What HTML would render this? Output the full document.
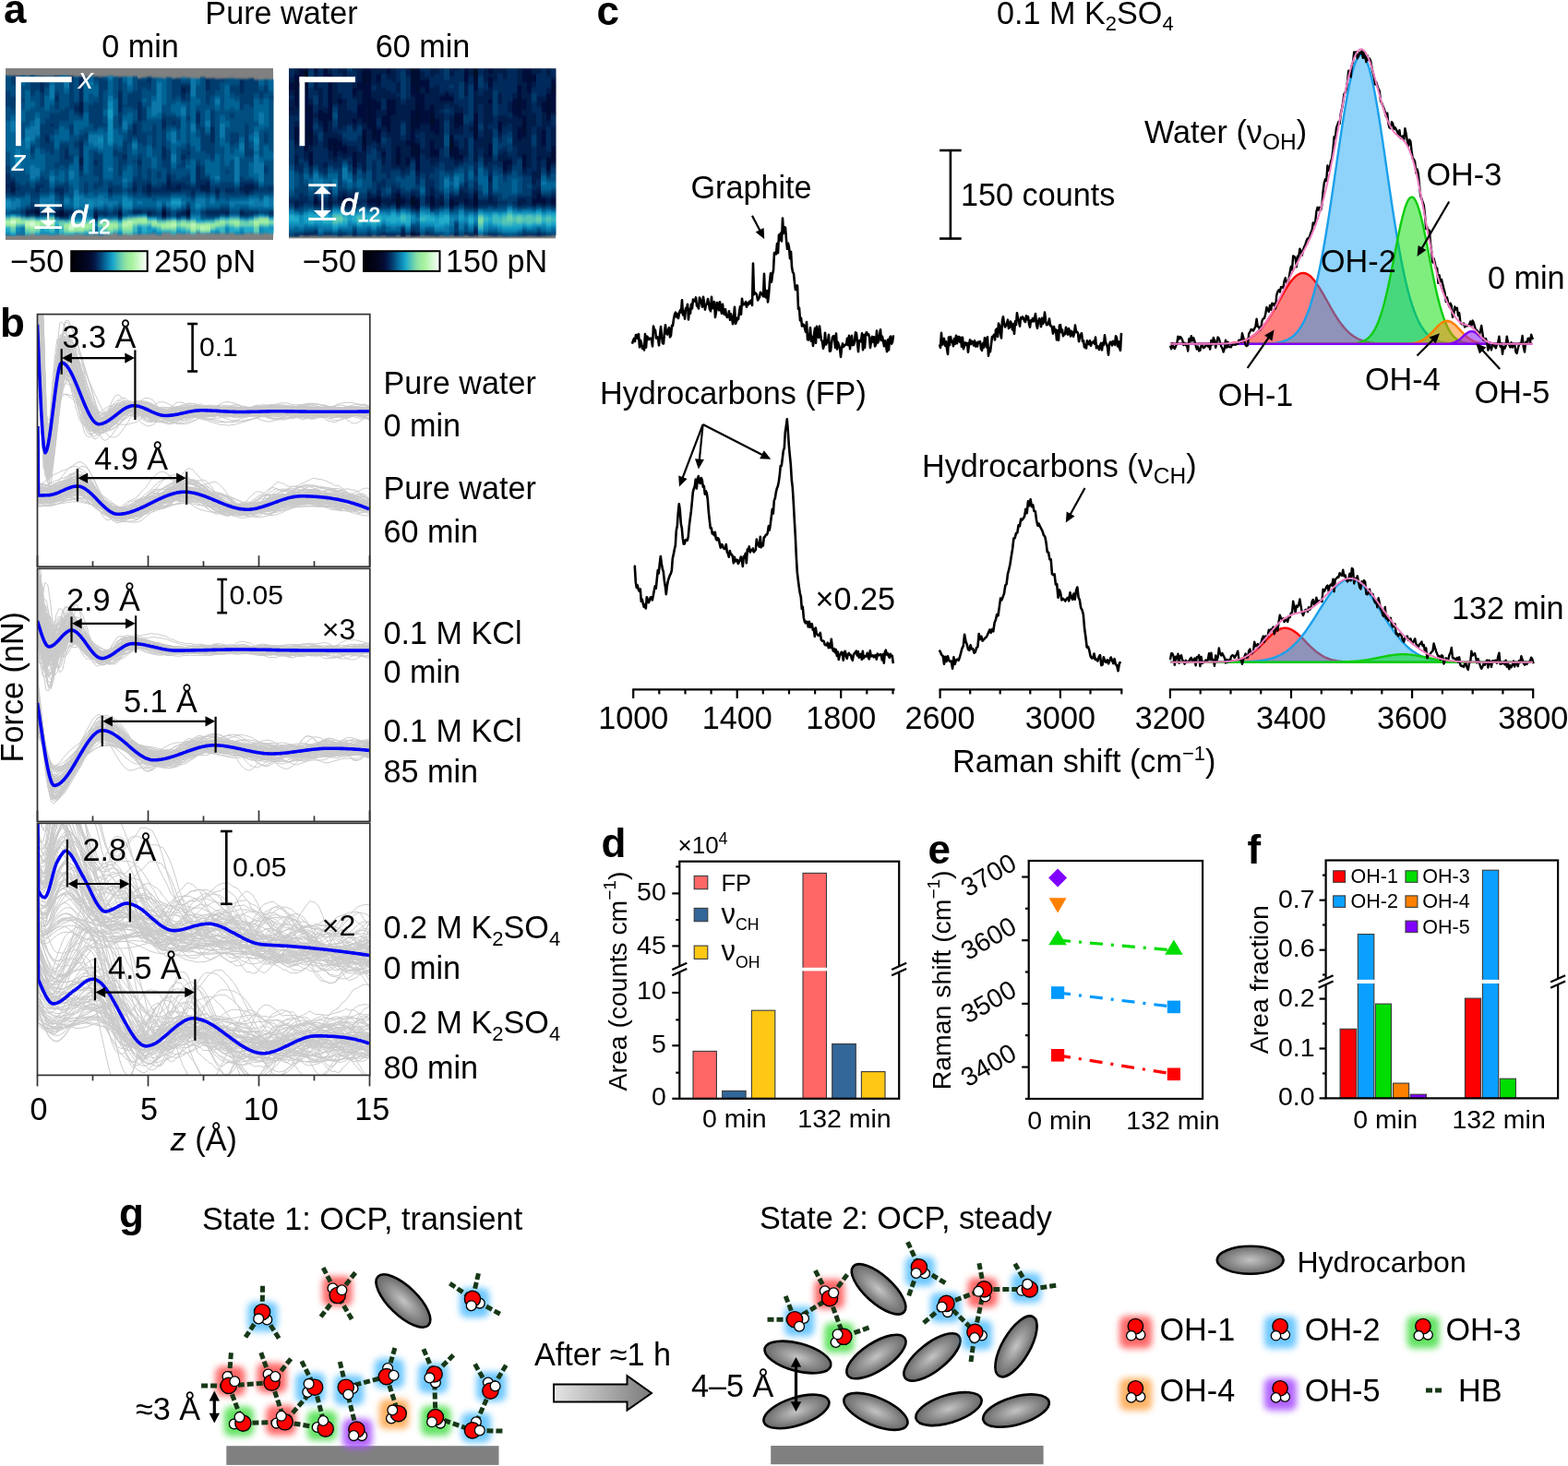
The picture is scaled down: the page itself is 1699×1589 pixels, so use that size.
<!DOCTYPE html>
<html><head><meta charset="utf-8"><title>Figure</title>
<style>html,body{margin:0;padding:0;background:#fff;width:1699px;height:1589px;overflow:hidden}svg{display:block}</style>
</head><body>
<svg width="1699" height="1589" viewBox="0 0 1699 1589" font-family="Liberation Sans, Arial, sans-serif">
<defs><filter id="hablur" x="0" y="0" width="1" height="1"><feGaussianBlur stdDeviation="0.5 1.3"/></filter>
<filter id="hbblur" x="0" y="0" width="1" height="1"><feGaussianBlur stdDeviation="0.5 1.3"/></filter>
<linearGradient id="cbar" x1="0" y1="0" x2="1" y2="0"><stop offset="0.000" stop-color="#000006"/><stop offset="0.050" stop-color="#00010c"/><stop offset="0.100" stop-color="#010313"/><stop offset="0.150" stop-color="#02051a"/><stop offset="0.200" stop-color="#030723"/><stop offset="0.250" stop-color="#040b31"/><stop offset="0.300" stop-color="#041644"/><stop offset="0.350" stop-color="#032d5f"/><stop offset="0.400" stop-color="#054a7c"/><stop offset="0.450" stop-color="#076b9d"/><stop offset="0.500" stop-color="#0e8ab7"/><stop offset="0.550" stop-color="#1aa8cd"/><stop offset="0.600" stop-color="#42bcbd"/><stop offset="0.650" stop-color="#67cfaf"/><stop offset="0.700" stop-color="#88e0a4"/><stop offset="0.750" stop-color="#9ceba0"/><stop offset="0.800" stop-color="#a8f2a0"/><stop offset="0.850" stop-color="#bef6b9"/><stop offset="0.900" stop-color="#d4fad2"/><stop offset="0.950" stop-color="#e9fce8"/><stop offset="1.000" stop-color="#ffffff"/></linearGradient>
<clipPath id="cb0"><rect x="40.5" y="340.6" width="360.3" height="273.6"/></clipPath>
<clipPath id="cb1"><rect x="40.5" y="616.3" width="360.3" height="274.1"/></clipPath>
<clipPath id="cb2"><rect x="40.5" y="892.3" width="360.3" height="273.1"/></clipPath>
<path id="gc0_0" d="M30 316.5l10.5 33 1 27 3 67 3 42.5 3 3 3 -14 3 -22 3 -24 3 -21 3 -12 3 -0.5 3 2 3 3.5 3 4.5 3 6 3 6.5 3 7.5 3 7 3 7 3 6 3 5 3 4 3 2.5 3 0.5 3 0 3 -1 3 -1 3 -1.5 3 -1.5 3 -2 3 -2.5 3 -2 3 -2 3 -1.5 3 -1.5 3 -0.5 3 0.5 3 1 3 1.5 3 1.5 3 1.5 3 1 3 0.5 3 1 3 0 3 0 3 -1 3 0 3 -0.5 3 -0.5 3 0.5 3 0 3 0 3 0 3 -0.5 3 -1 3 -1 3 -1 3 -1 3 -0.5 3 0 3 0.5 3 1 3 1 3 1 3 0 3 0 3 -0.5 3 -0.5 3 -0.5 3 -0.5 3 -0.5 3 0.5 3 0 3 0 3 0 3 0 3 0 3 0 3 0 3 -0.5 3 0 3 0 3 0 3 0 3 0 3 0 3 0.5 3 0 3 1 3 0 3 0.5 3 0 3 -0.5 3 -1 3 -0.5 3 -1 3 -1 3 -0.5 3 -0.5 3 0 3 0 3 0.5 3 0.5 3 0.5 3 0.5 3 0.5 3 0.5 3 0 3 0.5 3 0.5 3 0 3 0.5 3 1 3 0 3 0.5 3 0 3 -0.5 3 0 3 -0.5 3 -0.5 3 0 3 0 3 0.5 3 0.5 3 0 3 0 3 -0.5 3 -0.5 3 -1 3 -1 3 -0.5 3 0 3 0 3 0 3 0.5 3 0.5 3 0.5 3 0.5 3 0.5 3 0 3 0 3 0.5 3 0 3 -0.5 3 -0.5 3 0 3 -1 3 0 3 -0.5 3 -0.5 3 0.5 3 0 3 0 3 0 3 -0.5 3 0 3 0 3 -0.5 3 0 3 -0.5 3 0.5 3 0.5 3 1 3 1 3 1 3 1 3 1 3 0.5 3 0.5 3 0 3 0 3 0.5 3 -0.5" vector-effect="non-scaling-stroke"/>
<path id="gc0_1" d="M30 316l10.5 42.5 1 17.5 3 68 3 43 3 2.5 3 -14 3 -22 3 -24.5 3 -21.5 3 -12.5 3 -1 3 2 3 4 3 4.5 3 6 3 7 3 7 3 7.5 3 7.5 3 7 3 6 3 4 3 2 3 0 3 -1.5 3 -2 3 -2 3 -2 3 -1.5 3 -1.5 3 -1 3 -1.5 3 -1.5 3 -1.5 3 -1 3 -0.5 3 0.5 3 0.5 3 1.5 3 1.5 3 2 3 1 3 1.5 3 0.5 3 0 3 0 3 -1 3 -1 3 -1 3 -1 3 -0.5 3 -1 3 -0.5 3 -0.5 3 0 3 0 3 -0.5 3 0.5 3 0 3 0 3 -0.5 3 0 3 0 3 0 3 -0.5 3 0.5 3 0 3 0.5 3 0.5 3 0.5 3 0 3 0 3 0.5 3 0 3 -0.5 3 -0.5 3 -0.5 3 0 3 -0.5 3 0 3 -0.5 3 0.5 3 0 3 -0.5 3 0 3 -0.5 3 0.5 3 0 3 0.5 3 0.5 3 0.5 3 1 3 0.5 3 0.5 3 0.5 3 0 3 0.5 3 0.5 3 0 3 0 3 0 3 0 3 -0.5 3 -0.5 3 -1 3 -1 3 -1 3 -0.5 3 -0.5 3 0 3 0 3 0 3 1 3 0.5 3 0.5 3 0 3 0 3 0 3 -0.5 3 0 3 0 3 -0.5 3 0 3 0 3 0 3 0.5 3 0.5 3 1.5 3 1.5 3 1.5 3 1 3 1 3 0 3 -0.5 3 -1 3 -1 3 -1 3 -1.5 3 -0.5 3 0 3 -0.5 3 1 3 0.5 3 0.5 3 0.5 3 0.5 3 0 3 0 3 0 3 0 3 0 3 -0.5 3 -0.5 3 0 3 -0.5 3 -0.5 3 -0.5 3 0 3 -0.5 3 0.5 3 0.5 3 1 3 0.5 3 0.5 3 0.5 3 0.5 3 -0.5 3 0 3 -1 3 0 3 -0.5 3 -0.5 3 -0.5 3 -0.5" vector-effect="non-scaling-stroke"/>
<path id="gc0_2" d="M30 315l10.5 54.5 1 5.5 3 67.5 3 43 3 2.5 3 -14.5 3 -22 3 -24.5 3 -21 3 -12 3 -0.5 3 3 3 4 3 5.5 3 6.5 3 6.5 3 7.5 3 7.5 3 7.5 3 7 3 6 3 5 3 3 3 0.5 3 -1 3 -1.5 3 -2.5 3 -2 3 -2.5 3 -2.5 3 -1.5 3 -2 3 -2 3 -1.5 3 -1.5 3 -1 3 -0.5 3 0 3 0.5 3 0.5 3 0.5 3 1 3 1 3 0.5 3 1 3 0.5 3 1 3 0.5 3 0.5 3 0 3 0 3 -0.5 3 -1 3 -1 3 -1 3 -1 3 -0.5 3 0 3 0.5 3 0 3 1 3 0.5 3 0 3 0.5 3 0 3 0 3 -0.5 3 0 3 -0.5 3 0 3 -0.5 3 0.5 3 0 3 0 3 0.5 3 0.5 3 1 3 0.5 3 0 3 0 3 0 3 0 3 -0.5 3 -0.5 3 0 3 -0.5 3 0 3 0 3 0 3 0 3 0.5 3 0 3 0 3 0.5 3 -0.5 3 0 3 0 3 0 3 -0.5 3 -0.5 3 0 3 -0.5 3 -0.5 3 0 3 0 3 0 3 -0.5 3 0 3 0.5 3 0 3 0 3 0 3 0 3 0 3 0.5 3 0.5 3 1 3 0.5 3 1 3 0.5 3 0.5 3 0 3 0 3 -0.5 3 0 3 -0.5 3 -0.5 3 -1 3 -0.5 3 -1 3 -1 3 -1 3 -0.5 3 0 3 0 3 0 3 0.5 3 0.5 3 0.5 3 0.5 3 0.5 3 0 3 0 3 0.5 3 0 3 0 3 -0.5 3 0 3 0 3 0 3 0.5 3 0 3 0.5 3 1 3 0 3 0.5 3 0.5 3 -0.5 3 0 3 0 3 0 3 -0.5 3 0 3 0 3 -0.5 3 0 3 -0.5 3 -0.5 3 -0.5 3 0 3 0.5 3 0 3 0.5 3 0.5" vector-effect="non-scaling-stroke"/>
<path id="gc0_3" d="M30 318.5l10.5 51.5 1 8.5 3 68 3 43.5 3 3.5 3 -14 3 -22 3 -24.5 3 -22 3 -13.5 3 -2 3 1 3 3 3 5 3 6 3 7.5 3 7.5 3 8 3 7.5 3 6.5 3 5.5 3 4.5 3 2.5 3 0.5 3 -0.5 3 -1.5 3 -1.5 3 -2.5 3 -2.5 3 -2 3 -2 3 -1 3 -1 3 -1 3 -0.5 3 -0.5 3 -1 3 -0.5 3 -1 3 0 3 0 3 1 3 1 3 1 3 1.5 3 1 3 1 3 0.5 3 0.5 3 -0.5 3 0 3 -0.5 3 -1 3 -1 3 -1 3 -0.5 3 -0.5 3 0 3 -0.5 3 0 3 0 3 0 3 0.5 3 0 3 0.5 3 1 3 0.5 3 0.5 3 0 3 0 3 -0.5 3 0 3 0 3 0 3 0.5 3 0.5 3 1 3 0.5 3 0.5 3 0 3 -0.5 3 -1 3 -1 3 -1 3 -1.5 3 -1 3 -1 3 -0.5 3 -0.5 3 0 3 0 3 0.5 3 1 3 1 3 0.5 3 0.5 3 1 3 0 3 0.5 3 0 3 0.5 3 0 3 0 3 0.5 3 0.5 3 0 3 0 3 0 3 0 3 0 3 -0.5 3 0 3 -0.5 3 0 3 0 3 0.5 3 1 3 1 3 1 3 0.5 3 0 3 -0.5 3 -1 3 -1.5 3 -2 3 -1.5 3 -1 3 -1 3 -0.5 3 -0.5 3 0.5 3 0.5 3 0 3 0.5 3 1 3 0.5 3 1 3 1 3 0.5 3 0.5 3 1 3 0 3 -0.5 3 -0.5 3 -0.5 3 -1 3 -1 3 -1 3 -1 3 0 3 0.5 3 1 3 1 3 1 3 0.5 3 0.5 3 -0.5 3 0 3 -0.5 3 0 3 0.5 3 0.5 3 0.5 3 0.5 3 0 3 0 3 -0.5 3 -0.5 3 0 3 0 3 1 3 1 3 1 3 0.5" vector-effect="non-scaling-stroke"/>
<path id="gc0_4" d="M30 316l10.5 56.5 1 3.5 3 67 3 42 3 2.5 3 -14.5 3 -22 3 -24.5 3 -20.5 3 -12.5 3 0 3 2.5 3 4 3 5 3 6 3 7 3 7 3 7.5 3 7.5 3 7 3 6 3 5 3 3 3 1 3 -0.5 3 -1 3 -1.5 3 -2.5 3 -2.5 3 -2.5 3 -3 3 -3 3 -2.5 3 -2 3 -1 3 -0.5 3 0 3 0.5 3 0.5 3 1 3 1.5 3 1 3 1 3 1 3 1 3 0 3 0 3 -0.5 3 0 3 0 3 0 3 0.5 3 0.5 3 0 3 0.5 3 0 3 0 3 0 3 0 3 0.5 3 0 3 0.5 3 0 3 0 3 0 3 -0.5 3 0 3 -0.5 3 -1 3 -0.5 3 -0.5 3 -0.5 3 0 3 -0.5 3 0 3 -0.5 3 0 3 0 3 -0.5 3 0 3 0 3 -0.5 3 0 3 0.5 3 0.5 3 1 3 1 3 1 3 1.5 3 1 3 0.5 3 0.5 3 0 3 0 3 0 3 0 3 -0.5 3 -0.5 3 0 3 -0.5 3 0 3 0 3 0 3 0.5 3 0 3 0.5 3 0 3 -0.5 3 -0.5 3 -0.5 3 -1 3 -0.5 3 -1 3 0 3 0.5 3 0.5 3 0.5 3 0.5 3 0 3 0 3 0 3 -0.5 3 0 3 0 3 0.5 3 0.5 3 0.5 3 0.5 3 0.5 3 0.5 3 -0.5 3 0 3 0 3 -0.5 3 0 3 -0.5 3 0 3 -0.5 3 0 3 -0.5 3 -0.5 3 -1 3 -0.5 3 -0.5 3 0 3 -0.5 3 0.5 3 0 3 0 3 0 3 -0.5 3 0 3 -0.5 3 -0.5 3 0 3 -0.5 3 0 3 0 3 0 3 0 3 0 3 0.5 3 0 3 0 3 0.5 3 0 3 0 3 0.5 3 0 3 -0.5 3 0.5 3 0 3 0 3 0.5" vector-effect="non-scaling-stroke"/>
<path id="gc0_5" d="M30 310.5l10.5 36.5 1 23.5 3 68 3 43.5 3 4 3 -13 3 -20.5 3 -23.5 3 -20.5 3 -12 3 -1 3 2 3 3.5 3 5 3 6 3 7 3 8 3 8 3 8 3 7 3 6 3 4.5 3 2.5 3 0 3 -1.5 3 -2.5 3 -2.5 3 -3 3 -3.5 3 -2.5 3 -2 3 -2 3 -1 3 -0.5 3 -0.5 3 0.5 3 0 3 0.5 3 0.5 3 0.5 3 1 3 1 3 1 3 1 3 1 3 0.5 3 0.5 3 0 3 -0.5 3 -1 3 -0.5 3 -1 3 -0.5 3 -0.5 3 -1 3 -0.5 3 -0.5 3 -0.5 3 0.5 3 0 3 1 3 0.5 3 1 3 1 3 1 3 1 3 0.5 3 0.5 3 1 3 0.5 3 0.5 3 0.5 3 0.5 3 0.5 3 0 3 0 3 0.5 3 -0.5 3 0 3 -0.5 3 -0.5 3 -0.5 3 -0.5 3 -0.5 3 -0.5 3 -0.5 3 -1 3 -0.5 3 -1 3 -1 3 -0.5 3 -0.5 3 -0.5 3 0 3 0 3 0.5 3 0 3 0.5 3 0 3 0.5 3 0 3 -0.5 3 -0.5 3 -0.5 3 0 3 0 3 -0.5 3 0.5 3 0.5 3 1 3 0.5 3 0.5 3 1 3 0 3 0 3 0 3 0.5 3 -0.5 3 0 3 0 3 -0.5 3 0 3 -0.5 3 -0.5 3 -0.5 3 -1 3 -0.5 3 -1 3 -0.5 3 -0.5 3 0 3 0.5 3 0.5 3 1 3 1 3 0.5 3 1 3 0 3 0 3 -0.5 3 -0.5 3 -0.5 3 0 3 0 3 0 3 0.5 3 0.5 3 0.5 3 0.5 3 0 3 -0.5 3 -0.5 3 -1 3 -0.5 3 0 3 -0.5 3 0.5 3 0 3 0.5 3 1 3 0 3 0.5 3 0 3 0 3 -0.5 3 -0.5 3 -0.5 3 0.5 3 0 3 0.5 3 0.5 3 0.5 3 0.5 3 0.5" vector-effect="non-scaling-stroke"/>
<path id="gc0_6" d="M30 317l10.5 45.5 1 14.5 3 68.5 3 44 3 3.5 3 -13 3 -22 3 -24.5 3 -21.5 3 -13 3 -2 3 1.5 3 2.5 3 4.5 3 5.5 3 6.5 3 7.5 3 8 3 7.5 3 7 3 6 3 5.5 3 2.5 3 1 3 -1 3 -2 3 -2 3 -2.5 3 -3 3 -2.5 3 -2 3 -2 3 -1 3 -1.5 3 -0.5 3 -0.5 3 0 3 0 3 0.5 3 0.5 3 0.5 3 1 3 1 3 1 3 1.5 3 1 3 1.5 3 1.5 3 1 3 1 3 0.5 3 -0.5 3 -0.5 3 -1 3 -2 3 -1.5 3 -2 3 -2 3 -1.5 3 -1 3 -0.5 3 -0.5 3 0.5 3 0.5 3 1 3 0.5 3 1 3 0.5 3 0 3 0 3 0.5 3 0 3 0.5 3 1 3 0.5 3 0 3 -0.5 3 -0.5 3 -0.5 3 -1 3 -1 3 -0.5 3 -1 3 0 3 -0.5 3 -0.5 3 -1 3 0 3 0 3 0 3 0 3 0.5 3 0.5 3 0.5 3 0 3 0.5 3 0 3 0.5 3 0 3 1 3 0 3 0.5 3 0.5 3 0 3 0.5 3 0 3 0.5 3 0 3 0 3 0.5 3 0 3 -0.5 3 -0.5 3 -0.5 3 -1 3 -0.5 3 -0.5 3 0.5 3 0 3 1 3 0.5 3 0.5 3 0 3 0 3 -0.5 3 0 3 0 3 0.5 3 0.5 3 1 3 1 3 1.5 3 0.5 3 0.5 3 0.5 3 0 3 -0.5 3 -1 3 -1 3 -1 3 -1 3 -1 3 -1 3 -0.5 3 -0.5 3 -0.5 3 0 3 0 3 0.5 3 0.5 3 0.5 3 1 3 1 3 1 3 0.5 3 0.5 3 0 3 0 3 -0.5 3 -0.5 3 -0.5 3 -0.5 3 0 3 0 3 0.5 3 0.5 3 1 3 1 3 0.5 3 0 3 0 3 -0.5 3 -1 3 -1" vector-effect="non-scaling-stroke"/>
<path id="gc0_7" d="M30 314l10.5 47.5 1 12.5 3 66.5 3 42.5 3 2.5 3 -14 3 -21.5 3 -24 3 -20.5 3 -12 3 -0.5 3 2 3 4.5 3 5.5 3 6.5 3 7 3 7 3 6.5 3 7 3 5.5 3 4.5 3 4 3 2 3 1 3 0.5 3 0 3 0 3 -1 3 -0.5 3 -1.5 3 -2.5 3 -3.5 3 -3 3 -3.5 3 -2.5 3 -2 3 -0.5 3 0.5 3 1.5 3 1.5 3 2.5 3 1.5 3 1.5 3 1.5 3 1 3 1 3 1 3 0.5 3 1 3 0.5 3 0.5 3 -0.5 3 -0.5 3 -0.5 3 -1 3 -1 3 -1 3 -0.5 3 -0.5 3 -1 3 -1 3 -1 3 -1 3 -1.5 3 -0.5 3 0 3 0 3 0.5 3 1 3 1 3 1 3 1 3 1 3 1 3 0.5 3 0.5 3 0.5 3 0.5 3 0 3 0 3 -0.5 3 -1 3 -0.5 3 -1 3 -0.5 3 -0.5 3 -0.5 3 0.5 3 0.5 3 0.5 3 0.5 3 1 3 0.5 3 0.5 3 -0.5 3 -0.5 3 -1 3 -1.5 3 -1 3 -1 3 -0.5 3 -0.5 3 0.5 3 0.5 3 0.5 3 0.5 3 0.5 3 0 3 -0.5 3 -0.5 3 -0.5 3 -1 3 0 3 0 3 0 3 0.5 3 0.5 3 0.5 3 0.5 3 1 3 0 3 1 3 0.5 3 1 3 0.5 3 0 3 0 3 0 3 -0.5 3 -0.5 3 -0.5 3 -1 3 -0.5 3 -0.5 3 -0.5 3 -0.5 3 -0.5 3 0 3 0.5 3 0 3 0.5 3 0.5 3 0.5 3 0 3 0 3 0 3 -0.5 3 0 3 0 3 0 3 0 3 0.5 3 0 3 0 3 0 3 -0.5 3 -0.5 3 -1 3 -1 3 -1 3 -0.5 3 -0.5 3 0.5 3 0.5 3 1.5 3 1.5 3 1.5 3 1.5 3 1.5 3 1 3 1 3 1 3 1 3 0.5" vector-effect="non-scaling-stroke"/>
<path id="gc0_8" d="M30 312l10.5 39 1 21 3 67.5 3 42.5 3 2.5 3 -14.5 3 -22 3 -24 3 -21 3 -11.5 3 -0.5 3 3 3 4 3 5 3 6 3 6.5 3 6.5 3 6.5 3 7 3 7 3 6 3 5.5 3 4 3 2.5 3 0.5 3 0 3 -1 3 -2.5 3 -2.5 3 -3 3 -3.5 3 -3.5 3 -3 3 -3 3 -1.5 3 -0.5 3 0.5 3 1 3 2.5 3 2.5 3 2.5 3 2 3 1.5 3 2 3 1 3 0.5 3 0 3 0 3 -0.5 3 -0.5 3 -1 3 -1 3 -1 3 -1 3 -1.5 3 -1.5 3 -1.5 3 -1.5 3 -1 3 -1 3 -0.5 3 0 3 0.5 3 0.5 3 1 3 1.5 3 1 3 1.5 3 1.5 3 1 3 1.5 3 1 3 0.5 3 0.5 3 0 3 -0.5 3 -0.5 3 -1 3 -1 3 -1 3 -1 3 -1 3 -0.5 3 0 3 -0.5 3 0 3 0 3 0.5 3 0 3 -0.5 3 0 3 0 3 -0.5 3 -0.5 3 -0.5 3 0 3 0 3 0 3 -0.5 3 -0.5 3 -0.5 3 -0.5 3 0 3 0 3 0 3 1 3 1 3 1 3 0.5 3 0.5 3 0.5 3 0 3 0 3 -0.5 3 -0.5 3 -0.5 3 -0.5 3 -0.5 3 -0.5 3 -1 3 0 3 0 3 0.5 3 0.5 3 1 3 1 3 1.5 3 1 3 1 3 0.5 3 0.5 3 0 3 0 3 0 3 0 3 0 3 -0.5 3 0 3 -1 3 -1 3 -1 3 -0.5 3 0 3 0 3 1 3 1 3 1 3 0.5 3 0 3 -0.5 3 -1 3 -1 3 -1.5 3 -0.5 3 -1 3 -0.5 3 -0.5 3 0 3 1 3 0.5 3 1 3 1.5 3 1 3 1.5 3 1 3 0.5 3 0 3 -0.5 3 0 3 0 3 0 3 -0.5 3 0.5 3 -0.5" vector-effect="non-scaling-stroke"/>
<path id="gc0_9" d="M30 316l10.5 38.5 1 21.5 3 68 3 44 3 3.5 3 -13.5 3 -21.5 3 -24.5 3 -21.5 3 -13.5 3 -2.5 3 0.5 3 2.5 3 4.5 3 5.5 3 6 3 7.5 3 7.5 3 7 3 6.5 3 5.5 3 4.5 3 2.5 3 0.5 3 -1 3 -2 3 -1 3 -1.5 3 -1.5 3 -1 3 -1 3 -1 3 -1 3 -1 3 -1 3 -1 3 0 3 0.5 3 1.5 3 1 3 1.5 3 1.5 3 1 3 0.5 3 0 3 0 3 0 3 0 3 0 3 0.5 3 0 3 0.5 3 0 3 0 3 -0.5 3 -0.5 3 -0.5 3 -1 3 -0.5 3 -1 3 -0.5 3 -0.5 3 0 3 -0.5 3 0 3 0 3 0.5 3 1 3 0.5 3 1 3 0.5 3 0.5 3 0 3 0 3 -1 3 -0.5 3 -1 3 -1 3 -1 3 -1 3 -0.5 3 -0.5 3 0 3 -0.5 3 0.5 3 0 3 0.5 3 0.5 3 1 3 0.5 3 0.5 3 0 3 0 3 -0.5 3 -1 3 -1 3 -1 3 -0.5 3 0.5 3 1 3 1.5 3 1.5 3 1.5 3 1 3 0.5 3 0.5 3 -0.5 3 -0.5 3 -0.5 3 -0.5 3 -0.5 3 -0.5 3 -0.5 3 0 3 0 3 0.5 3 0.5 3 0.5 3 1 3 1 3 1 3 0 3 1 3 0 3 0 3 0 3 -0.5 3 -0.5 3 -0.5 3 -0.5 3 -1 3 -1.5 3 -1 3 -1 3 -1 3 0 3 0 3 1 3 0.5 3 0.5 3 0.5 3 0 3 -0.5 3 -0.5 3 0 3 -1 3 0 3 -0.5 3 0 3 0 3 0 3 1 3 0.5 3 1 3 0.5 3 0.5 3 0.5 3 0 3 0 3 -1 3 -0.5 3 -1 3 -1 3 -0.5 3 -1 3 -0.5 3 -0.5 3 0 3 0 3 0 3 0.5 3 1 3 1 3 1.5" vector-effect="non-scaling-stroke"/>
<path id="gc0_10" d="M30 317l10.5 43 1 17 3 67.5 3 42 3 2.5 3 -14.5 3 -22.5 3 -24.5 3 -21.5 3 -12.5 3 -1 3 2 3 3.5 3 5.5 3 7 3 7.5 3 8.5 3 8.5 3 7.5 3 7 3 6 3 4 3 2 3 0 3 -1 3 -2 3 -2.5 3 -2.5 3 -2.5 3 -2.5 3 -2.5 3 -1.5 3 -2 3 -1 3 -1 3 0 3 0 3 0.5 3 0.5 3 1 3 1 3 1 3 1.5 3 0.5 3 0.5 3 0.5 3 0 3 0 3 0 3 0.5 3 1 3 0.5 3 0 3 -0.5 3 -1 3 -1 3 -1 3 -1 3 -0.5 3 0 3 0 3 0 3 0 3 -0.5 3 -1 3 -1 3 -0.5 3 -0.5 3 0 3 1 3 0.5 3 1 3 0.5 3 0.5 3 0 3 0 3 -0.5 3 0 3 0 3 0 3 0 3 1 3 0.5 3 1 3 0.5 3 0 3 0.5 3 0 3 -0.5 3 0 3 -0.5 3 -0.5 3 0 3 -0.5 3 -0.5 3 -1 3 0 3 -0.5 3 0.5 3 0 3 0 3 1 3 0.5 3 0.5 3 0.5 3 0 3 0 3 0 3 -0.5 3 -0.5 3 0 3 -1 3 -0.5 3 0 3 -0.5 3 0 3 0.5 3 0 3 0.5 3 1 3 0.5 3 0.5 3 1 3 0 3 0 3 0.5 3 -0.5 3 0 3 -0.5 3 0 3 -0.5 3 0 3 0 3 0 3 0 3 -0.5 3 0 3 -0.5 3 -0.5 3 0 3 -1 3 -0.5 3 0 3 -0.5 3 0.5 3 0.5 3 0.5 3 0.5 3 0 3 0.5 3 0 3 -0.5 3 0.5 3 0 3 0.5 3 0 3 0.5 3 -0.5 3 0 3 -0.5 3 -0.5 3 -1 3 -1 3 -0.5 3 0 3 -0.5 3 0 3 0 3 -0.5 3 0 3 0 3 0 3 0.5 3 0.5" vector-effect="non-scaling-stroke"/>
<path id="gc0_11" d="M30 318l10.5 55.5 1 4.5 3 67 3 42 3 2 3 -14.5 3 -22.5 3 -25 3 -22 3 -13 3 -1 3 1.5 3 4 3 5 3 7 3 7.5 3 8 3 8 3 8 3 7 3 6 3 4.5 3 3 3 0.5 3 -1 3 -1.5 3 -2 3 -2.5 3 -2.5 3 -2.5 3 -2.5 3 -2.5 3 -2 3 -1 3 -1.5 3 -0.5 3 0.5 3 0.5 3 1.5 3 1 3 1.5 3 1.5 3 1.5 3 1 3 1.5 3 1 3 1 3 1 3 0.5 3 0.5 3 0.5 3 0 3 -0.5 3 -0.5 3 -0.5 3 -0.5 3 -0.5 3 -1 3 -1 3 -1 3 -0.5 3 -1 3 -0.5 3 -0.5 3 -0.5 3 0.5 3 0 3 0.5 3 0.5 3 0 3 0.5 3 0 3 0 3 0 3 0 3 0 3 0.5 3 -0.5 3 -0.5 3 -0.5 3 -0.5 3 -0.5 3 -0.5 3 0 3 0.5 3 1 3 0.5 3 0.5 3 0.5 3 0.5 3 1 3 0 3 0 3 -0.5 3 -0.5 3 -1 3 -1 3 -1 3 -0.5 3 0 3 0 3 0.5 3 0.5 3 0 3 0.5 3 0 3 -0.5 3 -0.5 3 -1 3 -0.5 3 -1 3 0.5 3 0 3 1 3 1 3 1.5 3 1 3 0.5 3 0.5 3 -0.5 3 -0.5 3 -0.5 3 -0.5 3 0 3 0 3 0.5 3 0 3 0 3 0 3 0 3 0 3 0.5 3 1 3 1 3 1.5 3 1.5 3 1 3 1 3 0 3 -0.5 3 -1 3 -1 3 -1.5 3 -1.5 3 -1.5 3 -1 3 -0.5 3 -0.5 3 0 3 -0.5 3 0 3 0 3 -0.5 3 -0.5 3 -0.5 3 0 3 -0.5 3 -0.5 3 0 3 -0.5 3 0 3 0 3 0.5 3 0.5 3 1 3 0.5 3 0.5 3 1 3 0.5 3 0.5 3 0.5 3 0 3 0.5 3 0.5" vector-effect="non-scaling-stroke"/>
<path id="gc0_12" d="M30 314.5l10.5 45 1 15 3 68 3 43 3 3 3 -13.5 3 -22 3 -24.5 3 -21.5 3 -12.5 3 -1.5 3 2 3 3 3 5 3 6 3 6.5 3 7.5 3 7 3 6.5 3 6.5 3 5 3 4 3 3 3 1 3 0.5 3 0 3 -0.5 3 -0.5 3 -1.5 3 -1.5 3 -2.5 3 -2 3 -3 3 -2.5 3 -2 3 -1.5 3 -1 3 0.5 3 0.5 3 1.5 3 2 3 2 3 2.5 3 2.5 3 1.5 3 2 3 0.5 3 0.5 3 -1 3 -0.5 3 -1.5 3 -1 3 -1.5 3 -1 3 -0.5 3 0 3 -0.5 3 -0.5 3 0 3 0 3 0.5 3 0.5 3 0 3 1 3 1 3 0.5 3 1 3 0.5 3 0.5 3 0.5 3 0 3 -0.5 3 -0.5 3 -1.5 3 -1 3 -1.5 3 -1.5 3 -0.5 3 -0.5 3 0 3 0.5 3 0.5 3 0.5 3 1 3 0 3 0.5 3 0 3 0 3 0.5 3 0 3 0 3 0 3 -0.5 3 0 3 -1 3 -0.5 3 -0.5 3 -0.5 3 0 3 0 3 0.5 3 0 3 0.5 3 -0.5 3 -0.5 3 -0.5 3 -1 3 -0.5 3 0 3 0 3 0.5 3 0 3 0.5 3 0.5 3 0 3 0.5 3 1 3 0 3 0.5 3 0.5 3 0 3 0 3 0 3 -0.5 3 0 3 0 3 0 3 0 3 0 3 0 3 -0.5 3 -1 3 -1.5 3 -1 3 -0.5 3 0 3 0 3 1 3 1.5 3 1.5 3 1 3 1 3 1 3 0 3 0 3 0 3 -0.5 3 0 3 -0.5 3 -0.5 3 -0.5 3 -1 3 -1 3 -0.5 3 -1 3 -0.5 3 -1 3 0 3 0 3 0.5 3 1 3 1 3 1 3 1.5 3 1.5 3 1 3 0.5 3 0.5 3 -0.5 3 -0.5 3 -0.5 3 -1 3 -1 3 -0.5" vector-effect="non-scaling-stroke"/>
<path id="gc0_13" d="M30 319l10.5 58.5 1 1.5 3 66.5 3 42 3 1.5 3 -14.5 3 -22.5 3 -24 3 -20.5 3 -11.5 3 -0.5 3 2.5 3 4 3 5.5 3 6 3 7 3 7 3 7.5 3 7.5 3 6.5 3 5.5 3 4 3 2 3 0 3 -1.5 3 -1.5 3 -2.5 3 -2.5 3 -2.5 3 -3 3 -2 3 -2 3 -1.5 3 -1.5 3 -0.5 3 0 3 0.5 3 1 3 1.5 3 1 3 1.5 3 1.5 3 2 3 1.5 3 2 3 1 3 1 3 0.5 3 0 3 -0.5 3 -1 3 -1 3 -1 3 -0.5 3 -1 3 -0.5 3 0 3 0 3 0.5 3 -0.5 3 0 3 0 3 -0.5 3 0 3 -0.5 3 0 3 0 3 0 3 0 3 0 3 0.5 3 0 3 0 3 0 3 -0.5 3 0 3 0 3 0 3 0 3 0 3 -0.5 3 -0.5 3 -0.5 3 -1 3 -1 3 -1 3 0 3 -0.5 3 0 3 0 3 0 3 0 3 0.5 3 1 3 0.5 3 1 3 1 3 1 3 1 3 0.5 3 0 3 0 3 -1 3 -0.5 3 -1 3 -1 3 0 3 0 3 0.5 3 0.5 3 0.5 3 0.5 3 -0.5 3 -0.5 3 -1.5 3 -1 3 -1 3 0 3 0 3 0.5 3 1.5 3 1.5 3 1.5 3 1 3 1 3 0.5 3 0.5 3 0 3 0 3 0 3 -0.5 3 -0.5 3 -0.5 3 0 3 -1 3 -0.5 3 -1 3 -1 3 -0.5 3 -0.5 3 0 3 0 3 1 3 0.5 3 1.5 3 1 3 1 3 0.5 3 0 3 -0.5 3 -0.5 3 -1 3 -0.5 3 -0.5 3 -0.5 3 -0.5 3 0 3 0.5 3 0 3 0 3 0 3 -0.5 3 -1 3 -1 3 -0.5 3 -1 3 -0.5 3 0 3 0 3 0.5 3 0.5 3 1 3 0.5 3 1.5" vector-effect="non-scaling-stroke"/>
<path id="gc1_0" d="M30 479l10.5 32.5 1 27.5 3 -1 3 -1 3 -1 3 -1 3 -1.5 3 -1 3 -0.5 3 -1 3 -0.5 3 -0.5 3 -1 3 -1 3 -1 3 -1 3 0 3 1 3 1.5 3 2.5 3 3 3 3 3 3.5 3 3 3 3.5 3 2.5 3 2.5 3 2 3 1.5 3 1 3 0.5 3 0 3 -0.5 3 -0.5 3 -1.5 3 -1.5 3 -2 3 -2 3 -2.5 3 -2 3 -1.5 3 -1.5 3 -0.5 3 0 3 0 3 0 3 0 3 0 3 -1.5 3 -1.5 3 -2 3 -2.5 3 -2 3 -1.5 3 -0.5 3 0.5 3 2 3 1.5 3 2 3 2 3 1.5 3 1.5 3 1.5 3 1 3 1.5 3 1.5 3 1 3 1.5 3 1.5 3 1.5 3 1.5 3 1 3 1 3 0.5 3 0 3 -1 3 -0.5 3 -1.5 3 -1.5 3 -2 3 -2.5 3 -3 3 -2 3 -2 3 -1.5 3 -1 3 0.5 3 0.5 3 1 3 0.5 3 0 3 0 3 -0.5 3 -1 3 -0.5 3 -1 3 -0.5 3 -1 3 0 3 0.5 3 0 3 0.5 3 0.5 3 1 3 0.5 3 1 3 0 3 1 3 1 3 1 3 2 3 1 3 1.5 3 1 3 1 3 1 3 1 3 0.5 3 0.5 3 0.5 3 0 3 -0.5 3 -1.5 3 -0.5 3 -0.5 3 0 3 1.5 3 1 3 1.5 3 1 3 1 3 0 3 0 3 0 3 -1 3 -0.5 3 -1 3 -1 3 -1 3 -1 3 0 3 0.5 3 1 3 1 3 1 3 1 3 0.5 3 0 3 0 3 -1 3 -1.5 3 -1 3 -2 3 -1.5 3 -1 3 -0.5 3 1 3 1 3 2.5 3 2 3 1.5 3 1 3 0 3 0 3 -1.5 3 -1.5 3 -1 3 -1 3 -0.5 3 -1 3 0 3 0 3 0.5 3 0" vector-effect="non-scaling-stroke"/>
<path id="gc1_1" d="M30 481l10.5 58.5 1 1.5 3 0.5 3 1 3 0.5 3 0 3 -0.5 3 -1.5 3 -2 3 -2.5 3 -2 3 -2.5 3 -1.5 3 -1.5 3 -1.5 3 -0.5 3 0 3 1 3 1.5 3 2.5 3 3.5 3 3 3 3.5 3 3 3 2.5 3 2.5 3 2 3 1.5 3 1 3 0.5 3 0 3 0 3 -1 3 -1 3 -1.5 3 -1 3 -1 3 -1 3 -0.5 3 -1 3 -1 3 -0.5 3 -1.5 3 -1.5 3 -1.5 3 -1.5 3 -1 3 -1 3 -1.5 3 -1 3 -0.5 3 -1 3 0 3 0 3 0.5 3 0.5 3 0.5 3 0.5 3 0 3 0.5 3 0 3 0 3 0.5 3 1 3 1.5 3 1.5 3 2.5 3 2 3 2.5 3 2 3 1 3 1.5 3 0 3 0.5 3 0 3 0.5 3 0 3 0.5 3 0 3 0 3 0 3 -1 3 -1.5 3 -1.5 3 -2 3 -1.5 3 -1 3 -1.5 3 -1.5 3 -1.5 3 -1 3 -1.5 3 -1.5 3 -1.5 3 -1.5 3 0 3 0.5 3 1 3 1 3 1.5 3 1 3 0.5 3 0 3 0 3 -0.5 3 0 3 1.5 3 2 3 2 3 2 3 2 3 1 3 0.5 3 0 3 -1 3 -1 3 -1 3 -1 3 0 3 0 3 1 3 1 3 0.5 3 1 3 2 3 1 3 1 3 1 3 0.5 3 0.5 3 0.5 3 0 3 0.5 3 0.5 3 0 3 0 3 0.5 3 -0.5 3 0.5 3 0.5 3 0.5 3 0.5 3 0 3 0.5 3 -0.5 3 -0.5 3 -1.5 3 -1.5 3 -2 3 -1.5 3 -1 3 -1 3 -1 3 -0.5 3 0 3 0.5 3 0.5 3 0.5 3 0.5 3 1 3 0.5 3 0 3 -0.5 3 -1 3 -1 3 -0.5 3 0 3 0 3 0 3 1 3 0.5 3 0.5 3 0.5 3 0.5" vector-effect="non-scaling-stroke"/>
<path id="gc1_2" d="M30 477l10.5 48.5 1 11.5 3 0 3 0.5 3 0.5 3 0 3 -0.5 3 -1.5 3 -2 3 -2.5 3 -2 3 -2 3 -2 3 -0.5 3 -0.5 3 0.5 3 1 3 1 3 2 3 2 3 2.5 3 3 3 3 3 3 3 3 3 2.5 3 1.5 3 1 3 0.5 3 0 3 0.5 3 0.5 3 1 3 1.5 3 1.5 3 0.5 3 0.5 3 -1 3 -1.5 3 -1.5 3 -1 3 -1.5 3 -0.5 3 -0.5 3 0.5 3 0 3 0 3 -1 3 -1 3 -2.5 3 -2.5 3 -2.5 3 -2.5 3 -2.5 3 -1.5 3 -0.5 3 -0.5 3 1 3 0.5 3 2 3 1.5 3 2 3 3 3 2.5 3 2.5 3 3 3 1.5 3 2 3 0 3 0 3 -0.5 3 -1 3 -1 3 -0.5 3 -0.5 3 -0.5 3 -0.5 3 0 3 -1 3 -1 3 -0.5 3 -1.5 3 -1 3 -1 3 -1 3 -1 3 -0.5 3 0 3 0 3 1 3 1 3 1.5 3 1 3 0 3 -0.5 3 -0.5 3 -1.5 3 -1 3 -0.5 3 -0.5 3 0.5 3 0.5 3 1 3 0.5 3 0 3 0.5 3 0 3 -0.5 3 -1 3 0 3 -0.5 3 -0.5 3 -0.5 3 -0.5 3 -1 3 -0.5 3 -1 3 -0.5 3 0 3 1.5 3 2 3 2.5 3 1.5 3 2.5 3 2.5 3 2.5 3 2.5 3 1 3 0 3 0 3 -1.5 3 -1.5 3 -2 3 -0.5 3 0 3 1 3 1.5 3 1.5 3 1 3 0.5 3 -0.5 3 -0.5 3 -1.5 3 -1.5 3 -0.5 3 -1 3 0 3 0.5 3 0.5 3 1 3 0.5 3 1 3 0 3 0 3 -0.5 3 0 3 -0.5 3 -1 3 -0.5 3 -0.5 3 -0.5 3 0 3 -0.5 3 0.5 3 0 3 0 3 1 3 0.5 3 1 3 0.5 3 1.5 3 1 3 0 3 0.5" vector-effect="non-scaling-stroke"/>
<path id="gc1_3" d="M30 476.5l10.5 34.5 1 25.5 3 0 3 0 3 0 3 -0.5 3 0 3 -0.5 3 -0.5 3 -1 3 -1 3 -1.5 3 -1.5 3 -2 3 -1 3 -0.5 3 0.5 3 2 3 3 3 3 3 4 3 3 3 3.5 3 3 3 2 3 2.5 3 2 3 2.5 3 2 3 1.5 3 -0.5 3 0 3 -1.5 3 -2.5 3 -3 3 -3 3 -3 3 -1.5 3 -1 3 -0.5 3 -0.5 3 0 3 -0.5 3 0 3 -1 3 -1 3 -1 3 -1.5 3 -2 3 -1.5 3 -2 3 -1.5 3 -1 3 -1.5 3 -0.5 3 0 3 0 3 1 3 1.5 3 1 3 1.5 3 2 3 1.5 3 2 3 2 3 2 3 2 3 2.5 3 2.5 3 2 3 1 3 1 3 0 3 -1 3 -1 3 -0.5 3 -0.5 3 0 3 0.5 3 0.5 3 0.5 3 0 3 -0.5 3 -1 3 -1 3 -1 3 -1.5 3 -1.5 3 -1.5 3 -1 3 -1.5 3 -0.5 3 -1 3 -1 3 -1 3 -0.5 3 -1 3 0 3 -0.5 3 0.5 3 0 3 0.5 3 0.5 3 0 3 -0.5 3 -0.5 3 -1 3 -0.5 3 0 3 0.5 3 1 3 1.5 3 1.5 3 2 3 1.5 3 1.5 3 1 3 0.5 3 1.5 3 1.5 3 2 3 2 3 1 3 0.5 3 1 3 0.5 3 0.5 3 0 3 0 3 -0.5 3 -0.5 3 -1 3 -1 3 -1.5 3 -1.5 3 -0.5 3 -0.5 3 0.5 3 1 3 0.5 3 1 3 1 3 0.5 3 0.5 3 0 3 -0.5 3 -0.5 3 -0.5 3 -0.5 3 -0.5 3 0 3 0.5 3 0.5 3 1 3 1 3 0.5 3 0.5 3 -0.5 3 -1 3 -2 3 -2.5 3 -2 3 -2 3 -1.5 3 -0.5 3 0.5 3 1 3 1.5 3 1.5 3 1 3 1 3 0 3 0 3 0" vector-effect="non-scaling-stroke"/>
<path id="gc1_4" d="M30 481l10.5 35 1 25 3 1 3 0 3 0 3 -0.5 3 -1.5 3 -1.5 3 -2 3 -2 3 -2 3 -1 3 -1 3 -1.5 3 -0.5 3 -1 3 0 3 0 3 1 3 1 3 2 3 2 3 2.5 3 3 3 2 3 2.5 3 2.5 3 2.5 3 2 3 1.5 3 0.5 3 0.5 3 -0.5 3 -0.5 3 -0.5 3 -1 3 -1.5 3 -0.5 3 -1.5 3 -1.5 3 -1 3 -1.5 3 -1 3 -1 3 -0.5 3 -1 3 0 3 -1 3 -1 3 -0.5 3 -1.5 3 -1 3 -1 3 -1 3 -0.5 3 0 3 0.5 3 0.5 3 1 3 1.5 3 1.5 3 2 3 2 3 2 3 2 3 1.5 3 1 3 1 3 0.5 3 0 3 0 3 0.5 3 0.5 3 1.5 3 1.5 3 2 3 1.5 3 1.5 3 1 3 -0.5 3 -1.5 3 -1.5 3 -2.5 3 -3 3 -2 3 -2 3 -1.5 3 -1 3 -0.5 3 -0.5 3 -0.5 3 -0.5 3 -0.5 3 -0.5 3 -0.5 3 -0.5 3 -0.5 3 -0.5 3 0 3 -0.5 3 0 3 0 3 0.5 3 1 3 1 3 0.5 3 1.5 3 1 3 0.5 3 0.5 3 0.5 3 1 3 0.5 3 0.5 3 0.5 3 0.5 3 0 3 0.5 3 0.5 3 0.5 3 1 3 1 3 0 3 0.5 3 0 3 0.5 3 0 3 0 3 -0.5 3 -1 3 -1.5 3 -1 3 -1.5 3 -1.5 3 -0.5 3 0 3 1.5 3 1.5 3 2 3 2 3 1 3 0.5 3 0 3 0 3 -1 3 -1.5 3 -1 3 -1 3 0 3 0 3 0.5 3 1.5 3 1 3 1.5 3 1 3 0.5 3 -0.5 3 -1 3 -0.5 3 -1 3 -0.5 3 0 3 0.5 3 0.5 3 0.5 3 0.5 3 0.5 3 0 3 0.5 3 0.5 3 0.5 3 1 3 1 3 1" vector-effect="non-scaling-stroke"/>
<path id="gc1_5" d="M30 480l10.5 40 1 20 3 0 3 -0.5 3 -1 3 -1 3 -1 3 -2 3 -1.5 3 -1.5 3 -2 3 -1 3 -0.5 3 -1 3 -0.5 3 0 3 0 3 0.5 3 1.5 3 1.5 3 2 3 2.5 3 3 3 3.5 3 2.5 3 2.5 3 2.5 3 1.5 3 1 3 0.5 3 0.5 3 0.5 3 1.5 3 1.5 3 1 3 1 3 -0.5 3 -1.5 3 -2 3 -3 3 -3.5 3 -3 3 -3 3 -2 3 -1.5 3 -0.5 3 -1 3 -0.5 3 -1 3 -1 3 -1.5 3 -1.5 3 -1 3 -0.5 3 -0.5 3 0.5 3 0.5 3 0.5 3 1 3 1 3 0.5 3 1.5 3 2 3 2.5 3 3 3 2.5 3 2 3 2 3 1 3 0.5 3 0.5 3 0.5 3 0.5 3 0 3 0 3 -1 3 -1 3 -0.5 3 -1 3 -0.5 3 0.5 3 0.5 3 0.5 3 0 3 -0.5 3 -0.5 3 -0.5 3 -1.5 3 -1 3 -0.5 3 -0.5 3 -0.5 3 0 3 -0.5 3 0 3 -0.5 3 -0.5 3 -0.5 3 -0.5 3 -0.5 3 -0.5 3 -0.5 3 -0.5 3 -0.5 3 -1 3 -0.5 3 -1 3 -0.5 3 -1 3 0 3 1 3 0 3 1.5 3 1.5 3 1.5 3 1.5 3 2 3 2 3 1.5 3 1.5 3 1.5 3 1.5 3 0 3 0 3 0 3 0 3 0 3 -0.5 3 -0.5 3 -0.5 3 0 3 0 3 0 3 0 3 0 3 -0.5 3 0.5 3 0 3 0 3 0.5 3 0.5 3 0.5 3 1 3 0 3 0 3 0 3 0 3 0.5 3 0.5 3 0.5 3 1 3 1 3 0.5 3 0 3 -1 3 -1.5 3 -1.5 3 -2.5 3 -2 3 -2 3 -1.5 3 -1 3 -0.5 3 0.5 3 0.5 3 1 3 1.5 3 1.5 3 1.5 3 1.5 3 1 3 1 3 0.5 3 0" vector-effect="non-scaling-stroke"/>
<path id="gc1_6" d="M30 481.5l10.5 35.5 1 24.5 3 0 3 -1 3 -1.5 3 -1 3 -1 3 -0.5 3 -0.5 3 -1 3 -1 3 -1 3 -1.5 3 -2 3 -2 3 -2 3 -1.5 3 0 3 1 3 2.5 3 3 3 4.5 3 4 3 4 3 3.5 3 2.5 3 2.5 3 1.5 3 1.5 3 0.5 3 1 3 0 3 -0.5 3 -0.5 3 -0.5 3 -1 3 -1.5 3 -1 3 -1 3 -1.5 3 -1 3 -1.5 3 -1.5 3 -1.5 3 -1.5 3 -1 3 -1.5 3 -1 3 0 3 0 3 0.5 3 0 3 0.5 3 0 3 0.5 3 -0.5 3 -0.5 3 0 3 -0.5 3 1 3 1.5 3 1.5 3 2.5 3 2.5 3 2.5 3 2 3 1.5 3 1 3 1 3 1 3 0.5 3 0.5 3 0.5 3 0 3 0 3 -0.5 3 -0.5 3 -1.5 3 -1 3 -2 3 -1.5 3 -2.5 3 -2 3 -1.5 3 -1 3 -0.5 3 -0.5 3 0 3 -0.5 3 -0.5 3 -1 3 -1 3 -1 3 -1.5 3 -0.5 3 0 3 0 3 0 3 0 3 0.5 3 0.5 3 0 3 0.5 3 0.5 3 1 3 0.5 3 0.5 3 1 3 0 3 1 3 0.5 3 0.5 3 0.5 3 1.5 3 1.5 3 1.5 3 1.5 3 1 3 1.5 3 0.5 3 0.5 3 -1 3 -1.5 3 -1.5 3 -1 3 -0.5 3 0.5 3 0.5 3 1 3 1 3 0.5 3 0 3 0.5 3 -0.5 3 -0.5 3 -1 3 -1 3 -1.5 3 -1 3 -0.5 3 0.5 3 1.5 3 2.5 3 3 3 3 3 2.5 3 1.5 3 0.5 3 -0.5 3 -1 3 -1.5 3 -1.5 3 -1.5 3 -1 3 -0.5 3 -0.5 3 -0.5 3 -1 3 -1 3 -0.5 3 -0.5 3 -0.5 3 0 3 0.5 3 1 3 1 3 1 3 0 3 -0.5 3 -0.5 3 -0.5 3 -1 3 -0.5 3 0" vector-effect="non-scaling-stroke"/>
<path id="gc1_7" d="M30 472.5l10.5 49.5 1 10.5 3 -0.5 3 0 3 0 3 0.5 3 0.5 3 -0.5 3 0 3 -1 3 -2 3 -2 3 -2 3 -1.5 3 -0.5 3 0 3 0.5 3 2 3 2.5 3 3 3 3.5 3 3.5 3 3.5 3 4 3 4 3 3.5 3 3 3 2 3 2 3 1 3 0 3 -1 3 -0.5 3 -1.5 3 -0.5 3 -1.5 3 -1 3 -1 3 -1.5 3 -1 3 -1.5 3 -1 3 -1.5 3 -1 3 -1 3 -1.5 3 -1.5 3 -1.5 3 -1.5 3 -2 3 -2 3 -2 3 -1.5 3 -1.5 3 -1 3 -1 3 0 3 0 3 1 3 1.5 3 2 3 2.5 3 2 3 2 3 1.5 3 1.5 3 1.5 3 1.5 3 1 3 1 3 1.5 3 0.5 3 0 3 0.5 3 0 3 -0.5 3 -0.5 3 -0.5 3 -0.5 3 -0.5 3 -1 3 -0.5 3 -0.5 3 0 3 0 3 -0.5 3 -0.5 3 -1 3 -1 3 -0.5 3 -0.5 3 -0.5 3 -0.5 3 -1 3 0 3 -1 3 -0.5 3 -0.5 3 0.5 3 0 3 1 3 0.5 3 0.5 3 0 3 -0.5 3 0 3 -0.5 3 -1 3 -0.5 3 0 3 0.5 3 0.5 3 1 3 1.5 3 1.5 3 1.5 3 1.5 3 1.5 3 1 3 0.5 3 1 3 0.5 3 -0.5 3 0 3 0.5 3 0.5 3 1 3 1 3 1 3 1 3 0.5 3 0 3 -0.5 3 -1 3 -1 3 -0.5 3 -1 3 -0.5 3 0 3 -0.5 3 -0.5 3 -1 3 -1 3 -2 3 -1.5 3 -1 3 -0.5 3 0.5 3 1 3 1 3 2 3 2 3 1.5 3 1 3 1 3 0 3 -0.5 3 -1 3 -0.5 3 -0.5 3 0 3 1 3 1.5 3 2.5 3 2 3 2.5 3 2.5 3 1.5 3 1.5 3 0.5 3 0 3 -1 3 -1.5 3 -2" vector-effect="non-scaling-stroke"/>
<path id="gc1_8" d="M30 473.5l10.5 33.5 1 26.5 3 0.5 3 1 3 1 3 0.5 3 0.5 3 0.5 3 -0.5 3 -1 3 -0.5 3 -2 3 -2.5 3 -2 3 -1.5 3 -2 3 -1 3 1 3 2 3 3 3 3.5 3 4 3 3 3 3 3 2.5 3 1.5 3 1 3 1.5 3 1 3 1 3 0 3 0.5 3 1 3 0 3 0 3 -0.5 3 -0.5 3 -1 3 -1 3 -2 3 -1.5 3 -1.5 3 -1.5 3 -1.5 3 -1.5 3 -1.5 3 -2 3 -2 3 -2 3 -2 3 -1.5 3 -2 3 -0.5 3 0 3 0 3 0.5 3 1 3 0.5 3 1 3 0.5 3 0 3 0.5 3 0.5 3 1 3 1.5 3 2 3 2.5 3 2.5 3 3 3 2 3 1.5 3 1.5 3 0.5 3 0.5 3 -0.5 3 0 3 0 3 0 3 0.5 3 0.5 3 0 3 -0.5 3 0 3 -1 3 -2 3 -2.5 3 -2.5 3 -3 3 -2 3 -1 3 0 3 1 3 0.5 3 1.5 3 0.5 3 0.5 3 -0.5 3 -0.5 3 -0.5 3 -1 3 0 3 0 3 0.5 3 1 3 0 3 0.5 3 -0.5 3 0.5 3 -0.5 3 0.5 3 0.5 3 2 3 2.5 3 2 3 2.5 3 1.5 3 0.5 3 -0.5 3 -1 3 -1.5 3 -2 3 -1 3 -1 3 0 3 1 3 0.5 3 0.5 3 0.5 3 0.5 3 -0.5 3 0 3 0 3 -0.5 3 0.5 3 0.5 3 0 3 0.5 3 0.5 3 1 3 0.5 3 0.5 3 1 3 1 3 0 3 -0.5 3 -0.5 3 -1 3 -1 3 -1 3 0 3 -0.5 3 -0.5 3 0 3 -0.5 3 -0.5 3 -0.5 3 -0.5 3 -0.5 3 -0.5 3 0.5 3 0.5 3 0.5 3 0 3 0.5 3 0.5 3 1 3 1 3 1.5 3 1.5 3 1 3 1.5 3 0 3 0.5 3 -0.5" vector-effect="non-scaling-stroke"/>
<path id="gc1_9" d="M30 482l10.5 50.5 1 9.5 3 0 3 -0.5 3 -0.5 3 0 3 -0.5 3 -1 3 -1.5 3 -2 3 -2 3 -2 3 -1.5 3 -2 3 -0.5 3 0 3 0 3 1.5 3 1.5 3 2 3 2.5 3 3.5 3 4 3 3.5 3 4 3 3.5 3 2.5 3 1.5 3 0.5 3 -1 3 -2 3 -2.5 3 -1.5 3 -2 3 -1.5 3 -1.5 3 -0.5 3 -1 3 -0.5 3 -1.5 3 -2 3 -2 3 -1.5 3 -2.5 3 -2.5 3 -2 3 -1.5 3 -1.5 3 -0.5 3 0 3 1 3 1 3 1.5 3 1.5 3 1 3 0.5 3 1.5 3 1 3 1 3 1 3 1.5 3 0.5 3 1 3 0.5 3 0.5 3 -0.5 3 0 3 0.5 3 0.5 3 1 3 1 3 1 3 1.5 3 1 3 1 3 0 3 0.5 3 0 3 0 3 0.5 3 -0.5 3 -0.5 3 -0.5 3 -1 3 -1 3 -1.5 3 -1 3 -1 3 -0.5 3 -0.5 3 0 3 0.5 3 0.5 3 -0.5 3 0 3 -0.5 3 -0.5 3 -1 3 0 3 -0.5 3 0.5 3 0.5 3 0.5 3 0.5 3 0.5 3 0.5 3 0.5 3 -0.5 3 0 3 0 3 -1 3 -0.5 3 0 3 -0.5 3 0.5 3 1 3 1.5 3 2 3 2.5 3 2.5 3 2 3 0.5 3 -1 3 -1 3 -2 3 -1.5 3 -1 3 -0.5 3 1 3 1 3 1.5 3 2 3 2 3 1 3 0 3 -0.5 3 -1.5 3 -1 3 -2 3 -1.5 3 -0.5 3 0 3 0.5 3 1.5 3 1.5 3 1 3 1 3 0.5 3 0 3 -0.5 3 -1 3 -1 3 -1.5 3 -2 3 -1 3 -1.5 3 -1 3 0 3 1 3 2 3 2.5 3 2 3 1.5 3 1.5 3 -0.5 3 -0.5 3 -1 3 -1 3 -0.5 3 -0.5 3 0.5 3 0.5 3 0 3 0.5" vector-effect="non-scaling-stroke"/>
<path id="gc1_10" d="M30 469.5l10.5 43.5 1 16.5 3 0.5 3 0 3 1 3 0.5 3 0.5 3 0.5 3 0 3 0 3 -0.5 3 -1 3 -0.5 3 -1 3 -1 3 -1 3 -0.5 3 0 3 1 3 2 3 2.5 3 3 3 3.5 3 4.5 3 4.5 3 3.5 3 3 3 3 3 1.5 3 1.5 3 0.5 3 0 3 0 3 0.5 3 0 3 0 3 -0.5 3 -1 3 -2 3 -1.5 3 -2.5 3 -1.5 3 -2 3 -2 3 -2 3 -2 3 -3 3 -3 3 -3 3 -2.5 3 -2.5 3 -1 3 0 3 2 3 2 3 2.5 3 2.5 3 1.5 3 0.5 3 0.5 3 -1 3 -1.5 3 -1 3 -0.5 3 0.5 3 0.5 3 1.5 3 2.5 3 2 3 3 3 2.5 3 2.5 3 2 3 2 3 0.5 3 0 3 -0.5 3 -0.5 3 -1 3 -0.5 3 0 3 0 3 0.5 3 -1 3 -1 3 -2 3 -2.5 3 -3 3 -3.5 3 -3 3 -2.5 3 -1.5 3 -1.5 3 -1 3 0 3 0 3 0.5 3 1 3 1 3 1.5 3 2 3 2 3 2 3 1.5 3 0.5 3 1 3 0 3 0 3 0.5 3 0 3 0.5 3 1 3 1 3 1 3 1 3 0 3 0.5 3 0 3 0.5 3 0 3 0.5 3 1.5 3 0 3 0 3 0.5 3 0 3 0 3 -0.5 3 -0.5 3 -0.5 3 -0.5 3 -0.5 3 0 3 0 3 0.5 3 1 3 1 3 1 3 0.5 3 0.5 3 0.5 3 0 3 0.5 3 0 3 -1 3 0 3 -0.5 3 -1.5 3 -1.5 3 -1 3 -0.5 3 -0.5 3 -0.5 3 0.5 3 0 3 -0.5 3 0.5 3 0.5 3 -0.5 3 0.5 3 1 3 1 3 1 3 1 3 1 3 0.5 3 0.5 3 0 3 -0.5 3 -1 3 -1.5 3 -1 3 -1.5 3 -1.5" vector-effect="non-scaling-stroke"/>
<path id="gc1_11" d="M30 479l10.5 36 1 24 3 -1 3 -0.5 3 -1 3 -1 3 -0.5 3 -1 3 -1 3 -1 3 -1.5 3 -1.5 3 -1 3 -1 3 0 3 1 3 1 3 2 3 2 3 2.5 3 2.5 3 2 3 2.5 3 2 3 2.5 3 1.5 3 1.5 3 1 3 1 3 1 3 0.5 3 1 3 1.5 3 1.5 3 1 3 1 3 -0.5 3 -1 3 -2 3 -2 3 -2.5 3 -3 3 -2.5 3 -2.5 3 -2.5 3 -2 3 -1.5 3 -1.5 3 -2 3 -1.5 3 -1.5 3 -1 3 -1.5 3 -0.5 3 0.5 3 0.5 3 0.5 3 1 3 0 3 -0.5 3 -1 3 -1 3 -0.5 3 -0.5 3 1 3 2 3 2.5 3 3 3 4 3 3.5 3 4 3 2.5 3 2 3 1 3 0.5 3 -0.5 3 -1 3 -1 3 0 3 0 3 0.5 3 0.5 3 0.5 3 0 3 -0.5 3 -1.5 3 -2.5 3 -1.5 3 -2 3 -1.5 3 -0.5 3 -0.5 3 -0.5 3 0 3 -0.5 3 0 3 -1 3 -0.5 3 -0.5 3 0.5 3 0 3 1 3 1 3 1 3 1.5 3 1.5 3 1 3 1 3 1 3 0 3 -0.5 3 -0.5 3 -0.5 3 -1 3 0 3 0.5 3 0.5 3 1.5 3 2 3 2 3 2 3 1.5 3 0 3 -0.5 3 -0.5 3 -1 3 -0.5 3 -1 3 -1 3 -0.5 3 0 3 0 3 0.5 3 1 3 0.5 3 0 3 -0.5 3 -1 3 -1.5 3 -1.5 3 -1.5 3 -1.5 3 -0.5 3 0 3 1 3 1 3 1.5 3 1 3 1.5 3 1 3 0 3 -0.5 3 -0.5 3 -1 3 -0.5 3 0 3 0 3 0.5 3 1.5 3 1 3 1.5 3 1.5 3 1 3 1 3 0.5 3 0.5 3 -0.5 3 -0.5 3 -1 3 -0.5 3 -0.5 3 -0.5 3 -0.5 3 -0.5" vector-effect="non-scaling-stroke"/>
<path id="gc2_0" d="M30 648.5l10.5 33 1 27 3 16.5 3 0 3 -12 3 -17.5 3 -15.5 3 -8 3 0 3 6 3 8 3 6 3 2.5 3 -1 3 -3.5 3 -3.5 3 -1.5 3 1.5 3 5 3 7.5 3 8 3 7.5 3 5 3 2 3 -1 3 -3.5 3 -3.5 3 -3.5 3 -3 3 -1.5 3 -1.5 3 -1 3 -1 3 -1.5 3 -1.5 3 -1 3 -0.5 3 0.5 3 1 3 1.5 3 2 3 1.5 3 1.5 3 0.5 3 0 3 -0.5 3 -1 3 -0.5 3 0 3 0 3 0.5 3 0 3 0.5 3 0 3 0.5 3 0 3 0 3 -0.5 3 0 3 0 3 0 3 0 3 0.5 3 0.5 3 0 3 0.5 3 1 3 0 3 0 3 0 3 -0.5 3 -0.5 3 -0.5 3 -1 3 0 3 0 3 0.5 3 1 3 0.5 3 0.5 3 0.5 3 -0.5 3 -0.5 3 0 3 0 3 -0.5 3 0 3 0 3 0 3 -0.5 3 -0.5 3 0 3 -0.5 3 -0.5 3 0 3 0.5 3 0.5 3 1 3 0.5 3 1 3 0.5 3 0 3 0 3 -0.5 3 -0.5 3 -1 3 -1 3 -0.5 3 -0.5 3 0 3 0 3 0 3 0 3 0 3 0 3 0 3 0 3 0 3 0.5 3 1 3 0.5 3 1 3 0 3 0 3 0 3 -0.5 3 -1 3 -1 3 -0.5 3 0 3 0 3 0.5 3 0.5 3 0 3 0 3 -0.5 3 -1 3 -0.5 3 -1 3 0 3 0 3 0.5 3 0.5 3 1.5 3 0 3 1 3 0.5 3 0 3 0 3 0 3 0 3 0 3 0 3 0.5 3 0 3 0 3 0.5 3 0 3 -0.5 3 0 3 0 3 -0.5 3 0 3 0 3 0 3 -0.5 3 0 3 -0.5 3 0 3 -0.5 3 0 3 0 3 0 3 0.5" vector-effect="non-scaling-stroke"/>
<path id="gc2_1" d="M30 635l10.5 45.5 1 14.5 3 15.5 3 6.5 3 -1 3 -7.5 3 -10 3 -8 3 -5.5 3 -2 3 1 3 3 3 3.5 3 3 3 2.5 3 1.5 3 1 3 0 3 1 3 1 3 2 3 2.5 3 3 3 3 3 2 3 0.5 3 0 3 -0.5 3 -2.5 3 -2.5 3 -3 3 -3 3 -2 3 -2 3 -1 3 0 3 0.5 3 0 3 0.5 3 0 3 0 3 0.5 3 1 3 1 3 1.5 3 1.5 3 1.5 3 2 3 0.5 3 0.5 3 0 3 -1 3 -1 3 -0.5 3 -1 3 0 3 0 3 0.5 3 0.5 3 1 3 0.5 3 0 3 0 3 0 3 -1 3 -1 3 -1 3 -1 3 -1 3 0 3 0.5 3 0.5 3 1 3 0.5 3 1 3 0 3 0 3 -0.5 3 -0.5 3 -0.5 3 -0.5 3 0.5 3 0 3 0.5 3 0.5 3 0 3 -0.5 3 -0.5 3 -0.5 3 -0.5 3 0.5 3 0.5 3 1.5 3 1.5 3 1 3 1 3 0 3 -0.5 3 -0.5 3 -1 3 -0.5 3 -1 3 -0.5 3 -0.5 3 -0.5 3 -0.5 3 -0.5 3 0 3 0 3 0.5 3 0.5 3 0.5 3 0 3 0 3 -1 3 -1 3 -1.5 3 -1 3 -1 3 -0.5 3 0 3 0 3 0 3 0.5 3 0.5 3 0.5 3 0.5 3 1.5 3 1 3 1 3 1 3 0.5 3 0.5 3 -0.5 3 -0.5 3 -0.5 3 0 3 0 3 0 3 0 3 0.5 3 0 3 0 3 -0.5 3 0 3 -0.5 3 -0.5 3 0 3 -0.5 3 -0.5 3 0 3 0.5 3 0.5 3 1 3 0.5 3 0.5 3 0.5 3 0 3 -0.5 3 -0.5 3 -1 3 -0.5 3 -0.5 3 -0.5 3 -0.5 3 -0.5 3 -0.5 3 0 3 0.5 3 0.5 3 1.5 3 1.5 3 1.5 3 1" vector-effect="non-scaling-stroke"/>
<path id="gc2_2" d="M30 586.5l10.5 51.5 1 8.5 3 22.5 3 23.5 3 18 3 8 3 -1.5 3 -9 3 -11.5 3 -11.5 3 -8.5 3 -4 3 0.5 3 3.5 3 5.5 3 5.5 3 4 3 2.5 3 2 3 1.5 3 2 3 2.5 3 3 3 3 3 2 3 1.5 3 0.5 3 -1 3 -2 3 -2 3 -2.5 3 -2 3 -2 3 -1 3 -0.5 3 0 3 0.5 3 0 3 -0.5 3 0 3 0 3 0 3 0.5 3 0.5 3 1.5 3 1 3 0.5 3 0.5 3 0.5 3 0 3 -0.5 3 0 3 0 3 0 3 0 3 0.5 3 0.5 3 -0.5 3 0 3 -0.5 3 -0.5 3 -0.5 3 -1 3 -0.5 3 0 3 0 3 0 3 0.5 3 0 3 0.5 3 0 3 0.5 3 -0.5 3 0 3 0 3 0 3 0 3 0.5 3 1 3 1 3 0.5 3 0.5 3 0 3 0 3 -0.5 3 -0.5 3 -0.5 3 0 3 0.5 3 0.5 3 0.5 3 1 3 0.5 3 0.5 3 0.5 3 0.5 3 0 3 0 3 -0.5 3 -0.5 3 -1 3 -0.5 3 -0.5 3 -1 3 0 3 -0.5 3 0 3 0 3 0.5 3 0 3 0.5 3 0.5 3 0 3 0 3 0 3 0 3 0 3 0 3 -0.5 3 -0.5 3 0 3 -0.5 3 0 3 0 3 0.5 3 0.5 3 0.5 3 0.5 3 0 3 0 3 -0.5 3 -0.5 3 -0.5 3 -0.5 3 -0.5 3 -0.5 3 0 3 0.5 3 1 3 1 3 1 3 0.5 3 0.5 3 0.5 3 -0.5 3 -0.5 3 0 3 -0.5 3 -0.5 3 0 3 -0.5 3 0.5 3 0 3 0 3 0.5 3 0 3 0.5 3 0 3 -0.5 3 -1 3 -1 3 -1 3 -1 3 -0.5 3 -0.5 3 0 3 0 3 0.5 3 0.5 3 0.5 3 0.5 3 0 3 0.5 3 -0.5" vector-effect="non-scaling-stroke"/>
<path id="gc2_3" d="M30 611.5l10.5 59 1 1 3 -9 3 1 3 9 3 13.5 3 13.5 3 10.5 3 4 3 -3 3 -8.5 3 -11 3 -10 3 -6 3 -1 3 3.5 3 7 3 8 3 7 3 5.5 3 3 3 1 3 0 3 -1 3 -0.5 3 -0.5 3 0 3 0 3 0 3 -0.5 3 -2 3 -2 3 -3 3 -2.5 3 -2.5 3 -1 3 0 3 0.5 3 1.5 3 1.5 3 2 3 1 3 1 3 0.5 3 0 3 -0.5 3 0 3 0 3 0 3 1 3 1 3 1 3 1 3 0.5 3 0 3 0 3 -0.5 3 -1 3 -0.5 3 -1 3 -0.5 3 -0.5 3 -0.5 3 -0.5 3 0 3 -0.5 3 0 3 0 3 0.5 3 0.5 3 1 3 0 3 0.5 3 0 3 0.5 3 0 3 0 3 0 3 0 3 0 3 0.5 3 0 3 0 3 0.5 3 0.5 3 0.5 3 1 3 0.5 3 1 3 0.5 3 0.5 3 -0.5 3 -0.5 3 -0.5 3 -1 3 -0.5 3 -0.5 3 0 3 0 3 0.5 3 0 3 -0.5 3 -0.5 3 0 3 -0.5 3 -1 3 0 3 0.5 3 0.5 3 0.5 3 0.5 3 1 3 1 3 1 3 0 3 0.5 3 0 3 0 3 -0.5 3 -1 3 -1 3 -1 3 -0.5 3 -0.5 3 -0.5 3 -0.5 3 0 3 0 3 0 3 0 3 0 3 0 3 0.5 3 0 3 0.5 3 0.5 3 0 3 0 3 0 3 -0.5 3 0 3 0 3 -0.5 3 0 3 0 3 0.5 3 0.5 3 0.5 3 0.5 3 1 3 0.5 3 0.5 3 0 3 -0.5 3 -0.5 3 -0.5 3 -0.5 3 -0.5 3 -0.5 3 0 3 -0.5 3 -0.5 3 0 3 0 3 0 3 0.5 3 0.5 3 0.5 3 0.5 3 0.5 3 0 3 0 3 -1 3 -0.5" vector-effect="non-scaling-stroke"/>
<path id="gc2_4" d="M30 612l10.5 55.5 1 4.5 3 -11.5 3 1.5 3 13.5 3 18.5 3 16.5 3 9 3 -1.5 3 -9.5 3 -14 3 -12.5 3 -6.5 3 -0.5 3 5.5 3 8.5 3 8.5 3 6 3 3 3 0.5 3 -0.5 3 0.5 3 1.5 3 2.5 3 2 3 1 3 0 3 -1.5 3 -3 3 -4 3 -4 3 -3.5 3 -2.5 3 -0.5 3 0 3 1 3 1.5 3 1 3 1 3 0 3 0.5 3 0 3 0.5 3 1 3 0.5 3 0.5 3 1 3 0 3 0.5 3 0 3 0 3 0 3 0 3 0.5 3 0 3 0 3 0 3 0 3 -0.5 3 -0.5 3 0 3 0.5 3 -0.5 3 0 3 0 3 0 3 -1 3 -0.5 3 -0.5 3 -0.5 3 0 3 0.5 3 0.5 3 1 3 1 3 1 3 -0.5 3 0 3 -0.5 3 -0.5 3 -1 3 -0.5 3 0.5 3 0 3 0 3 0.5 3 0 3 -0.5 3 -1 3 0 3 -0.5 3 0 3 0 3 0 3 0 3 -0.5 3 0 3 -0.5 3 0 3 0.5 3 1 3 1.5 3 1.5 3 2 3 2 3 1.5 3 1 3 0 3 0 3 -1 3 -1 3 -1.5 3 -1.5 3 -1 3 -1 3 0 3 0 3 0 3 0.5 3 0.5 3 0.5 3 1 3 0 3 0 3 0 3 -0.5 3 -0.5 3 -0.5 3 -0.5 3 0.5 3 0.5 3 1 3 1.5 3 1 3 0.5 3 0 3 -0.5 3 -1 3 -1 3 -1 3 -1 3 -0.5 3 0.5 3 0.5 3 0.5 3 1 3 1 3 0.5 3 0.5 3 0 3 -0.5 3 -1 3 -1 3 -1 3 -1 3 -1 3 -0.5 3 -0.5 3 0 3 0 3 0.5 3 0.5 3 0.5 3 0.5 3 0 3 0 3 0 3 0 3 0 3 0 3 0 3 0.5 3 0 3 0.5" vector-effect="non-scaling-stroke"/>
<path id="gc2_5" d="M30 602.5l10.5 30.5 1 29.5 3 34.5 3 26.5 3 13.5 3 0.5 3 -9.5 3 -15 3 -16 3 -14 3 -10 3 -4 3 0.5 3 5 3 8 3 9 3 7.5 3 6.5 3 3.5 3 2.5 3 0 3 0 3 -1 3 -0.5 3 -1.5 3 -1 3 -0.5 3 -1 3 -1 3 -1.5 3 -1.5 3 -2.5 3 -2 3 -2 3 -1 3 -0.5 3 0 3 1.5 3 1.5 3 2 3 2 3 1.5 3 1 3 1 3 0 3 -0.5 3 -0.5 3 -0.5 3 0 3 0 3 0.5 3 0 3 0.5 3 0 3 0 3 0.5 3 0.5 3 0.5 3 0.5 3 1 3 0 3 0.5 3 0 3 0 3 -1 3 -0.5 3 -1.5 3 -1 3 -1 3 -0.5 3 -0.5 3 0.5 3 0.5 3 1 3 0.5 3 0.5 3 0 3 0.5 3 0 3 0.5 3 1 3 0.5 3 1 3 0.5 3 0.5 3 -0.5 3 0 3 -0.5 3 -0.5 3 0 3 0 3 0 3 0.5 3 0.5 3 0 3 0.5 3 -0.5 3 -0.5 3 -1 3 -0.5 3 -1 3 -0.5 3 -0.5 3 -0.5 3 0 3 -0.5 3 0 3 0.5 3 0 3 0.5 3 0.5 3 0.5 3 1 3 0.5 3 0.5 3 0 3 0 3 -0.5 3 -0.5 3 -1.5 3 -1 3 -1 3 -0.5 3 0 3 0 3 0 3 0.5 3 0 3 0 3 -1 3 -0.5 3 -0.5 3 -0.5 3 0.5 3 0.5 3 1 3 2 3 1.5 3 1 3 1 3 1 3 0 3 0 3 -0.5 3 -0.5 3 -1 3 -0.5 3 0 3 -0.5 3 0 3 -0.5 3 0 3 0 3 0.5 3 0 3 0 3 0.5 3 0.5 3 0 3 0.5 3 0 3 0.5 3 0 3 0 3 0.5 3 0 3 -0.5 3 0 3 0 3 -0.5 3 -0.5 3 -0.5 3 -0.5 3 -0.5" vector-effect="non-scaling-stroke"/>
<path id="gc2_6" d="M30 621.5l10.5 44.5 1 15.5 3 22 3 12 3 2 3 -7.5 3 -11.5 3 -10 3 -7.5 3 -2 3 1 3 3.5 3 4.5 3 3.5 3 2 3 0.5 3 0.5 3 0.5 3 1.5 3 3 3 4 3 5 3 5 3 3.5 3 1 3 -0.5 3 -2 3 -3 3 -4 3 -3 3 -3 3 -2.5 3 -1 3 -0.5 3 0 3 0.5 3 0 3 -0.5 3 0 3 -0.5 3 -0.5 3 0.5 3 0 3 1 3 0.5 3 1.5 3 1 3 1 3 1 3 1 3 0.5 3 -0.5 3 0 3 -1 3 -0.5 3 -0.5 3 -0.5 3 -0.5 3 0.5 3 0 3 0.5 3 0.5 3 0 3 0.5 3 0 3 -0.5 3 0 3 -0.5 3 -0.5 3 0 3 -0.5 3 0 3 0 3 0.5 3 0.5 3 0.5 3 0.5 3 1 3 0 3 0.5 3 0 3 0 3 0 3 0 3 0.5 3 0.5 3 0 3 0 3 0 3 -1 3 -0.5 3 -1 3 -1 3 -1 3 -0.5 3 0 3 0 3 0.5 3 0.5 3 0.5 3 0.5 3 0 3 0 3 -0.5 3 0 3 0 3 0.5 3 0 3 0.5 3 1 3 0 3 0 3 -0.5 3 -0.5 3 -1 3 -1 3 -0.5 3 -1 3 -0.5 3 0 3 0.5 3 0.5 3 0.5 3 0.5 3 0 3 1 3 0.5 3 0.5 3 0.5 3 0.5 3 0.5 3 0.5 3 0 3 0 3 -0.5 3 -0.5 3 -0.5 3 0 3 0 3 0 3 0.5 3 0.5 3 0 3 1 3 0.5 3 0.5 3 0 3 0 3 0 3 0 3 0 3 -0.5 3 -0.5 3 -0.5 3 -0.5 3 -0.5 3 -0.5 3 0 3 -0.5 3 0.5 3 0 3 1 3 0.5 3 0.5 3 0.5 3 0.5 3 0 3 0.5 3 0.5 3 0 3 0 3 0 3 0 3 -0.5" vector-effect="non-scaling-stroke"/>
<path id="gc2_7" d="M30 619l10.5 50.5 1 9.5 3 -3 3 1.5 3 5 3 6.5 3 7.5 3 6 3 3 3 -0.5 3 -4.5 3 -6.5 3 -7 3 -5.5 3 -2 3 1 3 3.5 3 5.5 3 6.5 3 6 3 5 3 3.5 3 2 3 0 3 -0.5 3 -1.5 3 -1 3 -1 3 -1 3 -0.5 3 -1.5 3 -1 3 -2 3 -1.5 3 -2 3 -1 3 -0.5 3 -1 3 0 3 -0.5 3 -0.5 3 0.5 3 0 3 0.5 3 0.5 3 0.5 3 1 3 1 3 0.5 3 1 3 0.5 3 0.5 3 0.5 3 0 3 0 3 0.5 3 0 3 0 3 0 3 0.5 3 0.5 3 1 3 0.5 3 1 3 0.5 3 0 3 -0.5 3 -0.5 3 -1 3 -1 3 -0.5 3 0 3 0 3 0 3 1 3 0.5 3 0.5 3 0 3 -0.5 3 0 3 -0.5 3 0.5 3 0 3 1 3 1 3 0.5 3 1 3 0 3 0 3 0 3 -1 3 -0.5 3 -0.5 3 -0.5 3 -1 3 0 3 -0.5 3 0 3 -0.5 3 0 3 0 3 0 3 0 3 0 3 0.5 3 0.5 3 1 3 1 3 1 3 1 3 0 3 -0.5 3 -0.5 3 -1 3 -1 3 0 3 0 3 0 3 0 3 0 3 0 3 -0.5 3 -0.5 3 -0.5 3 -1 3 -0.5 3 0 3 0 3 0 3 0.5 3 0.5 3 0.5 3 0 3 0.5 3 -0.5 3 0 3 -0.5 3 -0.5 3 -0.5 3 0 3 0.5 3 0 3 0.5 3 0.5 3 0.5 3 0.5 3 -0.5 3 0 3 -0.5 3 -1 3 0 3 -0.5 3 0 3 0 3 0.5 3 1 3 0.5 3 1 3 1 3 0.5 3 0.5 3 0 3 0 3 -0.5 3 0 3 -0.5 3 0 3 0 3 0 3 0 3 0 3 0.5 3 0.5 3 0" vector-effect="non-scaling-stroke"/>
<path id="gc2_8" d="M30 596l10.5 38.5 1 21.5 3 17 3 16.5 3 13.5 3 7.5 3 2 3 -2.5 3 -6 3 -7 3 -8 3 -6 3 -4 3 -1.5 3 1.5 3 3.5 3 5 3 5 3 5 3 5 3 3.5 3 3 3 2.5 3 1 3 0.5 3 0 3 -0.5 3 -1.5 3 -1.5 3 -2 3 -2.5 3 -3 3 -3 3 -2.5 3 -2 3 -1.5 3 0 3 0.5 3 1 3 1 3 2 3 1 3 1.5 3 1.5 3 0.5 3 0.5 3 0.5 3 0.5 3 1 3 1 3 0.5 3 0.5 3 0.5 3 0.5 3 0 3 0 3 0 3 0.5 3 -0.5 3 0 3 -0.5 3 -0.5 3 -1.5 3 -0.5 3 -1 3 -0.5 3 -0.5 3 0 3 0 3 0 3 0.5 3 0 3 0.5 3 0.5 3 0.5 3 0.5 3 0.5 3 1 3 0.5 3 0 3 -0.5 3 -0.5 3 -0.5 3 -0.5 3 -0.5 3 0 3 0 3 0 3 0 3 0 3 -0.5 3 0 3 0 3 0 3 0.5 3 0 3 0.5 3 0 3 -0.5 3 -0.5 3 -0.5 3 -0.5 3 0.5 3 0 3 0.5 3 0.5 3 0.5 3 -0.5 3 -0.5 3 -0.5 3 -0.5 3 -1 3 -0.5 3 0 3 0 3 0.5 3 0.5 3 1 3 1 3 1 3 0.5 3 1 3 0 3 0 3 -0.5 3 -0.5 3 -0.5 3 -0.5 3 -0.5 3 -0.5 3 0 3 0 3 -0.5 3 -0.5 3 -0.5 3 -1 3 -0.5 3 -0.5 3 0 3 -0.5 3 0 3 0.5 3 0 3 0.5 3 0 3 0.5 3 0.5 3 1 3 1 3 1 3 1 3 1 3 1.5 3 0.5 3 0.5 3 0.5 3 0 3 0 3 -0.5 3 0 3 -1 3 -0.5 3 -0.5 3 -1 3 -0.5 3 -0.5 3 0 3 -0.5 3 0.5 3 0.5 3 0.5 3 0.5 3 1 3 0" vector-effect="non-scaling-stroke"/>
<path id="gc2_9" d="M30 593.5l10.5 52.5 1 7.5 3 18.5 3 18 3 13.5 3 6.5 3 0.5 3 -4 3 -7 3 -8 3 -7.5 3 -6 3 -3 3 0 3 3 3 5 3 5.5 3 5.5 3 5 3 4 3 2.5 3 1.5 3 1 3 0.5 3 0 3 0 3 0 3 0 3 -0.5 3 -0.5 3 -1.5 3 -2 3 -2 3 -2.5 3 -2 3 -1 3 -0.5 3 0.5 3 1 3 1.5 3 2 3 2.5 3 1.5 3 2 3 1 3 0.5 3 0.5 3 0 3 -0.5 3 -0.5 3 -0.5 3 -0.5 3 -0.5 3 -0.5 3 0 3 0.5 3 0 3 0.5 3 0 3 0 3 -0.5 3 0 3 -0.5 3 -0.5 3 -0.5 3 -0.5 3 -1 3 -0.5 3 0 3 0 3 0 3 0.5 3 1 3 0.5 3 1 3 0.5 3 0 3 0 3 -0.5 3 0 3 -0.5 3 0 3 0 3 0.5 3 0.5 3 0.5 3 0.5 3 0.5 3 0 3 -0.5 3 -0.5 3 -0.5 3 -0.5 3 0 3 -0.5 3 0.5 3 0.5 3 0 3 0.5 3 0 3 0 3 -0.5 3 -0.5 3 -0.5 3 0 3 0.5 3 0 3 0.5 3 0 3 0 3 -0.5 3 -0.5 3 -0.5 3 0 3 0 3 1 3 0.5 3 1 3 0.5 3 0 3 -1 3 -1 3 -1.5 3 -2 3 -1.5 3 -1.5 3 -0.5 3 0.5 3 0.5 3 1 3 1.5 3 1.5 3 1 3 1 3 0.5 3 0.5 3 0 3 0 3 -1 3 -1 3 -1 3 -1 3 -1 3 -0.5 3 0.5 3 0 3 0.5 3 0.5 3 0 3 0 3 0.5 3 0 3 0.5 3 1 3 1 3 0.5 3 1 3 0.5 3 0 3 -0.5 3 -0.5 3 -1 3 -1.5 3 -0.5 3 -1 3 0 3 -0.5 3 0.5 3 0 3 0 3 0 3 0 3 0.5 3 -0.5" vector-effect="non-scaling-stroke"/>
<path id="gc2_10" d="M30 626.5l10.5 53 1 7 3 -5 3 -2.5 3 -1 3 0.5 3 2.5 3 4 3 4.5 3 3.5 3 2 3 0 3 -1.5 3 -3 3 -2.5 3 -2 3 -0.5 3 1.5 3 3.5 3 4.5 3 5.5 3 6 3 5 3 4 3 2.5 3 1 3 -1 3 -1.5 3 -3 3 -3.5 3 -4 3 -4 3 -3 3 -2.5 3 -1 3 0 3 0.5 3 1.5 3 1 3 1 3 1 3 1 3 0 3 0.5 3 0.5 3 0 3 0.5 3 0 3 0 3 0.5 3 0 3 0 3 0 3 -0.5 3 0.5 3 0.5 3 0 3 0.5 3 0.5 3 -0.5 3 0 3 0 3 -0.5 3 -0.5 3 -0.5 3 0 3 0 3 -0.5 3 0 3 0 3 0 3 0 3 0.5 3 0 3 0.5 3 0.5 3 0 3 0.5 3 -0.5 3 -0.5 3 -0.5 3 -1 3 -1 3 -1 3 -0.5 3 0 3 0.5 3 0.5 3 0.5 3 1.5 3 1 3 0.5 3 0.5 3 0 3 0 3 -0.5 3 0 3 -0.5 3 -0.5 3 0.5 3 0 3 0 3 0 3 0 3 0 3 -0.5 3 -0.5 3 0.5 3 0 3 1 3 1.5 3 1.5 3 1 3 0.5 3 0 3 0 3 -0.5 3 -1 3 -1 3 -1 3 -1 3 -0.5 3 0 3 -0.5 3 -0.5 3 0 3 0 3 0.5 3 0 3 0.5 3 0.5 3 0.5 3 0.5 3 0.5 3 0 3 0.5 3 0 3 0.5 3 -0.5 3 0 3 -1 3 -0.5 3 -0.5 3 -0.5 3 0 3 0 3 0.5 3 0.5 3 0.5 3 0 3 0.5 3 0 3 0 3 0.5 3 0 3 0 3 0.5 3 0 3 0.5 3 0 3 0 3 -0.5 3 -0.5 3 -0.5 3 -0.5 3 -1 3 -0.5 3 0 3 -0.5 3 -0.5 3 -0.5 3 -0.5 3 -0.5 3 0.5" vector-effect="non-scaling-stroke"/>
<path id="gc2_11" d="M30 594l10.5 37 1 23 3 7.5 3 14.5 3 16.5 3 12 3 5.5 3 -1.5 3 -7 3 -10 3 -8.5 3 -6 3 -1.5 3 2 3 5 3 6 3 5 3 4 3 3 3 2 3 2.5 3 3 3 3.5 3 3 3 2.5 3 0.5 3 -1 3 -2 3 -3.5 3 -3 3 -3.5 3 -2.5 3 -1.5 3 -1 3 -0.5 3 0.5 3 0.5 3 0 3 0 3 0 3 0 3 0.5 3 1 3 1.5 3 1 3 1.5 3 0.5 3 1 3 0.5 3 0 3 -0.5 3 -0.5 3 -0.5 3 -0.5 3 0 3 0 3 -0.5 3 0.5 3 -0.5 3 1 3 0 3 0.5 3 0 3 0 3 -0.5 3 -1 3 -1 3 -1 3 -1 3 -1 3 -0.5 3 0 3 0 3 0.5 3 0.5 3 1 3 1 3 1 3 1 3 0.5 3 0.5 3 0.5 3 -0.5 3 -0.5 3 -0.5 3 -1 3 -1 3 -1 3 -0.5 3 0 3 0.5 3 0.5 3 1 3 1 3 1 3 1 3 0 3 -0.5 3 -0.5 3 -0.5 3 -1 3 -1 3 -0.5 3 -1 3 -0.5 3 0 3 -0.5 3 0.5 3 0.5 3 0.5 3 0.5 3 0.5 3 1 3 1 3 0.5 3 0.5 3 0.5 3 -0.5 3 0 3 -0.5 3 -0.5 3 -1 3 -0.5 3 0 3 -0.5 3 0 3 -0.5 3 0.5 3 0 3 0 3 0.5 3 0.5 3 0 3 0.5 3 0 3 -0.5 3 0 3 0.5 3 0 3 0.5 3 1 3 0.5 3 0.5 3 0 3 0 3 -0.5 3 -1 3 -1 3 -1 3 -0.5 3 -1 3 -0.5 3 0 3 -0.5 3 0.5 3 0 3 0.5 3 1 3 1 3 1 3 1 3 0 3 0.5 3 -0.5 3 -1 3 -1 3 -1 3 -0.5 3 -1 3 -0.5 3 0 3 0.5 3 0.5 3 1" vector-effect="non-scaling-stroke"/>
<path id="gc2_12" d="M30 610l10.5 43 1 17 3 22.5 3 17 3 8.5 3 -1 3 -7.5 3 -9.5 3 -9 3 -7 3 -3.5 3 -0.5 3 2 3 3 3 3.5 3 2.5 3 3 3 2.5 3 2 3 3 3 3 3 3.5 3 3 3 2.5 3 0.5 3 0 3 -1 3 -1.5 3 -2 3 -2 3 -2 3 -2 3 -2 3 -1.5 3 -1 3 -0.5 3 0 3 0.5 3 0.5 3 0.5 3 0.5 3 0.5 3 0.5 3 0 3 0 3 0 3 0 3 0.5 3 0.5 3 0.5 3 0 3 0.5 3 0 3 0.5 3 0 3 0 3 0 3 0 3 0.5 3 0 3 0 3 -0.5 3 0 3 -0.5 3 -0.5 3 0 3 0.5 3 0 3 1 3 1 3 1 3 1 3 0.5 3 0.5 3 0.5 3 -0.5 3 -0.5 3 -0.5 3 0 3 -0.5 3 0.5 3 0.5 3 0.5 3 0.5 3 0.5 3 0 3 -0.5 3 -1 3 -1 3 -1 3 -1 3 -1 3 -1 3 -0.5 3 0 3 0 3 0.5 3 0.5 3 1 3 1 3 1 3 1 3 0 3 -0.5 3 -0.5 3 -0.5 3 -0.5 3 -0.5 3 0 3 0 3 0 3 -0.5 3 -0.5 3 -0.5 3 -0.5 3 0 3 0 3 0.5 3 1 3 1.5 3 1 3 0 3 0.5 3 0 3 -0.5 3 -0.5 3 -0.5 3 -0.5 3 -0.5 3 -1 3 -0.5 3 -0.5 3 -0.5 3 0 3 0.5 3 1 3 1.5 3 1.5 3 1 3 0.5 3 0 3 -0.5 3 -1 3 -1 3 -0.5 3 -0.5 3 -1 3 0 3 -0.5 3 -0.5 3 -0.5 3 -1 3 -1 3 -0.5 3 -0.5 3 -0.5 3 -0.5 3 0.5 3 0 3 1 3 0.5 3 1 3 0.5 3 1 3 0.5 3 0.5 3 0.5 3 0.5 3 0.5 3 0 3 0.5 3 0 3 0 3 0" vector-effect="non-scaling-stroke"/>
<path id="gc2_13" d="M30 599l10.5 51 1 9 3 31.5 3 25 3 15 3 3.5 3 -5.5 3 -11.5 3 -14 3 -14 3 -11.5 3 -7.5 3 -2.5 3 2 3 5.5 3 7.5 3 8.5 3 8 3 6.5 3 4.5 3 3 3 1.5 3 0 3 -1 3 -1.5 3 -2 3 -1.5 3 -1 3 -1 3 -1 3 -1 3 -1 3 -1.5 3 -2 3 -1.5 3 -1 3 -1 3 -1 3 0 3 0.5 3 0.5 3 1 3 1.5 3 1.5 3 2 3 2 3 1.5 3 1 3 0.5 3 0.5 3 0 3 -0.5 3 -0.5 3 0 3 0 3 0 3 0 3 0 3 0 3 0 3 -0.5 3 0 3 -0.5 3 0 3 -0.5 3 0 3 0 3 -0.5 3 0 3 -0.5 3 0 3 -0.5 3 0 3 0 3 0 3 1 3 0.5 3 0.5 3 0.5 3 0.5 3 0 3 -0.5 3 -1 3 -0.5 3 -1 3 -0.5 3 -0.5 3 0 3 0 3 0.5 3 0 3 0.5 3 0 3 0.5 3 0.5 3 1 3 0.5 3 0.5 3 0 3 0 3 -0.5 3 0 3 0 3 0 3 0.5 3 0.5 3 0.5 3 0 3 0 3 -0.5 3 -1 3 0 3 -0.5 3 0 3 0.5 3 0.5 3 0.5 3 0 3 0.5 3 0 3 0.5 3 0 3 0 3 -0.5 3 -0.5 3 -0.5 3 -1 3 0 3 -0.5 3 0 3 0 3 0 3 0 3 -0.5 3 0.5 3 0 3 0.5 3 0.5 3 0.5 3 0 3 0 3 -0.5 3 -1 3 -1 3 -0.5 3 -0.5 3 0 3 0 3 0.5 3 1 3 1 3 0.5 3 0.5 3 -0.5 3 -0.5 3 0 3 -0.5 3 -0.5 3 0 3 0.5 3 0.5 3 1 3 0 3 0.5 3 -0.5 3 -0.5 3 -0.5 3 -1.5 3 -0.5 3 -0.5 3 0 3 0 3 1 3 1" vector-effect="non-scaling-stroke"/>
<path id="gc2_14" d="M30 629l10.5 53.5 1 6.5 3 22 3 11.5 3 1 3 -9 3 -13.5 3 -12.5 3 -9.5 3 -4.5 3 0 3 3.5 3 5.5 3 5.5 3 5 3 3 3 2 3 1 3 1 3 1 3 2 3 2.5 3 3 3 2.5 3 1 3 0.5 3 -1 3 -2.5 3 -3 3 -3.5 3 -3.5 3 -3 3 -2 3 -1 3 -0.5 3 0.5 3 0.5 3 1 3 0.5 3 0.5 3 0.5 3 0.5 3 0.5 3 0.5 3 1 3 1 3 1 3 1 3 0.5 3 1 3 0 3 0 3 0 3 0 3 0 3 0 3 0 3 -0.5 3 -0.5 3 0 3 -0.5 3 -0.5 3 0 3 0.5 3 0.5 3 1 3 0.5 3 0.5 3 -0.5 3 0 3 -0.5 3 -0.5 3 0 3 0 3 0 3 0.5 3 0.5 3 0 3 0 3 0 3 0 3 0 3 -0.5 3 0 3 0 3 0.5 3 0 3 0.5 3 0.5 3 0.5 3 0.5 3 0 3 0.5 3 0 3 1 3 0.5 3 0.5 3 0 3 0 3 -0.5 3 -0.5 3 -0.5 3 -1 3 0 3 0 3 0 3 0 3 0 3 0 3 0 3 0 3 0 3 -0.5 3 0 3 -0.5 3 0 3 -1 3 -0.5 3 -1 3 -0.5 3 0 3 0 3 0 3 0.5 3 1 3 1 3 1 3 1 3 1.5 3 1.5 3 0.5 3 0.5 3 0 3 -1 3 -1 3 -1.5 3 -1.5 3 -1 3 -0.5 3 -0.5 3 0.5 3 0.5 3 0.5 3 0.5 3 0 3 0 3 0 3 -0.5 3 -0.5 3 -0.5 3 -0.5 3 -0.5 3 -0.5 3 0 3 0 3 0.5 3 0 3 0.5 3 1 3 0.5 3 1 3 0.5 3 1 3 0.5 3 0 3 0.5 3 -0.5 3 -0.5 3 -0.5 3 -0.5 3 -0.5 3 -0.5 3 -1 3 -0.5" vector-effect="non-scaling-stroke"/>
<path id="gc2_15" d="M30 632l10.5 59.5 1 0.5 3 25.5 3 14 3 2 3 -8.5 3 -14 3 -14.5 3 -12.5 3 -8 3 -3 3 1 3 4 3 5 3 5 3 4.5 3 3 3 1.5 3 1.5 3 2 3 2 3 3 3 3 3 3 3 2 3 1.5 3 0 3 -0.5 3 -1.5 3 -2 3 -3 3 -3 3 -3 3 -3 3 -1.5 3 -1 3 -0.5 3 0.5 3 0.5 3 1 3 1 3 1 3 0.5 3 1 3 0 3 0.5 3 1 3 0 3 1 3 0.5 3 0.5 3 0.5 3 0 3 0.5 3 0 3 0 3 -0.5 3 0 3 0 3 0 3 0 3 0 3 0 3 0 3 -0.5 3 -0.5 3 -0.5 3 0 3 -0.5 3 0 3 0.5 3 0.5 3 -0.5 3 0.5 3 0.5 3 0 3 -0.5 3 0 3 -0.5 3 -0.5 3 -0.5 3 -0.5 3 -0.5 3 -0.5 3 0 3 0.5 3 1 3 2 3 1.5 3 1.5 3 1 3 0.5 3 0 3 -1 3 -1 3 -0.5 3 -0.5 3 0 3 0 3 0.5 3 0 3 0 3 0.5 3 -0.5 3 0 3 -0.5 3 -0.5 3 -0.5 3 -0.5 3 0 3 0 3 0 3 0.5 3 0 3 0 3 0 3 0 3 -0.5 3 -0.5 3 0 3 0 3 0.5 3 1 3 0.5 3 0.5 3 0 3 0 3 -0.5 3 -0.5 3 -0.5 3 -0.5 3 0 3 0 3 1 3 0.5 3 0.5 3 0.5 3 0 3 0.5 3 0 3 0.5 3 0.5 3 0.5 3 1 3 0 3 0 3 -0.5 3 -0.5 3 -1 3 -1 3 -1 3 -1 3 -1 3 -0.5 3 -0.5 3 -0.5 3 0 3 -0.5 3 -0.5 3 -0.5 3 -0.5 3 0.5 3 0 3 0.5 3 1 3 1 3 1 3 1 3 1 3 0.5 3 0 3 0.5 3 -0.5 3 -0.5" vector-effect="non-scaling-stroke"/>
<path id="gc3_0" d="M30 709l10.5 49.5 1 10.5 3 20.5 3 20 3 17.5 3 14.5 3 8.5 3 2 3 -0.5 3 -2.5 3 -2.5 3 -4 3 -5 3 -5 3 -5.5 3 -6 3 -5.5 3 -5.5 3 -5 3 -5 3 -5 3 -4 3 -3 3 -1.5 3 0 3 2 3 2.5 3 3.5 3 3 3 2.5 3 2.5 3 2 3 1.5 3 1.5 3 2 3 1.5 3 2 3 1.5 3 1.5 3 1 3 1.5 3 1 3 1 3 0.5 3 0.5 3 0 3 0.5 3 -0.5 3 -0.5 3 -0.5 3 -1 3 -1 3 -1.5 3 -2 3 -2 3 -2 3 -2 3 -1 3 -1 3 -0.5 3 0 3 0 3 -0.5 3 -0.5 3 -0.5 3 -0.5 3 -1 3 -1 3 -0.5 3 0.5 3 0.5 3 0.5 3 1 3 1.5 3 1.5 3 1 3 0.5 3 0 3 0 3 0 3 0 3 0 3 -0.5 3 0.5 3 0.5 3 0.5 3 1 3 1 3 1 3 1 3 1 3 0.5 3 0.5 3 -0.5 3 0 3 -0.5 3 -0.5 3 -1 3 -1 3 -1.5 3 -2 3 -1.5 3 -1 3 -1.5 3 -0.5 3 0 3 1 3 0.5 3 1 3 1.5 3 0.5 3 1 3 0.5 3 0.5 3 0 3 0 3 0 3 -1 3 0 3 0 3 0.5 3 0.5 3 0.5 3 0.5 3 0 3 -0.5 3 0 3 0 3 0 3 0.5 3 1.5 3 1 3 0.5 3 1 3 0 3 -1 3 0 3 -1 3 -0.5 3 -1 3 0 3 0 3 0.5 3 0.5 3 0 3 0 3 0 3 -1 3 0 3 -1.5 3 -1 3 -0.5 3 0 3 0.5 3 1 3 1.5 3 1 3 1.5 3 0.5 3 0.5 3 0.5 3 0 3 0 3 0 3 0 3 0 3 0.5 3 0.5 3 1 3 1.5 3 1 3 2 3 0.5 3 0.5" vector-effect="non-scaling-stroke"/>
<path id="gc3_1" d="M30 712.5l10.5 54 1 6 3 19.5 3 19 3 16.5 3 13.5 3 8 3 2 3 -1.5 3 -3 3 -4 3 -5 3 -5.5 3 -5.5 3 -5 3 -4 3 -4 3 -3.5 3 -3.5 3 -3.5 3 -3.5 3 -3.5 3 -2 3 -0.5 3 0.5 3 1.5 3 1.5 3 2.5 3 1.5 3 1.5 3 1 3 1 3 0.5 3 1 3 1.5 3 1 3 1 3 1.5 3 1.5 3 2 3 2 3 2 3 2 3 2 3 1 3 1 3 0.5 3 -0.5 3 -1 3 -1 3 -0.5 3 -1.5 3 -1 3 -1 3 -2 3 -2 3 -2.5 3 -2.5 3 -2.5 3 -2 3 -1.5 3 -1 3 -0.5 3 0 3 0 3 0 3 1 3 1 3 1.5 3 1 3 1 3 1.5 3 1 3 0.5 3 0 3 0.5 3 0 3 1 3 0 3 1 3 0.5 3 1 3 0.5 3 0 3 0 3 0.5 3 -0.5 3 0 3 0 3 0 3 -0.5 3 0 3 -0.5 3 0 3 0.5 3 0 3 0 3 0.5 3 0 3 0.5 3 0.5 3 0.5 3 0.5 3 0.5 3 1 3 0 3 0.5 3 -0.5 3 -0.5 3 0 3 -0.5 3 -1 3 -0.5 3 -1.5 3 -1.5 3 -2 3 -2.5 3 -1.5 3 -0.5 3 -1 3 0.5 3 1 3 1 3 0.5 3 0.5 3 0.5 3 -0.5 3 0 3 0.5 3 1 3 1 3 1.5 3 2.5 3 1.5 3 1.5 3 1 3 0 3 0 3 0.5 3 0.5 3 0 3 0 3 -0.5 3 -0.5 3 -1 3 -1.5 3 -1 3 -1 3 -0.5 3 0 3 0 3 0 3 0 3 0 3 -0.5 3 -0.5 3 -0.5 3 0.5 3 0 3 0 3 0 3 -0.5 3 0 3 -1.5 3 -1 3 0 3 0.5 3 1 3 1.5 3 1.5 3 1 3 0.5 3 0 3 -2" vector-effect="non-scaling-stroke"/>
<path id="gc3_2" d="M30 714l10.5 46.5 1 13.5 3 20 3 19 3 17 3 13.5 3 8 3 1.5 3 -1.5 3 -1 3 -3 3 -3 3 -4 3 -5 3 -5.5 3 -5.5 3 -5.5 3 -5.5 3 -5 3 -5 3 -4 3 -2.5 3 -3 3 -1 3 0 3 1 3 2 3 2 3 2 3 2.5 3 3 3 2.5 3 4 3 3.5 3 3.5 3 3 3 3 3 2 3 1.5 3 0.5 3 -0.5 3 -0.5 3 -1 3 -0.5 3 0 3 0.5 3 0 3 0.5 3 0 3 -0.5 3 -2 3 -2.5 3 -2.5 3 -2.5 3 -2.5 3 -1 3 -1 3 -0.5 3 -1 3 -0.5 3 -1 3 -0.5 3 -1 3 -0.5 3 -0.5 3 0.5 3 1 3 1 3 1.5 3 1 3 0.5 3 1 3 0 3 0 3 -0.5 3 -0.5 3 -0.5 3 -0.5 3 0 3 0.5 3 0 3 1 3 0.5 3 1 3 1 3 1 3 1 3 0.5 3 0.5 3 0.5 3 0 3 0 3 -0.5 3 -0.5 3 -0.5 3 -1 3 -1.5 3 -2 3 -2 3 -1 3 -1 3 0 3 0.5 3 1.5 3 1.5 3 1 3 1.5 3 0.5 3 0.5 3 0 3 0.5 3 0 3 -0.5 3 0 3 -0.5 3 -0.5 3 -1 3 0 3 0.5 3 0 3 1 3 0.5 3 0 3 -0.5 3 -0.5 3 -1 3 -0.5 3 -1.5 3 -1 3 -1 3 -0.5 3 0.5 3 1 3 1 3 1.5 3 1.5 3 1.5 3 1 3 1 3 0 3 0 3 -0.5 3 -0.5 3 -1 3 -2 3 -1.5 3 -1.5 3 -1 3 -1 3 -1 3 0 3 -0.5 3 0.5 3 1 3 0.5 3 0.5 3 0.5 3 0 3 0.5 3 -0.5 3 0 3 0 3 0 3 0.5 3 -0.5 3 -1 3 -1 3 -0.5 3 -1.5 3 -0.5 3 0 3 1 3 1.5 3 1.5" vector-effect="non-scaling-stroke"/>
<path id="gc3_3" d="M30 702.5l10.5 55.5 1 4.5 3 21.5 3 21 3 19 3 15.5 3 9.5 3 2.5 3 -1.5 3 -2.5 3 -3 3 -4 3 -5 3 -4.5 3 -5.5 3 -4.5 3 -5.5 3 -5 3 -5 3 -5 3 -4 3 -3.5 3 -2.5 3 -1.5 3 -0.5 3 0.5 3 2 3 2.5 3 3 3 3.5 3 3.5 3 3.5 3 3 3 2.5 3 2 3 2 3 1 3 1 3 1 3 0.5 3 0.5 3 1 3 0 3 0.5 3 1 3 0.5 3 1 3 0.5 3 0.5 3 -1 3 -1 3 -2.5 3 -2.5 3 -2.5 3 -3 3 -2 3 -1.5 3 -1 3 -0.5 3 -1 3 -1 3 -1 3 -1 3 -1.5 3 -1 3 -0.5 3 0 3 0.5 3 1 3 1.5 3 2 3 2 3 2 3 2 3 1 3 0.5 3 0 3 0 3 0 3 -0.5 3 0 3 0.5 3 0.5 3 1 3 1 3 1.5 3 1 3 1 3 0.5 3 0 3 -1 3 -1 3 -1 3 -2 3 -1.5 3 -0.5 3 0 3 0 3 0.5 3 0.5 3 0.5 3 0 3 0 3 -1 3 -0.5 3 0 3 -0.5 3 -1 3 0 3 -0.5 3 0 3 -0.5 3 0.5 3 0.5 3 1 3 0.5 3 1.5 3 0.5 3 1 3 0 3 0.5 3 0 3 0 3 0.5 3 0.5 3 1 3 0.5 3 0 3 -0.5 3 -2 3 -1.5 3 -2 3 -2 3 -0.5 3 -0.5 3 0.5 3 1 3 0.5 3 0 3 0 3 0.5 3 0 3 1 3 1 3 1 3 1.5 3 0.5 3 -0.5 3 -1.5 3 -1.5 3 -1.5 3 -1.5 3 -1 3 -0.5 3 1 3 1 3 2 3 1.5 3 1.5 3 1.5 3 0 3 -0.5 3 0 3 -0.5 3 -1 3 -0.5 3 -0.5 3 -0.5 3 -0.5 3 -0.5 3 -0.5 3 0 3 0 3 0" vector-effect="non-scaling-stroke"/>
<path id="gc3_4" d="M30 704l10.5 57.5 1 2.5 3 21 3 20.5 3 19 3 16 3 10 3 3.5 3 -0.5 3 -2 3 -2.5 3 -3.5 3 -4 3 -4 3 -4 3 -4 3 -4 3 -5 3 -4.5 3 -5 3 -6 3 -5.5 3 -4.5 3 -4 3 -3 3 -1.5 3 -1 3 1 3 0.5 3 2 3 3 3 3 3 3 3 4.5 3 3.5 3 3 3 3 3 3.5 3 2.5 3 2 3 2 3 2 3 1.5 3 1 3 0.5 3 0.5 3 0.5 3 0 3 -0.5 3 -0.5 3 -1 3 -2.5 3 -2 3 -2.5 3 -3 3 -2 3 -2.5 3 -1.5 3 -1.5 3 -1 3 0 3 -0.5 3 -0.5 3 -0.5 3 0 3 -0.5 3 -0.5 3 0 3 0 3 1 3 2 3 2 3 2 3 2.5 3 2 3 1.5 3 0.5 3 1 3 0 3 0.5 3 0 3 0.5 3 0.5 3 0 3 -1 3 0 3 -1 3 -0.5 3 -1 3 -0.5 3 -1 3 -0.5 3 -1 3 -0.5 3 -0.5 3 -1 3 -0.5 3 0 3 -0.5 3 0 3 0 3 0 3 -0.5 3 -0.5 3 -0.5 3 0 3 -0.5 3 1 3 1 3 0.5 3 0.5 3 0 3 -0.5 3 -0.5 3 -0.5 3 -0.5 3 0 3 0.5 3 0.5 3 1 3 0.5 3 0.5 3 0 3 0 3 0.5 3 0.5 3 0.5 3 0.5 3 0.5 3 0.5 3 -1 3 -0.5 3 -1 3 -0.5 3 -0.5 3 0.5 3 1 3 1.5 3 1.5 3 1 3 1 3 0 3 -1 3 -1 3 -2 3 -1.5 3 -1.5 3 -0.5 3 -0.5 3 1 3 1.5 3 2 3 1 3 1.5 3 0.5 3 0 3 -0.5 3 0 3 -0.5 3 0.5 3 1 3 1.5 3 1.5 3 0.5 3 1 3 0.5 3 -0.5 3 -1 3 -1 3 -2 3 -1.5 3 -2 3 -1.5 3 -1.5" vector-effect="non-scaling-stroke"/>
<path id="gc3_5" d="M30 716.5l10.5 38 1 22 3 20 3 18.5 3 16.5 3 12.5 3 7 3 0.5 3 -2 3 -2 3 -2.5 3 -3 3 -2.5 3 -4 3 -4 3 -4 3 -4.5 3 -4.5 3 -5 3 -4.5 3 -4.5 3 -4 3 -3.5 3 -1.5 3 -1 3 0 3 1 3 1.5 3 1 3 1.5 3 1.5 3 1.5 3 1.5 3 1.5 3 2.5 3 2.5 3 2.5 3 3 3 3 3 3.5 3 2.5 3 2.5 3 1.5 3 0.5 3 -0.5 3 -1 3 -2 3 -2 3 -2 3 -1.5 3 -1.5 3 -1 3 -0.5 3 0.5 3 0 3 0.5 3 0 3 0 3 -0.5 3 -1.5 3 -1.5 3 -1.5 3 -1.5 3 -0.5 3 0 3 0.5 3 0.5 3 1 3 0 3 -0.5 3 -0.5 3 -1.5 3 -1 3 -0.5 3 -0.5 3 0 3 1 3 2 3 1.5 3 1.5 3 2 3 0.5 3 0.5 3 -0.5 3 0 3 -1 3 -1 3 -0.5 3 -1 3 0 3 -0.5 3 0 3 1 3 0.5 3 2 3 0.5 3 0.5 3 -0.5 3 -1.5 3 -2 3 -3 3 -3 3 -3 3 -2 3 -1 3 0.5 3 0.5 3 2 3 2.5 3 2.5 3 2.5 3 1.5 3 1.5 3 0.5 3 -1 3 -0.5 3 -1 3 -0.5 3 1 3 1.5 3 2 3 2 3 1.5 3 0 3 -0.5 3 -1 3 -2.5 3 -3 3 -2.5 3 -2.5 3 -2.5 3 -1.5 3 -1 3 -0.5 3 1 3 1.5 3 2 3 2 3 1.5 3 2 3 1.5 3 0.5 3 0.5 3 0.5 3 0 3 0.5 3 0 3 0 3 -1 3 -0.5 3 -1 3 -0.5 3 0 3 0.5 3 0 3 0 3 0 3 -0.5 3 -2 3 -2 3 -2 3 -1.5 3 -1 3 0 3 0 3 1 3 0.5 3 1 3 0.5 3 -0.5 3 -0.5 3 0 3 -1 3 -0.5" vector-effect="non-scaling-stroke"/>
<path id="gc3_6" d="M30 704.5l10.5 48 1 12 3 20.5 3 20.5 3 18.5 3 15.5 3 9.5 3 3 3 -0.5 3 -2 3 -3 3 -4 3 -4.5 3 -4.5 3 -4.5 3 -4.5 3 -4.5 3 -4 3 -4.5 3 -4 3 -4.5 3 -3.5 3 -3 3 -2 3 -0.5 3 0.5 3 0.5 3 1.5 3 1.5 3 1.5 3 1 3 1.5 3 2 3 2 3 2.5 3 2 3 2 3 2 3 1.5 3 1.5 3 1 3 1 3 0.5 3 1 3 0 3 1 3 0 3 0 3 -0.5 3 0 3 -1 3 -0.5 3 -1 3 -1 3 -1 3 -1.5 3 -1.5 3 -2 3 -2 3 -1 3 -1.5 3 0 3 0.5 3 0 3 0.5 3 0.5 3 1 3 0 3 1.5 3 1 3 1.5 3 1.5 3 0.5 3 1 3 -0.5 3 -1 3 -2 3 -2 3 -2 3 -1.5 3 -0.5 3 -0.5 3 0.5 3 1 3 1.5 3 1.5 3 1 3 2 3 1.5 3 1.5 3 1 3 1 3 0.5 3 -0.5 3 -1 3 -1.5 3 -2 3 -1.5 3 -1.5 3 -1 3 -0.5 3 0.5 3 0 3 0.5 3 -0.5 3 -0.5 3 -0.5 3 -0.5 3 0 3 0.5 3 0 3 0.5 3 1 3 0 3 0 3 0.5 3 -0.5 3 -1 3 -0.5 3 0 3 -0.5 3 -1 3 -0.5 3 -0.5 3 -0.5 3 -1 3 -0.5 3 -0.5 3 -0.5 3 0.5 3 0.5 3 1 3 1.5 3 1.5 3 1.5 3 1.5 3 1 3 0.5 3 1 3 0 3 0.5 3 0 3 1 3 0.5 3 0 3 0 3 0 3 -0.5 3 -0.5 3 0 3 0 3 -0.5 3 0 3 0 3 -0.5 3 0 3 0 3 0 3 0 3 0.5 3 0 3 -0.5 3 -0.5 3 -1 3 -0.5 3 -0.5 3 0 3 0 3 0 3 0.5 3 0.5 3 1 3 -0.5 3 1" vector-effect="non-scaling-stroke"/>
<path id="gc3_7" d="M30 702.5l10.5 53 1 7 3 19.5 3 19.5 3 17 3 14 3 8.5 3 2 3 -0.5 3 -1 3 -1 3 -1.5 3 -2 3 -3 3 -3.5 3 -4.5 3 -5 3 -5 3 -5 3 -4.5 3 -4 3 -3.5 3 -3 3 -1.5 3 -1 3 0 3 1 3 1.5 3 2 3 1.5 3 2 3 2.5 3 1.5 3 2 3 2.5 3 2 3 3 3 2 3 1.5 3 0.5 3 0.5 3 0 3 -1 3 -1 3 -0.5 3 0 3 0 3 0.5 3 0.5 3 0 3 0.5 3 0 3 -0.5 3 -0.5 3 -1.5 3 -1.5 3 -2 3 -1.5 3 -1.5 3 -1 3 -0.5 3 0 3 0.5 3 1 3 1.5 3 1.5 3 1.5 3 1 3 0.5 3 0.5 3 0.5 3 0.5 3 0.5 3 0.5 3 0.5 3 0.5 3 -0.5 3 0 3 -1.5 3 -0.5 3 -0.5 3 -0.5 3 0.5 3 0.5 3 1 3 1 3 1 3 0 3 -0.5 3 -0.5 3 -0.5 3 0 3 0.5 3 1 3 1.5 3 1 3 1 3 1 3 0.5 3 -0.5 3 -1 3 -0.5 3 -1 3 -0.5 3 -0.5 3 0 3 0 3 0 3 0 3 -0.5 3 -1 3 -1.5 3 -1 3 -1 3 -1.5 3 -1.5 3 -1.5 3 -1.5 3 -1 3 -0.5 3 0 3 0.5 3 1 3 1 3 1 3 0.5 3 0 3 0 3 0 3 -0.5 3 -0.5 3 0.5 3 0 3 0 3 0 3 -0.5 3 0 3 -1 3 -0.5 3 0 3 0 3 1 3 0.5 3 1 3 1 3 0 3 0 3 -1 3 -1 3 -0.5 3 -0.5 3 0 3 0 3 0.5 3 0.5 3 0.5 3 0 3 0 3 0.5 3 0.5 3 0.5 3 0.5 3 1 3 0 3 0.5 3 -0.5 3 0 3 -0.5 3 -0.5 3 -1 3 -1 3 -1 3 -1.5 3 -0.5" vector-effect="non-scaling-stroke"/>
<path id="gc3_8" d="M30 707l10.5 47 1 13 3 18 3 18 3 16.5 3 13.5 3 8.5 3 2.5 3 0.5 3 -0.5 3 -1.5 3 -1.5 3 -3.5 3 -3.5 3 -4.5 3 -5 3 -4.5 3 -5 3 -4.5 3 -4.5 3 -3.5 3 -3 3 -3 3 -1.5 3 -1 3 0 3 0 3 1 3 0.5 3 1.5 3 2 3 2.5 3 2.5 3 3 3 3.5 3 3.5 3 3 3 3.5 3 2.5 3 1.5 3 -0.5 3 -0.5 3 -1.5 3 -1.5 3 -1 3 -0.5 3 -0.5 3 1 3 0.5 3 1 3 -0.5 3 -0.5 3 0 3 -1 3 -0.5 3 -1 3 -1 3 -1.5 3 -1 3 -1.5 3 -2 3 -1.5 3 -1.5 3 -0.5 3 0 3 0 3 0.5 3 0.5 3 0 3 0.5 3 -0.5 3 -0.5 3 -0.5 3 0 3 0 3 0.5 3 0.5 3 0.5 3 0.5 3 1 3 1 3 0.5 3 1 3 1.5 3 0.5 3 1 3 0 3 0.5 3 0 3 0.5 3 -0.5 3 0 3 -0.5 3 -0.5 3 0 3 0 3 0 3 0.5 3 1 3 0 3 0 3 0 3 0 3 0 3 -0.5 3 0 3 0.5 3 0 3 0.5 3 -0.5 3 0 3 -1 3 -1.5 3 -2 3 -1.5 3 -2 3 -1.5 3 -0.5 3 0 3 0 3 1 3 0 3 0.5 3 0.5 3 0 3 0.5 3 1 3 1 3 1 3 1.5 3 1 3 0.5 3 -0.5 3 -0.5 3 -1 3 -1.5 3 -0.5 3 0 3 0.5 3 1 3 1.5 3 1.5 3 0 3 0 3 -1 3 -1 3 -2 3 -1 3 -1.5 3 -1.5 3 -1 3 -1 3 0 3 0 3 0.5 3 1.5 3 1.5 3 1 3 0.5 3 0 3 0 3 -0.5 3 -0.5 3 -0.5 3 0 3 0.5 3 0 3 0 3 0 3 0.5 3 0.5 3 0.5 3 0.5 3 0.5" vector-effect="non-scaling-stroke"/>
<path id="gc3_9" d="M30 709l10.5 34 1 26 3 20 3 20 3 18 3 14.5 3 8.5 3 2 3 -1.5 3 -2.5 3 -3.5 3 -4 3 -5 3 -5 3 -5.5 3 -5 3 -4.5 3 -4 3 -4.5 3 -3 3 -4 3 -3 3 -3.5 3 -2.5 3 -1.5 3 -0.5 3 1 3 1.5 3 2.5 3 2.5 3 3 3 3 3 2.5 3 2.5 3 1.5 3 1.5 3 1 3 1.5 3 1.5 3 1.5 3 2 3 2 3 2.5 3 2 3 1 3 0.5 3 0 3 -0.5 3 -0.5 3 -1.5 3 -0.5 3 -1 3 -1 3 -1 3 -2 3 -2.5 3 -2.5 3 -2.5 3 -2 3 -1.5 3 -1 3 0 3 1 3 0.5 3 1 3 0.5 3 0.5 3 0.5 3 0 3 0.5 3 0 3 0 3 0.5 3 0 3 0.5 3 0.5 3 1.5 3 1.5 3 2.5 3 2.5 3 3 3 2.5 3 1.5 3 1 3 0.5 3 -1 3 -1.5 3 -2 3 -2 3 -1.5 3 -2 3 -1 3 -1 3 -1 3 -1 3 -1 3 -1 3 -0.5 3 -1 3 -0.5 3 0 3 -0.5 3 0 3 -0.5 3 0 3 -0.5 3 0 3 1 3 0.5 3 1 3 1.5 3 1.5 3 1.5 3 0.5 3 0.5 3 0 3 -0.5 3 -1 3 -1 3 -1 3 -1.5 3 -1.5 3 -2 3 -1 3 -0.5 3 -1 3 0.5 3 0.5 3 1.5 3 1 3 1.5 3 0.5 3 0.5 3 -0.5 3 -0.5 3 -0.5 3 -1 3 0 3 0 3 -0.5 3 0 3 0.5 3 0.5 3 0 3 0 3 0.5 3 1 3 0.5 3 0.5 3 0.5 3 -0.5 3 -0.5 3 -1.5 3 -0.5 3 -1 3 0 3 0 3 1 3 1 3 0.5 3 1 3 0.5 3 -0.5 3 0 3 0 3 0 3 0.5 3 0.5 3 1 3 2 3 0.5 3 1 3 0.5 3 0" vector-effect="non-scaling-stroke"/>
<path id="gc3_10" d="M30 711.5l10.5 36 1 24 3 19.5 3 19 3 17.5 3 13 3 8 3 1.5 3 -1.5 3 -2.5 3 -2.5 3 -3 3 -3 3 -4 3 -3.5 3 -4 3 -4 3 -3.5 3 -4 3 -3.5 3 -3.5 3 -3.5 3 -3 3 -3 3 -3 3 -1.5 3 -1 3 -0.5 3 1 3 1.5 3 2.5 3 3 3 2.5 3 2.5 3 2 3 1 3 0.5 3 1 3 0 3 0.5 3 0.5 3 0.5 3 0.5 3 1 3 0.5 3 0.5 3 1 3 0.5 3 0.5 3 0 3 -0.5 3 0 3 -1 3 -1.5 3 -1.5 3 -2 3 -2.5 3 -1.5 3 -1.5 3 -1 3 -0.5 3 1 3 1.5 3 1.5 3 1.5 3 2 3 1.5 3 1 3 1 3 0 3 0 3 0 3 0 3 0 3 0.5 3 0.5 3 0.5 3 1.5 3 0.5 3 1 3 1 3 1 3 1.5 3 1 3 0 3 0.5 3 0 3 -0.5 3 -0.5 3 -1.5 3 -1.5 3 -1 3 -1 3 -0.5 3 -0.5 3 0 3 0.5 3 0 3 -0.5 3 -0.5 3 -1.5 3 -2 3 -1.5 3 -2 3 -1.5 3 -1.5 3 -0.5 3 -0.5 3 0.5 3 1 3 1 3 2 3 2 3 2.5 3 1.5 3 0.5 3 0 3 -1 3 -1 3 -2 3 -1 3 -0.5 3 -0.5 3 0.5 3 0 3 0.5 3 -0.5 3 0 3 0 3 0 3 0.5 3 1.5 3 2 3 2 3 2 3 1.5 3 1 3 0.5 3 -0.5 3 -1 3 -2 3 -2 3 -1.5 3 -1 3 -0.5 3 0 3 0.5 3 1 3 1 3 0 3 0 3 -0.5 3 -0.5 3 -0.5 3 0 3 0 3 0 3 0 3 0.5 3 0.5 3 -0.5 3 -1 3 -0.5 3 -1.5 3 -2 3 -2 3 -2 3 -1 3 -0.5 3 0 3 1 3 1 3 1.5 3 2" vector-effect="non-scaling-stroke"/>
<path id="gc3_11" d="M30 708.5l10.5 31 1 29 3 19.5 3 19.5 3 17.5 3 15 3 9.5 3 3 3 -0.5 3 -2 3 -3 3 -3.5 3 -4 3 -3.5 3 -3.5 3 -3 3 -3.5 3 -4 3 -5 3 -5 3 -5 3 -5 3 -3.5 3 -2.5 3 -1 3 0 3 0.5 3 1.5 3 1.5 3 1.5 3 2.5 3 2.5 3 3 3 3 3 3.5 3 2 3 2.5 3 1.5 3 0.5 3 -0.5 3 -0.5 3 -1 3 -0.5 3 0 3 0 3 0.5 3 1 3 0.5 3 0.5 3 0 3 -0.5 3 0 3 -0.5 3 -1 3 -2 3 -2 3 -3 3 -3 3 -2 3 -1 3 0 3 1.5 3 2.5 3 2.5 3 1.5 3 1 3 0.5 3 -1 3 -1.5 3 -2 3 -2 3 -1 3 -1 3 0 3 0.5 3 0.5 3 1.5 3 1.5 3 2 3 1.5 3 1.5 3 1 3 0.5 3 0 3 -1.5 3 -1 3 -1 3 -0.5 3 0.5 3 0.5 3 0.5 3 0.5 3 0 3 -0.5 3 -1 3 -1 3 -1 3 0 3 0 3 0.5 3 1 3 0 3 0.5 3 0 3 0 3 -0.5 3 -1.5 3 -1.5 3 -1.5 3 -1 3 -1 3 -0.5 3 0 3 0 3 0.5 3 1 3 1 3 1 3 1 3 1.5 3 1 3 1 3 -0.5 3 0.5 3 -1 3 -1 3 -1 3 -1.5 3 -1 3 -0.5 3 0 3 0 3 1 3 1 3 1 3 1 3 0.5 3 0 3 0 3 -0.5 3 -1 3 -0.5 3 0.5 3 0 3 1 3 1.5 3 1 3 1.5 3 0.5 3 0 3 -1 3 -1.5 3 -1.5 3 -1.5 3 -1.5 3 -1 3 0 3 0 3 0.5 3 1 3 1.5 3 1.5 3 1.5 3 1 3 0.5 3 0.5 3 -1.5 3 -1 3 -1.5 3 -2 3 -2 3 -1.5 3 0 3 0.5" vector-effect="non-scaling-stroke"/>
<path id="gc4_0" d="M30 903l10.5 31.5 1 28.5 3 5.5 3 3.5 3 -1.5 3 -8.5 3 -11 3 -11 3 -8.5 3 -5 3 -4.5 3 -1 3 1.5 3 2.5 3 4.5 3 5.5 3 5.5 3 5 3 5.5 3 7 3 6.5 3 8 3 7.5 3 6.5 3 4 3 2 3 1 3 -1 3 -1 3 -1.5 3 -3.5 3 -2.5 3 -3 3 -2.5 3 -1.5 3 0.5 3 0 3 1 3 4 3 3 3 4 3 5.5 3 4.5 3 6 3 4.5 3 4.5 3 4 3 2.5 3 0 3 -0.5 3 -2 3 -3 3 -4 3 -4 3 -4 3 -4.5 3 -4 3 -1.5 3 -1 3 -1 3 1 3 2 3 3 3 3.5 3 2.5 3 4 3 3 3 3 3 3 3 3 3 2.5 3 1.5 3 1.5 3 1.5 3 2 3 1.5 3 3 3 1 3 1.5 3 1 3 0.5 3 -0.5 3 -0.5 3 -1.5 3 -1.5 3 -2 3 -3 3 -2 3 -4 3 -3 3 -4.5 3 -4 3 -3 3 -2 3 -2.5 3 -3 3 -1.5 3 -1 3 -0.5 3 0.5 3 2.5 3 2 3 2.5 3 2 3 3 3 3 3 3.5 3 1.5 3 3 3 1 3 1 3 1.5 3 0 3 0 3 0.5 3 0.5 3 0.5 3 1 3 0.5 3 0 3 0.5 3 1 3 0.5 3 0 3 1 3 0 3 -0.5 3 0.5 3 2.5 3 1 3 3.5 3 4 3 2.5 3 4.5 3 3 3 3 3 3.5 3 2 3 -0.5 3 -0.5 3 -1 3 -2.5 3 -3.5 3 -3.5 3 -2.5 3 -3.5 3 -2.5 3 -1.5 3 -1 3 0 3 2 3 1 3 1.5 3 2.5 3 0.5 3 2.5 3 1 3 1 3 1 3 1 3 0 3 -0.5 3 -0.5 3 -0.5 3 0 3 -0.5 3 0.5 3 1 3 -0.5 3 0 3 0 3 -1.5 3 -1.5 3 0" vector-effect="non-scaling-stroke"/>
<path id="gc4_1" d="M30 919.5l10.5 51 1 9 3 2.5 3 1 3 -4.5 3 -10 3 -13 3 -12.5 3 -9.5 3 -6.5 3 -6 3 -2.5 3 0.5 3 2 3 4 3 5.5 3 5 3 5 3 4.5 3 6.5 3 7.5 3 7 3 6.5 3 5.5 3 3 3 2.5 3 -0.5 3 0 3 -1 3 -2 3 -1.5 3 -0.5 3 -0.5 3 1.5 3 1.5 3 3 3 3 3 4 3 5 3 4 3 4.5 3 3.5 3 4 3 2.5 3 3 3 2 3 -0.5 3 0.5 3 -1.5 3 -1.5 3 -1 3 -4.5 3 -2.5 3 -3.5 3 -3.5 3 -3 3 -2.5 3 -2 3 -1 3 -2.5 3 -0.5 3 -1 3 0 3 -0.5 3 0.5 3 -0.5 3 0.5 3 1 3 0.5 3 1 3 2 3 1.5 3 3 3 2 3 2.5 3 4 3 4 3 3.5 3 3 3 3 3 3 3 1.5 3 2.5 3 1.5 3 2 3 2 3 0.5 3 0 3 -1.5 3 -1 3 -1.5 3 -2.5 3 -3.5 3 -2 3 -3.5 3 -4 3 -3.5 3 -2 3 -1 3 1 3 0.5 3 2.5 3 3 3 3 3 3.5 3 4.5 3 3.5 3 4 3 3.5 3 3.5 3 0.5 3 1.5 3 0 3 2 3 -1 3 1 3 0.5 3 0 3 -0.5 3 1 3 0.5 3 1 3 1 3 1 3 0 3 -0.5 3 -0.5 3 0 3 -1.5 3 -1.5 3 -1.5 3 -1 3 -3 3 -1.5 3 -2 3 -2 3 -1 3 1 3 0.5 3 2 3 0.5 3 1 3 2 3 1 3 2.5 3 2 3 1 3 0.5 3 1 3 0.5 3 -0.5 3 0 3 0.5 3 1 3 1 3 0.5 3 1.5 3 0.5 3 1.5 3 1.5 3 1 3 2 3 2 3 1 3 1 3 0 3 1 3 0.5 3 -0.5 3 -1 3 -1.5 3 -1.5 3 -2.5 3 -3.5" vector-effect="non-scaling-stroke"/>
<path id="gc4_2" d="M30 902l10.5 59 1 1 3 3.5 3 -0.5 3 -5 3 -12 3 -14 3 -14 3 -10 3 -6.5 3 -4.5 3 -2.5 3 0.5 3 3.5 3 5.5 3 6.5 3 7 3 7.5 3 6.5 3 8.5 3 8.5 3 8.5 3 7.5 3 6 3 5 3 2.5 3 1 3 1 3 0.5 3 0 3 0 3 -1.5 3 -0.5 3 0.5 3 0 3 1.5 3 0.5 3 1.5 3 1 3 1 3 1 3 2.5 3 2 3 2.5 3 2 3 3 3 3 3 3 3 1.5 3 1 3 0.5 3 -0.5 3 0 3 -0.5 3 -1 3 -2 3 -2.5 3 -2 3 -3 3 -2.5 3 -1.5 3 -1 3 -2 3 -1 3 0.5 3 0.5 3 1 3 1.5 3 1 3 3 3 3 3 3.5 3 2.5 3 2.5 3 2.5 3 1 3 1.5 3 0.5 3 -1 3 -1.5 3 -1.5 3 -3 3 -3 3 -2.5 3 -2.5 3 -2 3 -1 3 -1.5 3 0 3 1 3 1 3 2.5 3 2.5 3 3 3 2.5 3 2.5 3 3 3 2.5 3 1.5 3 2.5 3 1.5 3 0.5 3 0 3 -1 3 0.5 3 -1.5 3 -2 3 -2 3 -2 3 -3.5 3 -2.5 3 -2 3 -2 3 -2 3 -1 3 0.5 3 0.5 3 1.5 3 2.5 3 3.5 3 4.5 3 5 3 3.5 3 5.5 3 6 3 3 3 2.5 3 2.5 3 2.5 3 1.5 3 1 3 -0.5 3 -0.5 3 -0.5 3 -1.5 3 -0.5 3 -0.5 3 0 3 -0.5 3 -0.5 3 1 3 0.5 3 0.5 3 0.5 3 0 3 0 3 1 3 1.5 3 0 3 0 3 0.5 3 1 3 2 3 0.5 3 2 3 1 3 0.5 3 -1 3 0.5 3 0.5 3 -1 3 -2.5 3 -2.5 3 -3.5 3 -2.5 3 -3 3 -4 3 -3 3 -3 3 -2 3 -2.5 3 -2 3 -1 3 -2.5" vector-effect="non-scaling-stroke"/>
<path id="gc4_3" d="M30 894.5l10.5 34.5 1 25.5 3 3 3 1.5 3 -4 3 -9.5 3 -12 3 -10 3 -6 3 -3.5 3 -3 3 2 3 5 3 6 3 8.5 3 9 3 9.5 3 7.5 3 7.5 3 8.5 3 7 3 7 3 7 3 5 3 2.5 3 0.5 3 -2 3 -3.5 3 -3.5 3 -3 3 -4.5 3 -4.5 3 -4.5 3 -2.5 3 -1.5 3 -1.5 3 0.5 3 1 3 1.5 3 2.5 3 3 3 4 3 3.5 3 4.5 3 4.5 3 5 3 4.5 3 3.5 3 3.5 3 3.5 3 3 3 3 3 2.5 3 3 3 1 3 1 3 2 3 1 3 -1 3 0 3 -1 3 -2 3 -2.5 3 -2.5 3 -4 3 -4 3 -2 3 -1.5 3 -0.5 3 -2.5 3 -0.5 3 0.5 3 1 3 1 3 1.5 3 2.5 3 2.5 3 1 3 2 3 1.5 3 0.5 3 0 3 0 3 -0.5 3 -1 3 -0.5 3 -2 3 -2.5 3 -2.5 3 -1.5 3 -1.5 3 -1.5 3 -1 3 0.5 3 -0.5 3 -0.5 3 2 3 0.5 3 1 3 1.5 3 0.5 3 1 3 0 3 0.5 3 -1.5 3 0.5 3 -1 3 -1 3 0 3 -1 3 0.5 3 0 3 -0.5 3 0 3 -0.5 3 1.5 3 0 3 0 3 1.5 3 1.5 3 1 3 3 3 1.5 3 2.5 3 3 3 3.5 3 2 3 2.5 3 2 3 1.5 3 1 3 -0.5 3 -1 3 -1.5 3 -1 3 -2.5 3 -3 3 -2 3 -2.5 3 -1.5 3 -0.5 3 0 3 0.5 3 2 3 1.5 3 2 3 2.5 3 4 3 4 3 2.5 3 3 3 3 3 2 3 1 3 1.5 3 -1 3 -1 3 -0.5 3 -2 3 -2.5 3 -3.5 3 -3.5 3 -3.5 3 -4 3 -3 3 -2 3 -1 3 -1.5 3 -2 3 0 3 1 3 1 3 1.5 3 2.5" vector-effect="non-scaling-stroke"/>
<path id="gc4_4" d="M30 905l10.5 40 1 20 3 6 3 1.5 3 -3 3 -11 3 -13 3 -14.5 3 -9.5 3 -6.5 3 -6.5 3 -3.5 3 -0.5 3 2.5 3 4.5 3 6.5 3 7 3 6.5 3 7 3 8 3 8 3 10 3 6.5 3 6 3 5 3 3 3 2 3 0 3 0.5 3 -1.5 3 -2 3 -1 3 -2.5 3 -2.5 3 -1 3 -2.5 3 -2.5 3 0 3 0 3 1 3 0.5 3 3 3 3.5 3 4.5 3 5.5 3 6 3 5 3 4.5 3 5.5 3 2.5 3 2.5 3 1.5 3 0 3 -1 3 -0.5 3 -1.5 3 -1 3 -1.5 3 -3 3 -1 3 -2 3 -1 3 -1.5 3 -1 3 -0.5 3 0 3 -0.5 3 1.5 3 1 3 0.5 3 2 3 2 3 2 3 1.5 3 3.5 3 2.5 3 1 3 1 3 2 3 2 3 0 3 2 3 1 3 2 3 1.5 3 2.5 3 2 3 3.5 3 2 3 2 3 2 3 1 3 0.5 3 0 3 -0.5 3 -2 3 -1.5 3 -1.5 3 -1.5 3 0 3 -0.5 3 0 3 0.5 3 1.5 3 1 3 2 3 1.5 3 1.5 3 0 3 -0.5 3 -0.5 3 -1 3 -2 3 -3.5 3 -2 3 -3 3 -3 3 -3 3 -0.5 3 -1.5 3 -0.5 3 1 3 2 3 1 3 1.5 3 2.5 3 3 3 3 3 1.5 3 2 3 2 3 0.5 3 0.5 3 0 3 -1 3 -1 3 0 3 -1.5 3 -2 3 -2.5 3 -3 3 -2.5 3 -3 3 -3.5 3 -2.5 3 -2 3 -2 3 -3 3 -2 3 1 3 0 3 1.5 3 1.5 3 1.5 3 2.5 3 3 3 2 3 0.5 3 1.5 3 1.5 3 0.5 3 0.5 3 0.5 3 0.5 3 0 3 1.5 3 1 3 1 3 2.5 3 2.5 3 2 3 2.5 3 1.5 3 3" vector-effect="non-scaling-stroke"/>
<path id="gc4_5" d="M30 932l10.5 54 1 6 3 7 3 3.5 3 -2 3 -7.5 3 -11.5 3 -11.5 3 -8 3 -5.5 3 -5.5 3 -1.5 3 -0.5 3 2.5 3 4 3 4 3 3.5 3 3.5 3 3.5 3 3.5 3 3.5 3 3.5 3 2.5 3 3 3 0.5 3 0 3 -1.5 3 -2.5 3 -1.5 3 -0.5 3 -0.5 3 0 3 -0.5 3 2 3 2.5 3 2.5 3 3 3 2.5 3 1.5 3 3 3 3 3 3 3 2 3 2 3 0.5 3 1.5 3 0.5 3 0 3 -0.5 3 -1 3 -2.5 3 -2.5 3 -2 3 -1.5 3 -2.5 3 -2 3 -2.5 3 -1.5 3 -0.5 3 -1 3 -0.5 3 -0.5 3 -1 3 0.5 3 0 3 0.5 3 0.5 3 1 3 1.5 3 2.5 3 3 3 2.5 3 3 3 2.5 3 3.5 3 3.5 3 4 3 4 3 3.5 3 2.5 3 2 3 1.5 3 1 3 2.5 3 2.5 3 2.5 3 2.5 3 1.5 3 2 3 2.5 3 0.5 3 2.5 3 1 3 0 3 0 3 -1.5 3 -2 3 -2.5 3 -3 3 -3.5 3 -2 3 -3 3 -2 3 -0.5 3 -2 3 -1 3 0.5 3 1.5 3 2 3 1 3 2 3 3.5 3 1.5 3 2.5 3 2 3 2 3 0.5 3 -1 3 -1.5 3 -2 3 -2.5 3 -4 3 -5 3 -4 3 -2.5 3 -1.5 3 -2 3 0.5 3 1.5 3 3.5 3 5.5 3 5 3 4 3 4.5 3 4 3 3 3 2.5 3 1.5 3 0.5 3 -1 3 -2 3 -2.5 3 -2.5 3 -2.5 3 -3 3 -4 3 -2.5 3 -2 3 -3.5 3 -3 3 -2.5 3 -2.5 3 -3.5 3 -0.5 3 -0.5 3 -1 3 0 3 -1 3 0.5 3 0.5 3 1 3 1 3 0.5 3 0.5 3 1 3 0.5 3 1.5 3 0 3 1 3 0.5 3 1 3 0.5 3 0 3 1.5" vector-effect="non-scaling-stroke"/>
<path id="gc4_6" d="M30 890.5l10.5 43.5 1 16.5 3 6 3 2 3 -2 3 -8.5 3 -11.5 3 -11 3 -7.5 3 -5 3 -4.5 3 -2 3 1 3 3 3 4 3 6.5 3 5.5 3 7.5 3 7 3 8.5 3 10 3 9 3 9.5 3 8.5 3 7.5 3 4.5 3 3 3 0 3 -0.5 3 -0.5 3 -1 3 -2.5 3 -1.5 3 -0.5 3 0 3 0 3 1.5 3 1.5 3 2.5 3 3.5 3 2.5 3 2.5 3 3.5 3 2.5 3 1.5 3 0.5 3 1 3 -0.5 3 -2 3 -2.5 3 -3.5 3 -2.5 3 -2.5 3 -4 3 -3.5 3 -3 3 -1.5 3 -2.5 3 -1 3 -1.5 3 0 3 1 3 -1 3 0.5 3 0 3 1 3 1.5 3 1 3 2 3 2.5 3 2.5 3 3.5 3 3.5 3 4 3 4.5 3 4.5 3 4.5 3 3.5 3 4 3 2 3 3.5 3 1.5 3 0.5 3 1 3 -1.5 3 -1 3 -0.5 3 -1 3 -1.5 3 0 3 -0.5 3 0 3 -0.5 3 0.5 3 2.5 3 2.5 3 1.5 3 2 3 3.5 3 2.5 3 2.5 3 0.5 3 0 3 1.5 3 -0.5 3 -0.5 3 -2.5 3 -3 3 -2 3 -1.5 3 -3 3 -2 3 -0.5 3 -0.5 3 -0.5 3 -0.5 3 2 3 2.5 3 2 3 0.5 3 1 3 1.5 3 0 3 0 3 -2.5 3 -2 3 -2.5 3 -3 3 -4 3 -4.5 3 -4 3 -4.5 3 -3.5 3 -4 3 -3 3 -2.5 3 -1 3 -1.5 3 0 3 0.5 3 2 3 2 3 1.5 3 3.5 3 3 3 2.5 3 2.5 3 1.5 3 1 3 0.5 3 -0.5 3 -2 3 -0.5 3 -1 3 -1 3 0 3 -0.5 3 1 3 2 3 3 3 4 3 3.5 3 4 3 3.5 3 3 3 2.5 3 2 3 0 3 -1 3 -1.5 3 -1.5 3 -1.5 3 -2 3 -1.5" vector-effect="non-scaling-stroke"/>
<path id="gc4_7" d="M30 896.5l10.5 36 1 24 3 9 3 4.5 3 0.5 3 -6 3 -9 3 -10 3 -6 3 -4 3 -3 3 -2 3 2.5 3 3 3 4 3 4.5 3 4 3 2 3 2.5 3 3.5 3 2.5 3 4 3 1.5 3 0.5 3 1.5 3 -1 3 -2.5 3 -0.5 3 -1 3 -0.5 3 -0.5 3 1.5 3 2 3 2.5 3 3.5 3 4 3 4 3 5.5 3 5.5 3 5 3 3.5 3 4 3 4 3 5.5 3 2 3 1.5 3 2 3 2 3 -0.5 3 0 3 -1.5 3 0 3 -1.5 3 -2 3 -1 3 -0.5 3 0 3 0 3 -0.5 3 -1 3 -0.5 3 0 3 0 3 0 3 -1 3 -1 3 -0.5 3 -0.5 3 -1.5 3 -0.5 3 -0.5 3 0 3 -1.5 3 0.5 3 1 3 1 3 1 3 1.5 3 3.5 3 3 3 3.5 3 3 3 3 3 4 3 3 3 4.5 3 3.5 3 2 3 2 3 1 3 1 3 -0.5 3 -0.5 3 -0.5 3 -1.5 3 -2 3 -2 3 -2.5 3 -2.5 3 -2 3 -0.5 3 -1 3 -0.5 3 -1 3 0 3 0.5 3 1 3 1 3 1.5 3 1 3 1 3 0.5 3 0.5 3 0.5 3 1 3 1 3 1.5 3 1 3 0 3 0.5 3 -1 3 -0.5 3 0 3 -1.5 3 -1.5 3 -3 3 -1 3 -3 3 -2 3 -2 3 -1 3 -1 3 0.5 3 0.5 3 1.5 3 1.5 3 1 3 1.5 3 1.5 3 2.5 3 2 3 2.5 3 0.5 3 0.5 3 0.5 3 -2 3 -1 3 -2.5 3 -2.5 3 -2 3 -3 3 -3.5 3 -2 3 -3 3 0 3 -1 3 1.5 3 3.5 3 3.5 3 4.5 3 4.5 3 4.5 3 4.5 3 4.5 3 3.5 3 2.5 3 2 3 -0.5 3 0 3 -0.5 3 -1.5 3 -2 3 -1.5 3 -2" vector-effect="non-scaling-stroke"/>
<path id="gc4_8" d="M30 890l10.5 48 1 12 3 8 3 4 3 -0.5 3 -5.5 3 -8.5 3 -10.5 3 -5.5 3 -5 3 -5 3 -3.5 3 1 3 1 3 3.5 3 4 3 3.5 3 3.5 3 2.5 3 4.5 3 6.5 3 5.5 3 7.5 3 6.5 3 5 3 3 3 1.5 3 0 3 0 3 -0.5 3 -1 3 -1 3 -1 3 0 3 0.5 3 1.5 3 1.5 3 2.5 3 4 3 4.5 3 5 3 5 3 5 3 5 3 5 3 3.5 3 4 3 2 3 2.5 3 2.5 3 0 3 0 3 -0.5 3 -0.5 3 -1.5 3 -1 3 -0.5 3 0 3 -1 3 -1 3 -0.5 3 -0.5 3 -1 3 0 3 0 3 -0.5 3 0.5 3 -0.5 3 0 3 -1 3 0 3 0.5 3 0 3 0 3 0.5 3 0.5 3 0.5 3 0 3 1.5 3 1.5 3 0.5 3 1 3 0.5 3 0 3 1 3 -0.5 3 -0.5 3 0 3 0 3 0 3 0 3 -0.5 3 0.5 3 1 3 1.5 3 2 3 1.5 3 2 3 2.5 3 1.5 3 1 3 0.5 3 -1 3 -1 3 -2 3 -3 3 -2.5 3 -3 3 -3 3 -3.5 3 -3 3 -2 3 -0.5 3 -1 3 0 3 -0.5 3 1 3 0.5 3 0 3 0 3 0 3 2 3 1.5 3 0.5 3 1 3 0.5 3 0.5 3 0 3 1 3 1 3 -0.5 3 -1 3 -1.5 3 -2.5 3 -1.5 3 -3 3 -1.5 3 -2 3 -0.5 3 -1 3 0.5 3 -0.5 3 0 3 0 3 1.5 3 2.5 3 2.5 3 2 3 1 3 1.5 3 3 3 2.5 3 3 3 2.5 3 1.5 3 1.5 3 1 3 0.5 3 0 3 -1 3 -0.5 3 -0.5 3 0 3 1 3 2 3 1 3 2.5 3 4.5 3 4.5 3 5 3 4 3 3 3 3 3 1" vector-effect="non-scaling-stroke"/>
<path id="gc4_9" d="M30 908l10.5 59.5 1 0.5 3 5.5 3 3 3 -0.5 3 -6.5 3 -10 3 -8.5 3 -5 3 -4 3 -2 3 -0.5 3 2 3 3.5 3 5.5 3 5 3 4 3 3 3 2 3 3.5 3 3 3 3.5 3 3 3 3.5 3 1.5 3 1 3 -1 3 -0.5 3 0 3 -1.5 3 -0.5 3 -0.5 3 0.5 3 0 3 0 3 0.5 3 1.5 3 1 3 1.5 3 2 3 2.5 3 2.5 3 3.5 3 2 3 3.5 3 3 3 1 3 2 3 1.5 3 0.5 3 -0.5 3 -2 3 -1.5 3 -2.5 3 -1.5 3 -0.5 3 -1.5 3 -1 3 0.5 3 -1 3 0 3 0.5 3 1.5 3 0.5 3 2.5 3 1 3 1.5 3 2 3 1.5 3 1.5 3 1 3 2 3 2 3 1 3 0.5 3 0.5 3 -0.5 3 0.5 3 0 3 -0.5 3 -0.5 3 -0.5 3 -1.5 3 -1.5 3 -0.5 3 -1 3 0.5 3 -0.5 3 1.5 3 0.5 3 0.5 3 1.5 3 1.5 3 2.5 3 3.5 3 3.5 3 2.5 3 3.5 3 2.5 3 3.5 3 2.5 3 2.5 3 0 3 1.5 3 0.5 3 1 3 -1 3 -1 3 0 3 -1.5 3 0 3 -0.5 3 -0.5 3 -1.5 3 -1 3 -2.5 3 -2 3 -2.5 3 -4 3 -3 3 -3.5 3 -3 3 -4.5 3 -2.5 3 -3.5 3 -2.5 3 -2 3 1.5 3 -1 3 0.5 3 2 3 2 3 3 3 2.5 3 3.5 3 1.5 3 2.5 3 3.5 3 2.5 3 2 3 0.5 3 -1 3 -0.5 3 -1.5 3 -1.5 3 -2.5 3 -2.5 3 -3 3 -3.5 3 0 3 0 3 -0.5 3 1.5 3 2.5 3 4.5 3 4.5 3 5 3 4 3 2 3 1.5 3 1.5 3 0.5 3 -0.5 3 -2 3 -2 3 -3.5 3 -2.5 3 -2 3 -2 3 -1 3 -0.5 3 1 3 2.5 3 1" vector-effect="non-scaling-stroke"/>
<path id="gc4_10" d="M30 912.5l10.5 34.5 1 25.5 3 2 3 -1 3 -4 3 -9 3 -11 3 -10 3 -5.5 3 -3 3 -2.5 3 -0.5 3 4 3 6 3 6 3 8.5 3 6.5 3 6 3 4 3 5.5 3 5.5 3 5 3 4.5 3 2 3 1 3 0 3 -2.5 3 -3.5 3 -3 3 -3.5 3 -2 3 -2 3 0.5 3 0 3 2 3 4 3 3.5 3 5 3 5.5 3 5 3 4.5 3 3.5 3 5 3 2.5 3 1.5 3 1 3 -0.5 3 -1 3 -1 3 -3.5 3 -2.5 3 -3 3 -2.5 3 -2.5 3 -2.5 3 -1.5 3 -1.5 3 -1 3 0.5 3 0 3 1 3 2 3 2 3 1 3 2 3 3.5 3 1.5 3 2 3 1.5 3 1.5 3 1 3 0.5 3 0.5 3 -1 3 -1.5 3 -1.5 3 -2.5 3 -1 3 -2.5 3 -3 3 -1 3 -2 3 -1.5 3 -0.5 3 1 3 1.5 3 1.5 3 2.5 3 3.5 3 4.5 3 4 3 3.5 3 3 3 2 3 2 3 0.5 3 0.5 3 0 3 -1.5 3 -0.5 3 -0.5 3 -1 3 -0.5 3 -0.5 3 1 3 0.5 3 1 3 0 3 0.5 3 -1.5 3 -2 3 -2 3 -2 3 -2.5 3 -3 3 -1 3 -2 3 -1.5 3 -0.5 3 0.5 3 2.5 3 2.5 3 3 3 3.5 3 4 3 2.5 3 4 3 2.5 3 3 3 1 3 2 3 0.5 3 0 3 0.5 3 -1.5 3 -1 3 -3 3 -1 3 -2 3 -2.5 3 -2.5 3 -3 3 -3.5 3 -2.5 3 -3 3 -2 3 -1 3 0 3 0.5 3 2 3 3 3 3 3 5.5 3 4 3 5 3 6 3 4.5 3 3.5 3 2 3 1 3 -0.5 3 -0.5 3 -0.5 3 -0.5 3 -1 3 -0.5 3 0 3 1 3 0.5 3 3.5 3 2.5 3 4 3 3 3 3" vector-effect="non-scaling-stroke"/>
<path id="gc4_11" d="M30 912l10.5 39.5 1 20.5 3 4.5 3 1.5 3 -3 3 -8.5 3 -10 3 -9.5 3 -5.5 3 -3.5 3 -1 3 -0.5 3 3 3 4 3 5 3 7 3 5.5 3 3.5 3 2 3 4.5 3 5.5 3 3.5 3 5 3 5 3 2.5 3 2.5 3 0.5 3 -0.5 3 -0.5 3 -0.5 3 -1.5 3 -2.5 3 -1.5 3 -2.5 3 -4 3 -3 3 -2 3 -2.5 3 -1.5 3 -1 3 0 3 0.5 3 2 3 1 3 2.5 3 3.5 3 2.5 3 3 3 2.5 3 2.5 3 1.5 3 0.5 3 1 3 1.5 3 1.5 3 2.5 3 2.5 3 1 3 2.5 3 2 3 1.5 3 1.5 3 1.5 3 2 3 -0.5 3 0.5 3 0.5 3 1 3 0.5 3 0 3 1 3 2.5 3 2.5 3 2.5 3 3.5 3 3 3 4 3 2.5 3 2.5 3 2 3 1.5 3 1 3 -1.5 3 -2.5 3 -2.5 3 -1 3 -4 3 -3 3 -4 3 -2 3 -2 3 -2 3 -0.5 3 0.5 3 -0.5 3 1 3 2 3 1 3 2.5 3 2.5 3 1 3 2 3 0 3 2 3 0.5 3 -0.5 3 0 3 0.5 3 -1.5 3 0.5 3 -1.5 3 0.5 3 1 3 -0.5 3 1 3 0.5 3 -1 3 0 3 -0.5 3 0 3 -1 3 0 3 0.5 3 -0.5 3 0.5 3 0.5 3 1 3 0.5 3 1 3 2.5 3 1.5 3 1 3 0 3 -0.5 3 -1 3 -1 3 -1 3 -0.5 3 -2 3 -2 3 -1.5 3 -1.5 3 -1.5 3 -2.5 3 -1.5 3 -1.5 3 -0.5 3 -0.5 3 -1 3 -0.5 3 -1.5 3 -0.5 3 -0.5 3 -1 3 0.5 3 -0.5 3 -0.5 3 0.5 3 1 3 0.5 3 1 3 1 3 2 3 1.5 3 3 3 2 3 2 3 2 3 1.5 3 1.5 3 2.5 3 1 3 2.5 3 1" vector-effect="non-scaling-stroke"/>
<path id="gc4_12" d="M30 901.5l10.5 36.5 1 23.5 3 6 3 2 3 -2 3 -6.5 3 -10.5 3 -11.5 3 -7 3 -4 3 -3.5 3 -2 3 1.5 3 3.5 3 4.5 3 5.5 3 6 3 6 3 5.5 3 6.5 3 8.5 3 8 3 7 3 6.5 3 4.5 3 2 3 0.5 3 -1 3 -1.5 3 -2 3 -4 3 -3.5 3 -2 3 -2.5 3 -1.5 3 0 3 0.5 3 0.5 3 2 3 2 3 3.5 3 3 3 4.5 3 3.5 3 3.5 3 4.5 3 3.5 3 3 3 2.5 3 2 3 1 3 1.5 3 -0.5 3 -1 3 0 3 -1 3 -0.5 3 -0.5 3 0 3 -1 3 0.5 3 -0.5 3 0 3 -1.5 3 -0.5 3 -1.5 3 -0.5 3 -1 3 -1.5 3 -1.5 3 -1 3 -1 3 -0.5 3 2 3 1 3 1.5 3 2 3 1.5 3 1.5 3 1.5 3 1.5 3 0 3 0.5 3 -1 3 1.5 3 0.5 3 -0.5 3 1.5 3 1.5 3 2.5 3 3 3 1.5 3 1 3 1 3 0.5 3 0.5 3 -1 3 -2.5 3 -2.5 3 -3 3 -3.5 3 -2.5 3 -1 3 -2 3 0 3 0.5 3 1 3 2 3 2 3 2 3 3 3 3 3 2.5 3 1 3 1 3 0.5 3 1 3 1 3 1 3 1.5 3 1 3 0.5 3 0 3 0.5 3 1 3 0 3 -1.5 3 -0.5 3 -1.5 3 -3.5 3 -2.5 3 -3.5 3 -3.5 3 -2.5 3 -1.5 3 -2.5 3 -0.5 3 0 3 1.5 3 2 3 2 3 2.5 3 3 3 2 3 2.5 3 2 3 1.5 3 1.5 3 1 3 -0.5 3 3 3 -1 3 1.5 3 0.5 3 0 3 0 3 -0.5 3 -2.5 3 -2.5 3 -3 3 -4.5 3 -4 3 -3.5 3 -3 3 -2.5 3 -2.5 3 -0.5 3 2 3 2.5 3 4.5 3 5.5 3 5.5 3 6 3 5" vector-effect="non-scaling-stroke"/>
<path id="gc4_13" d="M30 903l10.5 35 1 25 3 6 3 3 3 -0.5 3 -7.5 3 -9 3 -8.5 3 -4.5 3 -2.5 3 0 3 2 3 3.5 3 5 3 5.5 3 7 3 5.5 3 3 3 3.5 3 3.5 3 4.5 3 3.5 3 3.5 3 5 3 1.5 3 1 3 0 3 0 3 -0.5 3 -0.5 3 1 3 -0.5 3 0.5 3 0.5 3 1 3 1 3 0.5 3 0.5 3 1.5 3 1 3 0 3 0.5 3 1.5 3 0 3 1 3 2 3 2.5 3 4 3 2 3 3 3 2.5 3 3 3 3 3 3 3 1 3 0.5 3 0 3 -2 3 -2.5 3 -3.5 3 -4 3 -3.5 3 -4.5 3 -4 3 -3.5 3 -3.5 3 -1 3 -1 3 0 3 2 3 1.5 3 1.5 3 3 3 1.5 3 2.5 3 3.5 3 3.5 3 2 3 3 3 1 3 1 3 0 3 -1 3 0 3 -0.5 3 -1 3 -2.5 3 -4 3 -4 3 -2.5 3 -2.5 3 -2.5 3 -2 3 -1 3 -0.5 3 0 3 1.5 3 1.5 3 3 3 3.5 3 4 3 4 3 4 3 4.5 3 3.5 3 3.5 3 3.5 3 3 3 3 3 2.5 3 -0.5 3 0.5 3 1.5 3 0 3 -0.5 3 -1 3 -1 3 -1.5 3 -0.5 3 -1 3 -0.5 3 -1 3 -0.5 3 -0.5 3 -1.5 3 0.5 3 -1 3 0 3 1 3 0 3 0.5 3 1.5 3 0 3 -0.5 3 1.5 3 1 3 1.5 3 1.5 3 0.5 3 0.5 3 1.5 3 1.5 3 1 3 -1 3 0 3 -0.5 3 -1.5 3 0 3 -2 3 -1.5 3 -2 3 -1.5 3 -1 3 0.5 3 0.5 3 -0.5 3 1.5 3 1 3 1.5 3 1 3 1.5 3 1 3 1 3 0 3 0 3 -2.5 3 -1.5 3 -0.5 3 -1.5 3 -2 3 -1.5 3 -2 3 -1 3 -0.5" vector-effect="non-scaling-stroke"/>
<path id="gc4_14" d="M30 906l10.5 53 1 7 3 2.5 3 -0.5 3 -3.5 3 -10.5 3 -13.5 3 -12.5 3 -6 3 -4 3 -2.5 3 -0.5 3 3.5 3 5.5 3 7 3 8 3 9 3 6.5 3 7 3 7.5 3 6 3 7 3 5.5 3 4 3 2 3 0 3 -1.5 3 -3.5 3 -3.5 3 -4.5 3 -4 3 -3 3 -1.5 3 -2 3 -1 3 0 3 2 3 2 3 3.5 3 3.5 3 3.5 3 3.5 3 5.5 3 4 3 4.5 3 4 3 3 3 2.5 3 2 3 0.5 3 -0.5 3 -1 3 -1.5 3 -3 3 -2 3 -0.5 3 -1 3 -2 3 0.5 3 0 3 1 3 2.5 3 1.5 3 1.5 3 1.5 3 1 3 0.5 3 0.5 3 0 3 -0.5 3 -0.5 3 -0.5 3 0 3 1 3 1.5 3 1 3 1 3 2.5 3 3 3 2 3 2.5 3 1.5 3 1.5 3 1.5 3 0.5 3 1 3 1 3 0 3 -2 3 0 3 -0.5 3 0.5 3 -0.5 3 -1 3 -0.5 3 0 3 -0.5 3 0 3 -1 3 -1 3 -1 3 -1.5 3 -1.5 3 -1.5 3 -0.5 3 -1 3 -0.5 3 0 3 1 3 2 3 0.5 3 2.5 3 2 3 3 3 4 3 2.5 3 3 3 1 3 3 3 2.5 3 1.5 3 2 3 1 3 0.5 3 -0.5 3 0 3 -2 3 -2 3 -0.5 3 -2 3 -2 3 -2 3 -3.5 3 -1.5 3 -1.5 3 -2 3 -1.5 3 -0.5 3 0 3 -1.5 3 0 3 -1 3 -1.5 3 -1.5 3 -0.5 3 -0.5 3 -1.5 3 -0.5 3 -1.5 3 -1.5 3 -0.5 3 0.5 3 0 3 -1 3 -1 3 -1 3 0 3 0 3 -0.5 3 -1 3 -1 3 -1.5 3 -1 3 -1.5 3 -1.5 3 -2 3 -2 3 -2 3 -0.5 3 -1.5 3 -1 3 -0.5 3 -0.5 3 2" vector-effect="non-scaling-stroke"/>
<path id="gc4_15" d="M30 911.5l10.5 44 1 16 3 2 3 0 3 -5.5 3 -12 3 -14.5 3 -13 3 -8.5 3 -5 3 -3 3 -0.5 3 4 3 5.5 3 6.5 3 8.5 3 8 3 6.5 3 6 3 6.5 3 5.5 3 5 3 4.5 3 1.5 3 -0.5 3 -1 3 -2.5 3 -3.5 3 -4 3 -3.5 3 -3.5 3 -4 3 -1 3 0 3 0.5 3 1.5 3 2.5 3 3 3 4.5 3 3.5 3 5 3 4.5 3 4 3 4 3 5 3 3.5 3 2.5 3 2 3 1.5 3 1 3 0.5 3 0 3 1 3 -0.5 3 0 3 1 3 1 3 1 3 2 3 0 3 1.5 3 1 3 0.5 3 0.5 3 0.5 3 -1 3 -1 3 -1 3 -1.5 3 -1.5 3 -0.5 3 0.5 3 -0.5 3 0.5 3 0.5 3 0.5 3 0.5 3 2 3 1 3 1.5 3 2 3 0 3 0.5 3 0 3 0.5 3 -0.5 3 0.5 3 0.5 3 0.5 3 0 3 0.5 3 -1.5 3 -1 3 1.5 3 0 3 -0.5 3 0.5 3 0.5 3 0 3 1 3 1 3 0.5 3 2.5 3 1.5 3 2 3 2 3 2 3 1 3 1 3 0 3 0 3 -0.5 3 -0.5 3 -2 3 -2.5 3 -1 3 -1.5 3 -0.5 3 -0.5 3 -0.5 3 1 3 1 3 1 3 1 3 0.5 3 1 3 1 3 2 3 0.5 3 0.5 3 0 3 0.5 3 0 3 1.5 3 0.5 3 1.5 3 1 3 0.5 3 0.5 3 0.5 3 0.5 3 -0.5 3 -0.5 3 -0.5 3 0 3 -1 3 -0.5 3 0 3 -1.5 3 0.5 3 0 3 2.5 3 1.5 3 1.5 3 2 3 1.5 3 1 3 2.5 3 2 3 1 3 0.5 3 0.5 3 -1 3 -1 3 -1.5 3 -2.5 3 -2 3 -4 3 -4 3 -2.5 3 -3 3 -2 3 -4.5 3 -2" vector-effect="non-scaling-stroke"/>
<path id="gc5_0" d="M30 999.5l10.5 59.5 1 0.5 3 8.5 3 8 3 6.5 3 5 3 1.5 3 -1 3 -1 3 -2.5 3 -3.5 3 -4.5 3 -5 3 -4.5 3 -4.5 3 -3 3 -3 3 -1.5 3 -1 3 -0.5 3 1.5 3 0.5 3 3 3 3 3 4 3 5 3 3.5 3 4 3 4.5 3 3.5 3 4 3 4.5 3 4 3 4.5 3 4.5 3 4 3 3.5 3 4 3 3.5 3 2 3 1 3 -0.5 3 -1 3 -2 3 -2 3 -3.5 3 -3 3 -3.5 3 -4.5 3 -4.5 3 -2.5 3 -3 3 -3 3 -2.5 3 -1.5 3 -1 3 0 3 0.5 3 2.5 3 2 3 3 3 3 3 4 3 4.5 3 4.5 3 5 3 4 3 4 3 4.5 3 3.5 3 2.5 3 1 3 2 3 0.5 3 1.5 3 0 3 -0.5 3 -0.5 3 1 3 1 3 1.5 3 1.5 3 2 3 1 3 1.5 3 0.5 3 0 3 0 3 -2 3 -2.5 3 -3.5 3 -4 3 -4.5 3 -4.5 3 -5 3 -4 3 -4 3 -2 3 -1.5 3 -0.5 3 -0.5 3 0.5 3 0.5 3 1.5 3 1.5 3 1.5 3 1.5 3 1 3 1.5 3 1 3 1 3 0 3 0 3 0.5 3 0.5 3 1 3 0 3 1.5 3 1 3 1 3 2 3 3.5 3 2 3 3 3 2 3 1.5 3 2 3 2 3 2.5 3 0.5 3 1 3 0.5 3 0 3 -1 3 -1 3 -1.5 3 0 3 0 3 -1.5 3 0 3 0 3 1 3 0 3 1.5 3 1 3 1.5 3 2 3 2 3 1 3 1 3 0.5 3 -0.5 3 0.5 3 -1 3 -1.5 3 -3 3 -2.5 3 -3.5 3 -3 3 -3 3 -3.5 3 -3.5 3 -3.5 3 -1 3 -2 3 -1 3 -0.5 3 -1.5 3 0 3 0.5 3 0 3 0.5 3 1 3 -0.5" vector-effect="non-scaling-stroke"/>
<path id="gc5_1" d="M30 1010.5l10.5 30.5 1 29.5 3 6 3 5 3 4.5 3 3.5 3 2 3 -0.5 3 -2 3 0 3 -1 3 -1 3 -1.5 3 -1.5 3 -1 3 -2.5 3 -2.5 3 -2.5 3 -2.5 3 -1 3 -1.5 3 -0.5 3 0 3 1 3 2.5 3 2.5 3 3.5 3 4.5 3 3.5 3 5.5 3 6 3 5 3 4.5 3 5 3 4 3 4 3 4.5 3 3.5 3 2.5 3 1.5 3 0.5 3 -0.5 3 -1 3 -1 3 -2 3 -2.5 3 -3 3 -2.5 3 -4.5 3 -3 3 -4.5 3 -4.5 3 -3 3 -3.5 3 -2.5 3 -2 3 -0.5 3 -1 3 1.5 3 2 3 3 3 3.5 3 3 3 4.5 3 3.5 3 4 3 5 3 3.5 3 3 3 4 3 2.5 3 2.5 3 1.5 3 1 3 2.5 3 0 3 1 3 0 3 0.5 3 -0.5 3 -1 3 -1 3 -1 3 0 3 -0.5 3 0 3 -1 3 0 3 0 3 -0.5 3 0 3 0 3 -0.5 3 0 3 -1.5 3 -2 3 -1 3 -1.5 3 -1 3 -0.5 3 -0.5 3 0 3 0 3 1.5 3 0.5 3 2 3 0.5 3 1 3 0 3 0.5 3 0 3 -2 3 -2 3 -2.5 3 -3 3 -2.5 3 -3.5 3 -3 3 -3.5 3 -2.5 3 -2 3 -0.5 3 -0.5 3 0 3 0.5 3 2 3 1.5 3 4 3 3 3 4.5 3 4 3 3.5 3 3.5 3 2.5 3 2.5 3 1.5 3 1 3 0.5 3 0 3 -0.5 3 -1.5 3 -2 3 -2.5 3 -1.5 3 -1.5 3 -1 3 0 3 0 3 0.5 3 1 3 0.5 3 1.5 3 2 3 3 3 2 3 2.5 3 1.5 3 0.5 3 2 3 0 3 0.5 3 0 3 0.5 3 -0.5 3 -1.5 3 -1.5 3 -3 3 -2 3 -2 3 -2.5 3 -3 3 -2.5 3 -2 3 -2" vector-effect="non-scaling-stroke"/>
<path id="gc5_2" d="M30 976l10.5 56 1 4 3 5.5 3 6 3 5 3 5 3 3.5 3 1.5 3 2 3 -0.5 3 -0.5 3 0 3 -1.5 3 -3 3 -3 3 -3.5 3 -3 3 -5 3 -4.5 3 -3 3 -2.5 3 -1.5 3 0.5 3 2.5 3 3.5 3 5.5 3 6 3 8.5 3 8.5 3 9 3 9.5 3 9 3 8.5 3 8.5 3 6.5 3 6 3 5.5 3 4 3 4 3 2 3 -2 3 0 3 -1.5 3 -1.5 3 -3 3 -3.5 3 -1 3 -3 3 -3 3 -2.5 3 -2.5 3 -2 3 -2 3 -2 3 -1.5 3 -0.5 3 -0.5 3 -1 3 1 3 0.5 3 0 3 2 3 0.5 3 2 3 0.5 3 1.5 3 0 3 0 3 0.5 3 -0.5 3 0.5 3 -1.5 3 -0.5 3 0.5 3 1 3 2.5 3 2 3 4 3 4 3 4.5 3 5 3 5 3 5 3 4 3 3 3 3 3 2 3 0 3 -1 3 -1 3 -1.5 3 -2.5 3 -2 3 -3.5 3 -4.5 3 -4 3 -4 3 -2.5 3 -4.5 3 -3.5 3 -2.5 3 -2 3 -1 3 0 3 0 3 1.5 3 1.5 3 3.5 3 4 3 3.5 3 4 3 3 3 3 3 1.5 3 1 3 -0.5 3 -1 3 -1.5 3 -2 3 -2 3 -2.5 3 -2.5 3 -3.5 3 -2 3 -2.5 3 -0.5 3 -0.5 3 1 3 -1 3 0.5 3 -0.5 3 0.5 3 0.5 3 -0.5 3 1.5 3 -0.5 3 0.5 3 0 3 0.5 3 1 3 1.5 3 1.5 3 1 3 2 3 1.5 3 1.5 3 1.5 3 1 3 0 3 2 3 1 3 1.5 3 0.5 3 1 3 1.5 3 2.5 3 2 3 1 3 1.5 3 1.5 3 1 3 0.5 3 -0.5 3 -1.5 3 -1 3 -2 3 -1.5 3 -2 3 -2 3 -1 3 -3 3 -1.5 3 -1.5 3 -1" vector-effect="non-scaling-stroke"/>
<path id="gc5_3" d="M30 996.5l10.5 48 1 12 3 6.5 3 6.5 3 5.5 3 4.5 3 3.5 3 1.5 3 0 3 0.5 3 -0.5 3 -1 3 -1.5 3 -2.5 3 -2 3 -4.5 3 -3 3 -3.5 3 -2.5 3 -4 3 -4 3 -3.5 3 -3 3 -0.5 3 0.5 3 2 3 2.5 3 4 3 4.5 3 6 3 8 3 7.5 3 9 3 8.5 3 9.5 3 9 3 8 3 6.5 3 5 3 3.5 3 2 3 1.5 3 -1 3 -2.5 3 -3.5 3 -4.5 3 -3.5 3 -5 3 -5 3 -4 3 -4.5 3 -5 3 -3 3 -3 3 -2.5 3 -2.5 3 -1.5 3 0 3 0 3 0.5 3 0.5 3 1.5 3 1.5 3 2 3 3 3 3.5 3 4 3 2 3 4.5 3 3.5 3 3 3 2.5 3 3.5 3 1 3 1.5 3 1.5 3 1 3 1.5 3 0.5 3 1.5 3 2 3 0.5 3 1 3 1.5 3 1 3 -0.5 3 -0.5 3 -1 3 -1.5 3 -2.5 3 -3 3 -2.5 3 -2.5 3 -3.5 3 -2 3 -3.5 3 -2.5 3 -2 3 -1.5 3 -1 3 -1 3 -2.5 3 -1 3 -2 3 -2.5 3 -2 3 -0.5 3 -1 3 -1 3 0 3 0 3 0.5 3 0.5 3 1 3 2.5 3 2 3 3 3 2 3 2 3 1.5 3 1 3 2 3 1 3 0.5 3 -0.5 3 0 3 -1 3 -1.5 3 -2 3 0 3 -2 3 -0.5 3 -2 3 -0.5 3 0.5 3 -2 3 0 3 0 3 -0.5 3 0.5 3 0 3 0.5 3 -1 3 -0.5 3 -0.5 3 0 3 -1 3 0 3 0.5 3 0.5 3 0.5 3 2 3 0.5 3 1.5 3 1.5 3 2 3 3 3 2 3 2 3 2 3 1 3 3 3 2.5 3 2 3 2 3 2 3 0.5 3 1 3 1 3 0.5 3 1 3 -0.5 3 -0.5 3 -0.5" vector-effect="non-scaling-stroke"/>
<path id="gc5_4" d="M30 1015l10.5 46.5 1 13.5 3 5.5 3 6 3 4.5 3 2.5 3 0.5 3 -2.5 3 -3 3 -4 3 -3.5 3 -2.5 3 -3.5 3 -3.5 3 -2.5 3 -4 3 -4 3 -3 3 -3.5 3 -3 3 -2 3 -1.5 3 -1 3 1.5 3 2 3 4 3 5.5 3 6 3 8.5 3 8.5 3 9.5 3 9 3 9 3 8 3 6.5 3 6.5 3 6 3 4 3 2.5 3 1.5 3 0.5 3 -2 3 -2 3 -1 3 -3.5 3 -2.5 3 -3.5 3 -3 3 -2.5 3 -4.5 3 -4.5 3 -3 3 -4 3 -4 3 -2.5 3 -2 3 -2.5 3 -1 3 -0.5 3 -1 3 -0.5 3 0 3 1.5 3 2.5 3 1.5 3 2.5 3 3 3 3 3 3 3 3.5 3 4 3 3 3 2 3 4 3 1.5 3 1 3 0 3 1 3 0.5 3 -0.5 3 1 3 0 3 -0.5 3 0.5 3 0 3 0.5 3 1 3 0 3 0 3 -0.5 3 -0.5 3 -1.5 3 -1 3 -1.5 3 -2 3 -1.5 3 -1.5 3 -1 3 -0.5 3 0 3 0.5 3 0.5 3 2.5 3 2 3 2.5 3 2 3 1.5 3 2 3 0.5 3 0 3 0.5 3 -1.5 3 -1 3 -4 3 -2 3 -3 3 -2.5 3 -2.5 3 -3 3 -2.5 3 -0.5 3 -0.5 3 -0.5 3 -1 3 -0.5 3 0.5 3 1 3 1.5 3 1 3 2 3 1 3 0 3 0.5 3 0.5 3 1.5 3 0 3 0 3 0.5 3 0.5 3 0.5 3 0 3 0 3 0 3 0.5 3 2 3 0.5 3 0.5 3 1 3 2.5 3 0 3 1.5 3 1.5 3 2.5 3 1.5 3 0.5 3 1 3 0.5 3 0.5 3 0 3 -0.5 3 0 3 -1.5 3 -1 3 -1.5 3 -1 3 -2.5 3 -2 3 -1 3 -1 3 -2 3 -0.5 3 -1 3 -0.5 3 0" vector-effect="non-scaling-stroke"/>
<path id="gc5_5" d="M30 1018l10.5 46.5 1 13.5 3 4.5 3 3.5 3 2.5 3 0 3 -2 3 -4 3 -5.5 3 -5 3 -4.5 3 -4 3 -4 3 -3 3 -1.5 3 -1 3 -1 3 -1.5 3 -1 3 0.5 3 1 3 0 3 0.5 3 1 3 1 3 2.5 3 2.5 3 3 3 3 3 4.5 3 4.5 3 4 3 4.5 3 5.5 3 5 3 4.5 3 4 3 3.5 3 3.5 3 1.5 3 0.5 3 -1 3 -1.5 3 -1.5 3 -1.5 3 -2 3 -3 3 -2 3 -2.5 3 -1.5 3 -0.5 3 -0.5 3 1 3 -0.5 3 1 3 2 3 2.5 3 2.5 3 4 3 3 3 3 3 3 3 2.5 3 3 3 2 3 2 3 1.5 3 2 3 1 3 2 3 0.5 3 1 3 0.5 3 0.5 3 2 3 0 3 0 3 0.5 3 -1 3 -2 3 -0.5 3 -1.5 3 -1.5 3 -1.5 3 -2 3 -1.5 3 -1.5 3 -1.5 3 -1 3 -0.5 3 -1.5 3 -1.5 3 -1.5 3 -0.5 3 0 3 -2 3 -1 3 -1 3 -1.5 3 1.5 3 1 3 0 3 0 3 0.5 3 0 3 0 3 -1 3 -0.5 3 -0.5 3 -0.5 3 -1 3 -1 3 1 3 0 3 0 3 1.5 3 2.5 3 2.5 3 2.5 3 2.5 3 1 3 2.5 3 1.5 3 1.5 3 -0.5 3 0.5 3 0.5 3 1 3 1.5 3 1 3 0.5 3 2 3 2 3 0 3 1.5 3 1.5 3 1 3 -0.5 3 0 3 0 3 -1.5 3 -1 3 -2 3 -1.5 3 -0.5 3 0 3 0.5 3 0 3 1 3 -0.5 3 3 3 2.5 3 2.5 3 2 3 2 3 1.5 3 1 3 0 3 -1.5 3 -1.5 3 -2 3 -2 3 -2.5 3 -2.5 3 -3 3 -3.5 3 -2.5 3 -2.5 3 -0.5 3 -1 3 0 3 -1 3 1 3 0" vector-effect="non-scaling-stroke"/>
<path id="gc5_6" d="M30 1002l10.5 43.5 1 16.5 3 6 3 6.5 3 5 3 3 3 1.5 3 1 3 0 3 -1.5 3 -3 3 -2 3 -1.5 3 -3 3 -3 3 -2.5 3 -3 3 -3.5 3 -4.5 3 -3 3 -1.5 3 -1.5 3 -0.5 3 1.5 3 2.5 3 2.5 3 4 3 5.5 3 5.5 3 6.5 3 7 3 7.5 3 7.5 3 7 3 6 3 6.5 3 6 3 4 3 4.5 3 4 3 1 3 1 3 0 3 0 3 -0.5 3 -1.5 3 -0.5 3 -1.5 3 -2 3 -1.5 3 -2 3 -2.5 3 -3.5 3 -3.5 3 -2.5 3 -3.5 3 -3 3 -3 3 -2 3 -1 3 -1.5 3 0.5 3 0 3 2 3 2.5 3 2.5 3 3.5 3 3.5 3 3.5 3 2.5 3 3.5 3 2.5 3 2.5 3 2 3 0.5 3 0 3 0 3 -0.5 3 -1 3 -1.5 3 -2 3 -0.5 3 -2 3 -1 3 -1 3 -0.5 3 0 3 0.5 3 0.5 3 1.5 3 1 3 0.5 3 0 3 -0.5 3 0 3 -1 3 -1 3 -1.5 3 -1.5 3 -1 3 -1 3 -0.5 3 -1 3 1 3 0.5 3 1.5 3 1.5 3 2 3 2.5 3 2 3 2 3 3 3 2 3 3.5 3 2 3 2 3 1 3 1.5 3 -0.5 3 1 3 -0.5 3 -2.5 3 -1.5 3 -2 3 -2 3 -2.5 3 -1 3 -1 3 -0.5 3 0 3 1 3 1 3 1.5 3 0.5 3 0.5 3 1.5 3 0 3 1 3 -1.5 3 0.5 3 -2 3 -1 3 -0.5 3 -2 3 -2 3 -1.5 3 -0.5 3 -0.5 3 -1 3 -0.5 3 -0.5 3 0 3 -0.5 3 -1 3 0.5 3 -0.5 3 -1.5 3 -1.5 3 -2 3 0.5 3 -1 3 0.5 3 -1 3 0.5 3 0.5 3 1 3 0 3 0 3 -1 3 -0.5 3 -2 3 -2 3 -2.5 3 -4" vector-effect="non-scaling-stroke"/>
<path id="gc5_7" d="M30 998l10.5 35 1 25 3 6.5 3 6.5 3 7 3 5.5 3 3 3 1 3 1 3 0.5 3 0 3 -1 3 -2 3 -2 3 -2.5 3 -3 3 -2 3 -2.5 3 -3 3 -3 3 -3 3 -2.5 3 1 3 1.5 3 2 3 3 3 5 3 6 3 6 3 7.5 3 7 3 7.5 3 7.5 3 6 3 6 3 5 3 4 3 1.5 3 1 3 0.5 3 -0.5 3 -2.5 3 -2.5 3 -3 3 -3.5 3 -2.5 3 -2.5 3 -3 3 -3.5 3 -3.5 3 -3.5 3 -2.5 3 -2 3 -2.5 3 -1 3 -1 3 0 3 2.5 3 3 3 3 3 3.5 3 5 3 6 3 5.5 3 6 3 5.5 3 4.5 3 4.5 3 3 3 4 3 3.5 3 2 3 2 3 0 3 0.5 3 0 3 0 3 -1 3 -1.5 3 -1 3 -0.5 3 -1 3 -2.5 3 -4 3 -2.5 3 -4 3 -3.5 3 -3.5 3 -5 3 -5 3 -4.5 3 -5 3 -4 3 -4 3 -2.5 3 -2 3 -1.5 3 -0.5 3 0.5 3 0.5 3 1.5 3 1 3 2 3 1.5 3 1.5 3 -0.5 3 0 3 0 3 0.5 3 -0.5 3 0.5 3 0.5 3 1 3 1 3 1 3 0.5 3 2 3 1.5 3 1 3 0.5 3 2 3 0.5 3 -0.5 3 -0.5 3 0 3 0 3 1 3 -0.5 3 -0.5 3 -0.5 3 -0.5 3 -0.5 3 -1.5 3 -0.5 3 -1 3 -1.5 3 -2 3 -1.5 3 -1 3 0 3 1 3 1 3 1 3 2 3 1 3 2.5 3 2.5 3 3.5 3 3.5 3 3.5 3 2.5 3 2 3 2 3 1.5 3 0.5 3 1.5 3 0 3 -0.5 3 -1.5 3 -3.5 3 -3 3 -4 3 -3.5 3 -4 3 -3 3 -3.5 3 -3 3 -3 3 -3.5 3 -2.5 3 -1.5 3 -0.5 3 -0.5 3 0.5" vector-effect="non-scaling-stroke"/>
<path id="gc5_8" d="M30 1016.5l10.5 44.5 1 15.5 3 10 3 11.5 3 9.5 3 6.5 3 3.5 3 1.5 3 -0.5 3 -3 3 -4 3 -5.5 3 -5.5 3 -6 3 -5 3 -5 3 -6 3 -4 3 -3 3 -2 3 0.5 3 0.5 3 1 3 3.5 3 4 3 5 3 5.5 3 6 3 6 3 5.5 3 6 3 6 3 3.5 3 4 3 2 3 1.5 3 0 3 -0.5 3 -3 3 -3 3 -3.5 3 -5 3 -4.5 3 -2.5 3 -2.5 3 -2 3 -1 3 -0.5 3 0 3 0.5 3 0.5 3 1 3 0 3 0.5 3 0 3 -1 3 -0.5 3 -0.5 3 -0.5 3 0.5 3 0 3 -0.5 3 0 3 1.5 3 0.5 3 0 3 1.5 3 2 3 1 3 1.5 3 0.5 3 1.5 3 1.5 3 0.5 3 2.5 3 1.5 3 2 3 1.5 3 2 3 3 3 2 3 3.5 3 2 3 3 3 1 3 1 3 0 3 -0.5 3 -2.5 3 -1.5 3 -3 3 -3.5 3 -2.5 3 -4 3 -3.5 3 -4 3 -2 3 -1.5 3 0.5 3 -1.5 3 -0.5 3 1.5 3 1 3 1 3 1 3 2 3 2 3 3.5 3 0.5 3 2.5 3 1.5 3 2 3 2 3 0.5 3 1.5 3 0 3 0 3 -1 3 -1 3 -2.5 3 -1.5 3 -1.5 3 -3.5 3 -2.5 3 -0.5 3 -0.5 3 -1.5 3 1 3 1 3 2 3 2.5 3 2.5 3 3 3 2.5 3 3.5 3 2.5 3 4.5 3 3.5 3 3 3 2.5 3 3 3 3.5 3 1 3 2.5 3 0.5 3 -1.5 3 -0.5 3 -1 3 -3 3 -3.5 3 -2.5 3 -3.5 3 -3.5 3 -2 3 -2 3 -1 3 -0.5 3 0 3 0.5 3 1.5 3 1.5 3 1.5 3 0.5 3 1 3 0.5 3 0.5 3 1 3 -1.5 3 0 3 -0.5 3 -0.5 3 -0.5 3 -0.5 3 -1.5" vector-effect="non-scaling-stroke"/>
<path id="gc5_9" d="M30 1017l10.5 38 1 22 3 8 3 7.5 3 7 3 4.5 3 2.5 3 -0.5 3 -2.5 3 -4 3 -3.5 3 -5.5 3 -6 3 -5 3 -6 3 -5 3 -5.5 3 -4 3 -3.5 3 -1 3 0 3 0.5 3 3.5 3 4.5 3 5 3 6.5 3 7.5 3 6.5 3 5 3 7 3 5 3 4.5 3 3 3 3 3 3 3 2.5 3 2 3 4 3 2.5 3 3.5 3 2.5 3 0.5 3 1.5 3 -1 3 -0.5 3 -1.5 3 -4.5 3 -4.5 3 -5 3 -5 3 -6.5 3 -6 3 -4.5 3 -3.5 3 -1 3 0 3 1 3 3 3 3.5 3 4.5 3 5 3 4.5 3 6 3 4 3 4 3 2 3 0.5 3 2 3 0.5 3 0.5 3 0.5 3 0.5 3 1.5 3 1.5 3 1.5 3 2 3 1.5 3 2.5 3 1.5 3 2.5 3 1 3 1 3 0.5 3 -0.5 3 -0.5 3 -2 3 -1 3 -1 3 -1 3 -1.5 3 -1.5 3 -1.5 3 -2 3 -2.5 3 -2.5 3 -2 3 -2.5 3 -1 3 -2 3 -1 3 -1.5 3 0.5 3 1.5 3 3 3 3 3 3 3 4 3 2 3 2 3 1 3 0 3 -0.5 3 -2 3 -3.5 3 -3 3 -4.5 3 -3.5 3 -3 3 -3 3 -1 3 0 3 0.5 3 0.5 3 0 3 1.5 3 3 3 1 3 2.5 3 1 3 -0.5 3 -1 3 -1.5 3 -2 3 -3.5 3 -3 3 -3.5 3 -3.5 3 -4 3 -2.5 3 -1 3 -1 3 1.5 3 2 3 3 3 4.5 3 4.5 3 4.5 3 5 3 3 3 4 3 3 3 1.5 3 1.5 3 0.5 3 -0.5 3 0 3 -1 3 0 3 0.5 3 0 3 -1.5 3 0.5 3 0 3 -0.5 3 -1.5 3 -0.5 3 -2 3 -1 3 -1.5 3 -1.5 3 -3 3 -2 3 -1.5 3 -2" vector-effect="non-scaling-stroke"/>
<path id="gc5_10" d="M30 1003l10.5 49.5 1 10.5 3 4 3 5 3 4 3 3.5 3 2.5 3 0.5 3 0.5 3 0 3 1 3 1.5 3 1 3 2 3 1 3 1.5 3 -0.5 3 0 3 -1.5 3 -0.5 3 -2 3 -2 3 -1.5 3 -1.5 3 0 3 0.5 3 0 3 2 3 3.5 3 3.5 3 4 3 5 3 4 3 4.5 3 4 3 5 3 2.5 3 3.5 3 1.5 3 1.5 3 0 3 0.5 3 -1 3 -1 3 -1 3 -1 3 -1.5 3 -1 3 -2 3 -2.5 3 -1.5 3 -2.5 3 -2 3 -0.5 3 -1 3 -1.5 3 -1 3 0.5 3 0.5 3 0.5 3 0.5 3 1 3 -0.5 3 -0.5 3 -1 3 0 3 -1 3 -0.5 3 0.5 3 0 3 1 3 1 3 3 3 1 3 2.5 3 4 3 3 3 2.5 3 2 3 2 3 1 3 0.5 3 0.5 3 1 3 0.5 3 1 3 -1 3 1 3 0.5 3 1 3 2.5 3 1 3 1.5 3 1 3 2 3 2 3 1 3 0.5 3 1 3 0.5 3 -0.5 3 0 3 -2 3 -2.5 3 -3.5 3 -4 3 -4 3 -4.5 3 -4 3 -4.5 3 -4 3 -4 3 -2 3 -1.5 3 -0.5 3 -1 3 0 3 1.5 3 1.5 3 2.5 3 0.5 3 1.5 3 0 3 2.5 3 1 3 2 3 1 3 1 3 1.5 3 1.5 3 3 3 2 3 2 3 0.5 3 0.5 3 1 3 1 3 0 3 -1 3 0.5 3 -1 3 0 3 0 3 0.5 3 0 3 0.5 3 2 3 1 3 2 3 1.5 3 0 3 0.5 3 0 3 -0.5 3 -0.5 3 -2 3 -2.5 3 -2.5 3 -2.5 3 -3 3 -3 3 -2 3 -2.5 3 -1.5 3 -1 3 -0.5 3 1 3 0.5 3 1 3 0.5 3 1.5 3 1.5 3 1 3 1" vector-effect="non-scaling-stroke"/>
<path id="gc5_11" d="M30 991.5l10.5 54.5 1 5.5 3 7 3 5.5 3 5.5 3 4 3 1 3 -1.5 3 -1 3 -2 3 -2.5 3 -1 3 -0.5 3 -0.5 3 0 3 1 3 1.5 3 1.5 3 3 3 2.5 3 1.5 3 1.5 3 2 3 2 3 1.5 3 3 3 1.5 3 2 3 2.5 3 2.5 3 3 3 4.5 3 4 3 4.5 3 5 3 4 3 5 3 5.5 3 4.5 3 3.5 3 4 3 1.5 3 2 3 1 3 0 3 -1 3 -2 3 -2.5 3 -3.5 3 -4 3 -4 3 -4.5 3 -5 3 -3.5 3 -3 3 -3 3 -2 3 -1.5 3 -0.5 3 0.5 3 0.5 3 0.5 3 1.5 3 1.5 3 1 3 2 3 2.5 3 2 3 3 3 2.5 3 3.5 3 2 3 2 3 3.5 3 3 3 3 3 3 3 3 3 2.5 3 1 3 1 3 1.5 3 -0.5 3 0 3 -1.5 3 -2 3 -2 3 -3 3 -2 3 -3.5 3 -2.5 3 -2 3 -0.5 3 -1 3 -2.5 3 -1 3 -1.5 3 0 3 -2.5 3 -1.5 3 -1.5 3 -3 3 -3 3 -2.5 3 -1.5 3 -1.5 3 -0.5 3 0 3 0.5 3 1.5 3 3 3 2.5 3 2 3 1.5 3 2.5 3 2.5 3 1 3 0.5 3 0 3 1 3 0 3 1 3 1 3 1.5 3 1 3 1.5 3 2 3 1.5 3 1.5 3 1.5 3 0.5 3 -0.5 3 -1.5 3 -1 3 -1.5 3 -4 3 -4 3 -4 3 -3.5 3 -4 3 -2.5 3 -2.5 3 -2 3 -1.5 3 0 3 1.5 3 2 3 3 3 2.5 3 2.5 3 3.5 3 3.5 3 2 3 1.5 3 -0.5 3 -0.5 3 0 3 -0.5 3 -1 3 0.5 3 0 3 0.5 3 1.5 3 2.5 3 2.5 3 3 3 2.5 3 3.5 3 1.5 3 1 3 0.5 3 -3 3 -2 3 -2" vector-effect="non-scaling-stroke"/>
<path id="gc5_12" d="M30 994l10.5 49.5 1 10.5 3 5 3 5.5 3 4 3 3.5 3 1 3 0 3 0 3 -2 3 -1.5 3 -2 3 -1 3 -1.5 3 -2.5 3 -1 3 -1.5 3 -1.5 3 0.5 3 0 3 -1 3 1 3 2 3 2.5 3 3.5 3 4 3 5 3 6 3 6 3 4.5 3 6 3 7 3 6 3 5 3 5 3 4.5 3 3 3 2.5 3 1 3 0.5 3 -1 3 -1.5 3 -2 3 -2.5 3 -2 3 -2.5 3 -1.5 3 -2.5 3 -2.5 3 -1 3 0.5 3 -0.5 3 -1 3 0.5 3 0.5 3 0.5 3 1.5 3 0.5 3 2 3 0.5 3 1 3 0.5 3 0.5 3 0 3 0 3 1 3 1 3 0 3 1 3 2 3 2.5 3 1.5 3 2 3 2.5 3 1.5 3 2.5 3 1.5 3 2 3 2 3 1 3 1.5 3 2 3 1 3 1 3 2.5 3 0.5 3 0.5 3 1 3 0 3 -1.5 3 -2 3 -3 3 -3 3 -3.5 3 -3.5 3 -4 3 -3.5 3 -3 3 -3.5 3 -2 3 -2 3 -0.5 3 -0.5 3 0 3 -1 3 -2 3 -0.5 3 -2 3 -1 3 -1 3 -1 3 -0.5 3 -1.5 3 0 3 0.5 3 1.5 3 2.5 3 3 3 2.5 3 5.5 3 3 3 4.5 3 3.5 3 3 3 4 3 3.5 3 2 3 1 3 1 3 -0.5 3 -1.5 3 -2 3 -3 3 -3 3 -4.5 3 -4 3 -4.5 3 -4 3 -3 3 -1 3 -2 3 1 3 1.5 3 1 3 2 3 2 3 3 3 3 3 1 3 0.5 3 0.5 3 -1 3 -2 3 -3 3 -2 3 -2.5 3 -1.5 3 -0.5 3 0 3 0 3 1.5 3 2 3 3 3 2.5 3 4 3 2.5 3 2.5 3 2.5 3 2 3 0 3 0 3 -1 3 -1 3 -0.5" vector-effect="non-scaling-stroke"/>
<path id="gc5_13" d="M30 977.5l10.5 59.5 1 0.5 3 5.5 3 7 3 5.5 3 5 3 2.5 3 2.5 3 1.5 3 1 3 0 3 0 3 -1 3 -1.5 3 -1.5 3 -0.5 3 -1 3 -0.5 3 -1 3 -0.5 3 0.5 3 0.5 3 3.5 3 3 3 4 3 5 3 6 3 6.5 3 6 3 6 3 6.5 3 7 3 6 3 6.5 3 6.5 3 6 3 5 3 4 3 4.5 3 2.5 3 1.5 3 1.5 3 -0.5 3 -2.5 3 -3 3 -3 3 -3.5 3 -5.5 3 -6 3 -5.5 3 -6 3 -5 3 -4 3 -3 3 -3.5 3 -1.5 3 0.5 3 0.5 3 2.5 3 1.5 3 3 3 3.5 3 1.5 3 2.5 3 3 3 2 3 -0.5 3 0 3 0.5 3 0 3 1 3 1 3 0.5 3 1 3 2 3 2 3 1.5 3 2.5 3 3 3 2.5 3 2.5 3 2 3 1 3 1.5 3 1.5 3 -1 3 0.5 3 1 3 -1 3 -0.5 3 -0.5 3 -3 3 -2 3 -1.5 3 -3.5 3 -2.5 3 -1.5 3 -2.5 3 -3 3 -2.5 3 -3 3 -1.5 3 -1.5 3 -1 3 -1 3 -2 3 0.5 3 -1 3 0.5 3 0.5 3 1.5 3 1.5 3 2.5 3 1.5 3 1.5 3 3 3 2 3 0.5 3 1.5 3 1 3 0.5 3 0.5 3 -2.5 3 -0.5 3 -1 3 -1.5 3 -1 3 -0.5 3 -1.5 3 -1 3 0.5 3 -1.5 3 -0.5 3 -1 3 -1 3 -1 3 -1 3 -2 3 -1 3 -1 3 -1.5 3 -0.5 3 -1.5 3 0 3 -0.5 3 0 3 1.5 3 1 3 1 3 2.5 3 2 3 2.5 3 3.5 3 3.5 3 2.5 3 3 3 2 3 2.5 3 2 3 1.5 3 1 3 0.5 3 0 3 -1 3 -0.5 3 -1.5 3 -1 3 -1.5 3 -1.5 3 -1 3 -1.5 3 -1.5 3 -1 3 -1.5" vector-effect="non-scaling-stroke"/>
<path id="gc5_14" d="M30 1005l10.5 59 1 1 3 5 3 6 3 3.5 3 3.5 3 1.5 3 0 3 -1.5 3 -2 3 -2.5 3 -3 3 -3 3 -4 3 -4 3 -3 3 -3 3 -3 3 -2.5 3 -0.5 3 0.5 3 0.5 3 3.5 3 4 3 5.5 3 6 3 5.5 3 6.5 3 6.5 3 7 3 6.5 3 6.5 3 6 3 5 3 5 3 3.5 3 4.5 3 2.5 3 2.5 3 2 3 -0.5 3 -1.5 3 -1.5 3 -2.5 3 -2.5 3 -3.5 3 -3 3 -4 3 -4.5 3 -4 3 -3 3 -4.5 3 -4.5 3 -3.5 3 -3.5 3 -2.5 3 -1.5 3 -2.5 3 -1 3 -0.5 3 1 3 2 3 3 3 3.5 3 4.5 3 5 3 5.5 3 6.5 3 6.5 3 4.5 3 4.5 3 2.5 3 3.5 3 2.5 3 1.5 3 0.5 3 -1 3 -1.5 3 0 3 0 3 0 3 -0.5 3 -0.5 3 -1 3 -0.5 3 -1 3 -1 3 -1 3 -1.5 3 -2 3 -2 3 -2.5 3 -1.5 3 -2.5 3 -2.5 3 -2 3 -1.5 3 0 3 -1.5 3 -1 3 -1 3 -0.5 3 0 3 0 3 -0.5 3 -1 3 -0.5 3 0 3 0.5 3 0 3 1 3 2 3 0.5 3 2 3 3.5 3 3 3 3 3 2.5 3 1.5 3 3.5 3 1.5 3 1.5 3 0 3 -1 3 -0.5 3 -1.5 3 -0.5 3 -1 3 0 3 -1 3 0 3 1 3 0 3 0.5 3 0 3 -0.5 3 -0.5 3 0 3 -1.5 3 -2 3 -2.5 3 -1 3 -2 3 -0.5 3 -1 3 0 3 1 3 0 3 1 3 1 3 3.5 3 2 3 0.5 3 1.5 3 0.5 3 0.5 3 0.5 3 0 3 0 3 -1 3 -1 3 0 3 -1.5 3 0 3 -1 3 0 3 -0.5 3 -1 3 0 3 -1 3 0 3 -1.5 3 -1 3 -1" vector-effect="non-scaling-stroke"/>
<path id="gc5_15" d="M30 984l10.5 31.5 1 28.5 3 7.5 3 6.5 3 5.5 3 5 3 4 3 1 3 1.5 3 0.5 3 1 3 -1 3 0 3 0.5 3 0 3 0 3 0 3 -1 3 0 3 -1 3 0.5 3 -1 3 1.5 3 1.5 3 1 3 3 3 2 3 2 3 4 3 3 3 3.5 3 4 3 4.5 3 3 3 4.5 3 4.5 3 3.5 3 2.5 3 3.5 3 1.5 3 2 3 -0.5 3 1 3 -2 3 -1 3 -1 3 -2.5 3 -2 3 -2.5 3 -3 3 -2.5 3 -1.5 3 -2 3 -2.5 3 -1 3 -1.5 3 -1.5 3 0.5 3 2 3 1 3 1 3 1.5 3 2 3 2 3 2 3 2 3 2.5 3 2.5 3 1 3 2 3 1 3 0 3 1 3 0 3 0.5 3 -1.5 3 0.5 3 0.5 3 -1.5 3 0.5 3 0.5 3 1 3 0.5 3 0 3 1 3 1 3 1.5 3 0.5 3 0 3 -1.5 3 -1 3 -2.5 3 -2 3 -3.5 3 -3.5 3 -3.5 3 -3 3 -2.5 3 -2 3 -1 3 -0.5 3 0.5 3 1 3 2 3 2.5 3 0.5 3 2 3 0.5 3 0 3 -0.5 3 -0.5 3 -0.5 3 -1 3 -1.5 3 0.5 3 0.5 3 1 3 1 3 1.5 3 2 3 3.5 3 2.5 3 3 3 1 3 0.5 3 1 3 0.5 3 -1 3 -0.5 3 0.5 3 -1 3 0 3 -1 3 -0.5 3 0 3 0.5 3 1 3 2.5 3 3 3 3 3 3.5 3 3 3 4 3 3 3 3.5 3 2.5 3 1 3 0.5 3 -1 3 -2 3 -3.5 3 -3 3 -3.5 3 -3.5 3 -3 3 -3.5 3 -2 3 -2.5 3 -1.5 3 -0.5 3 -1.5 3 -0.5 3 -1 3 -2 3 -1.5 3 -3 3 -2 3 -0.5 3 -2.5 3 -0.5 3 -0.5 3 1 3 0.5 3 1" vector-effect="non-scaling-stroke"/>
<filter id="glow" x="-50%" y="-50%" width="200%" height="200%"><feGaussianBlur stdDeviation="3.8"/></filter>
<radialGradient id="hc" cx="0.5" cy="0.5" r="0.5"><stop offset="0" stop-color="#c4c4c4"/><stop offset="1" stop-color="#686868"/></radialGradient>
<linearGradient id="arr" x1="0" y1="0" x2="1" y2="0"><stop offset="0" stop-color="#e6e6e6"/><stop offset="1" stop-color="#7a7a7a"/></linearGradient></defs>
<rect width="1699" height="1589" fill="#fff"/>
<text x="4" y="25" font-size="44" font-weight="bold">a</text>
<text x="305" y="26" font-size="34.2" text-anchor="middle">Pure water</text>
<text x="152" y="62" font-size="34.2" text-anchor="middle">0 min</text>
<text x="458" y="62" font-size="34.2" text-anchor="middle">60 min</text>
<rect x="6" y="74" width="290" height="186" fill="#808080"/>
<g filter="url(#hablur)"><path fill="#040b31" d="M37.6 230h5.8v3.4h-5.8zM64 230h5.8v3.4h-5.8zM174.7 230h5.8v3.4h-5.8zM201.1 230h5.8v3.4h-5.8z"/><path fill="#040e3a" d="M11.3 203h5.8v3.4h-5.8zM37.6 227h5.8v3.4h-5.8zM58.7 230h5.8v3.4h-5.8zM64 227h5.8v3.4h-5.8zM64 233h5.8v3.4h-5.8zM100.9 233h5.8v3.4h-5.8zM127.3 230h5.8v3.4h-5.8zM174.7 227h5.8v3.4h-5.8zM174.7 233h5.8v3.4h-5.8zM201.1 227h5.8v3.4h-5.8z"/><path fill="#031a4a" d="M6 200h5.8v3.4h-5.8zM11.3 197h5.8v6.4h-5.8zM11.3 206h5.8v3.4h-5.8zM27.1 227h5.8v6.4h-5.8zM32.4 227h5.8v6.4h-5.8zM37.6 224h5.8v3.4h-5.8zM48.2 230h5.8v3.4h-5.8zM58.7 227h5.8v3.4h-5.8zM58.7 233h5.8v3.4h-5.8zM69.3 230h5.8v6.4h-5.8zM85.1 89h5.8v3.4h-5.8zM85.1 110h5.8v12.4h-5.8zM85.1 170h5.8v9.4h-5.8zM100.9 230h5.8v3.4h-5.8zM127.3 227h5.8v3.4h-5.8zM127.3 233h5.8v3.4h-5.8zM143.1 203h5.8v3.4h-5.8zM158.9 200h5.8v9.4h-5.8zM158.9 230h5.8v3.4h-5.8zM180 194h5.8v12.4h-5.8zM185.3 203h5.8v3.4h-5.8zM190.5 200h5.8v6.4h-5.8zM195.8 95h5.8v6.4h-5.8zM195.8 230h5.8v3.4h-5.8zM201.1 233h5.8v3.4h-5.8zM216.9 200h5.8v6.4h-5.8zM222.2 197h5.8v12.4h-5.8zM232.7 206h5.8v3.4h-5.8zM243.3 230h5.8v3.4h-5.8zM259.1 203h5.8v3.4h-5.8zM259.1 230h5.8v3.4h-5.8zM264.4 200h5.8v9.4h-5.8zM269.6 200h5.8v6.4h-5.8z"/><path fill="#03295b" d="M6 188h5.8v12.4h-5.8zM6 203h5.8v6.4h-5.8zM11.3 194h5.8v3.4h-5.8zM11.3 209h5.8v3.4h-5.8zM16.5 83h5.8v15.4h-5.8zM16.5 203h5.8v3.4h-5.8zM32.4 224h5.8v3.4h-5.8zM37.6 200h5.8v9.4h-5.8zM37.6 233h5.8v3.4h-5.8zM42.9 86h5.8v15.4h-5.8zM42.9 200h5.8v3.4h-5.8zM42.9 230h5.8v3.4h-5.8zM48.2 146h5.8v9.4h-5.8zM48.2 227h5.8v3.4h-5.8zM53.5 134h5.8v3.4h-5.8zM58.7 104h5.8v6.4h-5.8zM58.7 203h5.8v6.4h-5.8zM64 203h5.8v9.4h-5.8zM64 224h5.8v3.4h-5.8zM69.3 161h5.8v12.4h-5.8zM69.3 227h5.8v3.4h-5.8zM74.5 82.6h5.8v3.8h-5.8zM74.5 227h5.8v6.4h-5.8zM79.8 113h5.8v9.4h-5.8zM85.1 83h5.8v6.4h-5.8zM85.1 92h5.8v18.4h-5.8zM85.1 122h5.8v3.4h-5.8zM85.1 152h5.8v18.4h-5.8zM85.1 179h5.8v6.4h-5.8zM100.9 173h5.8v6.4h-5.8zM100.9 227h5.8v3.4h-5.8zM100.9 236h5.8v3.4h-5.8zM106.2 230h5.8v3.4h-5.8zM111.5 230h5.8v3.4h-5.8zM116.7 203h5.8v6.4h-5.8zM122 230h5.8v3.4h-5.8zM127.3 98h5.8v24.4h-5.8zM132.5 167h5.8v6.4h-5.8zM143.1 134h5.8v12.4h-5.8zM143.1 197h5.8v6.4h-5.8zM143.1 206h5.8v3.4h-5.8zM143.1 227h5.8v6.4h-5.8zM148.4 110h5.8v21.4h-5.8zM148.4 173h5.8v6.4h-5.8zM148.4 227h5.8v6.4h-5.8zM153.6 200h5.8v9.4h-5.8zM158.9 86h5.8v3.4h-5.8zM158.9 197h5.8v3.4h-5.8zM158.9 209h5.8v3.4h-5.8zM158.9 227h5.8v3.4h-5.8zM164.2 203h5.8v6.4h-5.8zM164.2 230h5.8v3.4h-5.8zM169.5 203h5.8v6.4h-5.8zM174.7 128h5.8v12.4h-5.8zM174.7 158h5.8v15.4h-5.8zM174.7 200h5.8v9.4h-5.8zM174.7 224h5.8v3.4h-5.8zM180 188h5.8v6.4h-5.8zM180 206h5.8v3.4h-5.8zM180 230h5.8v3.4h-5.8zM185.3 131h5.8v3.4h-5.8zM185.3 197h5.8v6.4h-5.8zM185.3 206h5.8v3.4h-5.8zM190.5 197h5.8v3.4h-5.8zM190.5 206h5.8v3.4h-5.8zM190.5 230h5.8v6.4h-5.8zM195.8 92h5.8v3.4h-5.8zM195.8 101h5.8v6.4h-5.8zM195.8 167h5.8v6.4h-5.8zM195.8 197h5.8v9.4h-5.8zM195.8 227h5.8v3.4h-5.8zM201.1 92h5.8v9.4h-5.8zM201.1 164h5.8v3.4h-5.8zM201.1 200h5.8v6.4h-5.8zM201.1 224h5.8v3.4h-5.8zM206.4 203h5.8v9.4h-5.8zM211.6 122h5.8v12.4h-5.8zM211.6 179h5.8v27.4h-5.8zM216.9 194h5.8v6.4h-5.8zM216.9 206h5.8v3.4h-5.8zM222.2 85h5.8v13.4h-5.8zM222.2 194h5.8v3.4h-5.8zM222.2 227h5.8v6.4h-5.8zM227.5 137h5.8v18.4h-5.8zM227.5 227h5.8v6.4h-5.8zM232.7 203h5.8v3.4h-5.8zM232.7 209h5.8v3.4h-5.8zM232.7 227h5.8v6.4h-5.8zM238 227h5.8v6.4h-5.8zM243.3 203h5.8v6.4h-5.8zM243.3 227h5.8v3.4h-5.8zM248.5 203h5.8v6.4h-5.8zM259.1 86h5.8v15.4h-5.8zM259.1 197h5.8v6.4h-5.8zM259.1 206h5.8v3.4h-5.8zM259.1 227h5.8v3.4h-5.8zM264.4 197h5.8v3.4h-5.8zM264.4 209h5.8v3.4h-5.8zM264.4 230h5.8v3.4h-5.8zM269.6 197h5.8v3.4h-5.8zM269.6 206h5.8v3.4h-5.8zM269.6 230h5.8v3.4h-5.8zM274.9 200h5.8v6.4h-5.8zM290.7 203h5.8v3.4h-5.8zM290.7 230h5.8v3.4h-5.8z"/><path fill="#043b6d" d="M6 98h5.8v18.4h-5.8zM6 179h5.8v9.4h-5.8zM6 209h5.8v3.4h-5.8zM11.3 81.9h5.8v10.5h-5.8zM11.3 104h5.8v15.4h-5.8zM11.3 191h5.8v3.4h-5.8zM16.5 82.5h5.8v0.9h-5.8zM16.5 98h5.8v12.4h-5.8zM16.5 197h5.8v6.4h-5.8zM16.5 206h5.8v6.4h-5.8zM21.8 107h5.8v3.4h-5.8zM21.8 200h5.8v12.4h-5.8zM21.8 227h5.8v6.4h-5.8zM27.1 197h5.8v12.4h-5.8zM27.1 224h5.8v3.4h-5.8zM27.1 233h5.8v3.4h-5.8zM32.4 83h5.8v21.4h-5.8zM32.4 158h5.8v9.4h-5.8zM32.4 203h5.8v12.4h-5.8zM32.4 218h5.8v6.4h-5.8zM37.6 86h5.8v12.4h-5.8zM37.6 197h5.8v3.4h-5.8zM37.6 209h5.8v6.4h-5.8zM37.6 221h5.8v3.4h-5.8zM42.9 82.6h5.8v3.8h-5.8zM42.9 101h5.8v15.4h-5.8zM42.9 134h5.8v27.4h-5.8zM42.9 191h5.8v9.4h-5.8zM42.9 203h5.8v6.4h-5.8zM42.9 227h5.8v3.4h-5.8zM48.2 82.8h5.8v12.6h-5.8zM48.2 128h5.8v18.4h-5.8zM48.2 155h5.8v9.4h-5.8zM48.2 194h5.8v15.4h-5.8zM53.5 82.5h5.8v0.9h-5.8zM53.5 122h5.8v12.4h-5.8zM53.5 137h5.8v9.4h-5.8zM53.5 152h5.8v15.4h-5.8zM53.5 230h5.8v3.4h-5.8zM58.7 81.9h5.8v4.5h-5.8zM58.7 98h5.8v6.4h-5.8zM58.7 110h5.8v9.4h-5.8zM58.7 122h5.8v18.4h-5.8zM58.7 176h5.8v6.4h-5.8zM58.7 200h5.8v3.4h-5.8zM58.7 209h5.8v3.4h-5.8zM58.7 224h5.8v3.4h-5.8zM64 119h5.8v12.4h-5.8zM64 155h5.8v24.4h-5.8zM64 200h5.8v3.4h-5.8zM64 212h5.8v6.4h-5.8zM64 221h5.8v3.4h-5.8zM69.3 116h5.8v15.4h-5.8zM69.3 155h5.8v6.4h-5.8zM69.3 173h5.8v9.4h-5.8zM69.3 197h5.8v12.4h-5.8zM74.5 86h5.8v33.4h-5.8zM74.5 134h5.8v12.4h-5.8zM74.5 167h5.8v9.4h-5.8zM79.8 110h5.8v3.4h-5.8zM79.8 122h5.8v3.4h-5.8zM79.8 152h5.8v9.4h-5.8zM85.1 83h5.8v0.4h-5.8zM85.1 125h5.8v3.4h-5.8zM85.1 146h5.8v6.4h-5.8zM85.1 185h5.8v6.4h-5.8zM90.4 83.2h5.8v3.2h-5.8zM90.4 143h5.8v9.4h-5.8zM90.4 197h5.8v12.4h-5.8zM95.6 113h5.8v21.4h-5.8zM100.9 83h5.8v3.4h-5.8zM100.9 110h5.8v30.4h-5.8zM100.9 164h5.8v9.4h-5.8zM100.9 179h5.8v12.4h-5.8zM100.9 197h5.8v9.4h-5.8zM106.2 83.6h5.8v53.8h-5.8zM106.2 167h5.8v36.4h-5.8zM106.2 227h5.8v3.4h-5.8zM111.5 86h5.8v12.4h-5.8zM111.5 134h5.8v3.4h-5.8zM111.5 227h5.8v3.4h-5.8zM111.5 233h5.8v3.4h-5.8zM116.7 197h5.8v6.4h-5.8zM116.7 209h5.8v3.4h-5.8zM116.7 230h5.8v3.4h-5.8zM122 161h5.8v9.4h-5.8zM122 200h5.8v9.4h-5.8zM122 227h5.8v3.4h-5.8zM127.3 83.6h5.8v14.8h-5.8zM127.3 122h5.8v15.4h-5.8zM127.3 164h5.8v27.4h-5.8zM127.3 200h5.8v9.4h-5.8zM127.3 224h5.8v3.4h-5.8zM132.5 113h5.8v3.4h-5.8zM132.5 152h5.8v15.4h-5.8zM132.5 173h5.8v6.4h-5.8zM137.8 101h5.8v15.4h-5.8zM137.8 140h5.8v15.4h-5.8zM137.8 203h5.8v6.4h-5.8zM143.1 98h5.8v21.4h-5.8zM143.1 131h5.8v3.4h-5.8zM143.1 146h5.8v3.4h-5.8zM143.1 173h5.8v3.4h-5.8zM143.1 191h5.8v6.4h-5.8zM143.1 209h5.8v3.4h-5.8zM148.4 84.9h5.8v25.5h-5.8zM148.4 131h5.8v24.4h-5.8zM148.4 167h5.8v6.4h-5.8zM148.4 179h5.8v30.4h-5.8zM153.6 86h5.8v9.4h-5.8zM153.6 116h5.8v15.4h-5.8zM153.6 143h5.8v15.4h-5.8zM153.6 194h5.8v6.4h-5.8zM153.6 209h5.8v3.4h-5.8zM153.6 227h5.8v6.4h-5.8zM158.9 83.2h5.8v3.2h-5.8zM158.9 89h5.8v9.4h-5.8zM158.9 143h5.8v3.4h-5.8zM158.9 182h5.8v15.4h-5.8zM158.9 212h5.8v3.4h-5.8zM158.9 233h5.8v3.4h-5.8zM164.2 134h5.8v27.4h-5.8zM164.2 200h5.8v3.4h-5.8zM164.2 209h5.8v3.4h-5.8zM164.2 227h5.8v3.4h-5.8zM169.5 185h5.8v9.4h-5.8zM169.5 197h5.8v6.4h-5.8zM169.5 209h5.8v3.4h-5.8zM169.5 230h5.8v3.4h-5.8zM174.7 122h5.8v6.4h-5.8zM174.7 140h5.8v18.4h-5.8zM174.7 173h5.8v9.4h-5.8zM174.7 197h5.8v3.4h-5.8zM174.7 209h5.8v3.4h-5.8zM180 125h5.8v12.4h-5.8zM180 161h5.8v27.4h-5.8zM180 209h5.8v3.4h-5.8zM180 227h5.8v3.4h-5.8zM180 233h5.8v3.4h-5.8zM185.3 86h5.8v21.4h-5.8zM185.3 125h5.8v6.4h-5.8zM185.3 134h5.8v3.4h-5.8zM185.3 188h5.8v9.4h-5.8zM190.5 84.8h5.8v19.6h-5.8zM190.5 128h5.8v12.4h-5.8zM190.5 179h5.8v3.4h-5.8zM190.5 194h5.8v3.4h-5.8zM190.5 227h5.8v3.4h-5.8zM195.8 89h5.8v3.4h-5.8zM195.8 107h5.8v3.4h-5.8zM195.8 161h5.8v6.4h-5.8zM195.8 173h5.8v9.4h-5.8zM195.8 191h5.8v6.4h-5.8zM195.8 206h5.8v3.4h-5.8zM195.8 233h5.8v3.4h-5.8zM201.1 89h5.8v3.4h-5.8zM201.1 101h5.8v9.4h-5.8zM201.1 125h5.8v6.4h-5.8zM201.1 155h5.8v9.4h-5.8zM201.1 167h5.8v6.4h-5.8zM201.1 188h5.8v12.4h-5.8zM201.1 206h5.8v6.4h-5.8zM201.1 221h5.8v3.4h-5.8zM206.4 200h5.8v3.4h-5.8zM206.4 212h5.8v3.4h-5.8zM211.6 119h5.8v3.4h-5.8zM211.6 134h5.8v6.4h-5.8zM211.6 173h5.8v6.4h-5.8zM211.6 206h5.8v3.4h-5.8zM216.9 137h5.8v27.4h-5.8zM216.9 179h5.8v15.4h-5.8zM216.9 227h5.8v6.4h-5.8zM222.2 98h5.8v15.4h-5.8zM222.2 146h5.8v21.4h-5.8zM222.2 191h5.8v3.4h-5.8zM222.2 209h5.8v3.4h-5.8zM222.2 233h5.8v3.4h-5.8zM227.5 84.7h5.8v19.7h-5.8zM227.5 119h5.8v18.4h-5.8zM227.5 155h5.8v18.4h-5.8zM227.5 200h5.8v9.4h-5.8zM227.5 233h5.8v3.4h-5.8zM232.7 85.5h5.8v12.9h-5.8zM232.7 200h5.8v3.4h-5.8zM232.7 212h5.8v3.4h-5.8zM232.7 233h5.8v3.4h-5.8zM238 85.2h5.8v4.2h-5.8zM238 197h5.8v12.4h-5.8zM238 224h5.8v3.4h-5.8zM243.3 84.9h5.8v1.5h-5.8zM243.3 185h5.8v3.4h-5.8zM243.3 197h5.8v6.4h-5.8zM243.3 209h5.8v3.4h-5.8zM243.3 224h5.8v3.4h-5.8zM248.5 92h5.8v9.4h-5.8zM248.5 122h5.8v6.4h-5.8zM248.5 143h5.8v15.4h-5.8zM248.5 197h5.8v6.4h-5.8zM248.5 209h5.8v3.4h-5.8zM253.8 92h5.8v12.4h-5.8zM253.8 143h5.8v12.4h-5.8zM253.8 203h5.8v9.4h-5.8zM259.1 85.6h5.8v0.8h-5.8zM259.1 101h5.8v18.4h-5.8zM259.1 191h5.8v6.4h-5.8zM259.1 209h5.8v3.4h-5.8zM259.1 233h5.8v3.4h-5.8zM264.4 85.5h5.8v27.9h-5.8zM264.4 134h5.8v36.4h-5.8zM264.4 194h5.8v3.4h-5.8zM264.4 227h5.8v3.4h-5.8zM264.4 233h5.8v3.4h-5.8zM269.6 84.8h5.8v31.6h-5.8zM269.6 161h5.8v9.4h-5.8zM269.6 194h5.8v3.4h-5.8zM269.6 209h5.8v3.4h-5.8zM269.6 227h5.8v3.4h-5.8zM274.9 86.6h5.8v14.8h-5.8zM274.9 197h5.8v3.4h-5.8zM274.9 206h5.8v3.4h-5.8zM274.9 227h5.8v6.4h-5.8zM280.2 98h5.8v9.4h-5.8zM280.2 203h5.8v6.4h-5.8zM285.5 92h5.8v9.4h-5.8zM285.5 143h5.8v12.4h-5.8zM285.5 179h5.8v9.4h-5.8zM285.5 200h5.8v9.4h-5.8zM285.5 230h5.8v3.4h-5.8zM290.7 104h5.8v3.4h-5.8zM290.7 200h5.8v3.4h-5.8zM290.7 206h5.8v3.4h-5.8zM290.7 227h5.8v3.4h-5.8z"/><path fill="#054e80" d="M6 81.8h5.8v16.6h-5.8zM6 116h5.8v15.4h-5.8zM6 164h5.8v15.4h-5.8zM6 212h5.8v3.4h-5.8zM6 230h5.8v3.4h-5.8zM11.3 92h5.8v12.4h-5.8zM11.3 119h5.8v6.4h-5.8zM11.3 185h5.8v6.4h-5.8zM11.3 212h5.8v3.4h-5.8zM11.3 227h5.8v6.4h-5.8zM16.5 110h5.8v6.4h-5.8zM16.5 128h5.8v27.4h-5.8zM16.5 185h5.8v12.4h-5.8zM16.5 212h5.8v3.4h-5.8zM16.5 227h5.8v6.4h-5.8zM16.5 254h5.8v0.8h-5.8zM21.8 81.5h5.8v1.9h-5.8zM21.8 92h5.8v15.4h-5.8zM21.8 110h5.8v9.4h-5.8zM21.8 131h5.8v21.4h-5.8zM21.8 182h5.8v18.4h-5.8zM21.8 212h5.8v3.4h-5.8zM21.8 224h5.8v3.4h-5.8zM21.8 254h5.8v1.3h-5.8zM27.1 82.2h5.8v16.2h-5.8zM27.1 119h5.8v18.4h-5.8zM27.1 188h5.8v9.4h-5.8zM27.1 209h5.8v3.4h-5.8zM27.1 221h5.8v3.4h-5.8zM32.4 81.1h5.8v2.3h-5.8zM32.4 104h5.8v6.4h-5.8zM32.4 116h5.8v15.4h-5.8zM32.4 155h5.8v3.4h-5.8zM32.4 167h5.8v6.4h-5.8zM32.4 197h5.8v6.4h-5.8zM32.4 215h5.8v3.4h-5.8zM32.4 233h5.8v3.4h-5.8zM37.6 82.2h5.8v4.2h-5.8zM37.6 98h5.8v24.4h-5.8zM37.6 149h5.8v12.4h-5.8zM37.6 194h5.8v3.4h-5.8zM37.6 215h5.8v6.4h-5.8zM42.9 116h5.8v18.4h-5.8zM42.9 161h5.8v6.4h-5.8zM42.9 185h5.8v6.4h-5.8zM42.9 209h5.8v3.4h-5.8zM42.9 224h5.8v3.4h-5.8zM42.9 233h5.8v3.4h-5.8zM48.2 95h5.8v9.4h-5.8zM48.2 119h5.8v9.4h-5.8zM48.2 164h5.8v30.4h-5.8zM48.2 209h5.8v3.4h-5.8zM48.2 224h5.8v3.4h-5.8zM48.2 233h5.8v3.4h-5.8zM53.5 83h5.8v3.4h-5.8zM53.5 113h5.8v9.4h-5.8zM53.5 146h5.8v6.4h-5.8zM53.5 167h5.8v18.4h-5.8zM53.5 203h5.8v6.4h-5.8zM53.5 227h5.8v3.4h-5.8zM58.7 86h5.8v12.4h-5.8zM58.7 119h5.8v3.4h-5.8zM58.7 140h5.8v6.4h-5.8zM58.7 161h5.8v15.4h-5.8zM58.7 182h5.8v9.4h-5.8zM58.7 194h5.8v6.4h-5.8zM58.7 212h5.8v6.4h-5.8zM58.7 221h5.8v3.4h-5.8zM64 86h5.8v33.4h-5.8zM64 131h5.8v6.4h-5.8zM64 152h5.8v3.4h-5.8zM64 179h5.8v6.4h-5.8zM64 197h5.8v3.4h-5.8zM64 218h5.8v3.4h-5.8zM64 236h5.8v3.4h-5.8zM69.3 101h5.8v15.4h-5.8zM69.3 131h5.8v9.4h-5.8zM69.3 152h5.8v3.4h-5.8zM69.3 182h5.8v15.4h-5.8zM69.3 209h5.8v3.4h-5.8zM69.3 224h5.8v3.4h-5.8zM69.3 236h5.8v3.4h-5.8zM74.5 119h5.8v15.4h-5.8zM74.5 146h5.8v21.4h-5.8zM74.5 176h5.8v3.4h-5.8zM74.5 200h5.8v15.4h-5.8zM74.5 224h5.8v3.4h-5.8zM74.5 233h5.8v3.4h-5.8zM79.8 82.9h5.8v27.5h-5.8zM79.8 125h5.8v6.4h-5.8zM79.8 146h5.8v6.4h-5.8zM79.8 161h5.8v9.4h-5.8zM79.8 227h5.8v6.4h-5.8zM85.1 128h5.8v3.4h-5.8zM85.1 140h5.8v6.4h-5.8zM85.1 191h5.8v18.4h-5.8zM85.1 227h5.8v6.4h-5.8zM90.4 86h5.8v3.4h-5.8zM90.4 110h5.8v12.4h-5.8zM90.4 137h5.8v6.4h-5.8zM90.4 152h5.8v6.4h-5.8zM90.4 188h5.8v9.4h-5.8zM90.4 209h5.8v3.4h-5.8zM95.6 82.3h5.8v1.1h-5.8zM95.6 101h5.8v12.4h-5.8zM95.6 134h5.8v9.4h-5.8zM95.6 161h5.8v48.4h-5.8zM100.9 86h5.8v6.4h-5.8zM100.9 104h5.8v6.4h-5.8zM100.9 140h5.8v3.4h-5.8zM100.9 161h5.8v3.4h-5.8zM100.9 191h5.8v6.4h-5.8zM100.9 206h5.8v6.4h-5.8zM100.9 224h5.8v3.4h-5.8zM106.2 137h5.8v3.4h-5.8zM106.2 164h5.8v3.4h-5.8zM106.2 203h5.8v6.4h-5.8zM106.2 233h5.8v3.4h-5.8zM111.5 83h5.8v3.4h-5.8zM111.5 98h5.8v21.4h-5.8zM111.5 125h5.8v9.4h-5.8zM111.5 137h5.8v6.4h-5.8zM111.5 194h5.8v15.4h-5.8zM111.5 224h5.8v3.4h-5.8zM116.7 194h5.8v3.4h-5.8zM116.7 212h5.8v3.4h-5.8zM116.7 227h5.8v3.4h-5.8zM116.7 233h5.8v3.4h-5.8zM122 83.1h5.8v24.3h-5.8zM122 125h5.8v15.4h-5.8zM122 155h5.8v6.4h-5.8zM122 170h5.8v30.4h-5.8zM122 209h5.8v3.4h-5.8zM122 224h5.8v3.4h-5.8zM122 233h5.8v3.4h-5.8zM127.3 137h5.8v9.4h-5.8zM127.3 158h5.8v6.4h-5.8zM127.3 191h5.8v9.4h-5.8zM127.3 209h5.8v3.4h-5.8zM127.3 221h5.8v3.4h-5.8zM127.3 236h5.8v3.4h-5.8zM132.5 89h5.8v24.4h-5.8zM132.5 116h5.8v9.4h-5.8zM132.5 143h5.8v9.4h-5.8zM132.5 179h5.8v6.4h-5.8zM132.5 203h5.8v6.4h-5.8zM132.5 230h5.8v3.4h-5.8zM137.8 98h5.8v3.4h-5.8zM137.8 116h5.8v6.4h-5.8zM137.8 134h5.8v6.4h-5.8zM137.8 155h5.8v24.4h-5.8zM137.8 197h5.8v6.4h-5.8zM137.8 209h5.8v3.4h-5.8zM137.8 227h5.8v6.4h-5.8zM143.1 82.8h5.8v15.6h-5.8zM143.1 119h5.8v12.4h-5.8zM143.1 149h5.8v3.4h-5.8zM143.1 167h5.8v6.4h-5.8zM143.1 176h5.8v15.4h-5.8zM143.1 212h5.8v3.4h-5.8zM143.1 224h5.8v3.4h-5.8zM148.4 155h5.8v12.4h-5.8zM148.4 209h5.8v6.4h-5.8zM148.4 224h5.8v3.4h-5.8zM153.6 84.1h5.8v2.3h-5.8zM153.6 95h5.8v12.4h-5.8zM153.6 110h5.8v6.4h-5.8zM153.6 131h5.8v12.4h-5.8zM153.6 158h5.8v36.4h-5.8zM153.6 212h5.8v3.4h-5.8zM153.6 224h5.8v3.4h-5.8zM158.9 98h5.8v18.4h-5.8zM158.9 128h5.8v15.4h-5.8zM158.9 146h5.8v12.4h-5.8zM158.9 170h5.8v12.4h-5.8zM158.9 224h5.8v3.4h-5.8zM164.2 84.2h5.8v20.2h-5.8zM164.2 128h5.8v6.4h-5.8zM164.2 161h5.8v9.4h-5.8zM164.2 182h5.8v18.4h-5.8zM164.2 212h5.8v6.4h-5.8zM164.2 224h5.8v3.4h-5.8zM164.2 233h5.8v3.4h-5.8zM169.5 128h5.8v57.4h-5.8zM169.5 194h5.8v3.4h-5.8zM169.5 212h5.8v3.4h-5.8zM169.5 227h5.8v3.4h-5.8zM169.5 233h5.8v3.4h-5.8zM174.7 113h5.8v9.4h-5.8zM174.7 182h5.8v15.4h-5.8zM174.7 212h5.8v3.4h-5.8zM174.7 221h5.8v3.4h-5.8zM174.7 236h5.8v3.4h-5.8zM180 83.7h5.8v41.7h-5.8zM180 137h5.8v6.4h-5.8zM180 152h5.8v9.4h-5.8zM180 212h5.8v3.4h-5.8zM180 224h5.8v3.4h-5.8zM185.3 85h5.8v1.4h-5.8zM185.3 107h5.8v6.4h-5.8zM185.3 122h5.8v3.4h-5.8zM185.3 137h5.8v3.4h-5.8zM185.3 182h5.8v6.4h-5.8zM185.3 209h5.8v3.4h-5.8zM185.3 227h5.8v9.4h-5.8zM190.5 104h5.8v6.4h-5.8zM190.5 125h5.8v3.4h-5.8zM190.5 140h5.8v12.4h-5.8zM190.5 158h5.8v21.4h-5.8zM190.5 182h5.8v12.4h-5.8zM190.5 209h5.8v3.4h-5.8zM195.8 86h5.8v3.4h-5.8zM195.8 110h5.8v3.4h-5.8zM195.8 155h5.8v6.4h-5.8zM195.8 182h5.8v9.4h-5.8zM195.8 209h5.8v3.4h-5.8zM195.8 224h5.8v3.4h-5.8zM201.1 84.6h5.8v4.8h-5.8zM201.1 110h5.8v15.4h-5.8zM201.1 131h5.8v24.4h-5.8zM201.1 173h5.8v6.4h-5.8zM201.1 182h5.8v6.4h-5.8zM201.1 212h5.8v3.4h-5.8zM201.1 218h5.8v3.4h-5.8zM201.1 236h5.8v3.4h-5.8zM206.4 158h5.8v15.4h-5.8zM206.4 197h5.8v3.4h-5.8zM206.4 215h5.8v3.4h-5.8zM206.4 227h5.8v3.4h-5.8zM211.6 92h5.8v15.4h-5.8zM211.6 113h5.8v6.4h-5.8zM211.6 140h5.8v9.4h-5.8zM211.6 164h5.8v9.4h-5.8zM211.6 209h5.8v3.4h-5.8zM216.9 83.5h5.8v53.9h-5.8zM216.9 164h5.8v15.4h-5.8zM216.9 209h5.8v3.4h-5.8zM216.9 233h5.8v3.4h-5.8zM222.2 113h5.8v6.4h-5.8zM222.2 143h5.8v3.4h-5.8zM222.2 167h5.8v6.4h-5.8zM222.2 188h5.8v3.4h-5.8zM222.2 212h5.8v3.4h-5.8zM222.2 224h5.8v3.4h-5.8zM227.5 104h5.8v15.4h-5.8zM227.5 173h5.8v3.4h-5.8zM227.5 194h5.8v6.4h-5.8zM227.5 209h5.8v3.4h-5.8zM227.5 224h5.8v3.4h-5.8zM232.7 98h5.8v6.4h-5.8zM232.7 119h5.8v48.4h-5.8zM232.7 197h5.8v3.4h-5.8zM232.7 215h5.8v3.4h-5.8zM232.7 224h5.8v3.4h-5.8zM238 89h5.8v36.4h-5.8zM238 158h5.8v39.4h-5.8zM238 209h5.8v6.4h-5.8zM238 221h5.8v3.4h-5.8zM243.3 86h5.8v6.4h-5.8zM243.3 119h5.8v12.4h-5.8zM243.3 137h5.8v18.4h-5.8zM243.3 179h5.8v6.4h-5.8zM243.3 188h5.8v9.4h-5.8zM243.3 212h5.8v6.4h-5.8zM243.3 221h5.8v3.4h-5.8zM243.3 233h5.8v3.4h-5.8zM248.5 84.7h5.8v7.7h-5.8zM248.5 101h5.8v6.4h-5.8zM248.5 116h5.8v6.4h-5.8zM248.5 128h5.8v15.4h-5.8zM248.5 158h5.8v9.4h-5.8zM248.5 173h5.8v24.4h-5.8zM248.5 212h5.8v3.4h-5.8zM248.5 227h5.8v6.4h-5.8zM253.8 85.2h5.8v7.2h-5.8zM253.8 104h5.8v6.4h-5.8zM253.8 119h5.8v24.4h-5.8zM253.8 155h5.8v6.4h-5.8zM253.8 200h5.8v3.4h-5.8zM253.8 212h5.8v3.4h-5.8zM253.8 227h5.8v6.4h-5.8zM259.1 119h5.8v30.4h-5.8zM259.1 170h5.8v21.4h-5.8zM259.1 212h5.8v3.4h-5.8zM259.1 224h5.8v3.4h-5.8zM264.4 113h5.8v21.4h-5.8zM264.4 170h5.8v24.4h-5.8zM264.4 212h5.8v3.4h-5.8zM264.4 224h5.8v3.4h-5.8zM269.6 116h5.8v30.4h-5.8zM269.6 152h5.8v9.4h-5.8zM269.6 170h5.8v6.4h-5.8zM269.6 191h5.8v3.4h-5.8zM269.6 233h5.8v3.4h-5.8zM274.9 101h5.8v6.4h-5.8zM274.9 131h5.8v6.4h-5.8zM274.9 194h5.8v3.4h-5.8zM274.9 209h5.8v3.4h-5.8zM280.2 92h5.8v6.4h-5.8zM280.2 107h5.8v6.4h-5.8zM280.2 140h5.8v30.4h-5.8zM280.2 200h5.8v3.4h-5.8zM280.2 209h5.8v6.4h-5.8zM280.2 227h5.8v6.4h-5.8zM285.5 85.9h5.8v6.5h-5.8zM285.5 101h5.8v6.4h-5.8zM285.5 137h5.8v6.4h-5.8zM285.5 155h5.8v3.4h-5.8zM285.5 173h5.8v6.4h-5.8zM285.5 188h5.8v12.4h-5.8zM285.5 209h5.8v3.4h-5.8zM285.5 227h5.8v3.4h-5.8zM290.7 98h5.8v6.4h-5.8zM290.7 107h5.8v57.4h-5.8zM290.7 173h5.8v27.4h-5.8zM290.7 209h5.8v3.4h-5.8zM290.7 233h5.8v3.4h-5.8z"/><path fill="#066395" d="M6 131h5.8v33.4h-5.8zM6 227h5.8v3.4h-5.8zM6 254h5.8v1.5h-5.8zM11.3 125h5.8v6.4h-5.8zM11.3 143h5.8v42.4h-5.8zM11.3 215h5.8v3.4h-5.8zM16.5 116h5.8v12.4h-5.8zM16.5 155h5.8v6.4h-5.8zM16.5 182h5.8v3.4h-5.8zM16.5 224h5.8v3.4h-5.8zM21.8 83h5.8v9.4h-5.8zM21.8 119h5.8v12.4h-5.8zM21.8 152h5.8v30.4h-5.8zM21.8 215h5.8v9.4h-5.8zM21.8 233h5.8v3.4h-5.8zM27.1 98h5.8v21.4h-5.8zM27.1 137h5.8v3.4h-5.8zM27.1 161h5.8v27.4h-5.8zM27.1 212h5.8v9.4h-5.8zM32.4 110h5.8v6.4h-5.8zM32.4 131h5.8v6.4h-5.8zM32.4 152h5.8v3.4h-5.8zM32.4 173h5.8v6.4h-5.8zM32.4 194h5.8v3.4h-5.8zM37.6 122h5.8v6.4h-5.8zM37.6 146h5.8v3.4h-5.8zM37.6 161h5.8v21.4h-5.8zM37.6 191h5.8v3.4h-5.8zM42.9 167h5.8v18.4h-5.8zM42.9 212h5.8v3.4h-5.8zM48.2 104h5.8v15.4h-5.8zM48.2 212h5.8v3.4h-5.8zM48.2 221h5.8v3.4h-5.8zM53.5 86h5.8v6.4h-5.8zM53.5 107h5.8v6.4h-5.8zM53.5 185h5.8v6.4h-5.8zM53.5 197h5.8v6.4h-5.8zM53.5 209h5.8v3.4h-5.8zM53.5 224h5.8v3.4h-5.8zM53.5 254h5.8v0.8h-5.8zM58.7 146h5.8v15.4h-5.8zM58.7 191h5.8v3.4h-5.8zM58.7 218h5.8v3.4h-5.8zM64 81.2h5.8v5.2h-5.8zM64 137h5.8v15.4h-5.8zM64 185h5.8v12.4h-5.8zM69.3 81.4h5.8v5h-5.8zM69.3 95h5.8v6.4h-5.8zM69.3 140h5.8v12.4h-5.8zM69.3 212h5.8v3.4h-5.8zM69.3 221h5.8v3.4h-5.8zM74.5 179h5.8v6.4h-5.8zM74.5 194h5.8v6.4h-5.8zM74.5 215h5.8v9.4h-5.8zM74.5 254h5.8v1h-5.8zM79.8 131h5.8v15.4h-5.8zM79.8 170h5.8v36.4h-5.8zM79.8 233h5.8v3.4h-5.8zM85.1 131h5.8v9.4h-5.8zM85.1 209h5.8v3.4h-5.8zM85.1 224h5.8v3.4h-5.8zM85.1 233h5.8v3.4h-5.8zM90.4 89h5.8v21.4h-5.8zM90.4 122h5.8v15.4h-5.8zM90.4 158h5.8v30.4h-5.8zM90.4 212h5.8v3.4h-5.8zM90.4 227h5.8v6.4h-5.8zM90.4 254h5.8v0.5h-5.8zM95.6 83h5.8v6.4h-5.8zM95.6 92h5.8v9.4h-5.8zM95.6 143h5.8v3.4h-5.8zM95.6 155h5.8v6.4h-5.8zM95.6 209h5.8v6.4h-5.8zM95.6 227h5.8v9.4h-5.8zM100.9 92h5.8v12.4h-5.8zM100.9 143h5.8v3.4h-5.8zM100.9 158h5.8v3.4h-5.8zM100.9 212h5.8v3.4h-5.8zM100.9 239h5.8v3.4h-5.8zM100.9 245h5.8v9h-5.8zM106.2 140h5.8v6.4h-5.8zM106.2 161h5.8v3.4h-5.8zM106.2 209h5.8v3.4h-5.8zM106.2 224h5.8v3.4h-5.8zM106.2 254h5.8v1.2h-5.8zM111.5 119h5.8v6.4h-5.8zM111.5 143h5.8v51.4h-5.8zM111.5 209h5.8v6.4h-5.8zM111.5 221h5.8v3.4h-5.8zM116.7 86h5.8v18.4h-5.8zM116.7 158h5.8v24.4h-5.8zM116.7 185h5.8v9.4h-5.8zM116.7 215h5.8v3.4h-5.8zM116.7 224h5.8v3.4h-5.8zM122 107h5.8v18.4h-5.8zM122 140h5.8v15.4h-5.8zM122 212h5.8v6.4h-5.8zM122 221h5.8v3.4h-5.8zM127.3 146h5.8v12.4h-5.8zM127.3 212h5.8v9.4h-5.8zM127.3 254h5.8v0.4h-5.8zM132.5 83.1h5.8v6.3h-5.8zM132.5 125h5.8v6.4h-5.8zM132.5 140h5.8v3.4h-5.8zM132.5 185h5.8v9.4h-5.8zM132.5 197h5.8v6.4h-5.8zM132.5 209h5.8v3.4h-5.8zM132.5 227h5.8v3.4h-5.8zM132.5 233h5.8v3.4h-5.8zM137.8 92h5.8v6.4h-5.8zM137.8 122h5.8v12.4h-5.8zM137.8 179h5.8v18.4h-5.8zM137.8 212h5.8v3.4h-5.8zM143.1 152h5.8v3.4h-5.8zM143.1 161h5.8v6.4h-5.8zM143.1 215h5.8v9.4h-5.8zM148.4 215h5.8v3.4h-5.8zM148.4 221h5.8v3.4h-5.8zM153.6 107h5.8v3.4h-5.8zM153.6 215h5.8v9.4h-5.8zM158.9 116h5.8v12.4h-5.8zM158.9 158h5.8v12.4h-5.8zM158.9 215h5.8v9.4h-5.8zM164.2 104h5.8v6.4h-5.8zM164.2 125h5.8v3.4h-5.8zM164.2 170h5.8v12.4h-5.8zM164.2 218h5.8v6.4h-5.8zM169.5 84.3h5.8v5.1h-5.8zM169.5 122h5.8v6.4h-5.8zM169.5 215h5.8v3.4h-5.8zM169.5 224h5.8v3.4h-5.8zM169.5 254h5.8v0.5h-5.8zM174.7 84.8h5.8v28.6h-5.8zM174.7 215h5.8v6.4h-5.8zM180 143h5.8v9.4h-5.8zM180 215h5.8v3.4h-5.8zM185.3 113h5.8v9.4h-5.8zM185.3 140h5.8v3.4h-5.8zM185.3 155h5.8v12.4h-5.8zM185.3 176h5.8v6.4h-5.8zM185.3 212h5.8v3.4h-5.8zM190.5 110h5.8v15.4h-5.8zM190.5 152h5.8v6.4h-5.8zM190.5 212h5.8v3.4h-5.8zM190.5 224h5.8v3.4h-5.8zM190.5 236h5.8v3.4h-5.8zM195.8 83.8h5.8v2.6h-5.8zM195.8 113h5.8v3.4h-5.8zM195.8 125h5.8v30.4h-5.8zM195.8 212h5.8v6.4h-5.8zM195.8 221h5.8v3.4h-5.8zM201.1 179h5.8v3.4h-5.8zM201.1 215h5.8v3.4h-5.8zM206.4 104h5.8v30.4h-5.8zM206.4 143h5.8v15.4h-5.8zM206.4 173h5.8v24.4h-5.8zM206.4 218h5.8v9.4h-5.8zM206.4 230h5.8v3.4h-5.8zM211.6 84.9h5.8v7.5h-5.8zM211.6 107h5.8v6.4h-5.8zM211.6 149h5.8v15.4h-5.8zM211.6 212h5.8v3.4h-5.8zM211.6 227h5.8v6.4h-5.8zM216.9 212h5.8v3.4h-5.8zM216.9 224h5.8v3.4h-5.8zM216.9 236h5.8v3.4h-5.8zM222.2 119h5.8v12.4h-5.8zM222.2 137h5.8v6.4h-5.8zM222.2 173h5.8v15.4h-5.8zM222.2 215h5.8v9.4h-5.8zM222.2 236h5.8v3.4h-5.8zM227.5 176h5.8v18.4h-5.8zM227.5 212h5.8v3.4h-5.8zM227.5 221h5.8v3.4h-5.8zM227.5 236h5.8v3.4h-5.8zM232.7 104h5.8v3.4h-5.8zM232.7 113h5.8v6.4h-5.8zM232.7 167h5.8v24.4h-5.8zM232.7 194h5.8v3.4h-5.8zM232.7 218h5.8v6.4h-5.8zM238 125h5.8v9.4h-5.8zM238 149h5.8v9.4h-5.8zM238 215h5.8v6.4h-5.8zM238 233h5.8v3.4h-5.8zM243.3 92h5.8v27.4h-5.8zM243.3 131h5.8v6.4h-5.8zM243.3 155h5.8v24.4h-5.8zM243.3 218h5.8v3.4h-5.8zM248.5 107h5.8v9.4h-5.8zM248.5 167h5.8v6.4h-5.8zM248.5 215h5.8v3.4h-5.8zM248.5 224h5.8v3.4h-5.8zM253.8 110h5.8v9.4h-5.8zM253.8 161h5.8v9.4h-5.8zM253.8 197h5.8v3.4h-5.8zM253.8 215h5.8v3.4h-5.8zM253.8 221h5.8v6.4h-5.8zM259.1 149h5.8v6.4h-5.8zM259.1 164h5.8v6.4h-5.8zM259.1 215h5.8v3.4h-5.8zM259.1 221h5.8v3.4h-5.8zM264.4 215h5.8v3.4h-5.8zM264.4 221h5.8v3.4h-5.8zM269.6 146h5.8v6.4h-5.8zM269.6 176h5.8v15.4h-5.8zM269.6 212h5.8v3.4h-5.8zM269.6 224h5.8v3.4h-5.8zM274.9 107h5.8v24.4h-5.8zM274.9 137h5.8v6.4h-5.8zM274.9 164h5.8v3.4h-5.8zM274.9 188h5.8v6.4h-5.8zM274.9 212h5.8v3.4h-5.8zM274.9 224h5.8v3.4h-5.8zM280.2 86.2h5.8v6.2h-5.8zM280.2 113h5.8v9.4h-5.8zM280.2 134h5.8v6.4h-5.8zM280.2 170h5.8v6.4h-5.8zM280.2 197h5.8v3.4h-5.8zM280.2 215h5.8v3.4h-5.8zM280.2 224h5.8v3.4h-5.8zM285.5 107h5.8v30.4h-5.8zM285.5 158h5.8v15.4h-5.8zM285.5 224h5.8v3.4h-5.8zM290.7 86h5.8v12.4h-5.8zM290.7 164h5.8v9.4h-5.8zM290.7 212h5.8v3.4h-5.8zM290.7 224h5.8v3.4h-5.8z"/><path fill="#0777a9" d="M6 215h5.8v3.4h-5.8zM6 224h5.8v3.4h-5.8zM11.3 131h5.8v12.4h-5.8zM11.3 218h5.8v9.4h-5.8zM11.3 254h5.8v1.9h-5.8zM16.5 161h5.8v6.4h-5.8zM16.5 179h5.8v3.4h-5.8zM16.5 215h5.8v9.4h-5.8zM16.5 251h5.8v3.4h-5.8zM21.8 245h5.8v9.4h-5.8zM27.1 140h5.8v9.4h-5.8zM27.1 152h5.8v9.4h-5.8zM27.1 254h5.8v0.7h-5.8zM32.4 137h5.8v15.4h-5.8zM32.4 179h5.8v15.4h-5.8zM37.6 128h5.8v18.4h-5.8zM37.6 182h5.8v9.4h-5.8zM37.6 254h5.8v1.1h-5.8zM42.9 215h5.8v9.4h-5.8zM48.2 215h5.8v6.4h-5.8zM53.5 92h5.8v15.4h-5.8zM53.5 191h5.8v6.4h-5.8zM53.5 212h5.8v12.4h-5.8zM58.7 236h5.8v3.4h-5.8zM58.7 245h5.8v3.4h-5.8zM69.3 86h5.8v9.4h-5.8zM69.3 215h5.8v6.4h-5.8zM74.5 185h5.8v9.4h-5.8zM74.5 236h5.8v3.4h-5.8zM79.8 206h5.8v6.4h-5.8zM79.8 224h5.8v3.4h-5.8zM79.8 236h5.8v3.4h-5.8zM85.1 212h5.8v12.4h-5.8zM85.1 236h5.8v3.4h-5.8zM90.4 215h5.8v12.4h-5.8zM90.4 233h5.8v3.4h-5.8zM95.6 89h5.8v3.4h-5.8zM95.6 146h5.8v9.4h-5.8zM95.6 215h5.8v3.4h-5.8zM95.6 224h5.8v3.4h-5.8zM100.9 146h5.8v12.4h-5.8zM100.9 215h5.8v9.4h-5.8zM106.2 146h5.8v3.4h-5.8zM106.2 155h5.8v6.4h-5.8zM106.2 212h5.8v6.4h-5.8zM106.2 221h5.8v3.4h-5.8zM111.5 215h5.8v6.4h-5.8zM116.7 81.9h5.8v4.5h-5.8zM116.7 104h5.8v6.4h-5.8zM116.7 155h5.8v3.4h-5.8zM116.7 182h5.8v3.4h-5.8zM116.7 218h5.8v6.4h-5.8zM116.7 236h5.8v3.4h-5.8zM122 218h5.8v3.4h-5.8zM132.5 131h5.8v9.4h-5.8zM132.5 194h5.8v3.4h-5.8zM132.5 212h5.8v3.4h-5.8zM132.5 224h5.8v3.4h-5.8zM137.8 83h5.8v9.4h-5.8zM137.8 215h5.8v3.4h-5.8zM137.8 224h5.8v3.4h-5.8zM137.8 233h5.8v3.4h-5.8zM143.1 155h5.8v6.4h-5.8zM143.1 233h5.8v3.4h-5.8zM148.4 218h5.8v3.4h-5.8zM148.4 251h5.8v2.9h-5.8zM164.2 110h5.8v15.4h-5.8zM164.2 251h5.8v2.2h-5.8zM169.5 89h5.8v33.4h-5.8zM169.5 218h5.8v6.4h-5.8zM169.5 236h5.8v3.4h-5.8zM180 218h5.8v6.4h-5.8zM180 236h5.8v3.4h-5.8zM185.3 143h5.8v12.4h-5.8zM185.3 167h5.8v9.4h-5.8zM185.3 224h5.8v3.4h-5.8zM195.8 116h5.8v9.4h-5.8zM195.8 218h5.8v3.4h-5.8zM206.4 84.7h5.8v19.7h-5.8zM206.4 134h5.8v9.4h-5.8zM206.4 233h5.8v3.4h-5.8zM211.6 215h5.8v6.4h-5.8zM211.6 224h5.8v3.4h-5.8zM211.6 233h5.8v3.4h-5.8zM211.6 251h5.8v1.8h-5.8zM216.9 215h5.8v9.4h-5.8zM222.2 131h5.8v6.4h-5.8zM227.5 215h5.8v6.4h-5.8zM232.7 107h5.8v6.4h-5.8zM232.7 191h5.8v3.4h-5.8zM232.7 251h5.8v2.3h-5.8zM238 134h5.8v15.4h-5.8zM243.3 251h5.8v2.3h-5.8zM248.5 218h5.8v6.4h-5.8zM248.5 233h5.8v3.4h-5.8zM253.8 170h5.8v27.4h-5.8zM253.8 218h5.8v3.4h-5.8zM253.8 233h5.8v3.4h-5.8zM259.1 155h5.8v9.4h-5.8zM259.1 218h5.8v3.4h-5.8zM259.1 251h5.8v3h-5.8zM264.4 218h5.8v3.4h-5.8zM264.4 236h5.8v3.4h-5.8zM269.6 215h5.8v3.4h-5.8zM269.6 221h5.8v3.4h-5.8zM274.9 143h5.8v6.4h-5.8zM274.9 155h5.8v9.4h-5.8zM274.9 167h5.8v21.4h-5.8zM274.9 215h5.8v9.4h-5.8zM274.9 233h5.8v3.4h-5.8zM280.2 122h5.8v12.4h-5.8zM280.2 176h5.8v21.4h-5.8zM280.2 218h5.8v6.4h-5.8zM285.5 212h5.8v3.4h-5.8zM290.7 215h5.8v9.4h-5.8z"/><path fill="#0e8ab7" d="M6 218h5.8v6.4h-5.8zM6 233h5.8v3.4h-5.8zM6 251h5.8v3.4h-5.8zM16.5 167h5.8v12.4h-5.8zM16.5 233h5.8v3.4h-5.8zM16.5 245h5.8v6.4h-5.8zM27.1 149h5.8v3.4h-5.8zM42.9 251h5.8v2.9h-5.8zM48.2 251h5.8v3.3h-5.8zM53.5 233h5.8v3.4h-5.8zM58.7 248h5.8v6.2h-5.8zM69.3 254h5.8v0.7h-5.8zM79.8 212h5.8v12.4h-5.8zM95.6 218h5.8v6.4h-5.8zM100.9 242h5.8v3.4h-5.8zM106.2 149h5.8v6.4h-5.8zM106.2 218h5.8v3.4h-5.8zM106.2 236h5.8v3.4h-5.8zM106.2 251h5.8v3.4h-5.8zM111.5 236h5.8v3.4h-5.8zM116.7 110h5.8v9.4h-5.8zM116.7 128h5.8v27.4h-5.8zM122 236h5.8v3.4h-5.8zM127.3 251h5.8v3.4h-5.8zM132.5 215h5.8v9.4h-5.8zM137.8 218h5.8v6.4h-5.8zM137.8 254h5.8v0.4h-5.8zM148.4 233h5.8v3.4h-5.8zM148.4 245h5.8v6.4h-5.8zM158.9 245h5.8v3.4h-5.8zM158.9 251h5.8v2.8h-5.8zM164.2 248h5.8v3.4h-5.8zM169.5 251h5.8v3.4h-5.8zM174.7 251h5.8v1.8h-5.8zM180 251h5.8v1.7h-5.8zM185.3 215h5.8v3.4h-5.8zM185.3 221h5.8v3.4h-5.8zM190.5 215h5.8v3.4h-5.8zM190.5 221h5.8v3.4h-5.8zM190.5 251h5.8v2.1h-5.8zM195.8 236h5.8v3.4h-5.8zM195.8 251h5.8v2.6h-5.8zM211.6 221h5.8v3.4h-5.8zM211.6 236h5.8v3.4h-5.8zM227.5 251h5.8v1.9h-5.8zM232.7 236h5.8v3.4h-5.8zM243.3 245h5.8v6.4h-5.8zM253.8 251h5.8v2.9h-5.8zM259.1 236h5.8v3.4h-5.8zM259.1 248h5.8v3.4h-5.8zM269.6 218h5.8v3.4h-5.8zM269.6 251h5.8v1.7h-5.8zM274.9 149h5.8v6.4h-5.8zM280.2 245h5.8v8.4h-5.8zM285.5 215h5.8v9.4h-5.8zM285.5 233h5.8v3.4h-5.8zM285.5 251h5.8v1.8h-5.8zM290.7 245h5.8v3.4h-5.8z"/><path fill="#159cc4" d="M37.6 236h5.8v3.4h-5.8zM42.9 248h5.8v3.4h-5.8zM53.5 251h5.8v3.4h-5.8zM79.8 251h5.8v3h-5.8zM90.4 236h5.8v3.4h-5.8zM90.4 251h5.8v3.4h-5.8zM95.6 236h5.8v3.4h-5.8zM95.6 251h5.8v3.3h-5.8zM116.7 119h5.8v9.4h-5.8zM122 251h5.8v1.8h-5.8zM143.1 251h5.8v2.7h-5.8zM153.6 233h5.8v3.4h-5.8zM153.6 251h5.8v2.8h-5.8zM158.9 248h5.8v3.4h-5.8zM185.3 218h5.8v3.4h-5.8zM185.3 236h5.8v3.4h-5.8zM190.5 218h5.8v3.4h-5.8zM190.5 248h5.8v3.4h-5.8zM201.1 251h5.8v2h-5.8zM206.4 236h5.8v3.4h-5.8zM222.2 251h5.8v2.2h-5.8zM232.7 248h5.8v3.4h-5.8zM248.5 251h5.8v1.5h-5.8zM259.1 245h5.8v3.4h-5.8zM264.4 251h5.8v1.9h-5.8zM269.6 236h5.8v3.4h-5.8zM280.2 233h5.8v3.4h-5.8zM285.5 245h5.8v6.4h-5.8zM290.7 248h5.8v5.3h-5.8z"/><path fill="#23acc9" d="M6 245h5.8v6.4h-5.8zM11.3 233h5.8v3.4h-5.8zM11.3 251h5.8v3.4h-5.8zM37.6 251h5.8v3.4h-5.8zM42.9 236h5.8v3.4h-5.8zM42.9 245h5.8v3.4h-5.8zM48.2 245h5.8v6.4h-5.8zM58.7 242h5.8v3.4h-5.8zM64 251h5.8v2.9h-5.8zM79.8 239h5.8v3.4h-5.8zM85.1 239h5.8v3.4h-5.8zM85.1 251h5.8v3.1h-5.8zM106.2 248h5.8v3.4h-5.8zM111.5 251h5.8v2.9h-5.8zM127.3 239h5.8v3.4h-5.8zM127.3 248h5.8v3.4h-5.8zM153.6 245h5.8v6.4h-5.8zM158.9 236h5.8v3.4h-5.8zM164.2 236h5.8v3.4h-5.8zM164.2 245h5.8v3.4h-5.8zM169.5 248h5.8v3.4h-5.8zM185.3 251h5.8v3h-5.8zM195.8 248h5.8v3.4h-5.8zM211.6 239h5.8v3.4h-5.8zM216.9 239h5.8v3.4h-5.8zM216.9 251h5.8v2.3h-5.8zM227.5 248h5.8v3.4h-5.8zM238 251h5.8v1.7h-5.8zM243.3 236h5.8v3.4h-5.8zM248.5 245h5.8v6.4h-5.8zM253.8 248h5.8v3.4h-5.8zM264.4 245h5.8v6.4h-5.8zM269.6 245h5.8v6.4h-5.8zM290.7 236h5.8v3.4h-5.8z"/><path fill="#3cb9bf" d="M21.8 242h5.8v3.4h-5.8zM27.1 236h5.8v3.4h-5.8zM27.1 251h5.8v3.4h-5.8zM48.2 236h5.8v3.4h-5.8zM53.5 248h5.8v3.4h-5.8zM58.7 239h5.8v3.4h-5.8zM64 245h5.8v6.4h-5.8zM69.3 239h5.8v3.4h-5.8zM69.3 251h5.8v3.4h-5.8zM74.5 251h5.8v3.4h-5.8zM106.2 245h5.8v3.4h-5.8zM116.7 251h5.8v3h-5.8zM132.5 236h5.8v3.4h-5.8zM143.1 245h5.8v6.4h-5.8zM148.4 242h5.8v3.4h-5.8zM158.9 242h5.8v3.4h-5.8zM174.7 248h5.8v3.4h-5.8zM180 248h5.8v3.4h-5.8zM190.5 245h5.8v3.4h-5.8zM201.1 248h5.8v3.4h-5.8zM206.4 251h5.8v2.9h-5.8zM222.2 239h5.8v3.4h-5.8zM227.5 239h5.8v3.4h-5.8zM232.7 245h5.8v3.4h-5.8zM238 236h5.8v3.4h-5.8zM238 245h5.8v6.4h-5.8zM243.3 242h5.8v3.4h-5.8zM253.8 245h5.8v3.4h-5.8zM274.9 251h5.8v2.2h-5.8zM290.7 242h5.8v3.4h-5.8z"/><path fill="#56c6b5" d="M11.3 248h5.8v3.4h-5.8zM16.5 242h5.8v3.4h-5.8zM21.8 236h5.8v3.4h-5.8zM32.4 236h5.8v3.4h-5.8zM32.4 251h5.8v2.6h-5.8zM53.5 245h5.8v3.4h-5.8zM64 239h5.8v3.4h-5.8zM90.4 239h5.8v3.4h-5.8zM95.6 248h5.8v3.4h-5.8zM111.5 248h5.8v3.4h-5.8zM122 248h5.8v3.4h-5.8zM127.3 245h5.8v3.4h-5.8zM132.5 251h5.8v2.8h-5.8zM137.8 251h5.8v3.4h-5.8zM153.6 242h5.8v3.4h-5.8zM169.5 239h5.8v3.4h-5.8zM169.5 245h5.8v3.4h-5.8zM174.7 239h5.8v3.4h-5.8zM185.3 248h5.8v3.4h-5.8zM190.5 239h5.8v3.4h-5.8zM195.8 245h5.8v3.4h-5.8zM201.1 239h5.8v3.4h-5.8zM211.6 248h5.8v3.4h-5.8zM248.5 236h5.8v3.4h-5.8zM253.8 236h5.8v3.4h-5.8zM264.4 239h5.8v3.4h-5.8zM280.2 242h5.8v3.4h-5.8z"/><path fill="#6bd1ae" d="M6 236h5.8v3.4h-5.8zM11.3 245h5.8v3.4h-5.8zM27.1 248h5.8v3.4h-5.8zM37.6 248h5.8v3.4h-5.8zM64 242h5.8v3.4h-5.8zM74.5 239h5.8v3.4h-5.8zM90.4 248h5.8v3.4h-5.8zM95.6 239h5.8v3.4h-5.8zM106.2 239h5.8v3.4h-5.8zM111.5 239h5.8v3.4h-5.8zM116.7 239h5.8v3.4h-5.8zM122 239h5.8v3.4h-5.8zM127.3 242h5.8v3.4h-5.8zM137.8 236h5.8v3.4h-5.8zM143.1 242h5.8v3.4h-5.8zM248.5 242h5.8v3.4h-5.8zM259.1 239h5.8v6.4h-5.8zM264.4 242h5.8v3.4h-5.8zM269.6 242h5.8v3.4h-5.8zM274.9 236h5.8v3.4h-5.8zM274.9 245h5.8v6.4h-5.8zM285.5 242h5.8v3.4h-5.8z"/><path fill="#80dca7" d="M32.4 248h5.8v3.4h-5.8zM53.5 236h5.8v3.4h-5.8zM69.3 248h5.8v3.4h-5.8zM106.2 242h5.8v3.4h-5.8zM111.5 245h5.8v3.4h-5.8zM116.7 248h5.8v3.4h-5.8zM132.5 248h5.8v3.4h-5.8zM137.8 248h5.8v3.4h-5.8zM143.1 236h5.8v3.4h-5.8zM158.9 239h5.8v3.4h-5.8zM180 239h5.8v3.4h-5.8zM190.5 242h5.8v3.4h-5.8zM195.8 239h5.8v3.4h-5.8zM201.1 245h5.8v3.4h-5.8zM206.4 239h5.8v3.4h-5.8zM227.5 245h5.8v3.4h-5.8zM232.7 239h5.8v3.4h-5.8zM238 242h5.8v3.4h-5.8zM243.3 239h5.8v3.4h-5.8zM269.6 239h5.8v3.4h-5.8zM290.7 239h5.8v3.4h-5.8z"/><path fill="#95e7a0" d="M6 242h5.8v3.4h-5.8zM16.5 236h5.8v3.4h-5.8zM27.1 245h5.8v3.4h-5.8zM37.6 245h5.8v3.4h-5.8zM42.9 242h5.8v3.4h-5.8zM48.2 242h5.8v3.4h-5.8zM79.8 242h5.8v3.4h-5.8zM79.8 248h5.8v3.4h-5.8zM85.1 242h5.8v3.4h-5.8zM85.1 248h5.8v3.4h-5.8zM95.6 245h5.8v3.4h-5.8zM122 245h5.8v3.4h-5.8zM137.8 245h5.8v3.4h-5.8zM148.4 236h5.8v3.4h-5.8zM164.2 242h5.8v3.4h-5.8zM169.5 242h5.8v3.4h-5.8zM174.7 245h5.8v3.4h-5.8zM180 245h5.8v3.4h-5.8zM185.3 245h5.8v3.4h-5.8zM206.4 248h5.8v3.4h-5.8zM211.6 242h5.8v3.4h-5.8zM222.2 248h5.8v3.4h-5.8zM227.5 242h5.8v3.4h-5.8zM232.7 242h5.8v3.4h-5.8zM253.8 242h5.8v3.4h-5.8zM280.2 236h5.8v3.4h-5.8zM285.5 236h5.8v3.4h-5.8z"/><path fill="#9ceba0" d="M21.8 239h5.8v3.4h-5.8zM32.4 245h5.8v3.4h-5.8zM42.9 239h5.8v3.4h-5.8zM53.5 242h5.8v3.4h-5.8zM69.3 242h5.8v6.4h-5.8zM95.6 242h5.8v3.4h-5.8zM111.5 242h5.8v3.4h-5.8zM116.7 245h5.8v3.4h-5.8zM132.5 245h5.8v3.4h-5.8zM148.4 239h5.8v3.4h-5.8zM153.6 236h5.8v3.4h-5.8zM164.2 239h5.8v3.4h-5.8zM185.3 239h5.8v3.4h-5.8zM195.8 242h5.8v3.4h-5.8zM201.1 242h5.8v3.4h-5.8zM211.6 245h5.8v3.4h-5.8zM216.9 242h5.8v3.4h-5.8zM216.9 248h5.8v3.4h-5.8zM238 239h5.8v3.4h-5.8zM248.5 239h5.8v3.4h-5.8zM274.9 242h5.8v3.4h-5.8z"/><path fill="#a3efa0" d="M11.3 236h5.8v3.4h-5.8zM11.3 242h5.8v3.4h-5.8zM16.5 239h5.8v3.4h-5.8zM37.6 239h5.8v3.4h-5.8zM48.2 239h5.8v3.4h-5.8zM74.5 248h5.8v3.4h-5.8zM79.8 245h5.8v3.4h-5.8zM90.4 242h5.8v6.4h-5.8zM116.7 242h5.8v3.4h-5.8zM122 242h5.8v3.4h-5.8zM132.5 239h5.8v3.4h-5.8zM143.1 239h5.8v3.4h-5.8zM153.6 239h5.8v3.4h-5.8zM174.7 242h5.8v3.4h-5.8zM222.2 242h5.8v3.4h-5.8zM253.8 239h5.8v3.4h-5.8zM280.2 239h5.8v3.4h-5.8zM285.5 239h5.8v3.4h-5.8z"/><path fill="#adf3a6" d="M6 239h5.8v3.4h-5.8zM85.1 245h5.8v3.4h-5.8zM137.8 242h5.8v3.4h-5.8zM180 242h5.8v3.4h-5.8zM206.4 245h5.8v3.4h-5.8zM222.2 245h5.8v3.4h-5.8zM274.9 239h5.8v3.4h-5.8z"/><path fill="#bbf5b5" d="M27.1 239h5.8v6.4h-5.8zM37.6 242h5.8v3.4h-5.8zM53.5 239h5.8v3.4h-5.8zM74.5 242h5.8v3.4h-5.8zM132.5 242h5.8v3.4h-5.8zM137.8 239h5.8v3.4h-5.8zM185.3 242h5.8v3.4h-5.8zM206.4 242h5.8v3.4h-5.8zM216.9 245h5.8v3.4h-5.8z"/><path fill="#c9f8c5" d="M32.4 239h5.8v3.4h-5.8z"/><path fill="#d6fad4" d="M11.3 239h5.8v3.4h-5.8zM32.4 242h5.8v3.4h-5.8zM74.5 245h5.8v3.4h-5.8z"/></g>
<rect x="313" y="74" width="289" height="184.4" fill="#808080"/>
<g filter="url(#hbblur)"><path fill="#030928" d="M328.8 77h5.8v15.4h-5.8zM391.8 83h5.8v3.4h-5.8zM428.6 215h5.8v6.4h-5.8zM444.4 74h5.8v3.4h-5.8zM444.4 215h5.8v6.4h-5.8zM465.4 128h5.8v6.4h-5.8zM486.4 155h5.8v6.4h-5.8zM512.7 74h5.8v9.4h-5.8z"/><path fill="#040b31" d="M318.3 86h5.8v15.4h-5.8zM328.8 74h5.8v3.4h-5.8zM328.8 92h5.8v6.4h-5.8zM328.8 116h5.8v6.4h-5.8zM328.8 134h5.8v21.4h-5.8zM334 143h5.8v9.4h-5.8zM349.8 74h5.8v3.4h-5.8zM355 155h5.8v3.4h-5.8zM360.3 155h5.8v9.4h-5.8zM391.8 77h5.8v6.4h-5.8zM391.8 86h5.8v6.4h-5.8zM391.8 146h5.8v12.4h-5.8zM397.1 80h5.8v9.4h-5.8zM397.1 107h5.8v27.4h-5.8zM402.3 137h5.8v12.4h-5.8zM407.6 215h5.8v6.4h-5.8zM428.6 167h5.8v9.4h-5.8zM428.6 212h5.8v3.4h-5.8zM428.6 221h5.8v3.4h-5.8zM444.4 77h5.8v15.4h-5.8zM444.4 128h5.8v12.4h-5.8zM444.4 155h5.8v12.4h-5.8zM444.4 212h5.8v3.4h-5.8zM444.4 221h5.8v3.4h-5.8zM444.4 254h5.8v2.3h-5.8zM449.6 74h5.8v27.4h-5.8zM449.6 113h5.8v18.4h-5.8zM449.6 158h5.8v12.4h-5.8zM449.6 215h5.8v9.4h-5.8zM465.4 122h5.8v6.4h-5.8zM465.4 134h5.8v3.4h-5.8zM465.4 215h5.8v6.4h-5.8zM486.4 149h5.8v6.4h-5.8zM486.4 161h5.8v6.4h-5.8zM486.4 218h5.8v3.4h-5.8zM491.7 125h5.8v9.4h-5.8zM491.7 164h5.8v3.4h-5.8zM512.7 83h5.8v6.4h-5.8zM512.7 131h5.8v18.4h-5.8zM512.7 212h5.8v9.4h-5.8zM512.7 254h5.8v1.4h-5.8zM554.7 113h5.8v3.4h-5.8zM560 104h5.8v18.4h-5.8zM565.2 131h5.8v12.4h-5.8zM570.5 80h5.8v6.4h-5.8zM591.5 107h5.8v18.4h-5.8zM591.5 173h5.8v6.4h-5.8zM596.7 92h5.8v9.4h-5.8zM596.7 164h5.8v9.4h-5.8z"/><path fill="#040e3a" d="M313 89h5.8v9.4h-5.8zM313 116h5.8v3.4h-5.8zM318.3 80h5.8v6.4h-5.8zM318.3 101h5.8v15.4h-5.8zM318.3 137h5.8v18.4h-5.8zM323.5 74h5.8v21.4h-5.8zM323.5 137h5.8v12.4h-5.8zM328.8 98h5.8v18.4h-5.8zM328.8 122h5.8v12.4h-5.8zM328.8 155h5.8v9.4h-5.8zM328.8 254h5.8v1.7h-5.8zM334 113h5.8v30.4h-5.8zM334 152h5.8v6.4h-5.8zM334 164h5.8v15.4h-5.8zM339.3 74h5.8v3.4h-5.8zM339.3 215h5.8v6.4h-5.8zM344.5 119h5.8v12.4h-5.8zM349.8 77h5.8v6.4h-5.8zM349.8 122h5.8v21.4h-5.8zM355 80h5.8v51.4h-5.8zM355 149h5.8v6.4h-5.8zM355 158h5.8v6.4h-5.8zM355 218h5.8v3.4h-5.8zM360.3 149h5.8v6.4h-5.8zM360.3 164h5.8v6.4h-5.8zM365.5 107h5.8v6.4h-5.8zM365.5 152h5.8v12.4h-5.8zM365.5 215h5.8v3.4h-5.8zM370.8 158h5.8v9.4h-5.8zM370.8 212h5.8v9.4h-5.8zM376.1 215h5.8v6.4h-5.8zM381.3 95h5.8v9.4h-5.8zM381.3 128h5.8v6.4h-5.8zM381.3 164h5.8v18.4h-5.8zM381.3 215h5.8v6.4h-5.8zM386.6 89h5.8v9.4h-5.8zM386.6 113h5.8v15.4h-5.8zM391.8 74h5.8v3.4h-5.8zM391.8 92h5.8v42.4h-5.8zM391.8 140h5.8v6.4h-5.8zM391.8 158h5.8v6.4h-5.8zM397.1 74h5.8v6.4h-5.8zM397.1 89h5.8v18.4h-5.8zM397.1 134h5.8v6.4h-5.8zM397.1 215h5.8v6.4h-5.8zM402.3 107h5.8v30.4h-5.8zM402.3 149h5.8v3.4h-5.8zM402.3 215h5.8v6.4h-5.8zM407.6 80h5.8v9.4h-5.8zM407.6 110h5.8v9.4h-5.8zM407.6 140h5.8v15.4h-5.8zM407.6 212h5.8v3.4h-5.8zM407.6 221h5.8v3.4h-5.8zM412.8 125h5.8v12.4h-5.8zM412.8 164h5.8v6.4h-5.8zM418.1 74h5.8v6.4h-5.8zM418.1 107h5.8v36.4h-5.8zM423.3 107h5.8v18.4h-5.8zM423.3 215h5.8v3.4h-5.8zM428.6 158h5.8v9.4h-5.8zM428.6 176h5.8v3.4h-5.8zM428.6 209h5.8v3.4h-5.8zM433.9 215h5.8v6.4h-5.8zM433.9 254h5.8v2.4h-5.8zM439.1 152h5.8v6.4h-5.8zM439.1 170h5.8v9.4h-5.8zM444.4 92h5.8v12.4h-5.8zM444.4 119h5.8v9.4h-5.8zM444.4 140h5.8v15.4h-5.8zM444.4 167h5.8v3.4h-5.8zM444.4 251h5.8v3.4h-5.8zM449.6 101h5.8v12.4h-5.8zM449.6 131h5.8v9.4h-5.8zM449.6 155h5.8v3.4h-5.8zM449.6 170h5.8v15.4h-5.8zM449.6 224h5.8v3.4h-5.8zM449.6 254h5.8v2h-5.8zM454.9 86h5.8v9.4h-5.8zM454.9 101h5.8v33.4h-5.8zM460.1 86h5.8v15.4h-5.8zM460.1 119h5.8v15.4h-5.8zM465.4 113h5.8v9.4h-5.8zM465.4 137h5.8v6.4h-5.8zM465.4 152h5.8v18.4h-5.8zM465.4 212h5.8v3.4h-5.8zM465.4 221h5.8v3.4h-5.8zM470.6 128h5.8v18.4h-5.8zM470.6 161h5.8v9.4h-5.8zM475.9 104h5.8v6.4h-5.8zM475.9 218h5.8v3.4h-5.8zM481.1 101h5.8v9.4h-5.8zM486.4 104h5.8v6.4h-5.8zM486.4 146h5.8v3.4h-5.8zM486.4 167h5.8v3.4h-5.8zM486.4 215h5.8v3.4h-5.8zM486.4 221h5.8v3.4h-5.8zM491.7 122h5.8v3.4h-5.8zM491.7 134h5.8v6.4h-5.8zM491.7 158h5.8v6.4h-5.8zM491.7 167h5.8v6.4h-5.8zM491.7 218h5.8v3.4h-5.8zM496.9 122h5.8v15.4h-5.8zM496.9 167h5.8v6.4h-5.8zM502.2 74h5.8v15.4h-5.8zM502.2 215h5.8v6.4h-5.8zM512.7 89h5.8v9.4h-5.8zM512.7 122h5.8v9.4h-5.8zM512.7 149h5.8v3.4h-5.8zM512.7 209h5.8v3.4h-5.8zM512.7 221h5.8v3.4h-5.8zM523.2 167h5.8v3.4h-5.8zM528.4 74h5.8v6.4h-5.8zM528.4 83h5.8v12.4h-5.8zM528.4 107h5.8v6.4h-5.8zM528.4 155h5.8v15.4h-5.8zM538.9 131h5.8v12.4h-5.8zM544.2 173h5.8v12.4h-5.8zM549.5 173h5.8v6.4h-5.8zM554.7 107h5.8v6.4h-5.8zM554.7 116h5.8v9.4h-5.8zM560 92h5.8v12.4h-5.8zM560 122h5.8v6.4h-5.8zM560 137h5.8v15.4h-5.8zM565.2 74h5.8v15.4h-5.8zM565.2 107h5.8v12.4h-5.8zM565.2 125h5.8v6.4h-5.8zM565.2 143h5.8v6.4h-5.8zM565.2 167h5.8v15.4h-5.8zM570.5 74h5.8v6.4h-5.8zM570.5 86h5.8v15.4h-5.8zM575.7 80h5.8v9.4h-5.8zM575.7 215h5.8v6.4h-5.8zM581 170h5.8v3.4h-5.8zM581 209h5.8v12.4h-5.8zM586.2 110h5.8v12.4h-5.8zM586.2 140h5.8v18.4h-5.8zM586.2 215h5.8v6.4h-5.8zM591.5 101h5.8v6.4h-5.8zM591.5 125h5.8v6.4h-5.8zM591.5 170h5.8v3.4h-5.8zM591.5 179h5.8v6.4h-5.8zM596.7 86h5.8v6.4h-5.8zM596.7 101h5.8v21.4h-5.8zM596.7 158h5.8v6.4h-5.8zM596.7 173h5.8v3.4h-5.8zM596.7 215h5.8v6.4h-5.8z"/><path fill="#031a4a" d="M313 83h5.8v6.4h-5.8zM313 98h5.8v6.4h-5.8zM313 107h5.8v9.4h-5.8zM313 119h5.8v6.4h-5.8zM318.3 74h5.8v6.4h-5.8zM318.3 116h5.8v9.4h-5.8zM318.3 131h5.8v6.4h-5.8zM318.3 155h5.8v6.4h-5.8zM318.3 167h5.8v12.4h-5.8zM318.3 218h5.8v6.4h-5.8zM323.5 95h5.8v24.4h-5.8zM323.5 134h5.8v3.4h-5.8zM323.5 149h5.8v6.4h-5.8zM323.5 218h5.8v3.4h-5.8zM328.8 164h5.8v9.4h-5.8zM334 107h5.8v6.4h-5.8zM334 158h5.8v6.4h-5.8zM334 179h5.8v3.4h-5.8zM334 254h5.8v1.4h-5.8zM339.3 77h5.8v21.4h-5.8zM339.3 122h5.8v6.4h-5.8zM339.3 146h5.8v12.4h-5.8zM339.3 212h5.8v3.4h-5.8zM339.3 221h5.8v3.4h-5.8zM339.3 254h5.8v1.4h-5.8zM344.5 95h5.8v24.4h-5.8zM344.5 131h5.8v6.4h-5.8zM344.5 218h5.8v6.4h-5.8zM349.8 83h5.8v3.4h-5.8zM349.8 116h5.8v6.4h-5.8zM349.8 143h5.8v18.4h-5.8zM349.8 176h5.8v6.4h-5.8zM349.8 254h5.8v1.5h-5.8zM355 74h5.8v6.4h-5.8zM355 131h5.8v18.4h-5.8zM355 164h5.8v9.4h-5.8zM355 212h5.8v6.4h-5.8zM355 221h5.8v3.4h-5.8zM360.3 83h5.8v30.4h-5.8zM360.3 143h5.8v6.4h-5.8zM360.3 170h5.8v6.4h-5.8zM365.5 74h5.8v6.4h-5.8zM365.5 101h5.8v6.4h-5.8zM365.5 113h5.8v27.4h-5.8zM365.5 146h5.8v6.4h-5.8zM365.5 164h5.8v6.4h-5.8zM365.5 212h5.8v3.4h-5.8zM365.5 218h5.8v3.4h-5.8zM365.5 254h5.8v2.2h-5.8zM370.8 74h5.8v12.4h-5.8zM370.8 107h5.8v30.4h-5.8zM370.8 155h5.8v3.4h-5.8zM370.8 167h5.8v6.4h-5.8zM370.8 209h5.8v3.4h-5.8zM370.8 221h5.8v3.4h-5.8zM376.1 119h5.8v15.4h-5.8zM376.1 158h5.8v12.4h-5.8zM376.1 212h5.8v3.4h-5.8zM376.1 221h5.8v3.4h-5.8zM381.3 74h5.8v3.4h-5.8zM381.3 89h5.8v6.4h-5.8zM381.3 104h5.8v3.4h-5.8zM381.3 122h5.8v6.4h-5.8zM381.3 134h5.8v6.4h-5.8zM381.3 158h5.8v6.4h-5.8zM381.3 182h5.8v6.4h-5.8zM381.3 212h5.8v3.4h-5.8zM381.3 221h5.8v3.4h-5.8zM381.3 254h5.8v2.2h-5.8zM386.6 74h5.8v15.4h-5.8zM386.6 98h5.8v15.4h-5.8zM386.6 128h5.8v6.4h-5.8zM386.6 164h5.8v12.4h-5.8zM391.8 134h5.8v6.4h-5.8zM391.8 164h5.8v21.4h-5.8zM397.1 140h5.8v18.4h-5.8zM397.1 209h5.8v6.4h-5.8zM397.1 221h5.8v3.4h-5.8zM397.1 254h5.8v2.3h-5.8zM402.3 74h5.8v18.4h-5.8zM402.3 98h5.8v9.4h-5.8zM402.3 152h5.8v3.4h-5.8zM402.3 212h5.8v3.4h-5.8zM402.3 221h5.8v3.4h-5.8zM407.6 74h5.8v6.4h-5.8zM407.6 89h5.8v21.4h-5.8zM407.6 119h5.8v9.4h-5.8zM407.6 137h5.8v3.4h-5.8zM407.6 155h5.8v9.4h-5.8zM407.6 206h5.8v6.4h-5.8zM412.8 74h5.8v6.4h-5.8zM412.8 95h5.8v12.4h-5.8zM412.8 119h5.8v6.4h-5.8zM412.8 137h5.8v6.4h-5.8zM412.8 161h5.8v3.4h-5.8zM412.8 170h5.8v9.4h-5.8zM412.8 215h5.8v6.4h-5.8zM412.8 254h5.8v1.6h-5.8zM418.1 80h5.8v6.4h-5.8zM418.1 98h5.8v9.4h-5.8zM418.1 143h5.8v6.4h-5.8zM418.1 215h5.8v9.4h-5.8zM418.1 254h5.8v2.3h-5.8zM423.3 74h5.8v15.4h-5.8zM423.3 101h5.8v6.4h-5.8zM423.3 125h5.8v57.4h-5.8zM423.3 209h5.8v6.4h-5.8zM423.3 218h5.8v3.4h-5.8zM423.3 254h5.8v2.2h-5.8zM428.6 89h5.8v12.4h-5.8zM428.6 104h5.8v54.4h-5.8zM428.6 179h5.8v3.4h-5.8zM428.6 206h5.8v3.4h-5.8zM428.6 224h5.8v3.4h-5.8zM433.9 113h5.8v18.4h-5.8zM433.9 152h5.8v33.4h-5.8zM433.9 212h5.8v3.4h-5.8zM433.9 221h5.8v3.4h-5.8zM433.9 251h5.8v3.4h-5.8zM439.1 74h5.8v9.4h-5.8zM439.1 107h5.8v45.4h-5.8zM439.1 158h5.8v12.4h-5.8zM439.1 179h5.8v3.4h-5.8zM439.1 215h5.8v6.4h-5.8zM439.1 254h5.8v1.4h-5.8zM444.4 104h5.8v15.4h-5.8zM444.4 170h5.8v3.4h-5.8zM444.4 209h5.8v3.4h-5.8zM444.4 224h5.8v3.4h-5.8zM449.6 140h5.8v6.4h-5.8zM449.6 149h5.8v6.4h-5.8zM449.6 185h5.8v6.4h-5.8zM449.6 212h5.8v3.4h-5.8zM449.6 251h5.8v3.4h-5.8zM454.9 77h5.8v9.4h-5.8zM454.9 95h5.8v6.4h-5.8zM454.9 134h5.8v9.4h-5.8zM454.9 161h5.8v6.4h-5.8zM460.1 83h5.8v3.4h-5.8zM460.1 101h5.8v18.4h-5.8zM460.1 134h5.8v39.4h-5.8zM460.1 212h5.8v9.4h-5.8zM460.1 254h5.8v1.4h-5.8zM465.4 74h5.8v9.4h-5.8zM465.4 95h5.8v18.4h-5.8zM465.4 143h5.8v9.4h-5.8zM465.4 170h5.8v9.4h-5.8zM465.4 203h5.8v9.4h-5.8zM465.4 224h5.8v3.4h-5.8zM465.4 254h5.8v1.8h-5.8zM470.6 74h5.8v6.4h-5.8zM470.6 92h5.8v36.4h-5.8zM470.6 146h5.8v15.4h-5.8zM470.6 170h5.8v6.4h-5.8zM470.6 215h5.8v9.4h-5.8zM470.6 254h5.8v1.9h-5.8zM475.9 101h5.8v3.4h-5.8zM475.9 110h5.8v9.4h-5.8zM475.9 122h5.8v39.4h-5.8zM475.9 212h5.8v6.4h-5.8zM475.9 221h5.8v3.4h-5.8zM481.1 98h5.8v3.4h-5.8zM481.1 110h5.8v3.4h-5.8zM486.4 74h5.8v9.4h-5.8zM486.4 101h5.8v3.4h-5.8zM486.4 110h5.8v6.4h-5.8zM486.4 125h5.8v21.4h-5.8zM486.4 170h5.8v3.4h-5.8zM486.4 212h5.8v3.4h-5.8zM486.4 224h5.8v3.4h-5.8zM491.7 74h5.8v3.4h-5.8zM491.7 113h5.8v9.4h-5.8zM491.7 140h5.8v6.4h-5.8zM491.7 152h5.8v6.4h-5.8zM491.7 173h5.8v6.4h-5.8zM491.7 212h5.8v6.4h-5.8zM491.7 221h5.8v3.4h-5.8zM491.7 254h5.8v1.9h-5.8zM496.9 116h5.8v6.4h-5.8zM496.9 137h5.8v9.4h-5.8zM496.9 161h5.8v6.4h-5.8zM496.9 173h5.8v3.4h-5.8zM496.9 206h5.8v15.4h-5.8zM502.2 89h5.8v15.4h-5.8zM502.2 149h5.8v21.4h-5.8zM502.2 209h5.8v6.4h-5.8zM502.2 221h5.8v3.4h-5.8zM502.2 254h5.8v1.2h-5.8zM507.4 74h5.8v9.4h-5.8zM507.4 137h5.8v6.4h-5.8zM507.4 215h5.8v9.4h-5.8zM507.4 254h5.8v2h-5.8zM512.7 98h5.8v24.4h-5.8zM512.7 152h5.8v24.4h-5.8zM512.7 206h5.8v3.4h-5.8zM512.7 224h5.8v3.4h-5.8zM512.7 251h5.8v3.4h-5.8zM517.9 104h5.8v9.4h-5.8zM517.9 149h5.8v12.4h-5.8zM517.9 218h5.8v3.4h-5.8zM523.2 74h5.8v15.4h-5.8zM523.2 98h5.8v69.4h-5.8zM523.2 170h5.8v9.4h-5.8zM523.2 218h5.8v3.4h-5.8zM528.4 80h5.8v3.4h-5.8zM528.4 95h5.8v12.4h-5.8zM528.4 113h5.8v21.4h-5.8zM528.4 140h5.8v15.4h-5.8zM528.4 170h5.8v6.4h-5.8zM528.4 191h5.8v6.4h-5.8zM528.4 212h5.8v9.4h-5.8zM528.4 254h5.8v1.8h-5.8zM533.7 74h5.8v15.4h-5.8zM533.7 218h5.8v3.4h-5.8zM538.9 74h5.8v6.4h-5.8zM538.9 101h5.8v12.4h-5.8zM538.9 125h5.8v6.4h-5.8zM538.9 143h5.8v6.4h-5.8zM538.9 167h5.8v9.4h-5.8zM544.2 74h5.8v12.4h-5.8zM544.2 125h5.8v12.4h-5.8zM544.2 164h5.8v9.4h-5.8zM544.2 185h5.8v3.4h-5.8zM549.5 110h5.8v12.4h-5.8zM549.5 128h5.8v6.4h-5.8zM549.5 170h5.8v3.4h-5.8zM549.5 179h5.8v6.4h-5.8zM554.7 101h5.8v6.4h-5.8zM554.7 125h5.8v33.4h-5.8zM560 74h5.8v18.4h-5.8zM560 128h5.8v9.4h-5.8zM560 152h5.8v18.4h-5.8zM560 215h5.8v9.4h-5.8zM565.2 89h5.8v18.4h-5.8zM565.2 119h5.8v6.4h-5.8zM565.2 149h5.8v18.4h-5.8zM565.2 182h5.8v6.4h-5.8zM565.2 215h5.8v6.4h-5.8zM565.2 254h5.8v2h-5.8zM570.5 101h5.8v81.4h-5.8zM570.5 254h5.8v1.7h-5.8zM575.7 74h5.8v6.4h-5.8zM575.7 89h5.8v6.4h-5.8zM575.7 122h5.8v15.4h-5.8zM575.7 185h5.8v15.4h-5.8zM575.7 206h5.8v9.4h-5.8zM575.7 221h5.8v3.4h-5.8zM581 74h5.8v6.4h-5.8zM581 104h5.8v12.4h-5.8zM581 137h5.8v33.4h-5.8zM581 173h5.8v21.4h-5.8zM581 203h5.8v6.4h-5.8zM581 254h5.8v2.3h-5.8zM586.2 104h5.8v6.4h-5.8zM586.2 122h5.8v18.4h-5.8zM586.2 158h5.8v15.4h-5.8zM586.2 212h5.8v3.4h-5.8zM586.2 221h5.8v3.4h-5.8zM591.5 74h5.8v9.4h-5.8zM591.5 95h5.8v6.4h-5.8zM591.5 131h5.8v6.4h-5.8zM591.5 164h5.8v6.4h-5.8zM591.5 185h5.8v3.4h-5.8zM591.5 215h5.8v6.4h-5.8zM596.7 83h5.8v3.4h-5.8zM596.7 122h5.8v3.4h-5.8zM596.7 137h5.8v21.4h-5.8zM596.7 176h5.8v3.4h-5.8zM596.7 212h5.8v3.4h-5.8zM596.7 221h5.8v3.4h-5.8z"/><path fill="#03295b" d="M313 74h5.8v9.4h-5.8zM313 104h5.8v3.4h-5.8zM313 125h5.8v27.4h-5.8zM313 215h5.8v6.4h-5.8zM318.3 125h5.8v6.4h-5.8zM318.3 161h5.8v6.4h-5.8zM318.3 179h5.8v6.4h-5.8zM318.3 215h5.8v3.4h-5.8zM318.3 224h5.8v3.4h-5.8zM318.3 254h5.8v2.7h-5.8zM323.5 119h5.8v15.4h-5.8zM323.5 155h5.8v18.4h-5.8zM323.5 176h5.8v12.4h-5.8zM323.5 209h5.8v9.4h-5.8zM323.5 221h5.8v3.4h-5.8zM323.5 254h5.8v1.4h-5.8zM328.8 173h5.8v3.4h-5.8zM328.8 212h5.8v9.4h-5.8zM328.8 251h5.8v3.4h-5.8zM334 74h5.8v3.4h-5.8zM334 95h5.8v12.4h-5.8zM334 182h5.8v6.4h-5.8zM334 218h5.8v3.4h-5.8zM334 251h5.8v3.4h-5.8zM339.3 98h5.8v6.4h-5.8zM339.3 113h5.8v9.4h-5.8zM339.3 128h5.8v6.4h-5.8zM339.3 140h5.8v6.4h-5.8zM339.3 158h5.8v21.4h-5.8zM339.3 209h5.8v3.4h-5.8zM339.3 251h5.8v3.4h-5.8zM344.5 74h5.8v21.4h-5.8zM344.5 137h5.8v6.4h-5.8zM344.5 152h5.8v33.4h-5.8zM344.5 215h5.8v3.4h-5.8zM349.8 86h5.8v30.4h-5.8zM349.8 161h5.8v15.4h-5.8zM349.8 182h5.8v6.4h-5.8zM349.8 215h5.8v9.4h-5.8zM355 173h5.8v6.4h-5.8zM355 206h5.8v6.4h-5.8zM355 224h5.8v3.4h-5.8zM355 254h5.8v1.5h-5.8zM360.3 74h5.8v9.4h-5.8zM360.3 113h5.8v3.4h-5.8zM360.3 137h5.8v6.4h-5.8zM360.3 176h5.8v6.4h-5.8zM360.3 215h5.8v6.4h-5.8zM365.5 80h5.8v21.4h-5.8zM365.5 140h5.8v6.4h-5.8zM365.5 170h5.8v12.4h-5.8zM365.5 206h5.8v6.4h-5.8zM365.5 221h5.8v3.4h-5.8zM370.8 86h5.8v21.4h-5.8zM370.8 137h5.8v6.4h-5.8zM370.8 149h5.8v6.4h-5.8zM370.8 206h5.8v3.4h-5.8zM370.8 224h5.8v3.4h-5.8zM370.8 254h5.8v1.7h-5.8zM376.1 77h5.8v42.4h-5.8zM376.1 134h5.8v3.4h-5.8zM376.1 152h5.8v6.4h-5.8zM376.1 170h5.8v9.4h-5.8zM376.1 209h5.8v3.4h-5.8zM376.1 224h5.8v3.4h-5.8zM381.3 77h5.8v12.4h-5.8zM381.3 107h5.8v15.4h-5.8zM381.3 140h5.8v3.4h-5.8zM381.3 152h5.8v6.4h-5.8zM381.3 188h5.8v3.4h-5.8zM381.3 206h5.8v6.4h-5.8zM381.3 251h5.8v3.4h-5.8zM386.6 134h5.8v3.4h-5.8zM386.6 146h5.8v18.4h-5.8zM386.6 176h5.8v6.4h-5.8zM386.6 215h5.8v9.4h-5.8zM386.6 254h5.8v2.1h-5.8zM391.8 185h5.8v3.4h-5.8zM391.8 215h5.8v6.4h-5.8zM391.8 254h5.8v2.1h-5.8zM397.1 158h5.8v9.4h-5.8zM397.1 206h5.8v3.4h-5.8zM402.3 92h5.8v6.4h-5.8zM402.3 155h5.8v6.4h-5.8zM402.3 173h5.8v24.4h-5.8zM402.3 209h5.8v3.4h-5.8zM402.3 224h5.8v3.4h-5.8zM402.3 254h5.8v1.5h-5.8zM407.6 128h5.8v9.4h-5.8zM407.6 164h5.8v9.4h-5.8zM407.6 197h5.8v9.4h-5.8zM407.6 224h5.8v3.4h-5.8zM407.6 254h5.8v2h-5.8zM412.8 80h5.8v15.4h-5.8zM412.8 107h5.8v12.4h-5.8zM412.8 143h5.8v6.4h-5.8zM412.8 155h5.8v6.4h-5.8zM412.8 179h5.8v9.4h-5.8zM412.8 194h5.8v9.4h-5.8zM412.8 212h5.8v3.4h-5.8zM412.8 221h5.8v3.4h-5.8zM412.8 251h5.8v3.4h-5.8zM418.1 86h5.8v12.4h-5.8zM418.1 149h5.8v45.4h-5.8zM418.1 212h5.8v3.4h-5.8zM423.3 89h5.8v12.4h-5.8zM423.3 182h5.8v3.4h-5.8zM423.3 200h5.8v9.4h-5.8zM423.3 221h5.8v3.4h-5.8zM428.6 74h5.8v15.4h-5.8zM428.6 101h5.8v3.4h-5.8zM428.6 182h5.8v3.4h-5.8zM428.6 203h5.8v3.4h-5.8zM428.6 254h5.8v1.5h-5.8zM433.9 74h5.8v3.4h-5.8zM433.9 107h5.8v6.4h-5.8zM433.9 131h5.8v3.4h-5.8zM433.9 146h5.8v6.4h-5.8zM433.9 185h5.8v6.4h-5.8zM433.9 209h5.8v3.4h-5.8zM433.9 248h5.8v3.4h-5.8zM439.1 83h5.8v24.4h-5.8zM439.1 182h5.8v6.4h-5.8zM439.1 209h5.8v6.4h-5.8zM439.1 221h5.8v3.4h-5.8zM444.4 173h5.8v3.4h-5.8zM444.4 206h5.8v3.4h-5.8zM444.4 248h5.8v3.4h-5.8zM449.6 146h5.8v3.4h-5.8zM449.6 191h5.8v9.4h-5.8zM449.6 206h5.8v6.4h-5.8zM449.6 227h5.8v3.4h-5.8zM454.9 74h5.8v3.4h-5.8zM454.9 143h5.8v18.4h-5.8zM454.9 167h5.8v21.4h-5.8zM460.1 74h5.8v9.4h-5.8zM460.1 173h5.8v39.4h-5.8zM460.1 221h5.8v3.4h-5.8zM460.1 251h5.8v3.4h-5.8zM465.4 83h5.8v12.4h-5.8zM465.4 179h5.8v9.4h-5.8zM465.4 194h5.8v9.4h-5.8zM470.6 80h5.8v12.4h-5.8zM470.6 176h5.8v6.4h-5.8zM470.6 206h5.8v9.4h-5.8zM470.6 224h5.8v3.4h-5.8zM475.9 74h5.8v27.4h-5.8zM475.9 119h5.8v3.4h-5.8zM475.9 161h5.8v15.4h-5.8zM475.9 209h5.8v3.4h-5.8zM481.1 86h5.8v12.4h-5.8zM481.1 113h5.8v6.4h-5.8zM481.1 122h5.8v9.4h-5.8zM481.1 170h5.8v15.4h-5.8zM486.4 83h5.8v9.4h-5.8zM486.4 95h5.8v6.4h-5.8zM486.4 116h5.8v9.4h-5.8zM486.4 173h5.8v12.4h-5.8zM486.4 209h5.8v3.4h-5.8zM486.4 254h5.8v1.3h-5.8zM491.7 77h5.8v36.4h-5.8zM491.7 146h5.8v6.4h-5.8zM491.7 179h5.8v3.4h-5.8zM491.7 251h5.8v3.4h-5.8zM496.9 74h5.8v15.4h-5.8zM496.9 107h5.8v9.4h-5.8zM496.9 146h5.8v15.4h-5.8zM496.9 176h5.8v3.4h-5.8zM496.9 203h5.8v3.4h-5.8zM502.2 104h5.8v21.4h-5.8zM502.2 134h5.8v15.4h-5.8zM502.2 170h5.8v6.4h-5.8zM502.2 197h5.8v12.4h-5.8zM502.2 224h5.8v3.4h-5.8zM502.2 251h5.8v3.4h-5.8zM507.4 83h5.8v9.4h-5.8zM507.4 131h5.8v6.4h-5.8zM507.4 143h5.8v6.4h-5.8zM507.4 209h5.8v6.4h-5.8zM507.4 224h5.8v3.4h-5.8zM512.7 176h5.8v15.4h-5.8zM512.7 197h5.8v9.4h-5.8zM512.7 248h5.8v3.4h-5.8zM517.9 74h5.8v9.4h-5.8zM517.9 95h5.8v9.4h-5.8zM517.9 113h5.8v21.4h-5.8zM517.9 140h5.8v9.4h-5.8zM517.9 161h5.8v9.4h-5.8zM517.9 215h5.8v3.4h-5.8zM517.9 221h5.8v3.4h-5.8zM523.2 89h5.8v9.4h-5.8zM523.2 179h5.8v3.4h-5.8zM523.2 215h5.8v3.4h-5.8zM523.2 221h5.8v3.4h-5.8zM523.2 254h5.8v1.6h-5.8zM528.4 134h5.8v6.4h-5.8zM528.4 176h5.8v15.4h-5.8zM528.4 197h5.8v15.4h-5.8zM528.4 221h5.8v3.4h-5.8zM533.7 89h5.8v9.4h-5.8zM533.7 125h5.8v15.4h-5.8zM533.7 173h5.8v6.4h-5.8zM533.7 212h5.8v6.4h-5.8zM533.7 221h5.8v3.4h-5.8zM533.7 254h5.8v2.2h-5.8zM538.9 80h5.8v21.4h-5.8zM538.9 113h5.8v12.4h-5.8zM538.9 149h5.8v6.4h-5.8zM538.9 161h5.8v6.4h-5.8zM538.9 176h5.8v6.4h-5.8zM538.9 218h5.8v3.4h-5.8zM538.9 254h5.8v1.7h-5.8zM544.2 86h5.8v39.4h-5.8zM544.2 137h5.8v9.4h-5.8zM544.2 158h5.8v6.4h-5.8zM544.2 188h5.8v3.4h-5.8zM544.2 218h5.8v3.4h-5.8zM549.5 74h5.8v36.4h-5.8zM549.5 122h5.8v6.4h-5.8zM549.5 134h5.8v9.4h-5.8zM549.5 164h5.8v6.4h-5.8zM549.5 185h5.8v3.4h-5.8zM554.7 74h5.8v27.4h-5.8zM554.7 158h5.8v21.4h-5.8zM554.7 218h5.8v3.4h-5.8zM560 170h5.8v3.4h-5.8zM560 212h5.8v3.4h-5.8zM565.2 188h5.8v3.4h-5.8zM565.2 212h5.8v3.4h-5.8zM565.2 221h5.8v3.4h-5.8zM570.5 182h5.8v9.4h-5.8zM570.5 212h5.8v12.4h-5.8zM575.7 95h5.8v6.4h-5.8zM575.7 110h5.8v12.4h-5.8zM575.7 137h5.8v9.4h-5.8zM575.7 158h5.8v27.4h-5.8zM575.7 200h5.8v6.4h-5.8zM575.7 254h5.8v2.1h-5.8zM581 80h5.8v24.4h-5.8zM581 116h5.8v21.4h-5.8zM581 194h5.8v9.4h-5.8zM581 221h5.8v3.4h-5.8zM581 251h5.8v3.4h-5.8zM586.2 74h5.8v30.4h-5.8zM586.2 173h5.8v9.4h-5.8zM586.2 254h5.8v2h-5.8zM591.5 83h5.8v12.4h-5.8zM591.5 137h5.8v27.4h-5.8zM591.5 188h5.8v3.4h-5.8zM591.5 212h5.8v3.4h-5.8zM591.5 221h5.8v3.4h-5.8zM591.5 254h5.8v1.8h-5.8zM596.7 74h5.8v9.4h-5.8zM596.7 125h5.8v12.4h-5.8zM596.7 179h5.8v3.4h-5.8zM596.7 209h5.8v3.4h-5.8zM596.7 254h5.8v1.3h-5.8z"/><path fill="#043b6d" d="M313 152h5.8v27.4h-5.8zM313 212h5.8v3.4h-5.8zM313 221h5.8v3.4h-5.8zM313 254h5.8v2.8h-5.8zM318.3 185h5.8v3.4h-5.8zM318.3 203h5.8v12.4h-5.8zM318.3 251h5.8v3.4h-5.8zM323.5 173h5.8v3.4h-5.8zM323.5 188h5.8v21.4h-5.8zM323.5 224h5.8v3.4h-5.8zM323.5 251h5.8v3.4h-5.8zM328.8 176h5.8v6.4h-5.8zM328.8 200h5.8v12.4h-5.8zM328.8 221h5.8v3.4h-5.8zM334 77h5.8v18.4h-5.8zM334 188h5.8v3.4h-5.8zM334 212h5.8v6.4h-5.8zM334 221h5.8v3.4h-5.8zM339.3 104h5.8v9.4h-5.8zM339.3 134h5.8v6.4h-5.8zM339.3 179h5.8v3.4h-5.8zM339.3 206h5.8v3.4h-5.8zM339.3 224h5.8v3.4h-5.8zM339.3 248h5.8v3.4h-5.8zM344.5 143h5.8v9.4h-5.8zM344.5 185h5.8v3.4h-5.8zM344.5 212h5.8v3.4h-5.8zM344.5 224h5.8v3.4h-5.8zM344.5 254h5.8v2.1h-5.8zM349.8 188h5.8v3.4h-5.8zM349.8 212h5.8v3.4h-5.8zM349.8 224h5.8v3.4h-5.8zM349.8 251h5.8v3.4h-5.8zM355 179h5.8v3.4h-5.8zM355 203h5.8v3.4h-5.8zM355 251h5.8v3.4h-5.8zM360.3 116h5.8v6.4h-5.8zM360.3 128h5.8v9.4h-5.8zM360.3 182h5.8v3.4h-5.8zM360.3 212h5.8v3.4h-5.8zM360.3 221h5.8v3.4h-5.8zM360.3 254h5.8v1.8h-5.8zM365.5 182h5.8v24.4h-5.8zM365.5 251h5.8v3.4h-5.8zM370.8 143h5.8v6.4h-5.8zM370.8 173h5.8v3.4h-5.8zM370.8 203h5.8v3.4h-5.8zM370.8 251h5.8v3.4h-5.8zM376.1 74h5.8v3.4h-5.8zM376.1 137h5.8v15.4h-5.8zM376.1 179h5.8v6.4h-5.8zM376.1 206h5.8v3.4h-5.8zM376.1 254h5.8v1.7h-5.8zM381.3 143h5.8v9.4h-5.8zM381.3 191h5.8v6.4h-5.8zM381.3 203h5.8v3.4h-5.8zM381.3 224h5.8v3.4h-5.8zM381.3 248h5.8v3.4h-5.8zM386.6 137h5.8v9.4h-5.8zM386.6 182h5.8v3.4h-5.8zM386.6 209h5.8v6.4h-5.8zM391.8 188h5.8v6.4h-5.8zM391.8 209h5.8v6.4h-5.8zM391.8 221h5.8v3.4h-5.8zM397.1 167h5.8v18.4h-5.8zM397.1 203h5.8v3.4h-5.8zM397.1 224h5.8v3.4h-5.8zM397.1 251h5.8v3.4h-5.8zM402.3 161h5.8v12.4h-5.8zM402.3 197h5.8v12.4h-5.8zM407.6 173h5.8v24.4h-5.8zM407.6 251h5.8v3.4h-5.8zM412.8 149h5.8v6.4h-5.8zM412.8 188h5.8v6.4h-5.8zM412.8 203h5.8v9.4h-5.8zM412.8 224h5.8v3.4h-5.8zM418.1 194h5.8v9.4h-5.8zM418.1 209h5.8v3.4h-5.8zM418.1 224h5.8v3.4h-5.8zM418.1 251h5.8v3.4h-5.8zM423.3 185h5.8v15.4h-5.8zM423.3 251h5.8v3.4h-5.8zM428.6 185h5.8v6.4h-5.8zM428.6 197h5.8v6.4h-5.8zM428.6 251h5.8v3.4h-5.8zM433.9 77h5.8v30.4h-5.8zM433.9 134h5.8v12.4h-5.8zM433.9 191h5.8v3.4h-5.8zM433.9 203h5.8v6.4h-5.8zM433.9 224h5.8v3.4h-5.8zM433.9 245h5.8v3.4h-5.8zM439.1 188h5.8v3.4h-5.8zM439.1 206h5.8v3.4h-5.8zM439.1 224h5.8v3.4h-5.8zM439.1 251h5.8v3.4h-5.8zM444.4 176h5.8v9.4h-5.8zM444.4 203h5.8v3.4h-5.8zM444.4 227h5.8v3.4h-5.8zM444.4 245h5.8v3.4h-5.8zM449.6 200h5.8v6.4h-5.8zM449.6 245h5.8v6.4h-5.8zM454.9 188h5.8v6.4h-5.8zM454.9 212h5.8v12.4h-5.8zM454.9 254h5.8v1.5h-5.8zM465.4 188h5.8v6.4h-5.8zM465.4 227h5.8v3.4h-5.8zM465.4 251h5.8v3.4h-5.8zM470.6 182h5.8v24.4h-5.8zM475.9 176h5.8v9.4h-5.8zM475.9 206h5.8v3.4h-5.8zM475.9 224h5.8v3.4h-5.8zM475.9 254h5.8v1.6h-5.8zM481.1 74h5.8v12.4h-5.8zM481.1 119h5.8v3.4h-5.8zM481.1 131h5.8v15.4h-5.8zM481.1 158h5.8v12.4h-5.8zM481.1 185h5.8v3.4h-5.8zM481.1 215h5.8v9.4h-5.8zM486.4 92h5.8v3.4h-5.8zM486.4 185h5.8v6.4h-5.8zM486.4 206h5.8v3.4h-5.8zM486.4 227h5.8v3.4h-5.8zM491.7 182h5.8v3.4h-5.8zM491.7 209h5.8v3.4h-5.8zM491.7 224h5.8v3.4h-5.8zM491.7 242h5.8v9.4h-5.8zM496.9 89h5.8v18.4h-5.8zM496.9 179h5.8v3.4h-5.8zM496.9 200h5.8v3.4h-5.8zM496.9 221h5.8v3.4h-5.8zM496.9 254h5.8v1.9h-5.8zM502.2 125h5.8v9.4h-5.8zM502.2 176h5.8v21.4h-5.8zM507.4 92h5.8v39.4h-5.8zM507.4 149h5.8v30.4h-5.8zM507.4 203h5.8v6.4h-5.8zM507.4 251h5.8v3.4h-5.8zM512.7 191h5.8v6.4h-5.8zM512.7 227h5.8v3.4h-5.8zM512.7 245h5.8v3.4h-5.8zM517.9 83h5.8v12.4h-5.8zM517.9 134h5.8v6.4h-5.8zM517.9 170h5.8v6.4h-5.8zM517.9 206h5.8v9.4h-5.8zM517.9 224h5.8v3.4h-5.8zM517.9 254h5.8v0.9h-5.8zM523.2 182h5.8v3.4h-5.8zM523.2 212h5.8v3.4h-5.8zM523.2 224h5.8v3.4h-5.8zM528.4 251h5.8v3.4h-5.8zM533.7 98h5.8v27.4h-5.8zM533.7 140h5.8v9.4h-5.8zM533.7 167h5.8v6.4h-5.8zM533.7 179h5.8v6.4h-5.8zM533.7 209h5.8v3.4h-5.8zM533.7 224h5.8v3.4h-5.8zM533.7 251h5.8v3.4h-5.8zM538.9 155h5.8v6.4h-5.8zM538.9 182h5.8v6.4h-5.8zM538.9 209h5.8v9.4h-5.8zM538.9 221h5.8v3.4h-5.8zM544.2 146h5.8v12.4h-5.8zM544.2 191h5.8v6.4h-5.8zM544.2 215h5.8v3.4h-5.8zM544.2 221h5.8v3.4h-5.8zM544.2 254h5.8v2.5h-5.8zM549.5 143h5.8v6.4h-5.8zM549.5 155h5.8v9.4h-5.8zM549.5 188h5.8v3.4h-5.8zM549.5 212h5.8v9.4h-5.8zM554.7 179h5.8v6.4h-5.8zM554.7 212h5.8v6.4h-5.8zM554.7 221h5.8v3.4h-5.8zM554.7 254h5.8v2.3h-5.8zM560 173h5.8v18.4h-5.8zM560 209h5.8v3.4h-5.8zM560 224h5.8v3.4h-5.8zM560 254h5.8v2.4h-5.8zM565.2 191h5.8v21.4h-5.8zM565.2 224h5.8v3.4h-5.8zM565.2 251h5.8v3.4h-5.8zM570.5 191h5.8v9.4h-5.8zM570.5 203h5.8v9.4h-5.8zM570.5 251h5.8v3.4h-5.8zM575.7 101h5.8v9.4h-5.8zM575.7 146h5.8v12.4h-5.8zM575.7 224h5.8v3.4h-5.8zM575.7 251h5.8v3.4h-5.8zM586.2 182h5.8v6.4h-5.8zM586.2 209h5.8v3.4h-5.8zM586.2 224h5.8v3.4h-5.8zM586.2 251h5.8v3.4h-5.8zM591.5 191h5.8v3.4h-5.8zM591.5 209h5.8v3.4h-5.8zM596.7 182h5.8v6.4h-5.8zM596.7 206h5.8v3.4h-5.8zM596.7 224h5.8v3.4h-5.8z"/><path fill="#054e80" d="M313 179h5.8v6.4h-5.8zM313 206h5.8v6.4h-5.8zM313 224h5.8v3.4h-5.8zM313 251h5.8v3.4h-5.8zM318.3 188h5.8v15.4h-5.8zM318.3 227h5.8v3.4h-5.8zM323.5 227h5.8v3.4h-5.8zM328.8 182h5.8v6.4h-5.8zM328.8 194h5.8v6.4h-5.8zM328.8 224h5.8v3.4h-5.8zM328.8 248h5.8v3.4h-5.8zM334 191h5.8v3.4h-5.8zM334 206h5.8v6.4h-5.8zM334 224h5.8v3.4h-5.8zM334 248h5.8v3.4h-5.8zM339.3 182h5.8v3.4h-5.8zM339.3 203h5.8v3.4h-5.8zM344.5 188h5.8v3.4h-5.8zM344.5 209h5.8v3.4h-5.8zM344.5 227h5.8v3.4h-5.8zM349.8 191h5.8v3.4h-5.8zM349.8 209h5.8v3.4h-5.8zM355 182h5.8v6.4h-5.8zM355 197h5.8v6.4h-5.8zM355 227h5.8v3.4h-5.8zM360.3 122h5.8v6.4h-5.8zM360.3 185h5.8v3.4h-5.8zM360.3 209h5.8v3.4h-5.8zM360.3 251h5.8v3.4h-5.8zM365.5 224h5.8v3.4h-5.8zM365.5 248h5.8v3.4h-5.8zM370.8 176h5.8v3.4h-5.8zM370.8 197h5.8v6.4h-5.8zM370.8 227h5.8v3.4h-5.8zM376.1 185h5.8v3.4h-5.8zM376.1 203h5.8v3.4h-5.8zM376.1 227h5.8v3.4h-5.8zM376.1 251h5.8v3.4h-5.8zM381.3 197h5.8v6.4h-5.8zM381.3 245h5.8v3.4h-5.8zM386.6 185h5.8v9.4h-5.8zM386.6 203h5.8v6.4h-5.8zM386.6 224h5.8v3.4h-5.8zM386.6 251h5.8v3.4h-5.8zM391.8 194h5.8v15.4h-5.8zM391.8 224h5.8v3.4h-5.8zM391.8 251h5.8v3.4h-5.8zM397.1 185h5.8v18.4h-5.8zM397.1 248h5.8v3.4h-5.8zM402.3 251h5.8v3.4h-5.8zM407.6 248h5.8v3.4h-5.8zM412.8 245h5.8v6.4h-5.8zM418.1 203h5.8v6.4h-5.8zM423.3 224h5.8v3.4h-5.8zM428.6 191h5.8v6.4h-5.8zM428.6 227h5.8v3.4h-5.8zM433.9 194h5.8v9.4h-5.8zM439.1 191h5.8v15.4h-5.8zM444.4 185h5.8v18.4h-5.8zM444.4 242h5.8v3.4h-5.8zM449.6 230h5.8v3.4h-5.8zM449.6 242h5.8v3.4h-5.8zM454.9 194h5.8v9.4h-5.8zM454.9 209h5.8v3.4h-5.8zM454.9 251h5.8v3.4h-5.8zM460.1 224h5.8v3.4h-5.8zM460.1 248h5.8v3.4h-5.8zM465.4 248h5.8v3.4h-5.8zM470.6 227h5.8v3.4h-5.8zM470.6 251h5.8v3.4h-5.8zM475.9 185h5.8v21.4h-5.8zM475.9 251h5.8v3.4h-5.8zM481.1 146h5.8v12.4h-5.8zM481.1 188h5.8v3.4h-5.8zM481.1 209h5.8v6.4h-5.8zM481.1 224h5.8v3.4h-5.8zM481.1 254h5.8v2.1h-5.8zM486.4 191h5.8v6.4h-5.8zM486.4 200h5.8v6.4h-5.8zM486.4 251h5.8v3.4h-5.8zM491.7 185h5.8v3.4h-5.8zM491.7 206h5.8v3.4h-5.8zM491.7 227h5.8v3.4h-5.8zM491.7 239h5.8v3.4h-5.8zM496.9 182h5.8v6.4h-5.8zM496.9 197h5.8v3.4h-5.8zM496.9 224h5.8v3.4h-5.8zM496.9 251h5.8v3.4h-5.8zM502.2 227h5.8v3.4h-5.8zM502.2 245h5.8v6.4h-5.8zM507.4 179h5.8v6.4h-5.8zM507.4 194h5.8v9.4h-5.8zM507.4 227h5.8v3.4h-5.8zM517.9 176h5.8v6.4h-5.8zM517.9 200h5.8v6.4h-5.8zM523.2 185h5.8v6.4h-5.8zM523.2 209h5.8v3.4h-5.8zM523.2 251h5.8v3.4h-5.8zM528.4 224h5.8v3.4h-5.8zM533.7 149h5.8v18.4h-5.8zM533.7 185h5.8v6.4h-5.8zM533.7 206h5.8v3.4h-5.8zM538.9 188h5.8v21.4h-5.8zM538.9 224h5.8v3.4h-5.8zM538.9 251h5.8v3.4h-5.8zM544.2 197h5.8v18.4h-5.8zM544.2 224h5.8v3.4h-5.8zM549.5 149h5.8v6.4h-5.8zM549.5 191h5.8v21.4h-5.8zM549.5 221h5.8v3.4h-5.8zM549.5 254h5.8v2.5h-5.8zM554.7 185h5.8v9.4h-5.8zM554.7 209h5.8v3.4h-5.8zM554.7 224h5.8v3.4h-5.8zM560 191h5.8v18.4h-5.8zM560 251h5.8v3.4h-5.8zM565.2 248h5.8v3.4h-5.8zM570.5 200h5.8v3.4h-5.8zM570.5 224h5.8v3.4h-5.8zM581 224h5.8v3.4h-5.8zM581 248h5.8v3.4h-5.8zM586.2 188h5.8v3.4h-5.8zM586.2 206h5.8v3.4h-5.8zM591.5 194h5.8v3.4h-5.8zM591.5 206h5.8v3.4h-5.8zM591.5 224h5.8v3.4h-5.8zM591.5 251h5.8v3.4h-5.8zM596.7 188h5.8v9.4h-5.8zM596.7 203h5.8v3.4h-5.8zM596.7 251h5.8v3.4h-5.8z"/><path fill="#066395" d="M313 185h5.8v21.4h-5.8zM313 248h5.8v3.4h-5.8zM318.3 245h5.8v6.4h-5.8zM323.5 230h5.8v3.4h-5.8zM323.5 248h5.8v3.4h-5.8zM328.8 188h5.8v6.4h-5.8zM328.8 227h5.8v3.4h-5.8zM328.8 245h5.8v3.4h-5.8zM334 194h5.8v12.4h-5.8zM334 245h5.8v3.4h-5.8zM339.3 185h5.8v3.4h-5.8zM339.3 200h5.8v3.4h-5.8zM339.3 227h5.8v3.4h-5.8zM339.3 245h5.8v3.4h-5.8zM344.5 191h5.8v3.4h-5.8zM344.5 203h5.8v6.4h-5.8zM344.5 251h5.8v3.4h-5.8zM349.8 194h5.8v6.4h-5.8zM349.8 203h5.8v6.4h-5.8zM349.8 227h5.8v3.4h-5.8zM349.8 248h5.8v3.4h-5.8zM355 188h5.8v9.4h-5.8zM355 248h5.8v3.4h-5.8zM360.3 188h5.8v6.4h-5.8zM360.3 203h5.8v6.4h-5.8zM360.3 224h5.8v3.4h-5.8zM370.8 179h5.8v3.4h-5.8zM370.8 194h5.8v3.4h-5.8zM370.8 248h5.8v3.4h-5.8zM376.1 188h5.8v6.4h-5.8zM376.1 197h5.8v6.4h-5.8zM376.1 248h5.8v3.4h-5.8zM381.3 227h5.8v3.4h-5.8zM386.6 194h5.8v9.4h-5.8zM386.6 248h5.8v3.4h-5.8zM391.8 248h5.8v3.4h-5.8zM397.1 227h5.8v3.4h-5.8zM397.1 245h5.8v3.4h-5.8zM402.3 227h5.8v3.4h-5.8zM402.3 248h5.8v3.4h-5.8zM407.6 227h5.8v3.4h-5.8zM407.6 245h5.8v3.4h-5.8zM412.8 227h5.8v3.4h-5.8zM412.8 242h5.8v3.4h-5.8zM418.1 227h5.8v3.4h-5.8zM418.1 245h5.8v6.4h-5.8zM423.3 248h5.8v3.4h-5.8zM428.6 245h5.8v6.4h-5.8zM439.1 227h5.8v3.4h-5.8zM439.1 248h5.8v3.4h-5.8zM444.4 230h5.8v3.4h-5.8zM449.6 233h5.8v3.4h-5.8zM449.6 239h5.8v3.4h-5.8zM454.9 203h5.8v6.4h-5.8zM454.9 224h5.8v3.4h-5.8zM454.9 248h5.8v3.4h-5.8zM460.1 245h5.8v3.4h-5.8zM465.4 245h5.8v3.4h-5.8zM470.6 230h5.8v3.4h-5.8zM475.9 227h5.8v3.4h-5.8zM481.1 191h5.8v3.4h-5.8zM481.1 203h5.8v6.4h-5.8zM481.1 251h5.8v3.4h-5.8zM486.4 197h5.8v3.4h-5.8zM486.4 230h5.8v3.4h-5.8zM486.4 245h5.8v6.4h-5.8zM491.7 188h5.8v3.4h-5.8zM491.7 203h5.8v3.4h-5.8zM491.7 230h5.8v3.4h-5.8zM496.9 188h5.8v9.4h-5.8zM496.9 248h5.8v3.4h-5.8zM502.2 230h5.8v3.4h-5.8zM502.2 242h5.8v3.4h-5.8zM507.4 185h5.8v9.4h-5.8zM507.4 248h5.8v3.4h-5.8zM512.7 230h5.8v3.4h-5.8zM512.7 242h5.8v3.4h-5.8zM517.9 182h5.8v18.4h-5.8zM523.2 191h5.8v18.4h-5.8zM523.2 227h5.8v3.4h-5.8zM528.4 227h5.8v3.4h-5.8zM528.4 248h5.8v3.4h-5.8zM533.7 191h5.8v15.4h-5.8zM533.7 227h5.8v3.4h-5.8zM533.7 248h5.8v3.4h-5.8zM538.9 227h5.8v3.4h-5.8zM544.2 227h5.8v3.4h-5.8zM544.2 251h5.8v3.4h-5.8zM549.5 251h5.8v3.4h-5.8zM554.7 194h5.8v15.4h-5.8zM554.7 251h5.8v3.4h-5.8zM560 227h5.8v3.4h-5.8zM570.5 248h5.8v3.4h-5.8zM575.7 227h5.8v3.4h-5.8zM575.7 248h5.8v3.4h-5.8zM581 245h5.8v3.4h-5.8zM586.2 191h5.8v6.4h-5.8zM586.2 200h5.8v6.4h-5.8zM586.2 227h5.8v3.4h-5.8zM586.2 248h5.8v3.4h-5.8zM591.5 197h5.8v9.4h-5.8zM596.7 197h5.8v6.4h-5.8zM596.7 227h5.8v3.4h-5.8zM596.7 248h5.8v3.4h-5.8z"/><path fill="#0777a9" d="M313 227h5.8v3.4h-5.8zM313 245h5.8v3.4h-5.8zM318.3 230h5.8v3.4h-5.8zM323.5 245h5.8v3.4h-5.8zM328.8 242h5.8v3.4h-5.8zM334 227h5.8v3.4h-5.8zM339.3 188h5.8v12.4h-5.8zM339.3 242h5.8v3.4h-5.8zM344.5 194h5.8v9.4h-5.8zM344.5 230h5.8v3.4h-5.8zM344.5 245h5.8v6.4h-5.8zM349.8 200h5.8v3.4h-5.8zM349.8 245h5.8v3.4h-5.8zM355 230h5.8v3.4h-5.8zM355 245h5.8v3.4h-5.8zM360.3 194h5.8v9.4h-5.8zM360.3 248h5.8v3.4h-5.8zM365.5 245h5.8v3.4h-5.8zM370.8 182h5.8v12.4h-5.8zM370.8 245h5.8v3.4h-5.8zM376.1 194h5.8v3.4h-5.8zM376.1 230h5.8v3.4h-5.8zM376.1 242h5.8v6.4h-5.8zM381.3 242h5.8v3.4h-5.8zM386.6 227h5.8v3.4h-5.8zM386.6 245h5.8v3.4h-5.8zM391.8 227h5.8v3.4h-5.8zM391.8 245h5.8v3.4h-5.8zM418.1 230h5.8v3.4h-5.8zM423.3 227h5.8v3.4h-5.8zM423.3 245h5.8v3.4h-5.8zM428.6 230h5.8v3.4h-5.8zM433.9 227h5.8v3.4h-5.8zM433.9 242h5.8v3.4h-5.8zM439.1 245h5.8v3.4h-5.8zM444.4 239h5.8v3.4h-5.8zM449.6 236h5.8v3.4h-5.8zM454.9 227h5.8v3.4h-5.8zM454.9 245h5.8v3.4h-5.8zM460.1 227h5.8v3.4h-5.8zM465.4 230h5.8v3.4h-5.8zM470.6 248h5.8v3.4h-5.8zM475.9 248h5.8v3.4h-5.8zM481.1 194h5.8v9.4h-5.8zM481.1 227h5.8v3.4h-5.8zM481.1 245h5.8v6.4h-5.8zM486.4 233h5.8v3.4h-5.8zM486.4 239h5.8v6.4h-5.8zM491.7 191h5.8v12.4h-5.8zM491.7 233h5.8v6.4h-5.8zM496.9 227h5.8v3.4h-5.8zM496.9 242h5.8v6.4h-5.8zM502.2 233h5.8v3.4h-5.8zM502.2 239h5.8v3.4h-5.8zM507.4 230h5.8v3.4h-5.8zM507.4 245h5.8v3.4h-5.8zM512.7 233h5.8v3.4h-5.8zM512.7 239h5.8v3.4h-5.8zM517.9 227h5.8v3.4h-5.8zM517.9 251h5.8v3.4h-5.8zM523.2 248h5.8v3.4h-5.8zM528.4 245h5.8v3.4h-5.8zM533.7 245h5.8v3.4h-5.8zM538.9 248h5.8v3.4h-5.8zM549.5 224h5.8v3.4h-5.8zM554.7 227h5.8v3.4h-5.8zM560 248h5.8v3.4h-5.8zM565.2 227h5.8v3.4h-5.8zM565.2 245h5.8v3.4h-5.8zM570.5 227h5.8v3.4h-5.8zM575.7 245h5.8v3.4h-5.8zM586.2 197h5.8v3.4h-5.8zM586.2 245h5.8v3.4h-5.8zM591.5 227h5.8v3.4h-5.8zM591.5 248h5.8v3.4h-5.8zM596.7 245h5.8v3.4h-5.8z"/><path fill="#0e8ab7" d="M313 230h5.8v3.4h-5.8zM313 242h5.8v3.4h-5.8zM318.3 242h5.8v3.4h-5.8zM323.5 233h5.8v12.4h-5.8zM328.8 230h5.8v3.4h-5.8zM334 242h5.8v3.4h-5.8zM339.3 230h5.8v3.4h-5.8zM344.5 242h5.8v3.4h-5.8zM349.8 230h5.8v3.4h-5.8zM349.8 242h5.8v3.4h-5.8zM355 242h5.8v3.4h-5.8zM360.3 227h5.8v3.4h-5.8zM365.5 227h5.8v3.4h-5.8zM370.8 230h5.8v3.4h-5.8zM376.1 239h5.8v3.4h-5.8zM381.3 230h5.8v3.4h-5.8zM391.8 230h5.8v3.4h-5.8zM391.8 242h5.8v3.4h-5.8zM397.1 230h5.8v3.4h-5.8zM397.1 242h5.8v3.4h-5.8zM402.3 230h5.8v3.4h-5.8zM402.3 245h5.8v3.4h-5.8zM407.6 230h5.8v3.4h-5.8zM407.6 242h5.8v3.4h-5.8zM412.8 230h5.8v3.4h-5.8zM412.8 239h5.8v3.4h-5.8zM418.1 242h5.8v3.4h-5.8zM423.3 242h5.8v3.4h-5.8zM428.6 242h5.8v3.4h-5.8zM439.1 230h5.8v3.4h-5.8zM444.4 233h5.8v6.4h-5.8zM454.9 242h5.8v3.4h-5.8zM460.1 230h5.8v3.4h-5.8zM460.1 242h5.8v3.4h-5.8zM465.4 242h5.8v3.4h-5.8zM470.6 233h5.8v3.4h-5.8zM470.6 245h5.8v3.4h-5.8zM475.9 230h5.8v3.4h-5.8zM475.9 245h5.8v3.4h-5.8zM481.1 230h5.8v3.4h-5.8zM481.1 242h5.8v3.4h-5.8zM486.4 236h5.8v3.4h-5.8zM496.9 230h5.8v3.4h-5.8zM496.9 239h5.8v3.4h-5.8zM502.2 236h5.8v3.4h-5.8zM507.4 242h5.8v3.4h-5.8zM512.7 236h5.8v3.4h-5.8zM523.2 230h5.8v3.4h-5.8zM523.2 245h5.8v3.4h-5.8zM528.4 230h5.8v3.4h-5.8zM528.4 242h5.8v3.4h-5.8zM538.9 230h5.8v3.4h-5.8zM538.9 245h5.8v3.4h-5.8zM544.2 248h5.8v3.4h-5.8zM549.5 248h5.8v3.4h-5.8zM554.7 248h5.8v3.4h-5.8zM570.5 245h5.8v3.4h-5.8zM581 227h5.8v3.4h-5.8zM586.2 230h5.8v3.4h-5.8zM586.2 242h5.8v3.4h-5.8zM591.5 245h5.8v3.4h-5.8z"/><path fill="#159cc4" d="M313 239h5.8v3.4h-5.8zM318.3 233h5.8v3.4h-5.8zM318.3 239h5.8v3.4h-5.8zM328.8 233h5.8v9.4h-5.8zM334 230h5.8v3.4h-5.8zM339.3 239h5.8v3.4h-5.8zM344.5 233h5.8v3.4h-5.8zM344.5 239h5.8v3.4h-5.8zM355 233h5.8v3.4h-5.8zM360.3 245h5.8v3.4h-5.8zM365.5 242h5.8v3.4h-5.8zM370.8 242h5.8v3.4h-5.8zM376.1 233h5.8v6.4h-5.8zM381.3 239h5.8v3.4h-5.8zM386.6 230h5.8v3.4h-5.8zM386.6 242h5.8v3.4h-5.8zM391.8 239h5.8v3.4h-5.8zM402.3 242h5.8v3.4h-5.8zM412.8 233h5.8v6.4h-5.8zM418.1 233h5.8v3.4h-5.8zM418.1 239h5.8v3.4h-5.8zM423.3 230h5.8v3.4h-5.8zM428.6 233h5.8v3.4h-5.8zM428.6 239h5.8v3.4h-5.8zM433.9 230h5.8v3.4h-5.8zM439.1 242h5.8v3.4h-5.8zM454.9 230h5.8v3.4h-5.8zM454.9 239h5.8v3.4h-5.8zM460.1 239h5.8v3.4h-5.8zM465.4 233h5.8v3.4h-5.8zM465.4 239h5.8v3.4h-5.8zM470.6 236h5.8v9.4h-5.8zM475.9 233h5.8v3.4h-5.8zM475.9 242h5.8v3.4h-5.8zM496.9 233h5.8v6.4h-5.8zM507.4 233h5.8v3.4h-5.8zM517.9 230h5.8v3.4h-5.8zM517.9 248h5.8v3.4h-5.8zM523.2 242h5.8v3.4h-5.8zM528.4 233h5.8v3.4h-5.8zM528.4 239h5.8v3.4h-5.8zM533.7 230h5.8v3.4h-5.8zM533.7 242h5.8v3.4h-5.8zM544.2 230h5.8v3.4h-5.8zM544.2 245h5.8v3.4h-5.8zM549.5 227h5.8v3.4h-5.8zM549.5 245h5.8v3.4h-5.8zM554.7 230h5.8v3.4h-5.8zM554.7 245h5.8v3.4h-5.8zM560 230h5.8v3.4h-5.8zM560 245h5.8v3.4h-5.8zM565.2 230h5.8v3.4h-5.8zM565.2 242h5.8v3.4h-5.8zM570.5 230h5.8v3.4h-5.8zM575.7 230h5.8v3.4h-5.8zM575.7 242h5.8v3.4h-5.8zM581 242h5.8v3.4h-5.8zM591.5 230h5.8v3.4h-5.8zM596.7 230h5.8v3.4h-5.8zM596.7 242h5.8v3.4h-5.8z"/><path fill="#23acc9" d="M313 233h5.8v6.4h-5.8zM318.3 236h5.8v3.4h-5.8zM334 233h5.8v3.4h-5.8zM334 239h5.8v3.4h-5.8zM339.3 233h5.8v6.4h-5.8zM344.5 236h5.8v3.4h-5.8zM349.8 233h5.8v3.4h-5.8zM349.8 239h5.8v3.4h-5.8zM355 236h5.8v6.4h-5.8zM360.3 230h5.8v3.4h-5.8zM360.3 242h5.8v3.4h-5.8zM365.5 230h5.8v3.4h-5.8zM370.8 233h5.8v3.4h-5.8zM370.8 239h5.8v3.4h-5.8zM381.3 233h5.8v6.4h-5.8zM391.8 233h5.8v6.4h-5.8zM397.1 233h5.8v9.4h-5.8zM402.3 233h5.8v3.4h-5.8zM407.6 233h5.8v3.4h-5.8zM407.6 239h5.8v3.4h-5.8zM418.1 236h5.8v3.4h-5.8zM423.3 233h5.8v9.4h-5.8zM428.6 236h5.8v3.4h-5.8zM433.9 239h5.8v3.4h-5.8zM439.1 233h5.8v9.4h-5.8zM454.9 233h5.8v3.4h-5.8zM460.1 233h5.8v6.4h-5.8zM465.4 236h5.8v3.4h-5.8zM475.9 236h5.8v6.4h-5.8zM481.1 233h5.8v9.4h-5.8zM507.4 236h5.8v6.4h-5.8zM523.2 233h5.8v3.4h-5.8zM523.2 239h5.8v3.4h-5.8zM528.4 236h5.8v3.4h-5.8zM538.9 233h5.8v3.4h-5.8zM538.9 242h5.8v3.4h-5.8zM554.7 242h5.8v3.4h-5.8zM560 242h5.8v3.4h-5.8zM570.5 242h5.8v3.4h-5.8zM581 230h5.8v3.4h-5.8zM586.2 233h5.8v3.4h-5.8zM586.2 239h5.8v3.4h-5.8zM591.5 242h5.8v3.4h-5.8zM596.7 233h5.8v3.4h-5.8zM596.7 239h5.8v3.4h-5.8z"/><path fill="#3cb9bf" d="M334 236h5.8v3.4h-5.8zM349.8 236h5.8v3.4h-5.8zM365.5 239h5.8v3.4h-5.8zM370.8 236h5.8v3.4h-5.8zM386.6 233h5.8v3.4h-5.8zM386.6 239h5.8v3.4h-5.8zM402.3 236h5.8v6.4h-5.8zM407.6 236h5.8v3.4h-5.8zM433.9 233h5.8v6.4h-5.8zM454.9 236h5.8v3.4h-5.8zM517.9 245h5.8v3.4h-5.8zM523.2 236h5.8v3.4h-5.8zM533.7 233h5.8v9.4h-5.8zM538.9 236h5.8v6.4h-5.8zM544.2 233h5.8v3.4h-5.8zM544.2 242h5.8v3.4h-5.8zM549.5 230h5.8v3.4h-5.8zM549.5 242h5.8v3.4h-5.8zM554.7 233h5.8v3.4h-5.8zM554.7 239h5.8v3.4h-5.8zM565.2 233h5.8v3.4h-5.8zM565.2 239h5.8v3.4h-5.8zM575.7 233h5.8v3.4h-5.8zM575.7 239h5.8v3.4h-5.8zM586.2 236h5.8v3.4h-5.8zM591.5 233h5.8v3.4h-5.8zM591.5 239h5.8v3.4h-5.8zM596.7 236h5.8v3.4h-5.8z"/><path fill="#56c6b5" d="M360.3 233h5.8v9.4h-5.8zM365.5 233h5.8v3.4h-5.8zM386.6 236h5.8v3.4h-5.8zM517.9 233h5.8v3.4h-5.8zM517.9 242h5.8v3.4h-5.8zM544.2 236h5.8v6.4h-5.8zM549.5 239h5.8v3.4h-5.8zM554.7 236h5.8v3.4h-5.8zM560 233h5.8v3.4h-5.8zM560 239h5.8v3.4h-5.8zM565.2 236h5.8v3.4h-5.8zM570.5 233h5.8v9.4h-5.8zM575.7 236h5.8v3.4h-5.8zM581 233h5.8v3.4h-5.8zM581 239h5.8v3.4h-5.8zM591.5 236h5.8v3.4h-5.8z"/><path fill="#6bd1ae" d="M365.5 236h5.8v3.4h-5.8zM549.5 233h5.8v6.4h-5.8zM560 236h5.8v3.4h-5.8zM581 236h5.8v3.4h-5.8z"/><path fill="#80dca7" d="M517.9 236h5.8v6.4h-5.8z"/></g>
<rect x="17" y="83.2" width="5.8" height="75" fill="#fff"/>
<rect x="17" y="83.2" width="60.7" height="6" fill="#fff"/>
<rect x="324.5" y="83.2" width="5.8" height="75" fill="#fff"/>
<rect x="324.5" y="83.2" width="60.5" height="6" fill="#fff"/>
<text x="85" y="95.5" font-size="32" font-style="italic" fill="#fff">x</text>
<text x="12.5" y="184.5" font-size="32" font-style="italic" fill="#fff">z</text>
<rect x="37.4" y="221.3" width="29.7" height="2.8" fill="#fff"/>
<rect x="37.4" y="245.2" width="29.7" height="2.8" fill="#fff"/>
<rect x="51.1" y="222.7" width="2.2" height="23.9" fill="#fff"/>
<path d="M52.2,223.2 L43.4,230.6 L61,230.6 Z" fill="#fff"/>
<path d="M52.2,246.1 L43.4,238.7 L61,238.7 Z" fill="#fff"/>
<text x="76" y="245.8" font-size="34" font-style="italic" fill="#fff" stroke="#fff" stroke-width="0.8">d<tspan font-size="22" font-style="normal" dy="7">12</tspan></text>
<rect x="334.3" y="199.3" width="30" height="2.8" fill="#fff"/>
<rect x="334.3" y="236" width="30" height="2.8" fill="#fff"/>
<rect x="348.2" y="200.7" width="2.2" height="36.7" fill="#fff"/>
<path d="M349.3,201.2 L339.8,210.2 L358.8,210.2 Z" fill="#fff"/>
<path d="M349.3,236.9 L339.8,227.9 L358.8,227.9 Z" fill="#fff"/>
<text x="368.5" y="232.5" font-size="34" font-style="italic" fill="#fff" stroke="#fff" stroke-width="0.8">d<tspan font-size="22" font-style="normal" dy="7">12</tspan></text>
<rect x="77.2" y="272.2" width="82.5" height="21.7" fill="url(#cbar)" stroke="#000" stroke-width="2"/>
<text x="69.2" y="294.5" font-size="34.2" text-anchor="end">−50</text>
<text x="167" y="294.5" font-size="34.2">250 pN</text>
<rect x="394" y="272.2" width="82.5" height="21.7" fill="url(#cbar)" stroke="#000" stroke-width="2"/>
<text x="386" y="294.5" font-size="34.2" text-anchor="end">−50</text>
<text x="483" y="294.5" font-size="34.2">150 pN</text>
<text x="0" y="364.5" font-size="44" font-weight="bold">b</text>
<g clip-path="url(#cb0)" fill="none" stroke="#cacaca" stroke-width="1"><use href="#gc0_0" transform="matrix(0.858 0 0 1.067 7.8 -29.6)"/><use href="#gc0_1" transform="matrix(0.937 0 0 1.048 5.3 -22.4)"/><use href="#gc0_2" transform="matrix(0.926 0 0 0.849 8.3 66.5)"/><use href="#gc0_3" transform="matrix(1.127 0 0 1.324 -4.4 -142.6)"/><use href="#gc0_4" transform="matrix(1.051 0 0 1.407 0.5 -184.0)"/><use href="#gc0_5" transform="matrix(0.889 0 0 0.757 7.5 107.3)"/><use href="#gc0_6" transform="matrix(0.831 0 0 1.015 7.6 -5.1)"/><use href="#gc0_7" transform="matrix(0.820 0 0 1.194 8.8 -86.9)"/><use href="#gc0_8" transform="matrix(1.018 0 0 1.030 4.4 -13.5)"/><use href="#gc0_9" transform="matrix(0.809 0 0 1.101 12.1 -44.5)"/><use href="#gc0_10" transform="matrix(0.907 0 0 0.769 4.3 103.3)"/><use href="#gc0_11" transform="matrix(1.021 0 0 1.592 1.6 -263.9)"/><use href="#gc0_12" transform="matrix(0.978 0 0 1.252 4.2 -113.9)"/><use href="#gc0_13" transform="matrix(0.975 0 0 1.510 1.3 -229.0)"/><use href="#gc0_0" transform="matrix(1.127 0 0 1.449 -4.4 -201.9)"/><use href="#gc0_1" transform="matrix(0.952 0 0 1.308 7.4 -137.7)"/><use href="#gc0_2" transform="matrix(0.920 0 0 1.312 8.0 -140.0)"/><use href="#gc0_3" transform="matrix(1.037 0 0 1.058 -1.3 -24.9)"/><use href="#gc0_4" transform="matrix(0.927 0 0 1.147 5.0 -64.1)"/><use href="#gc0_5" transform="matrix(1.055 0 0 0.713 -0.8 127.8)"/><use href="#gc0_6" transform="matrix(1.013 0 0 0.874 4.6 54.9)"/><use href="#gc0_7" transform="matrix(0.855 0 0 1.435 8.2 -194.5)"/><use href="#gc0_8" transform="matrix(1.144 0 0 1.778 -5.1 -345.8)"/><use href="#gc0_9" transform="matrix(0.983 0 0 1.248 3.6 -110.8)"/><use href="#gc0_10" transform="matrix(0.818 0 0 1.342 12.2 -152.2)"/><use href="#gc0_11" transform="matrix(1.096 0 0 0.781 -1.6 97.9)"/><use href="#gc0_12" transform="matrix(0.779 0 0 0.723 13.9 122.6)"/><use href="#gc0_13" transform="matrix(1.033 0 0 1.439 3.1 -195.4)"/><use href="#gc0_0" transform="matrix(0.974 0 0 1.047 1.5 -19.2)"/><use href="#gc0_1" transform="matrix(1.138 0 0 1.479 -1.5 -212.7)"/><use href="#gc0_2" transform="matrix(0.963 0 0 0.790 5.0 94.7)"/><use href="#gc0_3" transform="matrix(0.939 0 0 0.937 6.2 27.7)"/><use href="#gc0_4" transform="matrix(0.911 0 0 1.305 7.2 -137.3)"/><use href="#gc0_5" transform="matrix(0.904 0 0 1.586 6.9 -258.7)"/><use href="#gc0_6" transform="matrix(0.876 0 0 1.154 6.6 -67.0)"/><use href="#gc0_7" transform="matrix(0.987 0 0 0.967 4.6 15.4)"/><use href="#gc0_8" transform="matrix(1.024 0 0 0.300 2.6 310.0)"/><use href="#gc0_9" transform="matrix(0.970 0 0 0.907 2.6 44.1)"/><use href="#gc0_10" transform="matrix(1.048 0 0 1.075 3.6 -32.7)"/><use href="#gc0_11" transform="matrix(0.821 0 0 1.437 13.1 -194.9)"/><use href="#gc0_12" transform="matrix(1.062 0 0 0.996 -1.7 1.1)"/><use href="#gc0_13" transform="matrix(1.009 0 0 1.078 1.4 -35.0)"/><use href="#gc0_0" transform="matrix(0.990 0 0 1.640 5.2 -284.9)"/><use href="#gc0_1" transform="matrix(0.812 0 0 1.514 8.6 -229.7)"/><use href="#gc0_2" transform="matrix(0.932 0 0 0.662 6.4 150.3)"/><use href="#gc0_3" transform="matrix(0.923 0 0 0.904 8.6 45.3)"/><use href="#gc0_4" transform="matrix(0.938 0 0 1.282 4.3 -124.7)"/><use href="#gc0_5" transform="matrix(0.937 0 0 1.096 2.6 -39.9)"/><use href="#gc0_6" transform="matrix(0.794 0 0 1.509 11.0 -223.8)"/><use href="#gc0_7" transform="matrix(1.241 0 0 1.201 -6.5 -88.1)"/><use href="#gc0_8" transform="matrix(0.933 0 0 0.781 4.9 96.6)"/><use href="#gc0_9" transform="matrix(1.049 0 0 0.810 2.7 85.4)"/><use href="#gc0_10" transform="matrix(0.902 0 0 1.240 9.4 -106.9)"/><use href="#gc0_11" transform="matrix(0.959 0 0 1.240 6.1 -108.3)"/><use href="#gc0_12" transform="matrix(0.885 0 0 1.265 5.0 -116.5)"/><use href="#gc0_13" transform="matrix(0.981 0 0 1.563 5.7 -250.8)"/><use href="#gc0_0" transform="matrix(0.965 0 0 1.363 4.5 -162.1)"/><use href="#gc0_1" transform="matrix(1.111 0 0 0.788 -1.4 94.6)"/><use href="#gc0_2" transform="matrix(1.034 0 0 1.876 3.1 -391.2)"/><use href="#gc0_3" transform="matrix(1.005 0 0 1.443 0.6 -199.6)"/><use href="#gc0_4" transform="matrix(0.949 0 0 0.383 3.0 276.0)"/><use href="#gc0_5" transform="matrix(0.974 0 0 0.836 3.2 72.5)"/><use href="#gc0_6" transform="matrix(0.994 0 0 0.863 2.0 63.1)"/><use href="#gc0_7" transform="matrix(0.774 0 0 1.829 14.0 -369.6)"/><use href="#gc0_8" transform="matrix(0.963 0 0 0.556 6.6 198.4)"/><use href="#gc0_9" transform="matrix(0.869 0 0 1.710 9.2 -314.9)"/><use href="#gc0_10" transform="matrix(0.874 0 0 1.556 6.8 -248.1)"/><use href="#gc0_11" transform="matrix(1.006 0 0 0.826 4.9 78.8)"/><use href="#gc0_12" transform="matrix(1.075 0 0 0.645 1.8 157.5)"/><use href="#gc0_13" transform="matrix(1.014 0 0 1.487 1.4 -216.9)"/><use href="#gc0_0" transform="matrix(0.993 0 0 1.189 0.9 -86.5)"/><use href="#gc0_1" transform="matrix(0.762 0 0 1.197 10.7 -88.2)"/><use href="#gc0_2" transform="matrix(0.972 0 0 1.128 5.5 -58.4)"/><use href="#gc0_3" transform="matrix(0.795 0 0 1.657 12.7 -292.0)"/><use href="#gc0_4" transform="matrix(0.930 0 0 1.374 7.7 -164.8)"/><use href="#gc0_5" transform="matrix(0.967 0 0 1.635 4.0 -285.5)"/><use href="#gc0_6" transform="matrix(0.950 0 0 0.949 6.3 25.5)"/><use href="#gc0_7" transform="matrix(0.969 0 0 0.861 2.3 63.3)"/><use href="#gc0_8" transform="matrix(0.910 0 0 1.052 5.2 -25.2)"/><use href="#gc0_9" transform="matrix(1.025 0 0 1.577 1.2 -256.5)"/><use href="#gc0_10" transform="matrix(0.903 0 0 1.039 5.0 -15.7)"/><use href="#gc0_11" transform="matrix(0.886 0 0 1.393 8.4 -174.4)"/><use href="#gc0_12" transform="matrix(1.033 0 0 1.249 1.1 -111.8)"/><use href="#gc0_13" transform="matrix(1.094 0 0 1.263 1.7 -118.3)"/><use href="#gc0_0" transform="matrix(0.849 0 0 1.293 8.3 -131.1)"/><use href="#gc0_1" transform="matrix(0.961 0 0 1.592 3.2 -261.3)"/><use href="#gc0_2" transform="matrix(0.882 0 0 1.377 9.3 -168.1)"/><use href="#gc0_3" transform="matrix(0.902 0 0 1.411 9.8 -183.4)"/><use href="#gc0_4" transform="matrix(0.932 0 0 1.330 8.7 -145.7)"/><use href="#gc0_5" transform="matrix(0.885 0 0 1.627 7.8 -280.3)"/></g>
<g clip-path="url(#cb0)" fill="none" stroke="#cacaca" stroke-width="1"><use href="#gc1_0" transform="matrix(0.964 0 0 1.061 1.5 -33.9)"/><use href="#gc1_1" transform="matrix(1.065 0 0 0.962 -2.7 17.6)"/><use href="#gc1_2" transform="matrix(1.004 0 0 1.333 -0.2 -181.9)"/><use href="#gc1_3" transform="matrix(0.988 0 0 1.211 0.5 -118.8)"/><use href="#gc1_4" transform="matrix(1.022 0 0 1.166 -0.9 -92.2)"/><use href="#gc1_5" transform="matrix(0.966 0 0 1.185 1.4 -104.4)"/><use href="#gc1_6" transform="matrix(1.028 0 0 1.662 -1.1 -365.4)"/><use href="#gc1_7" transform="matrix(1.010 0 0 1.012 -0.4 -6.7)"/><use href="#gc1_8" transform="matrix(0.944 0 0 0.815 2.3 101.8)"/><use href="#gc1_9" transform="matrix(0.941 0 0 0.907 2.4 52.6)"/><use href="#gc1_10" transform="matrix(1.035 0 0 1.318 -1.4 -174.0)"/><use href="#gc1_11" transform="matrix(0.979 0 0 0.391 0.8 335.4)"/><use href="#gc1_0" transform="matrix(0.944 0 0 1.442 2.2 -241.8)"/><use href="#gc1_1" transform="matrix(1.047 0 0 0.537 -1.9 254.0)"/><use href="#gc1_2" transform="matrix(1.000 0 0 0.939 -0.0 32.1)"/><use href="#gc1_3" transform="matrix(1.015 0 0 1.094 -0.6 -50.5)"/><use href="#gc1_4" transform="matrix(0.988 0 0 0.818 0.5 97.6)"/><use href="#gc1_5" transform="matrix(0.953 0 0 0.457 1.9 298.7)"/><use href="#gc1_6" transform="matrix(1.102 0 0 1.119 -4.1 -63.4)"/><use href="#gc1_7" transform="matrix(1.029 0 0 1.187 -1.2 -104.6)"/><use href="#gc1_8" transform="matrix(0.969 0 0 1.014 1.2 -8.9)"/><use href="#gc1_9" transform="matrix(1.039 0 0 0.965 -1.6 16.3)"/><use href="#gc1_10" transform="matrix(1.045 0 0 0.978 -1.8 10.1)"/><use href="#gc1_11" transform="matrix(1.054 0 0 0.374 -2.2 346.7)"/><use href="#gc1_0" transform="matrix(1.004 0 0 1.570 -0.2 -314.8)"/><use href="#gc1_1" transform="matrix(0.984 0 0 0.998 0.7 5.3)"/><use href="#gc1_2" transform="matrix(0.984 0 0 0.876 0.6 68.7)"/><use href="#gc1_3" transform="matrix(1.011 0 0 1.363 -0.4 -201.1)"/><use href="#gc1_4" transform="matrix(1.067 0 0 0.975 -2.7 12.4)"/><use href="#gc1_5" transform="matrix(0.966 0 0 0.802 1.4 106.6)"/><use href="#gc1_6" transform="matrix(1.019 0 0 1.318 -0.8 -176.1)"/><use href="#gc1_7" transform="matrix(1.009 0 0 1.383 -0.3 -210.0)"/><use href="#gc1_8" transform="matrix(0.967 0 0 0.609 1.3 214.7)"/><use href="#gc1_9" transform="matrix(0.973 0 0 0.597 1.1 225.3)"/><use href="#gc1_10" transform="matrix(0.897 0 0 0.644 4.2 194.0)"/><use href="#gc1_11" transform="matrix(1.054 0 0 0.679 -2.2 178.3)"/><use href="#gc1_0" transform="matrix(1.058 0 0 1.444 -2.4 -244.7)"/><use href="#gc1_1" transform="matrix(1.000 0 0 0.879 0.0 65.1)"/><use href="#gc1_2" transform="matrix(0.996 0 0 0.875 0.1 68.8)"/><use href="#gc1_3" transform="matrix(0.947 0 0 0.829 2.1 96.7)"/><use href="#gc1_4" transform="matrix(1.071 0 0 0.626 -2.9 204.5)"/><use href="#gc1_5" transform="matrix(1.039 0 0 0.787 -1.6 118.7)"/><use href="#gc1_6" transform="matrix(1.054 0 0 0.964 -2.2 19.8)"/><use href="#gc1_7" transform="matrix(1.001 0 0 1.091 -0.0 -47.8)"/><use href="#gc1_8" transform="matrix(0.957 0 0 0.675 1.7 180.8)"/><use href="#gc1_9" transform="matrix(0.945 0 0 1.668 2.2 -367.7)"/><use href="#gc1_10" transform="matrix(0.997 0 0 1.274 0.1 -150.4)"/><use href="#gc1_11" transform="matrix(0.960 0 0 1.269 1.6 -148.8)"/><use href="#gc1_0" transform="matrix(1.020 0 0 0.849 -0.8 85.9)"/><use href="#gc1_1" transform="matrix(1.022 0 0 0.795 -0.9 112.6)"/><use href="#gc1_2" transform="matrix(0.967 0 0 1.077 1.4 -40.2)"/><use href="#gc1_3" transform="matrix(1.073 0 0 0.944 -2.9 33.2)"/><use href="#gc1_4" transform="matrix(1.091 0 0 0.593 -3.7 227.2)"/><use href="#gc1_5" transform="matrix(1.058 0 0 0.850 -2.4 84.7)"/><use href="#gc1_6" transform="matrix(0.905 0 0 0.688 3.8 172.1)"/><use href="#gc1_7" transform="matrix(0.887 0 0 0.613 4.6 212.2)"/><use href="#gc1_8" transform="matrix(1.011 0 0 0.735 -0.5 143.6)"/><use href="#gc1_9" transform="matrix(0.983 0 0 1.286 0.7 -159.1)"/><use href="#gc1_10" transform="matrix(0.955 0 0 1.086 1.8 -47.6)"/><use href="#gc1_11" transform="matrix(0.953 0 0 0.961 1.9 20.2)"/><use href="#gc1_0" transform="matrix(1.031 0 0 1.962 -1.3 -531.2)"/><use href="#gc1_1" transform="matrix(1.006 0 0 1.366 -0.2 -201.1)"/><use href="#gc1_2" transform="matrix(1.018 0 0 1.773 -0.7 -424.7)"/><use href="#gc1_3" transform="matrix(1.015 0 0 1.026 -0.6 -18.0)"/><use href="#gc1_4" transform="matrix(0.977 0 0 0.764 0.9 130.4)"/><use href="#gc1_5" transform="matrix(1.038 0 0 1.250 -1.5 -137.6)"/><use href="#gc1_6" transform="matrix(1.000 0 0 0.852 -0.0 83.9)"/><use href="#gc1_7" transform="matrix(1.100 0 0 0.883 -4.1 67.0)"/><use href="#gc1_8" transform="matrix(0.992 0 0 0.666 0.3 185.3)"/><use href="#gc1_9" transform="matrix(1.031 0 0 1.481 -1.3 -265.6)"/><use href="#gc1_10" transform="matrix(1.045 0 0 0.983 -1.8 8.5)"/><use href="#gc1_11" transform="matrix(1.026 0 0 1.253 -1.0 -138.1)"/><use href="#gc1_0" transform="matrix(1.023 0 0 1.397 -0.9 -220.3)"/><use href="#gc1_1" transform="matrix(0.969 0 0 1.056 1.2 -27.9)"/><use href="#gc1_2" transform="matrix(0.952 0 0 1.113 1.9 -62.1)"/></g>
<g clip-path="url(#cb1)" fill="none" stroke="#cacaca" stroke-width="1"><use href="#gc2_0" transform="matrix(0.972 0 0 0.764 -0.7 164.8)"/><use href="#gc2_1" transform="matrix(1.021 0 0 0.966 4.0 23.9)"/><use href="#gc2_2" transform="matrix(0.985 0 0 1.095 4.4 -66.3)"/><use href="#gc2_3" transform="matrix(1.021 0 0 1.031 -2.7 -19.7)"/><use href="#gc2_4" transform="matrix(0.982 0 0 1.185 2.3 -128.8)"/><use href="#gc2_5" transform="matrix(1.003 0 0 1.258 1.9 -181.5)"/><use href="#gc2_6" transform="matrix(1.034 0 0 1.194 -2.7 -136.7)"/><use href="#gc2_7" transform="matrix(0.982 0 0 1.428 -0.4 -299.2)"/><use href="#gc2_8" transform="matrix(1.015 0 0 0.953 -2.6 31.6)"/><use href="#gc2_9" transform="matrix(1.124 0 0 0.536 0.9 325.5)"/><use href="#gc2_10" transform="matrix(1.032 0 0 0.459 -0.2 381.7)"/><use href="#gc2_11" transform="matrix(0.925 0 0 1.297 3.6 -210.8)"/><use href="#gc2_12" transform="matrix(1.011 0 0 0.798 0.8 140.8)"/><use href="#gc2_13" transform="matrix(0.997 0 0 0.969 -0.7 21.6)"/><use href="#gc2_14" transform="matrix(1.045 0 0 0.734 -2.0 187.7)"/><use href="#gc2_15" transform="matrix(1.000 0 0 1.268 3.5 -186.9)"/><use href="#gc2_0" transform="matrix(1.012 0 0 0.300 4.8 493.2)"/><use href="#gc2_1" transform="matrix(0.945 0 0 1.407 3.0 -289.1)"/><use href="#gc2_2" transform="matrix(0.975 0 0 0.699 6.2 211.6)"/><use href="#gc2_3" transform="matrix(0.950 0 0 0.590 4.6 288.3)"/><use href="#gc2_4" transform="matrix(1.021 0 0 1.410 -2.3 -289.7)"/><use href="#gc2_5" transform="matrix(0.984 0 0 1.049 2.5 -33.8)"/><use href="#gc2_6" transform="matrix(1.036 0 0 1.055 -2.9 -37.1)"/><use href="#gc2_7" transform="matrix(0.935 0 0 1.206 5.8 -144.9)"/><use href="#gc2_8" transform="matrix(1.048 0 0 0.904 2.7 67.6)"/><use href="#gc2_9" transform="matrix(1.033 0 0 1.301 -1.1 -211.9)"/><use href="#gc2_10" transform="matrix(0.879 0 0 1.372 5.9 -264.4)"/><use href="#gc2_11" transform="matrix(1.128 0 0 0.906 0.7 64.9)"/><use href="#gc2_12" transform="matrix(0.973 0 0 0.954 0.8 31.9)"/><use href="#gc2_13" transform="matrix(1.040 0 0 0.966 -2.8 25.0)"/><use href="#gc2_14" transform="matrix(1.034 0 0 0.816 4.1 130.6)"/><use href="#gc2_15" transform="matrix(0.978 0 0 1.447 5.2 -316.1)"/><use href="#gc2_0" transform="matrix(1.029 0 0 0.922 2.9 54.7)"/><use href="#gc2_1" transform="matrix(1.107 0 0 0.691 -5.2 217.4)"/><use href="#gc2_2" transform="matrix(0.953 0 0 0.991 7.5 6.5)"/><use href="#gc2_3" transform="matrix(1.056 0 0 0.658 -2.9 240.7)"/><use href="#gc2_4" transform="matrix(1.160 0 0 0.476 -1.6 369.8)"/><use href="#gc2_5" transform="matrix(0.970 0 0 1.329 1.0 -231.4)"/><use href="#gc2_6" transform="matrix(1.020 0 0 0.734 3.2 187.8)"/><use href="#gc2_7" transform="matrix(1.037 0 0 0.300 0.2 493.4)"/><use href="#gc2_8" transform="matrix(1.026 0 0 0.896 1.3 73.1)"/><use href="#gc2_9" transform="matrix(1.136 0 0 0.985 -4.9 10.7)"/><use href="#gc2_10" transform="matrix(0.976 0 0 1.184 -0.5 -130.1)"/><use href="#gc2_11" transform="matrix(0.973 0 0 0.894 5.5 74.6)"/><use href="#gc2_12" transform="matrix(0.990 0 0 0.775 -0.6 159.9)"/><use href="#gc2_13" transform="matrix(0.984 0 0 1.087 2.6 -61.6)"/><use href="#gc2_14" transform="matrix(0.991 0 0 1.496 -1.1 -349.0)"/><use href="#gc2_15" transform="matrix(0.966 0 0 0.554 6.9 313.6)"/><use href="#gc2_0" transform="matrix(0.950 0 0 0.762 7.6 169.2)"/><use href="#gc2_1" transform="matrix(0.990 0 0 1.114 3.6 -80.4)"/><use href="#gc2_2" transform="matrix(1.013 0 0 0.786 -2.2 151.1)"/><use href="#gc2_3" transform="matrix(0.947 0 0 0.936 6.7 43.9)"/><use href="#gc2_4" transform="matrix(1.031 0 0 1.283 1.4 -198.3)"/><use href="#gc2_5" transform="matrix(1.036 0 0 0.767 -0.6 165.6)"/><use href="#gc2_6" transform="matrix(1.117 0 0 1.087 -5.3 -60.4)"/><use href="#gc2_7" transform="matrix(1.054 0 0 1.352 -1.3 -249.9)"/><use href="#gc2_8" transform="matrix(0.977 0 0 0.805 5.9 138.8)"/><use href="#gc2_9" transform="matrix(0.947 0 0 1.315 4.9 -222.1)"/><use href="#gc2_10" transform="matrix(0.877 0 0 0.869 8.4 93.4)"/><use href="#gc2_11" transform="matrix(1.059 0 0 0.846 -3.6 109.8)"/><use href="#gc2_12" transform="matrix(0.979 0 0 0.770 2.3 161.7)"/><use href="#gc2_13" transform="matrix(1.000 0 0 0.800 6.0 144.8)"/><use href="#gc2_14" transform="matrix(0.989 0 0 1.162 -1.5 -115.1)"/><use href="#gc2_15" transform="matrix(0.979 0 0 0.554 4.8 314.7)"/><use href="#gc2_0" transform="matrix(1.108 0 0 0.657 -3.6 240.9)"/><use href="#gc2_1" transform="matrix(0.944 0 0 1.180 6.1 -125.7)"/><use href="#gc2_2" transform="matrix(1.023 0 0 0.928 -0.9 49.1)"/><use href="#gc2_3" transform="matrix(1.022 0 0 0.845 4.8 108.1)"/><use href="#gc2_4" transform="matrix(0.947 0 0 1.130 3.1 -92.5)"/><use href="#gc2_5" transform="matrix(1.080 0 0 1.181 -2.4 -126.8)"/><use href="#gc2_6" transform="matrix(0.993 0 0 1.080 -0.7 -57.6)"/><use href="#gc2_7" transform="matrix(0.898 0 0 1.207 5.6 -147.9)"/><use href="#gc2_8" transform="matrix(0.935 0 0 1.165 6.6 -117.2)"/><use href="#gc2_9" transform="matrix(1.051 0 0 0.791 2.5 146.6)"/><use href="#gc2_10" transform="matrix(0.954 0 0 0.694 1.5 215.3)"/><use href="#gc2_11" transform="matrix(0.878 0 0 0.793 5.2 147.3)"/><use href="#gc2_12" transform="matrix(0.994 0 0 0.767 2.5 163.5)"/><use href="#gc2_13" transform="matrix(0.929 0 0 0.930 2.0 47.4)"/><use href="#gc2_14" transform="matrix(0.918 0 0 1.174 4.0 -121.3)"/><use href="#gc2_15" transform="matrix(1.030 0 0 0.853 4.1 105.2)"/><use href="#gc2_0" transform="matrix(0.981 0 0 0.885 4.6 82.1)"/><use href="#gc2_1" transform="matrix(1.034 0 0 0.999 3.8 -0.2)"/><use href="#gc2_2" transform="matrix(1.042 0 0 1.218 -0.4 -152.1)"/><use href="#gc2_3" transform="matrix(0.900 0 0 0.804 9.5 138.0)"/><use href="#gc2_4" transform="matrix(1.056 0 0 1.653 1.7 -460.4)"/><use href="#gc2_5" transform="matrix(1.047 0 0 0.775 -1.6 158.3)"/><use href="#gc2_6" transform="matrix(1.013 0 0 0.948 3.8 36.7)"/><use href="#gc2_7" transform="matrix(1.026 0 0 1.590 1.4 -419.4)"/><use href="#gc2_8" transform="matrix(0.965 0 0 1.216 1.3 -151.9)"/><use href="#gc2_9" transform="matrix(0.923 0 0 0.902 5.2 69.5)"/></g>
<g clip-path="url(#cb1)" fill="none" stroke="#cacaca" stroke-width="1"><use href="#gc3_0" transform="matrix(1.115 0 0 0.862 -4.7 110.2)"/><use href="#gc3_1" transform="matrix(0.828 0 0 0.550 7.0 363.8)"/><use href="#gc3_2" transform="matrix(0.877 0 0 1.241 5.0 -193.6)"/><use href="#gc3_3" transform="matrix(0.974 0 0 0.525 1.1 387.3)"/><use href="#gc3_4" transform="matrix(1.036 0 0 1.300 -1.4 -243.7)"/><use href="#gc3_5" transform="matrix(0.943 0 0 1.403 2.3 -327.5)"/><use href="#gc3_6" transform="matrix(0.865 0 0 0.960 5.5 31.9)"/><use href="#gc3_7" transform="matrix(0.960 0 0 1.288 1.6 -232.9)"/><use href="#gc3_8" transform="matrix(1.018 0 0 1.352 -0.7 -288.5)"/><use href="#gc3_9" transform="matrix(1.062 0 0 0.788 -2.5 175.2)"/><use href="#gc3_10" transform="matrix(1.066 0 0 1.272 -2.7 -220.7)"/><use href="#gc3_11" transform="matrix(0.960 0 0 1.046 1.6 -37.0)"/><use href="#gc3_0" transform="matrix(0.994 0 0 1.101 0.2 -78.9)"/><use href="#gc3_1" transform="matrix(1.027 0 0 1.478 -1.1 -388.8)"/><use href="#gc3_2" transform="matrix(1.044 0 0 0.960 -1.8 29.9)"/><use href="#gc3_3" transform="matrix(0.987 0 0 1.333 0.5 -268.9)"/><use href="#gc3_4" transform="matrix(1.053 0 0 0.801 -2.2 159.0)"/><use href="#gc3_5" transform="matrix(0.983 0 0 0.773 0.7 186.7)"/><use href="#gc3_6" transform="matrix(1.034 0 0 1.230 -1.4 -190.6)"/><use href="#gc3_7" transform="matrix(1.074 0 0 1.248 -3.0 -201.9)"/><use href="#gc3_8" transform="matrix(0.957 0 0 1.021 1.7 -15.0)"/><use href="#gc3_9" transform="matrix(0.994 0 0 1.065 0.2 -51.6)"/><use href="#gc3_10" transform="matrix(0.940 0 0 1.004 2.4 -1.2)"/><use href="#gc3_11" transform="matrix(0.952 0 0 1.002 1.9 -3.4)"/><use href="#gc3_0" transform="matrix(1.008 0 0 0.886 -0.3 91.4)"/><use href="#gc3_1" transform="matrix(0.904 0 0 0.937 3.9 51.7)"/><use href="#gc3_2" transform="matrix(0.950 0 0 0.778 2.0 183.3)"/><use href="#gc3_3" transform="matrix(1.052 0 0 0.824 -2.1 141.8)"/><use href="#gc3_4" transform="matrix(1.058 0 0 0.654 -2.4 278.0)"/><use href="#gc3_5" transform="matrix(1.075 0 0 1.002 -3.0 -1.5)"/><use href="#gc3_6" transform="matrix(0.996 0 0 0.944 0.2 42.8)"/><use href="#gc3_7" transform="matrix(0.990 0 0 1.357 0.4 -293.6)"/><use href="#gc3_8" transform="matrix(0.928 0 0 0.607 2.9 320.1)"/><use href="#gc3_9" transform="matrix(1.081 0 0 1.392 -3.3 -319.7)"/><use href="#gc3_10" transform="matrix(0.963 0 0 0.832 1.5 136.9)"/><use href="#gc3_11" transform="matrix(1.050 0 0 0.446 -2.0 453.1)"/><use href="#gc3_0" transform="matrix(1.087 0 0 1.337 -3.5 -276.1)"/><use href="#gc3_1" transform="matrix(1.039 0 0 0.757 -1.6 195.9)"/><use href="#gc3_2" transform="matrix(1.043 0 0 1.266 -1.8 -217.4)"/><use href="#gc3_3" transform="matrix(1.087 0 0 1.270 -3.5 -221.1)"/><use href="#gc3_4" transform="matrix(1.016 0 0 1.241 -0.7 -195.0)"/><use href="#gc3_5" transform="matrix(0.944 0 0 1.375 2.3 -305.1)"/><use href="#gc3_6" transform="matrix(0.931 0 0 0.897 2.8 82.4)"/><use href="#gc3_7" transform="matrix(1.073 0 0 0.849 -3.0 119.1)"/><use href="#gc3_8" transform="matrix(1.007 0 0 0.660 -0.3 273.3)"/><use href="#gc3_9" transform="matrix(0.987 0 0 1.040 0.5 -31.9)"/><use href="#gc3_10" transform="matrix(0.983 0 0 1.194 0.7 -158.2)"/><use href="#gc3_11" transform="matrix(1.038 0 0 0.408 -1.5 484.0)"/><use href="#gc3_0" transform="matrix(0.954 0 0 0.946 1.9 46.8)"/><use href="#gc3_1" transform="matrix(0.894 0 0 0.696 4.3 247.7)"/><use href="#gc3_2" transform="matrix(1.045 0 0 0.940 -1.8 49.9)"/><use href="#gc3_3" transform="matrix(0.982 0 0 1.113 0.7 -96.1)"/><use href="#gc3_4" transform="matrix(1.032 0 0 0.869 -1.3 105.2)"/><use href="#gc3_5" transform="matrix(1.016 0 0 1.044 -0.7 -35.4)"/><use href="#gc3_6" transform="matrix(0.869 0 0 0.785 5.3 173.1)"/><use href="#gc3_7" transform="matrix(0.985 0 0 0.719 0.6 228.7)"/><use href="#gc3_8" transform="matrix(1.096 0 0 1.076 -3.9 -62.5)"/><use href="#gc3_9" transform="matrix(0.952 0 0 1.145 2.0 -116.6)"/><use href="#gc3_10" transform="matrix(0.992 0 0 1.410 0.3 -333.7)"/><use href="#gc3_11" transform="matrix(0.935 0 0 0.820 2.6 142.1)"/><use href="#gc3_0" transform="matrix(1.022 0 0 1.371 -0.9 -302.4)"/><use href="#gc3_1" transform="matrix(1.006 0 0 1.341 -0.2 -277.5)"/><use href="#gc3_2" transform="matrix(0.996 0 0 0.634 0.2 296.0)"/><use href="#gc3_3" transform="matrix(1.093 0 0 0.924 -3.8 66.3)"/><use href="#gc3_4" transform="matrix(0.986 0 0 1.087 0.6 -70.1)"/><use href="#gc3_5" transform="matrix(0.994 0 0 0.925 0.3 62.7)"/><use href="#gc3_6" transform="matrix(1.079 0 0 0.906 -3.2 77.8)"/><use href="#gc3_7" transform="matrix(0.935 0 0 1.023 2.6 -17.6)"/><use href="#gc3_8" transform="matrix(1.049 0 0 1.247 -2.0 -199.4)"/><use href="#gc3_9" transform="matrix(0.919 0 0 1.536 3.3 -437.4)"/><use href="#gc3_10" transform="matrix(1.029 0 0 0.898 -1.2 86.9)"/><use href="#gc3_11" transform="matrix(0.999 0 0 0.877 0.0 98.4)"/><use href="#gc3_0" transform="matrix(1.034 0 0 0.870 -1.4 105.1)"/><use href="#gc3_1" transform="matrix(0.979 0 0 1.194 0.8 -159.4)"/><use href="#gc3_2" transform="matrix(1.055 0 0 0.798 -2.2 165.2)"/><use href="#gc3_3" transform="matrix(1.001 0 0 0.509 -0.0 396.5)"/><use href="#gc3_4" transform="matrix(0.924 0 0 1.256 3.1 -210.4)"/><use href="#gc3_5" transform="matrix(0.970 0 0 0.971 1.2 19.9)"/><use href="#gc3_6" transform="matrix(1.043 0 0 0.824 -1.7 145.1)"/><use href="#gc3_7" transform="matrix(0.967 0 0 0.952 1.3 39.6)"/></g>
<g clip-path="url(#cb2)" fill="none" stroke="#cacaca" stroke-width="1"><use href="#gc4_0" transform="matrix(1.143 0 0 1.157 -5.8 -162.0)"/><use href="#gc4_1" transform="matrix(0.940 0 0 1.468 2.4 -486.3)"/><use href="#gc4_2" transform="matrix(1.026 0 0 1.114 -1.0 -124.3)"/><use href="#gc4_3" transform="matrix(0.791 0 0 1.237 8.5 -257.8)"/><use href="#gc4_4" transform="matrix(0.957 0 0 0.362 1.7 662.5)"/><use href="#gc4_5" transform="matrix(1.006 0 0 0.875 -0.2 135.9)"/><use href="#gc4_6" transform="matrix(1.126 0 0 0.783 -5.1 232.2)"/><use href="#gc4_7" transform="matrix(1.016 0 0 1.213 -0.7 -219.0)"/><use href="#gc4_8" transform="matrix(1.087 0 0 0.300 -3.5 727.6)"/><use href="#gc4_9" transform="matrix(1.011 0 0 0.482 -0.4 542.0)"/><use href="#gc4_10" transform="matrix(1.113 0 0 0.654 -4.6 354.0)"/><use href="#gc4_11" transform="matrix(1.137 0 0 0.375 -5.6 644.3)"/><use href="#gc4_12" transform="matrix(0.965 0 0 0.785 1.4 229.3)"/><use href="#gc4_13" transform="matrix(0.999 0 0 1.339 0.1 -350.6)"/><use href="#gc4_14" transform="matrix(1.138 0 0 0.709 -5.6 297.5)"/><use href="#gc4_15" transform="matrix(1.283 0 0 0.300 -11.5 721.4)"/><use href="#gc4_0" transform="matrix(0.893 0 0 1.415 4.3 -428.7)"/><use href="#gc4_1" transform="matrix(0.939 0 0 1.179 2.5 -191.0)"/><use href="#gc4_2" transform="matrix(1.042 0 0 0.857 -1.7 150.0)"/><use href="#gc4_3" transform="matrix(1.030 0 0 0.528 -1.2 497.2)"/><use href="#gc4_4" transform="matrix(1.155 0 0 2.022 -6.3 -1049.6)"/><use href="#gc4_5" transform="matrix(1.022 0 0 0.982 -0.9 20.7)"/><use href="#gc4_6" transform="matrix(0.759 0 0 1.156 9.8 -160.8)"/><use href="#gc4_7" transform="matrix(1.242 0 0 0.351 -9.8 667.2)"/><use href="#gc4_8" transform="matrix(1.158 0 0 1.063 -6.4 -64.8)"/><use href="#gc4_9" transform="matrix(1.306 0 0 0.669 -12.4 345.6)"/><use href="#gc4_10" transform="matrix(0.881 0 0 1.411 4.8 -417.4)"/><use href="#gc4_11" transform="matrix(1.020 0 0 1.318 -0.8 -323.2)"/><use href="#gc4_12" transform="matrix(0.882 0 0 0.557 4.8 455.4)"/><use href="#gc4_13" transform="matrix(0.824 0 0 0.910 7.1 89.4)"/><use href="#gc4_14" transform="matrix(1.119 0 0 1.163 -4.8 -164.2)"/><use href="#gc4_15" transform="matrix(0.945 0 0 0.589 2.2 426.6)"/><use href="#gc4_0" transform="matrix(0.884 0 0 1.283 4.7 -287.9)"/><use href="#gc4_1" transform="matrix(0.847 0 0 1.275 6.2 -288.5)"/><use href="#gc4_2" transform="matrix(0.871 0 0 1.871 5.2 -893.5)"/><use href="#gc4_3" transform="matrix(0.845 0 0 0.977 6.3 27.5)"/><use href="#gc4_4" transform="matrix(0.993 0 0 0.410 0.3 613.0)"/><use href="#gc4_5" transform="matrix(0.788 0 0 0.877 8.6 125.9)"/><use href="#gc4_6" transform="matrix(1.030 0 0 1.504 -1.2 -516.2)"/><use href="#gc4_7" transform="matrix(0.922 0 0 1.331 3.2 -344.9)"/><use href="#gc4_8" transform="matrix(1.295 0 0 0.300 -11.9 721.2)"/><use href="#gc4_9" transform="matrix(0.993 0 0 1.816 0.3 -846.1)"/><use href="#gc4_10" transform="matrix(1.021 0 0 0.855 -0.9 152.1)"/><use href="#gc4_11" transform="matrix(1.048 0 0 0.672 -1.9 338.6)"/><use href="#gc4_12" transform="matrix(0.750 0 0 1.289 10.1 -299.8)"/><use href="#gc4_13" transform="matrix(0.964 0 0 1.079 1.5 -86.9)"/><use href="#gc4_14" transform="matrix(0.921 0 0 0.300 3.2 729.5)"/><use href="#gc4_15" transform="matrix(1.019 0 0 0.300 -0.8 717.0)"/><use href="#gc4_0" transform="matrix(0.979 0 0 0.935 0.8 75.4)"/><use href="#gc4_1" transform="matrix(1.018 0 0 0.954 -0.7 58.3)"/><use href="#gc4_2" transform="matrix(1.135 0 0 0.768 -5.5 240.1)"/><use href="#gc4_3" transform="matrix(0.907 0 0 1.178 3.8 -189.6)"/><use href="#gc4_4" transform="matrix(1.055 0 0 2.007 -2.2 -1053.5)"/><use href="#gc4_5" transform="matrix(1.088 0 0 0.835 -3.6 176.1)"/><use href="#gc4_6" transform="matrix(1.065 0 0 0.800 -2.6 206.2)"/><use href="#gc4_7" transform="matrix(0.868 0 0 1.086 5.4 -95.2)"/><use href="#gc4_8" transform="matrix(0.815 0 0 1.525 7.5 -547.1)"/><use href="#gc4_9" transform="matrix(1.106 0 0 0.800 -4.3 208.9)"/><use href="#gc4_10" transform="matrix(1.048 0 0 1.090 -1.9 -105.7)"/><use href="#gc4_11" transform="matrix(1.134 0 0 0.304 -5.4 725.5)"/><use href="#gc4_12" transform="matrix(1.015 0 0 1.611 -0.6 -627.4)"/><use href="#gc4_13" transform="matrix(1.268 0 0 1.519 -10.8 -540.7)"/><use href="#gc4_14" transform="matrix(1.112 0 0 0.300 -4.5 722.9)"/><use href="#gc4_15" transform="matrix(0.906 0 0 1.645 3.8 -665.9)"/><use href="#gc4_0" transform="matrix(1.119 0 0 0.805 -4.8 209.2)"/><use href="#gc4_1" transform="matrix(0.983 0 0 0.921 0.7 88.0)"/><use href="#gc4_2" transform="matrix(0.833 0 0 0.511 6.8 497.3)"/><use href="#gc4_3" transform="matrix(1.039 0 0 0.986 -1.6 14.4)"/><use href="#gc4_4" transform="matrix(1.143 0 0 1.591 -5.8 -612.6)"/><use href="#gc4_5" transform="matrix(1.196 0 0 1.195 -7.9 -193.9)"/><use href="#gc4_6" transform="matrix(0.994 0 0 0.694 0.3 317.0)"/><use href="#gc4_7" transform="matrix(0.940 0 0 1.932 2.4 -973.8)"/><use href="#gc4_8" transform="matrix(0.855 0 0 1.140 5.9 -149.3)"/><use href="#gc4_9" transform="matrix(1.009 0 0 0.618 -0.4 388.4)"/><use href="#gc4_10" transform="matrix(1.002 0 0 1.384 -0.1 -388.8)"/><use href="#gc4_11" transform="matrix(1.060 0 0 0.775 -2.4 233.4)"/><use href="#gc4_12" transform="matrix(1.105 0 0 1.191 -4.3 -197.6)"/><use href="#gc4_13" transform="matrix(1.037 0 0 0.995 -1.5 11.3)"/><use href="#gc4_14" transform="matrix(0.874 0 0 1.688 5.1 -713.8)"/><use href="#gc4_15" transform="matrix(1.105 0 0 1.569 -4.3 -593.6)"/></g>
<g clip-path="url(#cb2)" fill="none" stroke="#cacaca" stroke-width="1"><use href="#gc5_0" transform="matrix(0.869 0 0 1.093 5.3 -108.5)"/><use href="#gc5_1" transform="matrix(0.909 0 0 0.300 3.7 787.7)"/><use href="#gc5_2" transform="matrix(0.904 0 0 1.523 3.9 -579.3)"/><use href="#gc5_3" transform="matrix(0.814 0 0 1.614 7.5 -683.8)"/><use href="#gc5_4" transform="matrix(1.040 0 0 1.468 -1.6 -528.6)"/><use href="#gc5_5" transform="matrix(1.061 0 0 0.715 -2.5 319.6)"/><use href="#gc5_6" transform="matrix(0.916 0 0 1.562 3.4 -634.5)"/><use href="#gc5_7" transform="matrix(1.091 0 0 1.019 -3.7 -15.6)"/><use href="#gc5_8" transform="matrix(1.016 0 0 0.726 -0.7 303.2)"/><use href="#gc5_9" transform="matrix(1.041 0 0 0.721 -1.7 315.1)"/><use href="#gc5_10" transform="matrix(1.153 0 0 1.119 -6.2 -136.8)"/><use href="#gc5_11" transform="matrix(1.244 0 0 1.037 -9.9 -53.8)"/><use href="#gc5_12" transform="matrix(0.992 0 0 1.050 0.3 -62.7)"/><use href="#gc5_13" transform="matrix(1.064 0 0 1.003 -2.6 -6.7)"/><use href="#gc5_14" transform="matrix(0.941 0 0 0.891 2.4 116.9)"/><use href="#gc5_15" transform="matrix(1.089 0 0 0.774 -3.6 253.4)"/><use href="#gc5_0" transform="matrix(1.190 0 0 1.610 -7.7 -699.4)"/><use href="#gc5_1" transform="matrix(1.295 0 0 0.837 -11.9 193.7)"/><use href="#gc5_2" transform="matrix(1.144 0 0 0.826 -5.8 197.1)"/><use href="#gc5_3" transform="matrix(0.994 0 0 0.960 0.2 52.7)"/><use href="#gc5_4" transform="matrix(1.151 0 0 0.722 -6.1 313.2)"/><use href="#gc5_5" transform="matrix(1.056 0 0 1.412 -2.3 -466.2)"/><use href="#gc5_6" transform="matrix(0.941 0 0 0.300 2.4 789.6)"/><use href="#gc5_7" transform="matrix(0.988 0 0 1.075 0.5 -78.8)"/><use href="#gc5_8" transform="matrix(1.037 0 0 0.741 -1.5 299.2)"/><use href="#gc5_9" transform="matrix(0.955 0 0 0.763 1.8 266.2)"/><use href="#gc5_10" transform="matrix(1.216 0 0 0.891 -8.7 122.1)"/><use href="#gc5_11" transform="matrix(0.842 0 0 0.655 6.4 383.6)"/><use href="#gc5_12" transform="matrix(0.928 0 0 0.789 2.9 238.1)"/><use href="#gc5_13" transform="matrix(0.849 0 0 0.690 6.1 351.2)"/><use href="#gc5_14" transform="matrix(0.897 0 0 1.683 4.2 -770.4)"/><use href="#gc5_15" transform="matrix(1.176 0 0 0.585 -7.1 474.2)"/><use href="#gc5_0" transform="matrix(1.031 0 0 0.323 -1.2 761.7)"/><use href="#gc5_1" transform="matrix(0.991 0 0 1.662 0.3 -751.7)"/><use href="#gc5_2" transform="matrix(0.961 0 0 0.420 1.6 654.4)"/><use href="#gc5_3" transform="matrix(1.199 0 0 1.530 -8.1 -603.2)"/><use href="#gc5_4" transform="matrix(0.994 0 0 0.743 0.2 304.0)"/><use href="#gc5_5" transform="matrix(0.991 0 0 0.757 0.3 268.9)"/><use href="#gc5_6" transform="matrix(0.750 0 0 0.823 10.1 197.3)"/><use href="#gc5_7" transform="matrix(0.794 0 0 1.387 8.3 -439.5)"/><use href="#gc5_8" transform="matrix(0.912 0 0 1.171 3.6 -189.3)"/><use href="#gc5_9" transform="matrix(0.905 0 0 0.938 3.9 69.1)"/><use href="#gc5_10" transform="matrix(0.988 0 0 1.007 0.5 -9.6)"/><use href="#gc5_11" transform="matrix(1.029 0 0 0.363 -1.2 719.6)"/><use href="#gc5_12" transform="matrix(0.851 0 0 0.938 6.0 71.1)"/><use href="#gc5_13" transform="matrix(0.945 0 0 1.003 2.2 0.3)"/><use href="#gc5_14" transform="matrix(0.980 0 0 1.307 0.8 -350.4)"/><use href="#gc5_15" transform="matrix(1.088 0 0 1.298 -3.5 -332.3)"/><use href="#gc5_0" transform="matrix(0.924 0 0 1.656 3.1 -735.8)"/><use href="#gc5_1" transform="matrix(0.942 0 0 1.049 2.4 -59.9)"/><use href="#gc5_2" transform="matrix(1.010 0 0 1.137 -0.4 -152.2)"/><use href="#gc5_3" transform="matrix(1.236 0 0 0.574 -9.6 488.4)"/><use href="#gc5_4" transform="matrix(1.108 0 0 0.601 -4.4 462.6)"/><use href="#gc5_5" transform="matrix(0.815 0 0 1.568 7.5 -642.0)"/><use href="#gc5_6" transform="matrix(1.001 0 0 0.946 -0.0 53.5)"/><use href="#gc5_7" transform="matrix(0.999 0 0 0.300 0.0 786.8)"/><use href="#gc5_8" transform="matrix(1.054 0 0 0.811 -2.2 221.4)"/><use href="#gc5_9" transform="matrix(1.074 0 0 1.579 -3.0 -659.3)"/><use href="#gc5_10" transform="matrix(0.987 0 0 0.644 0.5 412.0)"/><use href="#gc5_11" transform="matrix(0.968 0 0 1.480 1.3 -537.9)"/><use href="#gc5_12" transform="matrix(1.259 0 0 0.967 -10.5 34.4)"/><use href="#gc5_13" transform="matrix(0.992 0 0 0.830 0.3 191.1)"/><use href="#gc5_14" transform="matrix(1.076 0 0 0.429 -3.1 652.2)"/><use href="#gc5_15" transform="matrix(0.960 0 0 0.854 1.6 162.5)"/><use href="#gc5_0" transform="matrix(1.210 0 0 1.166 -8.5 -189.7)"/><use href="#gc5_1" transform="matrix(0.960 0 0 0.870 1.6 158.6)"/><use href="#gc5_2" transform="matrix(1.146 0 0 1.296 -5.9 -331.6)"/><use href="#gc5_3" transform="matrix(1.096 0 0 1.988 -3.9 -1123.5)"/><use href="#gc5_4" transform="matrix(0.974 0 0 0.381 1.0 702.0)"/><use href="#gc5_5" transform="matrix(1.011 0 0 1.506 -0.5 -575.2)"/><use href="#gc5_6" transform="matrix(1.099 0 0 0.697 -4.0 342.3)"/><use href="#gc5_7" transform="matrix(0.857 0 0 1.436 5.8 -499.2)"/><use href="#gc5_8" transform="matrix(1.051 0 0 0.558 -2.0 498.2)"/><use href="#gc5_9" transform="matrix(0.973 0 0 1.986 1.1 -1120.1)"/><use href="#gc5_10" transform="matrix(0.814 0 0 0.911 7.5 106.0)"/><use href="#gc5_11" transform="matrix(1.038 0 0 0.540 -1.5 513.8)"/><use href="#gc5_12" transform="matrix(0.941 0 0 0.804 2.4 219.0)"/><use href="#gc5_13" transform="matrix(0.750 0 0 1.608 10.1 -676.1)"/><use href="#gc5_14" transform="matrix(0.972 0 0 0.585 1.1 470.7)"/><use href="#gc5_15" transform="matrix(0.899 0 0 0.939 4.1 73.2)"/></g>
<path clip-path="url(#cb0)" d="M40.5,351.8 L41.5,375.7 L43,411 L44.5,443 L46,468.8 L47.5,485.6 L49,490.7 L50.5,488.2 L52,482.5 L53.5,474 L55,463.7 L56.5,452.1 L58,439.9 L59.5,427.8 L61,416.5 L62.5,406.7 L64,399.1 L65.5,394.4 L67,393.1 L68.5,393.5 L70,394.4 L71.5,395.7 L73,397.5 L74.5,399.6 L76,402.1 L77.5,404.9 L79,408 L80.5,411.3 L82,414.7 L83.5,418.3 L85,421.9 L86.5,425.7 L88,429.4 L89.5,433.1 L91,436.7 L92.5,440.2 L94,443.5 L95.5,446.7 L97,449.6 L98.5,452.2 L100,454.5 L101.5,456.4 L103,457.9 L104.5,459 L106,459.6 L107.5,459.7 L109,459.5 L110.5,459.2 L112,458.7 L113.5,458.1 L115,457.3 L116.5,456.5 L118,455.6 L119.5,454.5 L121,453.5 L122.5,452.3 L124,451.2 L125.5,450 L127,448.8 L128.5,447.6 L130,446.5 L131.5,445.4 L133,444.3 L134.5,443.3 L136,442.4 L137.5,441.6 L139,441 L140.5,440.4 L142,440 L143.5,439.8 L145,439.7 L146.5,439.8 L148,440 L149.5,440.2 L151,440.6 L152.5,441.1 L154,441.6 L155.5,442.2 L157,442.8 L158.5,443.5 L160,444.2 L161.5,444.9 L163,445.6 L164.5,446.3 L166,446.9 L167.5,447.6 L169,448.2 L170.5,448.8 L172,449.3 L173.5,449.7 L175,450.1 L176.5,450.3 L178,450.5 L179.5,450.5 L181,450.5 L182.5,450.4 L184,450.3 L185.5,450.1 L187,449.9 L188.5,449.7 L190,449.4 L191.5,449.2 L193,448.9 L194.5,448.6 L196,448.2 L197.5,447.9 L199,447.6 L200.5,447.3 L202,446.9 L203.5,446.6 L205,446.3 L206.5,446 L208,445.8 L209.5,445.5 L211,445.3 L212.5,445.1 L214,445 L215.5,444.9 L217,444.8 L218.5,444.8 L220,444.8 L221.5,444.8 L223,444.9 L224.5,444.9 L226,445 L227.5,445 L229,445.1 L230.5,445.2 L232,445.2 L233.5,445.3 L235,445.4 L236.5,445.5 L238,445.6 L239.5,445.7 L241,445.8 L242.5,445.9 L244,445.9 L245.5,446 L247,446.1 L248.5,446.2 L250,446.3 L251.5,446.3 L253,446.4 L254.5,446.4 L256,446.5 L257.5,446.5 L259,446.5 L260.5,446.5 L262,446.5 L263.5,446.5 L265,446.5 L266.5,446.5 L268,446.4 L269.5,446.4 L271,446.4 L272.5,446.3 L274,446.3 L275.5,446.3 L277,446.2 L278.5,446.2 L280,446.2 L281.5,446.1 L283,446.1 L284.5,446 L286,446 L287.5,446 L289,445.9 L290.5,445.9 L292,445.9 L293.5,445.8 L295,445.8 L296.5,445.8 L298,445.8 L299.5,445.8 L301,445.8 L302.5,445.8 L304,445.8 L305.5,445.8 L307,445.8 L308.5,445.8 L310,445.9 L311.5,445.9 L313,445.9 L314.5,445.9 L316,445.9 L317.5,445.9 L319,446 L320.5,446 L322,446 L323.5,446 L325,446.1 L326.5,446.1 L328,446.1 L329.5,446.1 L331,446.1 L332.5,446.2 L334,446.2 L335.5,446.2 L337,446.2 L338.5,446.2 L340,446.2 L341.5,446.3 L343,446.3 L344.5,446.3 L346,446.3 L347.5,446.3 L349,446.3 L350.5,446.3 L352,446.3 L353.5,446.3 L355,446.3 L356.5,446.3 L358,446.3 L359.5,446.3 L361,446.3 L362.5,446.3 L364,446.3 L365.5,446.3 L367,446.3 L368.5,446.3 L370,446.3 L371.5,446.3 L373,446.3 L374.5,446.2 L376,446.2 L377.5,446.2 L379,446.2 L380.5,446.2 L382,446.2 L383.5,446.2 L385,446.2 L386.5,446.2 L388,446.1 L389.5,446.1 L391,446.1 L392.5,446.1 L394,446.1 L395.5,446.1 L397,446.1 L398.5,446 L400,446" fill="none" stroke="#0000f5" stroke-width="3.6" stroke-linejoin="round"/>
<path clip-path="url(#cb0)" d="M41,462 L41.5,537 L43,537 L44.5,537 L46,536.9 L47.5,536.9 L49,536.8 L50.5,536.7 L52,536.7 L53.5,536.6 L55,536.4 L56.5,536.1 L58,535.7 L59.5,535.3 L61,534.7 L62.5,534.2 L64,533.6 L65.5,532.9 L67,532.2 L68.5,531.6 L70,530.9 L71.5,530.2 L73,529.6 L74.5,529 L76,528.5 L77.5,528 L79,527.6 L80.5,527.3 L82,527.1 L83.5,527 L85,527 L86.5,527.3 L88,527.7 L89.5,528.3 L91,529.1 L92.5,530 L94,531.1 L95.5,532.2 L97,533.5 L98.5,534.8 L100,536.2 L101.5,537.7 L103,539.2 L104.5,540.8 L106,542.4 L107.5,543.9 L109,545.5 L110.5,547 L112,548.4 L113.5,549.8 L115,551.2 L116.5,552.4 L118,553.5 L119.5,554.6 L121,555.4 L122.5,556.2 L124,556.7 L125.5,557.1 L127,557.3 L128.5,557.3 L130,557.2 L131.5,557.1 L133,556.9 L134.5,556.7 L136,556.4 L137.5,556.1 L139,555.7 L140.5,555.3 L142,554.8 L143.5,554.3 L145,553.8 L146.5,553.2 L148,552.6 L149.5,552 L151,551.4 L152.5,550.7 L154,550 L155.5,549.3 L157,548.6 L158.5,547.9 L160,547.1 L161.5,546.4 L163,545.6 L164.5,544.9 L166,544.1 L167.5,543.4 L169,542.6 L170.5,541.9 L172,541.2 L173.5,540.5 L175,539.8 L176.5,539.1 L178,538.5 L179.5,537.9 L181,537.3 L182.5,536.7 L184,536.2 L185.5,535.7 L187,535.2 L188.5,534.8 L190,534.4 L191.5,534.1 L193,533.8 L194.5,533.6 L196,533.4 L197.5,533.3 L199,533.2 L200.5,533.2 L202,533.3 L203.5,533.4 L205,533.5 L206.5,533.7 L208,534 L209.5,534.2 L211,534.6 L212.5,534.9 L214,535.3 L215.5,535.8 L217,536.2 L218.5,536.7 L220,537.2 L221.5,537.8 L223,538.3 L224.5,538.9 L226,539.5 L227.5,540.1 L229,540.7 L230.5,541.3 L232,542 L233.5,542.6 L235,543.2 L236.5,543.9 L238,544.5 L239.5,545.1 L241,545.7 L242.5,546.3 L244,546.9 L245.5,547.4 L247,548 L248.5,548.5 L250,549 L251.5,549.5 L253,549.9 L254.5,550.3 L256,550.7 L257.5,551.1 L259,551.4 L260.5,551.6 L262,551.8 L263.5,552 L265,552.1 L266.5,552.2 L268,552.2 L269.5,552.2 L271,552.1 L272.5,551.9 L274,551.7 L275.5,551.5 L277,551.2 L278.5,550.9 L280,550.5 L281.5,550.1 L283,549.7 L284.5,549.3 L286,548.8 L287.5,548.3 L289,547.8 L290.5,547.3 L292,546.8 L293.5,546.2 L295,545.7 L296.5,545.1 L298,544.6 L299.5,544 L301,543.5 L302.5,542.9 L304,542.4 L305.5,541.9 L307,541.4 L308.5,540.9 L310,540.5 L311.5,540 L313,539.6 L314.5,539.3 L316,538.9 L317.5,538.6 L319,538.4 L320.5,538.2 L322,538 L323.5,537.9 L325,537.8 L326.5,537.8 L328,537.8 L329.5,537.8 L331,537.8 L332.5,537.9 L334,537.9 L335.5,538 L337,538 L338.5,538.1 L340,538.2 L341.5,538.3 L343,538.4 L344.5,538.5 L346,538.6 L347.5,538.7 L349,538.9 L350.5,539 L352,539.2 L353.5,539.4 L355,539.6 L356.5,539.8 L358,540 L359.5,540.2 L361,540.5 L362.5,540.7 L364,541 L365.5,541.3 L367,541.6 L368.5,541.9 L370,542.2 L371.5,542.5 L373,542.9 L374.5,543.3 L376,543.6 L377.5,544 L379,544.4 L380.5,544.9 L382,545.3 L383.5,545.8 L385,546.2 L386.5,546.7 L388,547.2 L389.5,547.7 L391,548.3 L392.5,548.8 L394,549.4 L395.5,550 L397,550.6 L398.5,551.2 L400,551.9" fill="none" stroke="#0000f5" stroke-width="3.6" stroke-linejoin="round"/>
<path clip-path="url(#cb1)" d="M40.5,673 L41.5,676.3 L43,681.1 L44.5,685.8 L46,690.1 L47.5,693.9 L49,697.1 L50.5,699.4 L52,700.7 L53.5,701 L55,700.7 L56.5,700 L58,699.1 L59.5,697.9 L61,696.5 L62.5,695 L64,693.4 L65.5,691.8 L67,690.1 L68.5,688.6 L70,687.1 L71.5,685.8 L73,684.7 L74.5,683.8 L76,683.3 L77.5,683.1 L79,683.3 L80.5,683.8 L82,684.7 L83.5,685.8 L85,687.2 L86.5,688.7 L88,690.5 L89.5,692.4 L91,694.3 L92.5,696.4 L94,698.5 L95.5,700.6 L97,702.6 L98.5,704.6 L100,706.5 L101.5,708.2 L103,709.7 L104.5,711.1 L106,712.2 L107.5,713 L109,713.5 L110.5,713.6 L112,713.5 L113.5,713.2 L115,712.7 L116.5,712.1 L118,711.4 L119.5,710.6 L121,709.7 L122.5,708.7 L124,707.7 L125.5,706.6 L127,705.6 L128.5,704.5 L130,703.4 L131.5,702.4 L133,701.4 L134.5,700.5 L136,699.7 L137.5,699 L139,698.4 L140.5,698 L142,697.7 L143.5,697.6 L145,697.6 L146.5,697.7 L148,697.8 L149.5,697.9 L151,698.1 L152.5,698.3 L154,698.5 L155.5,698.8 L157,699.1 L158.5,699.4 L160,699.7 L161.5,700 L163,700.4 L164.5,700.7 L166,701.1 L167.5,701.4 L169,701.8 L170.5,702.1 L172,702.5 L173.5,702.8 L175,703.2 L176.5,703.5 L178,703.8 L179.5,704 L181,704.3 L182.5,704.5 L184,704.7 L185.5,704.8 L187,705 L188.5,705.1 L190,705.1 L191.5,705.1 L193,705.1 L194.5,705.1 L196,705.1 L197.5,705.1 L199,705.1 L200.5,705 L202,705 L203.5,705 L205,705 L206.5,705 L208,704.9 L209.5,704.9 L211,704.9 L212.5,704.8 L214,704.8 L215.5,704.8 L217,704.7 L218.5,704.7 L220,704.7 L221.5,704.6 L223,704.6 L224.5,704.6 L226,704.5 L227.5,704.5 L229,704.5 L230.5,704.4 L232,704.4 L233.5,704.4 L235,704.3 L236.5,704.3 L238,704.3 L239.5,704.2 L241,704.2 L242.5,704.2 L244,704.1 L245.5,704.1 L247,704.1 L248.5,704.1 L250,704.1 L251.5,704 L253,704 L254.5,704 L256,704 L257.5,704 L259,704 L260.5,704 L262,704 L263.5,704 L265,704 L266.5,704 L268,704 L269.5,704 L271,704.1 L272.5,704.1 L274,704.1 L275.5,704.1 L277,704.1 L278.5,704.2 L280,704.2 L281.5,704.2 L283,704.2 L284.5,704.3 L286,704.3 L287.5,704.3 L289,704.4 L290.5,704.4 L292,704.4 L293.5,704.4 L295,704.5 L296.5,704.5 L298,704.5 L299.5,704.6 L301,704.6 L302.5,704.6 L304,704.7 L305.5,704.7 L307,704.7 L308.5,704.7 L310,704.8 L311.5,704.8 L313,704.8 L314.5,704.9 L316,704.9 L317.5,704.9 L319,704.9 L320.5,704.9 L322,704.9 L323.5,705 L325,705 L326.5,705 L328,705 L329.5,705 L331,705 L332.5,705 L334,705 L335.5,705 L337,705 L338.5,705 L340,705 L341.5,705 L343,705 L344.5,705 L346,705 L347.5,705 L349,705 L350.5,705 L352,705 L353.5,705.1 L355,705.1 L356.5,705.1 L358,705.1 L359.5,705.1 L361,705.1 L362.5,705.1 L364,705.1 L365.5,705.1 L367,705.1 L368.5,705.1 L370,705.1 L371.5,705.1 L373,705.1 L374.5,705.1 L376,705.1 L377.5,705.1 L379,705.1 L380.5,705.1 L382,705.1 L383.5,705.1 L385,705.1 L386.5,705.1 L388,705.1 L389.5,705.1 L391,705.1 L392.5,705.1 L394,705.1 L395.5,705.1 L397,705.1 L398.5,705.1 L400,705.1" fill="none" stroke="#0000f5" stroke-width="3.6" stroke-linejoin="round"/>
<path clip-path="url(#cb1)" d="M40.5,761.8 L41.5,768.4 L43,778.5 L44.5,788.7 L46,798.8 L47.5,808.6 L49,817.9 L50.5,826.4 L52,834 L53.5,840.5 L55,845.7 L56.5,849.3 L58,851.2 L59.5,851.4 L61,851.1 L62.5,850.5 L64,849.7 L65.5,848.6 L67,847.3 L68.5,845.9 L70,844.2 L71.5,842.4 L73,840.4 L74.5,838.3 L76,836 L77.5,833.7 L79,831.3 L80.5,828.8 L82,826.3 L83.5,823.7 L85,821.1 L86.5,818.5 L88,816 L89.5,813.5 L91,811 L92.5,808.6 L94,806.3 L95.5,804.1 L97,802 L98.5,800.1 L100,798.3 L101.5,796.7 L103,795.3 L104.5,794.1 L106,793.1 L107.5,792.4 L109,791.9 L110.5,791.7 L112,791.7 L113.5,791.9 L115,792.2 L116.5,792.6 L118,793.2 L119.5,793.8 L121,794.5 L122.5,795.3 L124,796.2 L125.5,797.2 L127,798.2 L128.5,799.3 L130,800.5 L131.5,801.7 L133,802.9 L134.5,804.2 L136,805.4 L137.5,806.7 L139,808 L140.5,809.3 L142,810.6 L143.5,811.9 L145,813.1 L146.5,814.3 L148,815.5 L149.5,816.6 L151,817.7 L152.5,818.7 L154,819.6 L155.5,820.5 L157,821.3 L158.5,822 L160,822.6 L161.5,823 L163,823.4 L164.5,823.7 L166,823.8 L167.5,823.8 L169,823.7 L170.5,823.6 L172,823.5 L173.5,823.3 L175,823.1 L176.5,822.8 L178,822.5 L179.5,822.2 L181,821.8 L182.5,821.4 L184,821 L185.5,820.6 L187,820.1 L188.5,819.6 L190,819.1 L191.5,818.6 L193,818.1 L194.5,817.5 L196,817 L197.5,816.5 L199,815.9 L200.5,815.4 L202,814.8 L203.5,814.3 L205,813.7 L206.5,813.2 L208,812.7 L209.5,812.2 L211,811.7 L212.5,811.2 L214,810.8 L215.5,810.3 L217,809.9 L218.5,809.6 L220,809.2 L221.5,808.9 L223,808.6 L224.5,808.4 L226,808.2 L227.5,808 L229,807.9 L230.5,807.8 L232,807.8 L233.5,807.8 L235,807.9 L236.5,807.9 L238,808 L239.5,808.2 L241,808.3 L242.5,808.5 L244,808.7 L245.5,808.9 L247,809.2 L248.5,809.4 L250,809.7 L251.5,810 L253,810.3 L254.5,810.6 L256,810.9 L257.5,811.2 L259,811.5 L260.5,811.8 L262,812.2 L263.5,812.5 L265,812.8 L266.5,813.2 L268,813.5 L269.5,813.8 L271,814.1 L272.5,814.4 L274,814.7 L275.5,815 L277,815.3 L278.5,815.6 L280,815.8 L281.5,816 L283,816.2 L284.5,816.4 L286,816.6 L287.5,816.7 L289,816.8 L290.5,816.9 L292,817 L293.5,817 L295,817 L296.5,817 L298,816.9 L299.5,816.9 L301,816.8 L302.5,816.7 L304,816.6 L305.5,816.5 L307,816.3 L308.5,816.2 L310,816 L311.5,815.9 L313,815.7 L314.5,815.5 L316,815.3 L317.5,815.1 L319,814.9 L320.5,814.7 L322,814.5 L323.5,814.3 L325,814.1 L326.5,813.9 L328,813.7 L329.5,813.5 L331,813.3 L332.5,813.1 L334,812.9 L335.5,812.7 L337,812.5 L338.5,812.3 L340,812.2 L341.5,812 L343,811.9 L344.5,811.7 L346,811.6 L347.5,811.5 L349,811.4 L350.5,811.3 L352,811.3 L353.5,811.2 L355,811.2 L356.5,811.2 L358,811.2 L359.5,811.2 L361,811.2 L362.5,811.2 L364,811.3 L365.5,811.3 L367,811.3 L368.5,811.4 L370,811.4 L371.5,811.4 L373,811.5 L374.5,811.5 L376,811.6 L377.5,811.7 L379,811.8 L380.5,811.8 L382,811.9 L383.5,812 L385,812.1 L386.5,812.2 L388,812.3 L389.5,812.4 L391,812.5 L392.5,812.7 L394,812.8 L395.5,812.9 L397,813.1 L398.5,813.3 L400,813.4" fill="none" stroke="#0000f5" stroke-width="3.6" stroke-linejoin="round"/>
<path clip-path="url(#cb2)" d="M41,892.6 L41.5,964.9 L43,968.2 L44.5,970.6 L46,972.1 L47.5,972.7 L49,972.6 L50.5,970.7 L52,967.3 L53.5,962.6 L55,957.1 L56.5,951.3 L58,945.5 L59.5,940.3 L61,936 L62.5,933.1 L64,930.5 L65.5,928 L67,925.8 L68.5,923.9 L70,922.7 L71.5,922.3 L73,922.8 L74.5,923.9 L76,925.6 L77.5,927.6 L79,930 L80.5,932.5 L82,935.2 L83.5,938 L85,940.9 L86.5,943.8 L88,946.6 L89.5,949.3 L91,951.8 L92.5,954.5 L94,957.4 L95.5,960.5 L97,963.6 L98.5,966.8 L100,969.9 L101.5,973 L103,975.9 L104.5,978.5 L106,980.9 L107.5,983 L109,984.8 L110.5,986.4 L112,987.4 L113.5,988 L115,987.9 L116.5,987.6 L118,987.2 L119.5,986.6 L121,986 L122.5,985.3 L124,984.6 L125.5,983.9 L127,983 L128.5,982.2 L130,981.4 L131.5,980.6 L133,980 L134.5,979.5 L136,979.2 L137.5,979.1 L139,979.3 L140.5,979.6 L142,980 L143.5,980.5 L145,981 L146.5,981.6 L148,982.3 L149.5,983.2 L151,984.1 L152.5,985.1 L154,986.1 L155.5,987.3 L157,988.5 L158.5,989.8 L160,991.1 L161.5,992.5 L163,993.8 L164.5,995.1 L166,996.4 L167.5,997.6 L169,998.9 L170.5,1000.1 L172,1001.3 L173.5,1002.5 L175,1003.6 L176.5,1004.5 L178,1005.4 L179.5,1006.2 L181,1006.9 L182.5,1007.5 L184,1008 L185.5,1008.3 L187,1008.5 L188.5,1008.6 L190,1008.6 L191.5,1008.5 L193,1008.3 L194.5,1008.1 L196,1007.8 L197.5,1007.4 L199,1007.1 L200.5,1006.7 L202,1006.3 L203.5,1005.9 L205,1005.4 L206.5,1005 L208,1004.5 L209.5,1004 L211,1003.6 L212.5,1003.2 L214,1002.9 L215.5,1002.5 L217,1002.2 L218.5,1001.9 L220,1001.7 L221.5,1001.5 L223,1001.3 L224.5,1001.2 L226,1001.2 L227.5,1001.3 L229,1001.4 L230.5,1001.7 L232,1002 L233.5,1002.4 L235,1002.8 L236.5,1003.3 L238,1003.9 L239.5,1004.4 L241,1005.1 L242.5,1005.7 L244,1006.4 L245.5,1007.2 L247,1008 L248.5,1008.8 L250,1009.6 L251.5,1010.3 L253,1011.1 L254.5,1011.9 L256,1012.8 L257.5,1013.6 L259,1014.4 L260.5,1015.2 L262,1016 L263.5,1016.8 L265,1017.6 L266.5,1018.3 L268,1019 L269.5,1019.7 L271,1020.3 L272.5,1020.9 L274,1021.5 L275.5,1022 L277,1022.4 L278.5,1022.8 L280,1023.1 L281.5,1023.4 L283,1023.6 L284.5,1023.7 L286,1023.9 L287.5,1024 L289,1024.1 L290.5,1024.2 L292,1024.3 L293.5,1024.4 L295,1024.5 L296.5,1024.6 L298,1024.7 L299.5,1024.8 L301,1024.8 L302.5,1024.9 L304,1025 L305.5,1025.1 L307,1025.1 L308.5,1025.2 L310,1025.3 L311.5,1025.4 L313,1025.5 L314.5,1025.6 L316,1025.7 L317.5,1025.9 L319,1026 L320.5,1026.1 L322,1026.2 L323.5,1026.4 L325,1026.5 L326.5,1026.6 L328,1026.8 L329.5,1026.9 L331,1027 L332.5,1027.2 L334,1027.3 L335.5,1027.4 L337,1027.6 L338.5,1027.7 L340,1027.9 L341.5,1028.1 L343,1028.2 L344.5,1028.4 L346,1028.5 L347.5,1028.7 L349,1028.8 L350.5,1029 L352,1029.2 L353.5,1029.3 L355,1029.5 L356.5,1029.7 L358,1029.8 L359.5,1030 L361,1030.2 L362.5,1030.4 L364,1030.6 L365.5,1030.8 L367,1030.9 L368.5,1031.1 L370,1031.3 L371.5,1031.5 L373,1031.7 L374.5,1031.9 L376,1032.1 L377.5,1032.3 L379,1032.5 L380.5,1032.7 L382,1032.9 L383.5,1033.1 L385,1033.3 L386.5,1033.5 L388,1033.7 L389.5,1033.9 L391,1034.1 L392.5,1034.4 L394,1034.6 L395.5,1034.8 L397,1035 L398.5,1035.3 L400,1035.5" fill="none" stroke="#0000f5" stroke-width="3.6" stroke-linejoin="round"/>
<path clip-path="url(#cb2)" d="M41,965 L41.5,1061.7 L43,1065.2 L44.5,1068.7 L46,1072.1 L47.5,1075.3 L49,1078.3 L50.5,1081.1 L52,1083.4 L53.5,1085.4 L55,1086.9 L56.5,1087.7 L58,1087.9 L59.5,1087.8 L61,1087.4 L62.5,1086.8 L64,1086.1 L65.5,1085.3 L67,1084.4 L68.5,1083.3 L70,1082.2 L71.5,1080.9 L73,1079.6 L74.5,1078.3 L76,1077 L77.5,1075.8 L79,1074.5 L80.5,1073.4 L82,1072.4 L83.5,1071.3 L85,1070.2 L86.5,1068.9 L88,1067.6 L89.5,1066.3 L91,1065.1 L92.5,1064.1 L94,1063.2 L95.5,1062.4 L97,1061.9 L98.5,1061.5 L100,1061.3 L101.5,1061.2 L103,1061.5 L104.5,1062.1 L106,1062.9 L107.5,1063.9 L109,1065.1 L110.5,1066.6 L112,1068.2 L113.5,1070.1 L115,1072.1 L116.5,1074.3 L118,1076.5 L119.5,1078.9 L121,1081.4 L122.5,1084 L124,1086.7 L125.5,1089.4 L127,1092.2 L128.5,1095.1 L130,1097.9 L131.5,1100.7 L133,1103.5 L134.5,1106.2 L136,1108.9 L137.5,1111.6 L139,1114.1 L140.5,1116.6 L142,1119 L143.5,1121.3 L145,1123.6 L146.5,1125.6 L148,1127.5 L149.5,1129.1 L151,1130.5 L152.5,1131.7 L154,1132.7 L155.5,1133.3 L157,1133.7 L158.5,1133.9 L160,1133.7 L161.5,1133.5 L163,1133.1 L164.5,1132.6 L166,1132 L167.5,1131.3 L169,1130.5 L170.5,1129.6 L172,1128.6 L173.5,1127.4 L175,1126.2 L176.5,1124.9 L178,1123.7 L179.5,1122.4 L181,1121.1 L182.5,1119.8 L184,1118.5 L185.5,1117.2 L187,1115.9 L188.5,1114.6 L190,1113.4 L191.5,1112.2 L193,1111 L194.5,1109.9 L196,1108.9 L197.5,1107.9 L199,1107 L200.5,1106.2 L202,1105.5 L203.5,1104.9 L205,1104.3 L206.5,1104 L208,1103.7 L209.5,1103.7 L211,1103.8 L212.5,1104 L214,1104.3 L215.5,1104.7 L217,1105.1 L218.5,1105.5 L220,1106 L221.5,1106.6 L223,1107.2 L224.5,1107.9 L226,1108.6 L227.5,1109.4 L229,1110.3 L230.5,1111.1 L232,1112.1 L233.5,1113 L235,1114.1 L236.5,1115.1 L238,1116.2 L239.5,1117.3 L241,1118.4 L242.5,1119.5 L244,1120.6 L245.5,1121.7 L247,1122.8 L248.5,1123.8 L250,1125 L251.5,1126.1 L253,1127.2 L254.5,1128.3 L256,1129.4 L257.5,1130.4 L259,1131.5 L260.5,1132.5 L262,1133.5 L263.5,1134.4 L265,1135.3 L266.5,1136.1 L268,1136.9 L269.5,1137.7 L271,1138.4 L272.5,1139 L274,1139.6 L275.5,1140.1 L277,1140.6 L278.5,1140.9 L280,1141.2 L281.5,1141.5 L283,1141.6 L284.5,1141.7 L286,1141.7 L287.5,1141.6 L289,1141.4 L290.5,1141.2 L292,1140.9 L293.5,1140.5 L295,1140.1 L296.5,1139.7 L298,1139.2 L299.5,1138.6 L301,1138.1 L302.5,1137.4 L304,1136.8 L305.5,1136.1 L307,1135.4 L308.5,1134.7 L310,1134 L311.5,1133.3 L313,1132.5 L314.5,1131.8 L316,1131.1 L317.5,1130.3 L319,1129.6 L320.5,1128.9 L322,1128.2 L323.5,1127.6 L325,1127 L326.5,1126.4 L328,1125.8 L329.5,1125.3 L331,1124.8 L332.5,1124.3 L334,1123.9 L335.5,1123.6 L337,1123.3 L338.5,1123.1 L340,1123 L341.5,1122.9 L343,1122.9 L344.5,1122.9 L346,1122.9 L347.5,1122.9 L349,1122.9 L350.5,1123 L352,1123 L353.5,1123 L355,1123.1 L356.5,1123.2 L358,1123.2 L359.5,1123.3 L361,1123.4 L362.5,1123.5 L364,1123.6 L365.5,1123.7 L367,1123.9 L368.5,1124 L370,1124.2 L371.5,1124.3 L373,1124.5 L374.5,1124.7 L376,1124.9 L377.5,1125.2 L379,1125.4 L380.5,1125.7 L382,1126 L383.5,1126.3 L385,1126.6 L386.5,1127 L388,1127.4 L389.5,1127.7 L391,1128.1 L392.5,1128.6 L394,1129 L395.5,1129.5 L397,1130 L398.5,1130.5 L400,1131.1" fill="none" stroke="#0000f5" stroke-width="3.6" stroke-linejoin="round"/>
<rect x="40.5" y="340.6" width="360.3" height="273.6" fill="none" stroke="#333" stroke-width="1.7"/>
<line x1="40.5" y1="614.2" x2="40.5" y2="602.2" stroke="#333" stroke-width="1.7"/>
<line x1="100.5" y1="614.2" x2="100.5" y2="608.2" stroke="#333" stroke-width="1.7"/>
<line x1="160.5" y1="614.2" x2="160.5" y2="602.2" stroke="#333" stroke-width="1.7"/>
<line x1="220.5" y1="614.2" x2="220.5" y2="608.2" stroke="#333" stroke-width="1.7"/>
<line x1="280.5" y1="614.2" x2="280.5" y2="602.2" stroke="#333" stroke-width="1.7"/>
<line x1="340.5" y1="614.2" x2="340.5" y2="608.2" stroke="#333" stroke-width="1.7"/>
<line x1="400.5" y1="614.2" x2="400.5" y2="602.2" stroke="#333" stroke-width="1.7"/>
<rect x="40.5" y="616.3" width="360.3" height="274.1" fill="none" stroke="#333" stroke-width="1.7"/>
<line x1="40.5" y1="890.4" x2="40.5" y2="878.4" stroke="#333" stroke-width="1.7"/>
<line x1="100.5" y1="890.4" x2="100.5" y2="884.4" stroke="#333" stroke-width="1.7"/>
<line x1="160.5" y1="890.4" x2="160.5" y2="878.4" stroke="#333" stroke-width="1.7"/>
<line x1="220.5" y1="890.4" x2="220.5" y2="884.4" stroke="#333" stroke-width="1.7"/>
<line x1="280.5" y1="890.4" x2="280.5" y2="878.4" stroke="#333" stroke-width="1.7"/>
<line x1="340.5" y1="890.4" x2="340.5" y2="884.4" stroke="#333" stroke-width="1.7"/>
<line x1="400.5" y1="890.4" x2="400.5" y2="878.4" stroke="#333" stroke-width="1.7"/>
<rect x="40.5" y="892.3" width="360.3" height="273.1" fill="none" stroke="#333" stroke-width="1.7"/>
<line x1="40.5" y1="1165.4" x2="40.5" y2="1177.4" stroke="#333" stroke-width="1.7"/>
<line x1="100.5" y1="1165.4" x2="100.5" y2="1171.4" stroke="#333" stroke-width="1.7"/>
<line x1="160.5" y1="1165.4" x2="160.5" y2="1177.4" stroke="#333" stroke-width="1.7"/>
<line x1="220.5" y1="1165.4" x2="220.5" y2="1171.4" stroke="#333" stroke-width="1.7"/>
<line x1="280.5" y1="1165.4" x2="280.5" y2="1177.4" stroke="#333" stroke-width="1.7"/>
<line x1="340.5" y1="1165.4" x2="340.5" y2="1171.4" stroke="#333" stroke-width="1.7"/>
<line x1="400.5" y1="1165.4" x2="400.5" y2="1177.4" stroke="#333" stroke-width="1.7"/>
<line x1="66.7" y1="378.2" x2="66.7" y2="405.8" stroke="#000" stroke-width="2.2"/>
<line x1="146.4" y1="379.4" x2="146.4" y2="455.1" stroke="#000" stroke-width="2.2"/>
<line x1="72.7" y1="388.1" x2="140.4" y2="388.1" stroke="#000" stroke-width="2.2"/>
<path d="M67.2,388.1 L77.8,382.5 L77.8,393.7 Z" fill="#000"/>
<path d="M145.9,388.1 L135.3,393.7 L135.3,382.5 Z" fill="#000"/>
<text x="107.5" y="377" font-size="34.2" text-anchor="middle">3.3 Å</text>
<line x1="84" y1="507.9" x2="84" y2="543.5" stroke="#000" stroke-width="2.2"/>
<line x1="202.2" y1="511.4" x2="202.2" y2="547" stroke="#000" stroke-width="2.2"/>
<line x1="90" y1="518.2" x2="196.2" y2="518.2" stroke="#000" stroke-width="2.2"/>
<path d="M84.5,518.2 L95.1,512.6 L95.1,523.8 Z" fill="#000"/>
<path d="M201.7,518.2 L191.1,523.8 L191.1,512.6 Z" fill="#000"/>
<text x="142.2" y="509.1" font-size="34.2" text-anchor="middle">4.9 Å</text>
<line x1="77.5" y1="668.4" x2="77.5" y2="696.4" stroke="#000" stroke-width="2.2"/>
<line x1="147.1" y1="667.3" x2="147.1" y2="707.4" stroke="#000" stroke-width="2.2"/>
<line x1="83.5" y1="675.8" x2="141.1" y2="675.8" stroke="#000" stroke-width="2.2"/>
<path d="M78,675.8 L88.6,670.2 L88.6,681.4 Z" fill="#000"/>
<path d="M146.6,675.8 L136,681.4 L136,670.2 Z" fill="#000"/>
<text x="111.9" y="661.5" font-size="34.2" text-anchor="middle">2.9 Å</text>
<line x1="110.8" y1="775.6" x2="110.8" y2="808.9" stroke="#000" stroke-width="2.2"/>
<line x1="233.6" y1="776.8" x2="233.6" y2="815.8" stroke="#000" stroke-width="2.2"/>
<line x1="116.8" y1="781.8" x2="227.6" y2="781.8" stroke="#000" stroke-width="2.2"/>
<path d="M111.3,781.8 L121.9,776.2 L121.9,787.4 Z" fill="#000"/>
<path d="M233.1,781.8 L222.5,787.4 L222.5,776.2 Z" fill="#000"/>
<text x="173.8" y="772.2" font-size="34.2" text-anchor="middle">5.1 Å</text>
<line x1="72.9" y1="909.8" x2="72.9" y2="961.5" stroke="#000" stroke-width="2.2"/>
<line x1="140.9" y1="946.6" x2="140.9" y2="999.4" stroke="#000" stroke-width="2.2"/>
<line x1="78.9" y1="958" x2="134.9" y2="958" stroke="#000" stroke-width="2.2"/>
<path d="M73.4,958 L84,952.4 L84,963.6 Z" fill="#000"/>
<path d="M140.4,958 L129.8,963.6 L129.8,952.4 Z" fill="#000"/>
<text x="129.3" y="932.8" font-size="34.2" text-anchor="middle">2.8 Å</text>
<line x1="103" y1="1038.4" x2="103" y2="1084.3" stroke="#000" stroke-width="2.2"/>
<line x1="211.4" y1="1061.4" x2="211.4" y2="1127.9" stroke="#000" stroke-width="2.2"/>
<line x1="109" y1="1075.6" x2="205.4" y2="1075.6" stroke="#000" stroke-width="2.2"/>
<path d="M103.5,1075.6 L114.1,1070 L114.1,1081.2 Z" fill="#000"/>
<path d="M210.9,1075.6 L200.3,1081.2 L200.3,1070 Z" fill="#000"/>
<text x="156.9" y="1061.4" font-size="34.2" text-anchor="middle">4.5 Å</text>
<line x1="208.6" y1="351" x2="208.6" y2="402.5" stroke="#000" stroke-width="2.6"/>
<line x1="203.1" y1="351" x2="214.1" y2="351" stroke="#000" stroke-width="2.6"/>
<line x1="203.1" y1="402.5" x2="214.1" y2="402.5" stroke="#000" stroke-width="2.6"/>
<text x="216" y="386.2" font-size="30">0.1</text>
<line x1="240.7" y1="628" x2="240.7" y2="664.2" stroke="#000" stroke-width="2.6"/>
<line x1="235.3" y1="628" x2="246.1" y2="628" stroke="#000" stroke-width="2.6"/>
<line x1="235.3" y1="664.2" x2="246.1" y2="664.2" stroke="#000" stroke-width="2.6"/>
<text x="248.5" y="655.1" font-size="30">0.05</text>
<line x1="245.3" y1="901" x2="245.3" y2="979.8" stroke="#000" stroke-width="2.6"/>
<line x1="239" y1="901" x2="251.6" y2="901" stroke="#000" stroke-width="2.6"/>
<line x1="239" y1="979.8" x2="251.6" y2="979.8" stroke="#000" stroke-width="2.6"/>
<text x="252" y="950" font-size="30">0.05</text>
<text x="367" y="693" font-size="32" text-anchor="middle">×3</text>
<text x="367" y="1014.3" font-size="32" text-anchor="middle">×2</text>
<text x="415.5" y="427.1" font-size="34.2">Pure water</text>
<text x="415.5" y="472.8" font-size="34.2">0 min</text>
<text x="415.5" y="540.6" font-size="34.2">Pure water</text>
<text x="415.5" y="588.4" font-size="34.2">60 min</text>
<text x="415.5" y="697.8" font-size="34.2">0.1 M KCl</text>
<text x="415.5" y="740" font-size="34.2">0 min</text>
<text x="415.5" y="803.7" font-size="34.2">0.1 M KCl</text>
<text x="415.5" y="848" font-size="34.2">85 min</text>
<text x="415.5" y="1061.4" font-size="34.2">0 min</text>
<text x="415.5" y="1168.7" font-size="34.2">80 min</text>
<text x="415.5" y="1017.1" font-size="34.2">0.2 M K<tspan font-size="22" dy="7.5">2</tspan><tspan dy="-7.5">SO</tspan><tspan font-size="22" dy="7.5">4</tspan></text>
<text x="415.5" y="1120.2" font-size="34.2">0.2 M K<tspan font-size="22" dy="7.5">2</tspan><tspan dy="-7.5">SO</tspan><tspan font-size="22" dy="7.5">4</tspan></text>
<text x="42" y="1214" font-size="34.2" text-anchor="middle">0</text>
<text x="161.5" y="1214" font-size="34.2" text-anchor="middle">5</text>
<text x="282.8" y="1214" font-size="34.2" text-anchor="middle">10</text>
<text x="403.3" y="1214" font-size="34.2" text-anchor="middle">15</text>
<text x="220.8" y="1246.9" font-size="34.2" text-anchor="middle"><tspan font-style="italic">z</tspan> (Å)</text>
<text x="25.1" y="744.7" font-size="34.2" text-anchor="middle" transform="rotate(-90 25.1 744.7)">Force (nN)</text>
<text x="646.5" y="26.5" font-size="44" font-weight="bold">c</text>
<text x="1080" y="25.9" font-size="34.2">0.1 M K<tspan font-size="22" dy="7.5">2</tspan><tspan dy="-7.5">SO</tspan><tspan font-size="22" dy="7.5">4</tspan></text>
<path d="M685,372.7 L686,369.3 L687,366.9 L688,370 L689,363.1 L690,363.1 L691,367 L692,362.1 L693,376.3 L694,368.9 L695,371.6 L696,377.7 L697,375.6 L698,379.4 L699,362.1 L700,376.6 L701,364.5 L702,365.6 L703,368 L704,367.2 L705,366.5 L706,368.4 L707,375.4 L708,353.5 L709,357.3 L710,357.7 L711,366.6 L712,365 L713,366.1 L714,374.4 L715,363.1 L716,354.1 L717,364.4 L718,372 L719,372.5 L720,360.1 L721,352.2 L722,361.4 L723,362.5 L724,357.7 L725,355.2 L726,365.3 L727,363.5 L728,352.9 L729,353.2 L730,345.7 L731,340.9 L732,338.6 L733,343.4 L734,340 L735,345 L736,339.5 L737,336.3 L738,338.6 L739,325.4 L740,341.3 L741,337 L742,345.6 L743,334.1 L744,335 L745,329.7 L746,346.4 L747,335 L748,339.7 L749,329.8 L750,334.4 L751,324.6 L752,325.7 L753,326.7 L754,322.4 L755,331.3 L756,332.2 L757,334.5 L758,322.6 L759,324.8 L760,328.2 L761,332.6 L762,321.7 L763,327.8 L764,335.6 L765,330.5 L766,329.6 L767,324 L768,328.9 L769,335.2 L770,337.3 L771,321.9 L772,334.3 L773,330.1 L774,327.2 L775,343.9 L776,337.6 L777,328 L778,328.8 L779,336.3 L780,327.2 L781,335.2 L782,339.8 L783,329.7 L784,339 L785,341 L786,335.2 L787,341.7 L788,344 L789,343.1 L790,337.3 L791,346.7 L792,340.3 L793,344 L794,351.3 L795,343.8 L796,332.7 L797,351 L798,348.3 L799,344.7 L800,346 L801,338.5 L802,332.4 L803,340.8 L804,323.8 L805,330.5 L806,329.9 L807,330 L808,327.1 L809,332.7 L810,328.6 L811,330.2 L812,326.8 L813,328.6 L814,325.4 L815,330.9 L816,285.5 L817,319.2 L818,317 L819,318.1 L820,319.3 L821,325.4 L822,324 L823,322 L824,316.7 L825,318 L826,319.1 L827,321.3 L828,296.9 L829,321.1 L830,322.3 L831,315.1 L832,327.4 L833,319 L834,305.9 L835,296.3 L836,305.6 L837,297.4 L838,293.1 L839,274.1 L840,273.5 L841,275.4 L842,264 L843,274.1 L844,254.5 L845,260.1 L846,252.5 L847,261.5 L848,236.5 L849,252.9 L850,246.2 L851,246.6 L852,259.9 L853,269.8 L854,263.8 L855,268.3 L856,280.1 L857,272.7 L858,289.5 L859,295 L860,296.5 L861,306.7 L862,314.1 L863,313.9 L864,309.4 L865,334.9 L866,333.6 L867,347.3 L868,344.6 L869,353.5 L870,351.5 L871,352.5 L872,355.7 L873,359.7 L874,349 L875,368.1 L876,368.4 L877,365.9 L878,355 L879,369.8 L880,365.1 L881,374.9 L882,362.9 L883,355.9 L884,371.8 L885,353.8 L886,364.3 L887,365.8 L888,353.5 L889,361.8 L890,368.9 L891,369.8 L892,377.8 L893,373.9 L894,360.7 L895,373.4 L896,371.3 L897,370 L898,362.9 L899,380.8 L900,380.4 L901,372.1 L902,365.8 L903,364.2 L904,364.5 L905,376.6 L906,361.6 L907,378.5 L908,371.1 L909,374.4 L910,377.1 L911,386.9 L912,377.4 L913,372.4 L914,375.8 L915,374.6 L916,373.6 L917,373.6 L918,366.8 L919,374.1 L920,363.9 L921,378.1 L922,368.8 L923,363.8 L924,374.1 L925,373.8 L926,370.1 L927,360.2 L928,361 L929,371.4 L930,381.1 L931,369 L932,368.8 L933,370.1 L934,361.3 L935,379.2 L936,363.1 L937,376.9 L938,362.3 L939,360.1 L940,362.9 L941,362.1 L942,365.3 L943,376.9 L944,369.8 L945,364.9 L946,370.8 L947,365.2 L948,375.3 L949,373.5 L950,358.5 L951,371.5 L952,369.8 L953,363.5 L954,357.2 L955,369 L956,364.7 L957,370 L958,375.3 L959,369.2 L960,374 L961,381.1 L962,368.4 L963,379.5 L964,366.4 L965,364.7 L966,372.6 L967,370.8 L968,363.3" fill="none" stroke="#000" stroke-width="2.6" stroke-linejoin="round"/>
<path d="M1018,373.3 L1019,376.9 L1020,360.9 L1021,373.5 L1022,370.2 L1023,366.9 L1024,374.7 L1025,370.3 L1026,377.9 L1027,384 L1028,365.5 L1029,374.1 L1030,365 L1031,370.5 L1032,369.9 L1033,375.2 L1034,367 L1035,372.6 L1036,363.8 L1037,372.2 L1038,365 L1039,365 L1040,370.6 L1041,365.7 L1042,375.8 L1043,365.9 L1044,378.1 L1045,374.6 L1046,371.4 L1047,373.8 L1048,371.9 L1049,381.7 L1050,373.3 L1051,368.4 L1052,372.9 L1053,369.8 L1054,371.1 L1055,374.3 L1056,369.2 L1057,375.5 L1058,371.6 L1059,375.4 L1060,370.6 L1061,371.7 L1062,370.1 L1063,378.1 L1064,379.8 L1065,372.1 L1066,376.7 L1067,366.2 L1068,367.1 L1069,376.3 L1070,365.2 L1071,385.7 L1072,377.8 L1073,381.2 L1074,373.1 L1075,365.1 L1076,365 L1077,362.9 L1078,368.4 L1079,357.7 L1080,356.5 L1081,365 L1082,350.6 L1083,352.9 L1084,361.6 L1085,366.4 L1086,347.2 L1087,343.3 L1088,350.8 L1089,354.5 L1090,353 L1091,350.3 L1092,346.7 L1093,356 L1094,354.7 L1095,348.5 L1096,351.3 L1097,357.4 L1098,351.2 L1099,361.8 L1100,348.2 L1101,352.1 L1102,339.2 L1103,345.6 L1104,348.2 L1105,353.6 L1106,344.4 L1107,345.3 L1108,343.3 L1109,345.1 L1110,347.8 L1111,349 L1112,342.2 L1113,346.1 L1114,343.2 L1115,350.9 L1116,354.6 L1117,347.4 L1118,348.3 L1119,345 L1120,348.3 L1121,345 L1122,340 L1123,351.4 L1124,355.8 L1125,348.3 L1126,345.3 L1127,348 L1128,354.1 L1129,344.8 L1130,350.9 L1131,348.8 L1132,338.6 L1133,347.4 L1134,352.2 L1135,351.8 L1136,350.2 L1137,345.5 L1138,352.9 L1139,353.1 L1140,355.4 L1141,361.6 L1142,354.1 L1143,359.5 L1144,357.3 L1145,368.3 L1146,358.4 L1147,368.8 L1148,352.6 L1149,352.1 L1150,360.2 L1151,357.5 L1152,364.2 L1153,362 L1154,362.2 L1155,354.9 L1156,358.4 L1157,362.6 L1158,356.1 L1159,358.9 L1160,364.5 L1161,358.8 L1162,360.2 L1163,364.8 L1164,361.3 L1165,352.6 L1166,360 L1167,359.6 L1168,361.2 L1169,370.2 L1170,365.2 L1171,362.7 L1172,361.1 L1173,370.1 L1174,369.1 L1175,376.4 L1176,373.9 L1177,377.5 L1178,369.2 L1179,372.1 L1180,373.2 L1181,369.2 L1182,374.8 L1183,371.3 L1184,371.4 L1185,369.8 L1186,372.7 L1187,365.6 L1188,377.3 L1189,375 L1190,375.8 L1191,379 L1192,374.5 L1193,371.9 L1194,379.4 L1195,371.5 L1196,374 L1197,363.4 L1198,370.8 L1199,373.2 L1200,376.4 L1201,384.7 L1202,373.2 L1203,370.8 L1204,370.9 L1205,374.4 L1206,369.8 L1207,371.6 L1208,373.8 L1209,364.3 L1210,366.2 L1211,375.4 L1212,370.2 L1213,377 L1214,379.8 L1215,360.9" fill="none" stroke="#000" stroke-width="2.6" stroke-linejoin="round"/>
<path d="M686.8,613.4 L687.8,613.8 L688.8,630.9 L689.8,637 L690.8,634.5 L691.8,639.3 L692.8,640.8 L693.8,638.5 L694.8,651.8 L695.8,649.6 L696.8,654.4 L697.8,657.8 L698.8,655 L699.8,659.5 L700.8,647.3 L701.8,649.7 L702.8,653.1 L703.8,651 L704.8,647.4 L705.8,647.2 L706.8,650.4 L707.8,645.6 L708.8,640 L709.8,635.2 L710.8,637.7 L711.8,627.6 L712.8,618.1 L713.8,621.4 L714.8,611 L715.8,603 L716.8,610.7 L717.8,616.4 L718.8,619.6 L719.8,629.2 L720.8,635.2 L721.8,644.1 L722.8,635.2 L723.8,629.7 L724.8,626.7 L725.8,623.6 L726.8,621.8 L727.8,618.6 L728.8,605.3 L729.8,600.9 L730.8,595.5 L731.8,591.3 L732.8,575 L733.8,569.9 L734.8,555.7 L735.8,546.2 L736.8,553.1 L737.8,567.6 L738.8,572.4 L739.8,583.9 L740.8,589.8 L741.8,589.4 L742.8,585.1 L743.8,585.4 L744.8,585.7 L745.8,581.2 L746.8,570 L747.8,562.1 L748.8,554.7 L749.8,544.6 L750.8,533.6 L751.8,529.6 L752.8,527 L753.8,519.5 L754.8,529.5 L755.8,520.1 L756.8,516.1 L757.8,523.1 L758.8,523.9 L759.8,518 L760.8,520.5 L761.8,527.7 L762.8,526.8 L763.8,535.7 L764.8,532.3 L765.8,534.5 L766.8,541.3 L767.8,554.6 L768.8,564 L769.8,572.5 L770.8,572.3 L771.8,578.5 L772.8,577 L773.8,580.1 L774.8,576.8 L775.8,584 L776.8,585.4 L777.8,583.2 L778.8,584.3 L779.8,589.4 L780.8,593.6 L781.8,590 L782.8,590.8 L783.8,593.8 L784.8,595 L785.8,594.5 L786.8,590.1 L787.8,598.3 L788.8,600.2 L789.8,603.7 L790.8,597 L791.8,600.7 L792.8,601 L793.8,602.8 L794.8,610.4 L795.8,603.7 L796.8,608.4 L797.8,606.7 L798.8,606.8 L799.8,611 L800.8,609.3 L801.8,606.8 L802.8,603.6 L803.8,606.6 L804.8,614 L805.8,603.1 L806.8,604.3 L807.8,599.9 L808.8,610.3 L809.8,595.6 L810.8,597 L811.8,592.4 L812.8,598.6 L813.8,596.3 L814.8,596.4 L815.8,594.5 L816.8,598.3 L817.8,597.2 L818.8,596 L819.8,584.5 L820.8,588.8 L821.8,591.1 L822.8,592.6 L823.8,581.8 L824.8,593.3 L825.8,589.2 L826.8,591.5 L827.8,582.3 L828.8,582 L829.8,579.8 L830.8,579.6 L831.8,577.5 L832.8,570.4 L833.8,574.5 L834.8,568 L835.8,559.8 L836.8,551.9 L837.8,556.6 L838.8,542.5 L839.8,540.3 L840.8,533.9 L841.8,529.5 L842.8,527 L843.8,522.2 L844.8,514.8 L845.8,504.7 L846.8,505 L847.8,497.2 L848.8,488.6 L849.8,485.6 L850.8,468.5 L851.8,461.9 L852.8,454.3 L853.8,466.8 L854.8,482.5 L855.8,493.3 L856.8,503.6 L857.8,520 L858.8,528.6 L859.8,544.9 L860.8,563.7 L861.8,580.8 L862.8,602.9 L863.8,620.1 L864.8,628.6 L865.8,636.3 L866.8,643 L867.8,646.8 L868.8,659.8 L869.8,657.6 L870.8,669.2 L871.8,673.7 L872.8,675.4 L873.8,673.7 L874.8,674.4 L875.8,679.4 L876.8,673.7 L877.8,679.9 L878.8,676.4 L879.8,676.4 L880.8,682.7 L881.8,681.9 L882.8,689.9 L883.8,680.5 L884.8,686.9 L885.8,687.8 L886.8,689 L887.8,688.2 L888.8,685.9 L889.8,693.5 L890.8,694.6 L891.8,694.6 L892.8,695.3 L893.8,698.9 L894.8,699.2 L895.8,699.4 L896.8,696.7 L897.8,702.2 L898.8,697.7 L899.8,702 L900.8,692.7 L901.8,702 L902.8,705.4 L903.8,703 L904.8,707.3 L905.8,704.1 L906.8,710.9 L907.8,706.5 L908.8,715 L909.8,710.5 L910.8,709.1 L911.8,706.8 L912.8,708.9 L913.8,715.7 L914.8,706.7 L915.8,705.8 L916.8,711.1 L917.8,713.8 L918.8,709.3 L919.8,707.9 L920.8,709.8 L921.8,709.8 L922.8,713.6 L923.8,715.8 L924.8,710.1 L925.8,708.2 L926.8,707.2 L927.8,705.7 L928.8,710.4 L929.8,706.3 L930.8,712.7 L931.8,710.1 L932.8,708.8 L933.8,714.8 L934.8,705.9 L935.8,713.4 L936.8,711.2 L937.8,711.6 L938.8,710.9 L939.8,707.8 L940.8,712.7 L941.8,714.4 L942.8,705.4 L943.8,711.4 L944.8,710.8 L945.8,710.3 L946.8,712.3 L947.8,710.7 L948.8,710.1 L949.8,714.6 L950.8,708.6 L951.8,710.2 L952.8,710.2 L953.8,709.1 L954.8,709.9 L955.8,715.4 L956.8,709.1 L957.8,718.6 L958.8,707.1 L959.8,704.7 L960.8,709.6 L961.8,708 L962.8,711.1 L963.8,713 L964.8,708.7 L965.8,711.2 L966.8,710.9 L967.8,719.2" fill="none" stroke="#000" stroke-width="2.6" stroke-linejoin="round"/>
<path d="M1017.8,704.6 L1019.1,707.1 L1020.4,710 L1021.7,711 L1023,719.7 L1024.3,711.8 L1025.6,716.9 L1026.9,711.2 L1028.2,715.8 L1029.5,717 L1030.8,716.6 L1032.1,724.7 L1033.4,712.3 L1034.7,719.9 L1036,715.4 L1037.3,714.6 L1038.6,715.8 L1039.9,712.5 L1041.2,707.5 L1042.5,702.6 L1043.8,700.2 L1045.1,687.7 L1046.4,695 L1047.7,698.4 L1049,703.7 L1050.3,704.9 L1051.6,699.3 L1052.9,703.3 L1054.2,703.2 L1055.5,707.7 L1056.8,706.7 L1058.1,702.1 L1059.4,701.2 L1060.7,687 L1062,693.1 L1063.3,689.8 L1064.6,694.6 L1065.9,693.1 L1067.2,691.8 L1068.5,690.7 L1069.8,688.6 L1071.1,685.6 L1072.4,682.5 L1073.7,685.9 L1075,682.1 L1076.3,684.4 L1077.6,675.1 L1078.9,671.8 L1080.2,666 L1081.5,667.4 L1082.8,658.1 L1084.1,648.6 L1085.4,650.4 L1086.7,646.9 L1088,643.4 L1089.3,634.7 L1090.6,633.2 L1091.9,622.4 L1093.2,617.4 L1094.5,611.5 L1095.8,602.9 L1097.1,595 L1098.4,583.5 L1099.7,583.3 L1101,577.9 L1102.3,577.6 L1103.6,569.2 L1104.9,570.2 L1106.2,562.5 L1107.5,563.5 L1108.8,561.8 L1110.1,559.7 L1111.4,551.8 L1112.7,556.2 L1114,543.3 L1115.3,548.2 L1116.6,541.3 L1117.9,549.1 L1119.2,547.3 L1120.5,554 L1121.8,554.2 L1123.1,564 L1124.4,569.8 L1125.7,567.7 L1127,570.9 L1128.3,573.2 L1129.6,575.9 L1130.9,580.2 L1132.2,581.6 L1133.5,587.8 L1134.8,598.3 L1136.1,598.7 L1137.4,606.4 L1138.7,606.4 L1140,622.3 L1141.3,623.2 L1142.6,622.3 L1143.9,633.7 L1145.2,633.1 L1146.5,647.7 L1147.8,639.3 L1149.1,642.6 L1150.4,650.5 L1151.7,648.8 L1153,650 L1154.3,651.5 L1155.6,649.1 L1156.9,647.8 L1158.2,651.3 L1159.5,642.2 L1160.8,647.5 L1162.1,649.9 L1163.4,643.6 L1164.7,649.8 L1166,640.4 L1167.3,636.5 L1168.6,647.5 L1169.9,650.4 L1171.2,658.9 L1172.5,661.2 L1173.8,666 L1175.1,681.3 L1176.4,690.5 L1177.7,701.7 L1179,701 L1180.3,704.9 L1181.6,711.3 L1182.9,713.4 L1184.2,713.3 L1185.5,708.5 L1186.8,715 L1188.1,714.5 L1189.4,716.4 L1190.7,712 L1192,710 L1193.3,721.1 L1194.6,720.5 L1195.9,712.3 L1197.2,716.3 L1198.5,717.8 L1199.8,715.4 L1201.1,719.3 L1202.4,716.1 L1203.7,712.5 L1205,716 L1206.3,719.1 L1207.6,714.2 L1208.9,720.2 L1210.2,721.3 L1211.5,727.3 L1212.8,719.5 L1214.1,717.2" fill="none" stroke="#000" stroke-width="2.6" stroke-linejoin="round"/>
<path d="M1268,372.8 L1270,372.8 L1272,372.8 L1274,372.8 L1276,372.8 L1278,372.8 L1280,372.8 L1282,372.8 L1284,372.8 L1286,372.8 L1288,372.8 L1290,372.8 L1292,372.8 L1294,372.8 L1296,372.8 L1298,372.8 L1300,372.8 L1302,372.8 L1304,372.8 L1306,372.8 L1308,372.8 L1310,372.8 L1312,372.8 L1314,372.7 L1316,372.7 L1318,372.7 L1320,372.7 L1322,372.6 L1324,372.5 L1326,372.5 L1328,372.4 L1330,372.3 L1332,372.1 L1334,371.9 L1336,371.7 L1338,371.4 L1340,371.1 L1342,370.7 L1344,370.3 L1346,369.7 L1348,369 L1350,368.3 L1352,367.4 L1354,366.4 L1356,365.2 L1358,363.8 L1360,362.3 L1362,360.6 L1364,358.7 L1366,356.6 L1368,354.3 L1370,351.8 L1372,349.1 L1374,346.2 L1376,343.2 L1378,339.9 L1380,336.6 L1382,333.1 L1384,329.6 L1386,326 L1388,322.4 L1390,318.9 L1392,315.4 L1394,312.1 L1396,309 L1398,306.1 L1400,303.5 L1402,301.3 L1404,299.4 L1406,297.9 L1408,296.8 L1410,296.1 L1412,295.9 L1414,296.2 L1416,296.9 L1418,298 L1420,299.5 L1422,301.5 L1424,303.8 L1426,306.4 L1428,309.3 L1430,312.4 L1432,315.8 L1434,319.2 L1436,322.8 L1438,326.3 L1440,329.9 L1442,333.5 L1444,336.9 L1446,340.3 L1448,343.5 L1450,346.5 L1452,349.4 L1454,352.1 L1456,354.6 L1458,356.8 L1460,358.9 L1462,360.8 L1464,362.5 L1466,364 L1468,365.3 L1470,366.5 L1472,367.5 L1474,368.4 L1476,369.1 L1478,369.8 L1480,370.3 L1482,370.8 L1484,371.2 L1486,371.5 L1488,371.7 L1490,372 L1492,372.1 L1494,372.3 L1496,372.4 L1498,372.5 L1500,372.6 L1502,372.6 L1504,372.7 L1506,372.7 L1508,372.7 L1510,372.7 L1512,372.8 L1514,372.8 L1516,372.8 L1518,372.8 L1520,372.8 L1522,372.8 L1524,372.8 L1526,372.8 L1528,372.8 L1530,372.8 L1532,372.8 L1534,372.8 L1536,372.8 L1538,372.8 L1540,372.8 L1542,372.8 L1544,372.8 L1546,372.8 L1548,372.8 L1550,372.8 L1552,372.8 L1554,372.8 L1556,372.8 L1558,372.8 L1560,372.8 L1562,372.8 L1564,372.8 L1566,372.8 L1568,372.8 L1570,372.8 L1572,372.8 L1574,372.8 L1576,372.8 L1578,372.8 L1580,372.8 L1582,372.8 L1584,372.8 L1586,372.8 L1588,372.8 L1590,372.8 L1592,372.8 L1594,372.8 L1596,372.8 L1598,372.8 L1600,372.8 L1602,372.8 L1604,372.8 L1606,372.8 L1608,372.8 L1610,372.8 L1612,372.8 L1614,372.8 L1616,372.8 L1618,372.8 L1620,372.8 L1622,372.8 L1624,372.8 L1626,372.8 L1628,372.8 L1630,372.8 L1632,372.8 L1634,372.8 L1636,372.8 L1638,372.8 L1640,372.8 L1642,372.8 L1644,372.8 L1646,372.8 L1648,372.8 L1650,372.8 L1652,372.8 L1654,372.8 L1656,372.8 L1658,372.8 L1660,372.8Z" fill="#ff0000" fill-opacity="0.5" stroke="#ff0000" stroke-width="2.4"/>
<path d="M1268,372.8 L1270,372.8 L1272,372.8 L1274,372.8 L1276,372.8 L1278,372.8 L1280,372.8 L1282,372.8 L1284,372.8 L1286,372.8 L1288,372.8 L1290,372.8 L1292,372.8 L1294,372.8 L1296,372.8 L1298,372.8 L1300,372.8 L1302,372.8 L1304,372.8 L1306,372.8 L1308,372.8 L1310,372.8 L1312,372.8 L1314,372.8 L1316,372.8 L1318,372.8 L1320,372.8 L1322,372.8 L1324,372.8 L1326,372.8 L1328,372.8 L1330,372.8 L1332,372.8 L1334,372.8 L1336,372.8 L1338,372.8 L1340,372.8 L1342,372.8 L1344,372.8 L1346,372.8 L1348,372.8 L1350,372.8 L1352,372.8 L1354,372.8 L1356,372.8 L1358,372.8 L1360,372.8 L1362,372.7 L1364,372.7 L1366,372.7 L1368,372.6 L1370,372.6 L1372,372.5 L1374,372.4 L1376,372.3 L1378,372.2 L1380,372 L1382,371.8 L1384,371.5 L1386,371.1 L1388,370.7 L1390,370.2 L1392,369.5 L1394,368.7 L1396,367.7 L1398,366.6 L1400,365.2 L1402,363.6 L1404,361.6 L1406,359.3 L1408,356.7 L1410,353.6 L1412,350.1 L1414,346 L1416,341.4 L1418,336.2 L1420,330.4 L1422,323.9 L1424,316.7 L1426,308.7 L1428,300.1 L1430,290.6 L1432,280.5 L1434,269.7 L1436,258.2 L1438,246 L1440,233.4 L1442,220.3 L1444,206.8 L1446,193.1 L1448,179.3 L1450,165.5 L1452,151.9 L1454,138.7 L1456,125.9 L1458,113.9 L1460,102.7 L1462,92.5 L1464,83.5 L1466,75.7 L1468,69.4 L1470,64.5 L1472,61.3 L1474,59.6 L1476,59.6 L1478,61.3 L1480,64.5 L1482,69.4 L1484,75.7 L1486,83.5 L1488,92.5 L1490,102.7 L1492,113.9 L1494,125.9 L1496,138.7 L1498,151.9 L1500,165.5 L1502,179.3 L1504,193.1 L1506,206.8 L1508,220.3 L1510,233.4 L1512,246 L1514,258.2 L1516,269.7 L1518,280.5 L1520,290.6 L1522,300.1 L1524,308.7 L1526,316.7 L1528,323.9 L1530,330.4 L1532,336.2 L1534,341.4 L1536,346 L1538,350.1 L1540,353.6 L1542,356.7 L1544,359.3 L1546,361.6 L1548,363.6 L1550,365.2 L1552,366.6 L1554,367.7 L1556,368.7 L1558,369.5 L1560,370.2 L1562,370.7 L1564,371.1 L1566,371.5 L1568,371.8 L1570,372 L1572,372.2 L1574,372.3 L1576,372.4 L1578,372.5 L1580,372.6 L1582,372.6 L1584,372.7 L1586,372.7 L1588,372.7 L1590,372.8 L1592,372.8 L1594,372.8 L1596,372.8 L1598,372.8 L1600,372.8 L1602,372.8 L1604,372.8 L1606,372.8 L1608,372.8 L1610,372.8 L1612,372.8 L1614,372.8 L1616,372.8 L1618,372.8 L1620,372.8 L1622,372.8 L1624,372.8 L1626,372.8 L1628,372.8 L1630,372.8 L1632,372.8 L1634,372.8 L1636,372.8 L1638,372.8 L1640,372.8 L1642,372.8 L1644,372.8 L1646,372.8 L1648,372.8 L1650,372.8 L1652,372.8 L1654,372.8 L1656,372.8 L1658,372.8 L1660,372.8Z" fill="#1fa8f5" fill-opacity="0.5" stroke="#1aa0ea" stroke-width="2.4"/>
<path d="M1268,372.8 L1270,372.8 L1272,372.8 L1274,372.8 L1276,372.8 L1278,372.8 L1280,372.8 L1282,372.8 L1284,372.8 L1286,372.8 L1288,372.8 L1290,372.8 L1292,372.8 L1294,372.8 L1296,372.8 L1298,372.8 L1300,372.8 L1302,372.8 L1304,372.8 L1306,372.8 L1308,372.8 L1310,372.8 L1312,372.8 L1314,372.8 L1316,372.8 L1318,372.8 L1320,372.8 L1322,372.8 L1324,372.8 L1326,372.8 L1328,372.8 L1330,372.8 L1332,372.8 L1334,372.8 L1336,372.8 L1338,372.8 L1340,372.8 L1342,372.8 L1344,372.8 L1346,372.8 L1348,372.8 L1350,372.8 L1352,372.8 L1354,372.8 L1356,372.8 L1358,372.8 L1360,372.8 L1362,372.8 L1364,372.8 L1366,372.8 L1368,372.8 L1370,372.8 L1372,372.8 L1374,372.8 L1376,372.8 L1378,372.8 L1380,372.8 L1382,372.8 L1384,372.8 L1386,372.8 L1388,372.8 L1390,372.8 L1392,372.8 L1394,372.8 L1396,372.8 L1398,372.8 L1400,372.8 L1402,372.8 L1404,372.8 L1406,372.8 L1408,372.8 L1410,372.8 L1412,372.8 L1414,372.8 L1416,372.8 L1418,372.8 L1420,372.8 L1422,372.8 L1424,372.8 L1426,372.8 L1428,372.8 L1430,372.8 L1432,372.8 L1434,372.8 L1436,372.8 L1438,372.8 L1440,372.8 L1442,372.8 L1444,372.8 L1446,372.8 L1448,372.8 L1450,372.8 L1452,372.8 L1454,372.8 L1456,372.7 L1458,372.7 L1460,372.7 L1462,372.6 L1464,372.5 L1466,372.3 L1468,372.2 L1470,371.9 L1472,371.5 L1474,371 L1476,370.3 L1478,369.5 L1480,368.3 L1482,366.9 L1484,365 L1486,362.7 L1488,359.9 L1490,356.5 L1492,352.4 L1494,347.5 L1496,341.9 L1498,335.5 L1500,328.3 L1502,320.2 L1504,311.5 L1506,302.1 L1508,292.1 L1510,281.9 L1512,271.5 L1514,261.2 L1516,251.3 L1518,242.1 L1520,233.8 L1522,226.6 L1524,220.8 L1526,216.6 L1528,214.2 L1530,213.5 L1532,214.7 L1534,217.7 L1536,222.4 L1538,228.6 L1540,236.1 L1542,244.8 L1544,254.3 L1546,264.3 L1548,274.6 L1550,285 L1552,295.2 L1554,304.9 L1556,314.2 L1558,322.7 L1560,330.5 L1562,337.5 L1564,343.7 L1566,349.1 L1568,353.7 L1570,357.6 L1572,360.8 L1574,363.5 L1576,365.6 L1578,367.3 L1580,368.7 L1582,369.7 L1584,370.6 L1586,371.2 L1588,371.6 L1590,372 L1592,372.2 L1594,372.4 L1596,372.5 L1598,372.6 L1600,372.7 L1602,372.7 L1604,372.7 L1606,372.8 L1608,372.8 L1610,372.8 L1612,372.8 L1614,372.8 L1616,372.8 L1618,372.8 L1620,372.8 L1622,372.8 L1624,372.8 L1626,372.8 L1628,372.8 L1630,372.8 L1632,372.8 L1634,372.8 L1636,372.8 L1638,372.8 L1640,372.8 L1642,372.8 L1644,372.8 L1646,372.8 L1648,372.8 L1650,372.8 L1652,372.8 L1654,372.8 L1656,372.8 L1658,372.8 L1660,372.8Z" fill="#00dd00" fill-opacity="0.5" stroke="#10cc10" stroke-width="2.4"/>
<path d="M1268,372.8 L1270,372.8 L1272,372.8 L1274,372.8 L1276,372.8 L1278,372.8 L1280,372.8 L1282,372.8 L1284,372.8 L1286,372.8 L1288,372.8 L1290,372.8 L1292,372.8 L1294,372.8 L1296,372.8 L1298,372.8 L1300,372.8 L1302,372.8 L1304,372.8 L1306,372.8 L1308,372.8 L1310,372.8 L1312,372.8 L1314,372.8 L1316,372.8 L1318,372.8 L1320,372.8 L1322,372.8 L1324,372.8 L1326,372.8 L1328,372.8 L1330,372.8 L1332,372.8 L1334,372.8 L1336,372.8 L1338,372.8 L1340,372.8 L1342,372.8 L1344,372.8 L1346,372.8 L1348,372.8 L1350,372.8 L1352,372.8 L1354,372.8 L1356,372.8 L1358,372.8 L1360,372.8 L1362,372.8 L1364,372.8 L1366,372.8 L1368,372.8 L1370,372.8 L1372,372.8 L1374,372.8 L1376,372.8 L1378,372.8 L1380,372.8 L1382,372.8 L1384,372.8 L1386,372.8 L1388,372.8 L1390,372.8 L1392,372.8 L1394,372.8 L1396,372.8 L1398,372.8 L1400,372.8 L1402,372.8 L1404,372.8 L1406,372.8 L1408,372.8 L1410,372.8 L1412,372.8 L1414,372.8 L1416,372.8 L1418,372.8 L1420,372.8 L1422,372.8 L1424,372.8 L1426,372.8 L1428,372.8 L1430,372.8 L1432,372.8 L1434,372.8 L1436,372.8 L1438,372.8 L1440,372.8 L1442,372.8 L1444,372.8 L1446,372.8 L1448,372.8 L1450,372.8 L1452,372.8 L1454,372.8 L1456,372.8 L1458,372.8 L1460,372.8 L1462,372.8 L1464,372.8 L1466,372.8 L1468,372.8 L1470,372.8 L1472,372.8 L1474,372.8 L1476,372.8 L1478,372.8 L1480,372.8 L1482,372.8 L1484,372.8 L1486,372.8 L1488,372.8 L1490,372.8 L1492,372.8 L1494,372.8 L1496,372.8 L1498,372.8 L1500,372.8 L1502,372.8 L1504,372.8 L1506,372.8 L1508,372.8 L1510,372.8 L1512,372.8 L1514,372.8 L1516,372.8 L1518,372.8 L1520,372.7 L1522,372.7 L1524,372.6 L1526,372.5 L1528,372.4 L1530,372.2 L1532,371.9 L1534,371.5 L1536,371 L1538,370.3 L1540,369.4 L1542,368.3 L1544,367 L1546,365.5 L1548,363.8 L1550,361.9 L1552,359.8 L1554,357.6 L1556,355.5 L1558,353.4 L1560,351.6 L1562,350 L1564,348.8 L1566,348.1 L1568,347.8 L1570,348.1 L1572,348.8 L1574,350 L1576,351.6 L1578,353.4 L1580,355.5 L1582,357.6 L1584,359.8 L1586,361.9 L1588,363.8 L1590,365.5 L1592,367 L1594,368.3 L1596,369.4 L1598,370.3 L1600,371 L1602,371.5 L1604,371.9 L1606,372.2 L1608,372.4 L1610,372.5 L1612,372.6 L1614,372.7 L1616,372.7 L1618,372.8 L1620,372.8 L1622,372.8 L1624,372.8 L1626,372.8 L1628,372.8 L1630,372.8 L1632,372.8 L1634,372.8 L1636,372.8 L1638,372.8 L1640,372.8 L1642,372.8 L1644,372.8 L1646,372.8 L1648,372.8 L1650,372.8 L1652,372.8 L1654,372.8 L1656,372.8 L1658,372.8 L1660,372.8Z" fill="#ff8000" fill-opacity="0.5" stroke="#ff8000" stroke-width="2.4"/>
<path d="M1268,372.8 L1270,372.8 L1272,372.8 L1274,372.8 L1276,372.8 L1278,372.8 L1280,372.8 L1282,372.8 L1284,372.8 L1286,372.8 L1288,372.8 L1290,372.8 L1292,372.8 L1294,372.8 L1296,372.8 L1298,372.8 L1300,372.8 L1302,372.8 L1304,372.8 L1306,372.8 L1308,372.8 L1310,372.8 L1312,372.8 L1314,372.8 L1316,372.8 L1318,372.8 L1320,372.8 L1322,372.8 L1324,372.8 L1326,372.8 L1328,372.8 L1330,372.8 L1332,372.8 L1334,372.8 L1336,372.8 L1338,372.8 L1340,372.8 L1342,372.8 L1344,372.8 L1346,372.8 L1348,372.8 L1350,372.8 L1352,372.8 L1354,372.8 L1356,372.8 L1358,372.8 L1360,372.8 L1362,372.8 L1364,372.8 L1366,372.8 L1368,372.8 L1370,372.8 L1372,372.8 L1374,372.8 L1376,372.8 L1378,372.8 L1380,372.8 L1382,372.8 L1384,372.8 L1386,372.8 L1388,372.8 L1390,372.8 L1392,372.8 L1394,372.8 L1396,372.8 L1398,372.8 L1400,372.8 L1402,372.8 L1404,372.8 L1406,372.8 L1408,372.8 L1410,372.8 L1412,372.8 L1414,372.8 L1416,372.8 L1418,372.8 L1420,372.8 L1422,372.8 L1424,372.8 L1426,372.8 L1428,372.8 L1430,372.8 L1432,372.8 L1434,372.8 L1436,372.8 L1438,372.8 L1440,372.8 L1442,372.8 L1444,372.8 L1446,372.8 L1448,372.8 L1450,372.8 L1452,372.8 L1454,372.8 L1456,372.8 L1458,372.8 L1460,372.8 L1462,372.8 L1464,372.8 L1466,372.8 L1468,372.8 L1470,372.8 L1472,372.8 L1474,372.8 L1476,372.8 L1478,372.8 L1480,372.8 L1482,372.8 L1484,372.8 L1486,372.8 L1488,372.8 L1490,372.8 L1492,372.8 L1494,372.8 L1496,372.8 L1498,372.8 L1500,372.8 L1502,372.8 L1504,372.8 L1506,372.8 L1508,372.8 L1510,372.8 L1512,372.8 L1514,372.8 L1516,372.8 L1518,372.8 L1520,372.8 L1522,372.8 L1524,372.8 L1526,372.8 L1528,372.8 L1530,372.8 L1532,372.8 L1534,372.8 L1536,372.8 L1538,372.8 L1540,372.8 L1542,372.8 L1544,372.8 L1546,372.8 L1548,372.8 L1550,372.8 L1552,372.8 L1554,372.8 L1556,372.8 L1558,372.8 L1560,372.8 L1562,372.8 L1564,372.8 L1566,372.7 L1568,372.6 L1570,372.5 L1572,372.2 L1574,371.8 L1576,371.1 L1578,370.2 L1580,369.1 L1582,367.6 L1584,365.9 L1586,364 L1588,362.2 L1590,360.7 L1592,359.6 L1594,359.1 L1596,359.3 L1598,360.1 L1600,361.4 L1602,363.1 L1604,365 L1606,366.7 L1608,368.4 L1610,369.7 L1612,370.7 L1614,371.5 L1616,372 L1618,372.3 L1620,372.6 L1622,372.7 L1624,372.7 L1626,372.8 L1628,372.8 L1630,372.8 L1632,372.8 L1634,372.8 L1636,372.8 L1638,372.8 L1640,372.8 L1642,372.8 L1644,372.8 L1646,372.8 L1648,372.8 L1650,372.8 L1652,372.8 L1654,372.8 L1656,372.8 L1658,372.8 L1660,372.8Z" fill="#8000ff" fill-opacity="0.5" stroke="#8000ff" stroke-width="2.4"/>
<path d="M1268,374.7 L1269.2,378.2 L1270.4,372.1 L1271.6,376.5 L1272.8,378 L1274,375.2 L1275.2,373 L1276.4,364.7 L1277.6,367.6 L1278.8,365.1 L1280,366.2 L1281.2,368.5 L1282.4,374 L1283.6,371.8 L1284.8,374.2 L1286,373.9 L1287.2,380.5 L1288.4,367.3 L1289.6,370 L1290.8,364.1 L1292,369.4 L1293.2,366.2 L1294.4,369.6 L1295.6,374.5 L1296.8,378.4 L1298,375.6 L1299.2,380.4 L1300.4,379.7 L1301.6,374.5 L1302.8,373.8 L1304,377.2 L1305.2,376.5 L1306.4,374.7 L1307.6,372.9 L1308.8,375.6 L1310,374.3 L1311.2,378.6 L1312.4,369 L1313.6,373.4 L1314.8,365.9 L1316,369 L1317.2,376.7 L1318.4,371.1 L1319.6,365.5 L1320.8,366.8 L1322,371.3 L1323.2,375.4 L1324.4,377.3 L1325.6,381.5 L1326.8,378.2 L1328,368.6 L1329.2,376.9 L1330.4,370.6 L1331.6,376.1 L1332.8,376.1 L1334,376.2 L1335.2,371.9 L1336.4,373.8 L1337.6,372 L1338.8,373.8 L1340,372.5 L1341.2,372.7 L1342.4,368.7 L1343.6,368.7 L1344.8,370.8 L1346,361.2 L1347.2,365.8 L1348.4,370.1 L1349.6,374 L1350.8,375.2 L1352,374.1 L1353.2,361.7 L1354.4,359.9 L1355.6,357.1 L1356.8,357.5 L1358,358.5 L1359.2,356.2 L1360.4,354 L1361.6,345.7 L1362.8,354.1 L1364,354.1 L1365.2,357.8 L1366.4,354.9 L1367.6,347.4 L1368.8,345.4 L1370,344.9 L1371.2,340.6 L1372.4,333 L1373.6,335.7 L1374.8,337.9 L1376,330.9 L1377.2,335.8 L1378.4,328.8 L1379.6,330.4 L1380.8,329 L1382,334.5 L1383.2,320.1 L1384.4,316.1 L1385.6,314.3 L1386.8,316.4 L1388,311.2 L1389.2,311.1 L1390.4,312 L1391.6,304.4 L1392.8,301.2 L1394,306.3 L1395.2,305.6 L1396.4,303.2 L1397.6,295.4 L1398.8,289 L1400,292.6 L1401.2,277.4 L1402.4,278 L1403.6,279.6 L1404.8,289.4 L1406,277.7 L1407.2,278.4 L1408.4,269.6 L1409.6,272.2 L1410.8,276.8 L1412,270.7 L1413.2,267.4 L1414.4,264.9 L1415.6,261.1 L1416.8,258.5 L1418,258.8 L1419.2,255.6 L1420.4,252.1 L1421.6,249.6 L1422.8,241.5 L1424,243.2 L1425.2,240.3 L1426.4,229.3 L1427.6,224.8 L1428.8,227.7 L1430,224.7 L1431.2,227.4 L1432.4,222 L1433.6,207.3 L1434.8,198.4 L1436,194.3 L1437.2,196.1 L1438.4,179.5 L1439.6,184.9 L1440.8,182.5 L1442,174.9 L1443.2,171.7 L1444.4,162.2 L1445.6,148.3 L1446.8,149.9 L1448,138.7 L1449.2,135.3 L1450.4,131.9 L1451.6,134.1 L1452.8,122.9 L1454,117.8 L1455.2,110.6 L1456.4,102 L1457.6,100.3 L1458.8,96.7 L1460,88.2 L1461.2,76.6 L1462.4,76.9 L1463.6,83.6 L1464.8,70.9 L1466,67.6 L1467.2,56.4 L1468.4,57.2 L1469.6,56.3 L1470.8,63.2 L1472,60.4 L1473.2,56.8 L1474.4,58 L1475.6,55.1 L1476.8,62.9 L1478,56.8 L1479.2,62.1 L1480.4,67.1 L1481.6,60.3 L1482.8,65 L1484,63.4 L1485.2,66.2 L1486.4,73.1 L1487.6,78.5 L1488.8,83.7 L1490,91.6 L1491.2,89.1 L1492.4,92.9 L1493.6,96.6 L1494.8,98.6 L1496,109.7 L1497.2,111.6 L1498.4,114.8 L1499.6,117.6 L1500.8,121.4 L1502,126.5 L1503.2,122.6 L1504.4,134.2 L1505.6,138.3 L1506.8,139 L1508,132.1 L1509.2,134 L1510.4,139.8 L1511.6,137.9 L1512.8,140.5 L1514,142.4 L1515.2,147.3 L1516.4,141.2 L1517.6,149.7 L1518.8,148.4 L1520,147.4 L1521.2,152.2 L1522.4,139.3 L1523.6,145.1 L1524.8,152.3 L1526,158.4 L1527.2,151.5 L1528.4,153.1 L1529.6,164 L1530.8,172 L1532,172.6 L1533.2,175.7 L1534.4,187.7 L1535.6,183.5 L1536.8,188.4 L1538,200.7 L1539.2,212.2 L1540.4,215.3 L1541.6,219 L1542.8,222.3 L1544,233 L1545.2,248.1 L1546.4,246.3 L1547.6,252.4 L1548.8,249.6 L1550,263.8 L1551.2,272.7 L1552.4,284.5 L1553.6,280.2 L1554.8,284.9 L1556,290.9 L1557.2,290.8 L1558.4,306.9 L1559.6,298.3 L1560.8,305.1 L1562,302.9 L1563.2,308 L1564.4,312.9 L1565.6,317.3 L1566.8,327.1 L1568,322.5 L1569.2,328.6 L1570.4,332.4 L1571.6,328.7 L1572.8,331.3 L1574,343.8 L1575.2,340.8 L1576.4,332.5 L1577.6,335.6 L1578.8,333.8 L1580,342 L1581.2,339.1 L1582.4,349.6 L1583.6,351.1 L1584.8,351.4 L1586,350.4 L1587.2,354.4 L1588.4,353.1 L1589.6,353.3 L1590.8,352.8 L1592,352.1 L1593.2,348.5 L1594.4,353.3 L1595.6,347.5 L1596.8,349.9 L1598,354.1 L1599.2,358.3 L1600.4,358 L1601.6,360.6 L1602.8,363.2 L1604,358.9 L1605.2,353 L1606.4,361.1 L1607.6,368.8 L1608.8,367.6 L1610,367.1 L1611.2,371.2 L1612.4,379.5 L1613.6,373.7 L1614.8,376.2 L1616,379.4 L1617.2,372.3 L1618.4,373 L1619.6,375.7 L1620.8,377.3 L1622,373.3 L1623.2,371.4 L1624.4,364.8 L1625.6,375.7 L1626.8,372.1 L1628,383.8 L1629.2,375.6 L1630.4,377.7 L1631.6,374.7 L1632.8,364.7 L1634,371.2 L1635.2,373.8 L1636.4,376.4 L1637.6,371.2 L1638.8,376.5 L1640,374.1 L1641.2,372.9 L1642.4,381.4 L1643.6,382.9 L1644.8,377.5 L1646,373.4 L1647.2,371.9 L1648.4,371.8 L1649.6,364 L1650.8,376.3 L1652,381.5 L1653.2,370.6 L1654.4,372.2 L1655.6,367 L1656.8,366.7 L1658,371.4 L1659.2,362.8 L1660.4,366.8 L1661.6,367.3" fill="none" stroke="#000" stroke-width="2.4" stroke-linejoin="round"/>
<path d="M1268,372.8 L1269,372.8 L1270,372.8 L1271,372.8 L1272,372.8 L1273,372.8 L1274,372.8 L1275,372.8 L1276,372.8 L1277,372.8 L1278,372.8 L1279,372.8 L1280,372.8 L1281,372.8 L1282,372.8 L1283,372.8 L1284,372.8 L1285,372.8 L1286,372.8 L1287,372.8 L1288,372.8 L1289,372.8 L1290,372.8 L1291,372.8 L1292,372.8 L1293,372.8 L1294,372.8 L1295,372.8 L1296,372.8 L1297,372.8 L1298,372.8 L1299,372.8 L1300,372.8 L1301,372.8 L1302,372.8 L1303,372.8 L1304,372.8 L1305,372.8 L1306,372.8 L1307,372.8 L1308,372.8 L1309,372.8 L1310,372.8 L1311,372.8 L1312,372.8 L1313,372.7 L1314,372.7 L1315,372.7 L1316,372.7 L1317,372.7 L1318,372.7 L1319,372.7 L1320,372.7 L1321,372.6 L1322,372.6 L1323,372.6 L1324,372.5 L1325,372.5 L1326,372.5 L1327,372.4 L1328,372.4 L1329,372.3 L1330,372.3 L1331,372.2 L1332,372.1 L1333,372 L1334,371.9 L1335,371.8 L1336,371.7 L1337,371.6 L1338,371.4 L1339,371.3 L1340,371.1 L1341,370.9 L1342,370.7 L1343,370.5 L1344,370.3 L1345,370 L1346,369.7 L1347,369.4 L1348,369 L1349,368.7 L1350,368.3 L1351,367.8 L1352,367.4 L1353,366.9 L1354,366.3 L1355,365.8 L1356,365.1 L1357,364.5 L1358,363.8 L1359,363.1 L1360,362.3 L1361,361.4 L1362,360.5 L1363,359.6 L1364,358.6 L1365,357.6 L1366,356.5 L1367,355.3 L1368,354.2 L1369,352.9 L1370,351.6 L1371,350.2 L1372,348.8 L1373,347.4 L1374,345.9 L1375,344.3 L1376,342.7 L1377,341 L1378,339.3 L1379,337.6 L1380,335.8 L1381,333.9 L1382,332.1 L1383,330.2 L1384,328.2 L1385,326.3 L1386,324.3 L1387,322.3 L1388,320.3 L1389,318.3 L1390,316.2 L1391,314.2 L1392,312.1 L1393,310.1 L1394,308 L1395,306 L1396,304 L1397,301.9 L1398,299.9 L1399,297.9 L1400,295.9 L1401,294 L1402,292 L1403,290.1 L1404,288.2 L1405,286.3 L1406,284.4 L1407,282.5 L1408,280.6 L1409,278.8 L1410,276.9 L1411,275.1 L1412,273.2 L1413,271.3 L1414,269.4 L1415,267.4 L1416,265.5 L1417,263.5 L1418,261.4 L1419,259.3 L1420,257.1 L1421,254.9 L1422,252.6 L1423,250.2 L1424,247.7 L1425,245.1 L1426,242.3 L1427,239.5 L1428,236.6 L1429,233.5 L1430,230.3 L1431,226.9 L1432,223.5 L1433,219.8 L1434,216.1 L1435,212.2 L1436,208.1 L1437,203.9 L1438,199.6 L1439,195.1 L1440,190.5 L1441,185.8 L1442,180.9 L1443,175.9 L1444,170.9 L1445,165.7 L1446,160.5 L1447,155.2 L1448,149.9 L1449,144.6 L1450,139.2 L1451,133.8 L1452,128.5 L1453,123.1 L1454,117.9 L1455,112.7 L1456,107.6 L1457,102.7 L1458,97.8 L1459,93.2 L1460,88.7 L1461,84.4 L1462,80.3 L1463,76.5 L1464,72.9 L1465,69.5 L1466,66.5 L1467,63.7 L1468,61.2 L1469,59.1 L1470,57.3 L1471,55.8 L1472,54.6 L1473,53.8 L1474,53.4 L1475,53.2 L1476,53.5 L1477,54 L1478,54.9 L1479,56.1 L1480,57.6 L1481,59.4 L1482,61.4 L1483,63.7 L1484,66.3 L1485,69.1 L1486,72.1 L1487,75.3 L1488,78.6 L1489,82 L1490,85.5 L1491,89.2 L1492,92.8 L1493,96.5 L1494,100.2 L1495,103.8 L1496,107.4 L1497,110.9 L1498,114.3 L1499,117.6 L1500,120.7 L1501,123.7 L1502,126.5 L1503,129.1 L1504,131.6 L1505,133.9 L1506,135.9 L1507,137.8 L1508,139.5 L1509,141 L1510,142.4 L1511,143.6 L1512,144.7 L1513,145.7 L1514,146.5 L1515,147.4 L1516,148.2 L1517,148.9 L1518,149.7 L1519,150.6 L1520,151.5 L1521,152.5 L1522,153.7 L1523,155 L1524,156.5 L1525,158.3 L1526,160.2 L1527,162.4 L1528,164.8 L1529,167.5 L1530,170.5 L1531,173.7 L1532,177.2 L1533,181 L1534,185 L1535,189.3 L1536,193.8 L1537,198.5 L1538,203.4 L1539,208.4 L1540,213.6 L1541,218.9 L1542,224.2 L1543,229.6 L1544,235 L1545,240.5 L1546,245.8 L1547,251.1 L1548,256.4 L1549,261.5 L1550,266.4 L1551,271.3 L1552,275.9 L1553,280.4 L1554,284.7 L1555,288.8 L1556,292.8 L1557,296.5 L1558,300.1 L1559,303.4 L1560,306.7 L1561,309.7 L1562,312.6 L1563,315.4 L1564,318 L1565,320.5 L1566,322.9 L1567,325.2 L1568,327.5 L1569,329.6 L1570,331.7 L1571,333.7 L1572,335.6 L1573,337.4 L1574,339.1 L1575,340.8 L1576,342.4 L1577,343.8 L1578,345.1 L1579,346.3 L1580,347.4 L1581,348.4 L1582,349.2 L1583,349.9 L1584,350.5 L1585,351 L1586,351.4 L1587,351.7 L1588,352 L1589,352.3 L1590,352.6 L1591,352.9 L1592,353.2 L1593,353.7 L1594,354.2 L1595,354.9 L1596,355.6 L1597,356.4 L1598,357.4 L1599,358.4 L1600,359.5 L1601,360.6 L1602,361.7 L1603,362.9 L1604,364 L1605,365.1 L1606,366.1 L1607,367 L1608,367.9 L1609,368.7 L1610,369.4 L1611,370 L1612,370.5 L1613,371 L1614,371.4 L1615,371.7 L1616,371.9 L1617,372.1 L1618,372.3 L1619,372.4 L1620,372.5 L1621,372.6 L1622,372.7 L1623,372.7 L1624,372.7 L1625,372.7 L1626,372.8 L1627,372.8 L1628,372.8 L1629,372.8 L1630,372.8 L1631,372.8 L1632,372.8 L1633,372.8 L1634,372.8 L1635,372.8 L1636,372.8 L1637,372.8 L1638,372.8 L1639,372.8 L1640,372.8 L1641,372.8 L1642,372.8 L1643,372.8 L1644,372.8 L1645,372.8 L1646,372.8 L1647,372.8 L1648,372.8 L1649,372.8 L1650,372.8 L1651,372.8 L1652,372.8 L1653,372.8 L1654,372.8 L1655,372.8 L1656,372.8 L1657,372.8 L1658,372.8 L1659,372.8 L1660,372.8 L1661,372.8" fill="none" stroke="#f07cc0" stroke-width="2"/>
<path d="M1268,717.7 L1270,717.7 L1272,717.7 L1274,717.7 L1276,717.7 L1278,717.7 L1280,717.7 L1282,717.7 L1284,717.7 L1286,717.7 L1288,717.7 L1290,717.7 L1292,717.7 L1294,717.7 L1296,717.7 L1298,717.7 L1300,717.7 L1302,717.7 L1304,717.7 L1306,717.7 L1308,717.7 L1310,717.7 L1312,717.7 L1314,717.6 L1316,717.6 L1318,717.6 L1320,717.5 L1322,717.5 L1324,717.4 L1326,717.3 L1328,717.2 L1330,717 L1332,716.9 L1334,716.6 L1336,716.3 L1338,716 L1340,715.6 L1342,715 L1344,714.4 L1346,713.7 L1348,712.9 L1350,712 L1352,710.9 L1354,709.7 L1356,708.4 L1358,706.9 L1360,705.3 L1362,703.5 L1364,701.7 L1366,699.8 L1368,697.8 L1370,695.8 L1372,693.7 L1374,691.7 L1376,689.8 L1378,687.9 L1380,686.2 L1382,684.7 L1384,683.4 L1386,682.3 L1388,681.5 L1390,680.9 L1392,680.7 L1394,680.8 L1396,681.2 L1398,681.8 L1400,682.8 L1402,684 L1404,685.4 L1406,687 L1408,688.8 L1410,690.7 L1412,692.7 L1414,694.7 L1416,696.8 L1418,698.8 L1420,700.8 L1422,702.6 L1424,704.4 L1426,706.1 L1428,707.6 L1430,709 L1432,710.3 L1434,711.5 L1436,712.5 L1438,713.3 L1440,714.1 L1442,714.8 L1444,715.3 L1446,715.8 L1448,716.2 L1450,716.5 L1452,716.7 L1454,717 L1456,717.1 L1458,717.3 L1460,717.4 L1462,717.4 L1464,717.5 L1466,717.6 L1468,717.6 L1470,717.6 L1472,717.6 L1474,717.7 L1476,717.7 L1478,717.7 L1480,717.7 L1482,717.7 L1484,717.7 L1486,717.7 L1488,717.7 L1490,717.7 L1492,717.7 L1494,717.7 L1496,717.7 L1498,717.7 L1500,717.7 L1502,717.7 L1504,717.7 L1506,717.7 L1508,717.7 L1510,717.7 L1512,717.7 L1514,717.7 L1516,717.7 L1518,717.7 L1520,717.7 L1522,717.7 L1524,717.7 L1526,717.7 L1528,717.7 L1530,717.7 L1532,717.7 L1534,717.7 L1536,717.7 L1538,717.7 L1540,717.7 L1542,717.7 L1544,717.7 L1546,717.7 L1548,717.7 L1550,717.7 L1552,717.7 L1554,717.7 L1556,717.7 L1558,717.7 L1560,717.7 L1562,717.7 L1564,717.7 L1566,717.7 L1568,717.7 L1570,717.7 L1572,717.7 L1574,717.7 L1576,717.7 L1578,717.7 L1580,717.7 L1582,717.7 L1584,717.7 L1586,717.7 L1588,717.7 L1590,717.7 L1592,717.7 L1594,717.7 L1596,717.7 L1598,717.7 L1600,717.7 L1602,717.7 L1604,717.7 L1606,717.7 L1608,717.7 L1610,717.7 L1612,717.7 L1614,717.7 L1616,717.7 L1618,717.7 L1620,717.7 L1622,717.7 L1624,717.7 L1626,717.7 L1628,717.7 L1630,717.7 L1632,717.7 L1634,717.7 L1636,717.7 L1638,717.7 L1640,717.7 L1642,717.7 L1644,717.7 L1646,717.7 L1648,717.7 L1650,717.7 L1652,717.7 L1654,717.7 L1656,717.7 L1658,717.7 L1660,717.7Z" fill="#ff0000" fill-opacity="0.5" stroke="#ff0000" stroke-width="2.4"/>
<path d="M1268,717.7 L1270,717.7 L1272,717.7 L1274,717.7 L1276,717.7 L1278,717.7 L1280,717.7 L1282,717.7 L1284,717.7 L1286,717.7 L1288,717.7 L1290,717.7 L1292,717.7 L1294,717.7 L1296,717.7 L1298,717.7 L1300,717.7 L1302,717.7 L1304,717.7 L1306,717.7 L1308,717.7 L1310,717.7 L1312,717.7 L1314,717.7 L1316,717.7 L1318,717.7 L1320,717.7 L1322,717.7 L1324,717.7 L1326,717.7 L1328,717.7 L1330,717.7 L1332,717.6 L1334,717.6 L1336,717.6 L1338,717.6 L1340,717.6 L1342,717.5 L1344,717.5 L1346,717.4 L1348,717.4 L1350,717.3 L1352,717.2 L1354,717.1 L1356,717 L1358,716.9 L1360,716.7 L1362,716.6 L1364,716.3 L1366,716.1 L1368,715.8 L1370,715.5 L1372,715.1 L1374,714.7 L1376,714.2 L1378,713.6 L1380,713 L1382,712.2 L1384,711.4 L1386,710.5 L1388,709.5 L1390,708.4 L1392,707.2 L1394,705.9 L1396,704.4 L1398,702.8 L1400,701.1 L1402,699.2 L1404,697.2 L1406,695.1 L1408,692.8 L1410,690.4 L1412,687.8 L1414,685.2 L1416,682.4 L1418,679.5 L1420,676.5 L1422,673.4 L1424,670.3 L1426,667.1 L1428,663.9 L1430,660.7 L1432,657.5 L1434,654.4 L1436,651.3 L1438,648.3 L1440,645.4 L1442,642.7 L1444,640.1 L1446,637.7 L1448,635.5 L1450,633.6 L1452,631.9 L1454,630.5 L1456,629.3 L1458,628.5 L1460,627.9 L1462,627.7 L1464,627.8 L1466,628.2 L1468,628.9 L1470,629.9 L1472,631.1 L1474,632.7 L1476,634.5 L1478,636.6 L1480,638.9 L1482,641.3 L1484,644 L1486,646.8 L1488,649.8 L1490,652.8 L1492,655.9 L1494,659.1 L1496,662.3 L1498,665.5 L1500,668.7 L1502,671.9 L1504,675 L1506,678 L1508,680.9 L1510,683.8 L1512,686.5 L1514,689.1 L1516,691.6 L1518,694 L1520,696.2 L1522,698.2 L1524,700.2 L1526,702 L1528,703.6 L1530,705.2 L1532,706.6 L1534,707.8 L1536,709 L1538,710.1 L1540,711 L1542,711.9 L1544,712.6 L1546,713.3 L1548,713.9 L1550,714.4 L1552,714.9 L1554,715.3 L1556,715.6 L1558,716 L1560,716.2 L1562,716.5 L1564,716.7 L1566,716.8 L1568,717 L1570,717.1 L1572,717.2 L1574,717.3 L1576,717.4 L1578,717.4 L1580,717.5 L1582,717.5 L1584,717.5 L1586,717.6 L1588,717.6 L1590,717.6 L1592,717.6 L1594,717.6 L1596,717.7 L1598,717.7 L1600,717.7 L1602,717.7 L1604,717.7 L1606,717.7 L1608,717.7 L1610,717.7 L1612,717.7 L1614,717.7 L1616,717.7 L1618,717.7 L1620,717.7 L1622,717.7 L1624,717.7 L1626,717.7 L1628,717.7 L1630,717.7 L1632,717.7 L1634,717.7 L1636,717.7 L1638,717.7 L1640,717.7 L1642,717.7 L1644,717.7 L1646,717.7 L1648,717.7 L1650,717.7 L1652,717.7 L1654,717.7 L1656,717.7 L1658,717.7 L1660,717.7Z" fill="#1fa8f5" fill-opacity="0.5" stroke="#1aa0ea" stroke-width="2.4"/>
<path d="M1268,717.7 L1270,717.7 L1272,717.7 L1274,717.7 L1276,717.7 L1278,717.7 L1280,717.7 L1282,717.7 L1284,717.7 L1286,717.7 L1288,717.7 L1290,717.7 L1292,717.7 L1294,717.7 L1296,717.7 L1298,717.7 L1300,717.7 L1302,717.7 L1304,717.7 L1306,717.7 L1308,717.7 L1310,717.7 L1312,717.7 L1314,717.7 L1316,717.7 L1318,717.7 L1320,717.7 L1322,717.7 L1324,717.7 L1326,717.7 L1328,717.7 L1330,717.7 L1332,717.7 L1334,717.7 L1336,717.7 L1338,717.7 L1340,717.7 L1342,717.7 L1344,717.7 L1346,717.7 L1348,717.7 L1350,717.7 L1352,717.7 L1354,717.7 L1356,717.7 L1358,717.7 L1360,717.7 L1362,717.7 L1364,717.7 L1366,717.7 L1368,717.7 L1370,717.7 L1372,717.7 L1374,717.7 L1376,717.7 L1378,717.7 L1380,717.7 L1382,717.7 L1384,717.7 L1386,717.7 L1388,717.7 L1390,717.7 L1392,717.7 L1394,717.7 L1396,717.7 L1398,717.7 L1400,717.7 L1402,717.7 L1404,717.7 L1406,717.7 L1408,717.7 L1410,717.7 L1412,717.7 L1414,717.7 L1416,717.7 L1418,717.7 L1420,717.7 L1422,717.7 L1424,717.7 L1426,717.7 L1428,717.7 L1430,717.7 L1432,717.7 L1434,717.7 L1436,717.7 L1438,717.7 L1440,717.7 L1442,717.6 L1444,717.6 L1446,717.6 L1448,717.6 L1450,717.5 L1452,717.5 L1454,717.4 L1456,717.4 L1458,717.3 L1460,717.2 L1462,717.1 L1464,717 L1466,716.9 L1468,716.7 L1470,716.6 L1472,716.4 L1474,716.2 L1476,715.9 L1478,715.7 L1480,715.4 L1482,715.1 L1484,714.7 L1486,714.4 L1488,714 L1490,713.6 L1492,713.2 L1494,712.8 L1496,712.4 L1498,712 L1500,711.6 L1502,711.2 L1504,710.8 L1506,710.5 L1508,710.2 L1510,709.9 L1512,709.7 L1514,709.5 L1516,709.3 L1518,709.2 L1520,709.2 L1522,709.2 L1524,709.3 L1526,709.4 L1528,709.6 L1530,709.8 L1532,710.1 L1534,710.4 L1536,710.7 L1538,711.1 L1540,711.5 L1542,711.9 L1544,712.3 L1546,712.7 L1548,713.1 L1550,713.5 L1552,713.9 L1554,714.3 L1556,714.6 L1558,715 L1560,715.3 L1562,715.6 L1564,715.9 L1566,716.1 L1568,716.3 L1570,716.5 L1572,716.7 L1574,716.9 L1576,717 L1578,717.1 L1580,717.2 L1582,717.3 L1584,717.4 L1586,717.4 L1588,717.5 L1590,717.5 L1592,717.6 L1594,717.6 L1596,717.6 L1598,717.6 L1600,717.6 L1602,717.7 L1604,717.7 L1606,717.7 L1608,717.7 L1610,717.7 L1612,717.7 L1614,717.7 L1616,717.7 L1618,717.7 L1620,717.7 L1622,717.7 L1624,717.7 L1626,717.7 L1628,717.7 L1630,717.7 L1632,717.7 L1634,717.7 L1636,717.7 L1638,717.7 L1640,717.7 L1642,717.7 L1644,717.7 L1646,717.7 L1648,717.7 L1650,717.7 L1652,717.7 L1654,717.7 L1656,717.7 L1658,717.7 L1660,717.7Z" fill="#00dd00" fill-opacity="0.5" stroke="#10cc10" stroke-width="2.4"/>
<path d="M1268,715.1 L1269.2,708.2 L1270.4,708.5 L1271.6,711.5 L1272.8,720.9 L1274,711.6 L1275.2,714.3 L1276.4,708.7 L1277.6,718.8 L1278.8,711.1 L1280,710.2 L1281.2,715.3 L1282.4,716.9 L1283.6,719.7 L1284.8,715.7 L1286,718 L1287.2,716.7 L1288.4,717.3 L1289.6,714 L1290.8,712.8 L1292,716.3 L1293.2,715.9 L1294.4,713.5 L1295.6,721.3 L1296.8,712.2 L1298,712.5 L1299.2,710 L1300.4,722.1 L1301.6,711.9 L1302.8,719 L1304,717.8 L1305.2,717.7 L1306.4,715.4 L1307.6,716.8 L1308.8,715.2 L1310,708.3 L1311.2,714.7 L1312.4,707.8 L1313.6,715.8 L1314.8,715.2 L1316,721.7 L1317.2,710.5 L1318.4,716 L1319.6,712.5 L1320.8,702.4 L1322,708.3 L1323.2,710.5 L1324.4,708 L1325.6,710.7 L1326.8,712.8 L1328,718.6 L1329.2,714.8 L1330.4,717.4 L1331.6,715.2 L1332.8,716.7 L1334,711.5 L1335.2,710.3 L1336.4,710.4 L1337.6,713 L1338.8,711.1 L1340,708.8 L1341.2,705.7 L1342.4,714.2 L1343.6,715.1 L1344.8,715.2 L1346,719.8 L1347.2,714.9 L1348.4,711.8 L1349.6,708.6 L1350.8,712.8 L1352,712.6 L1353.2,705.3 L1354.4,703.6 L1355.6,708.3 L1356.8,708.1 L1358,706.1 L1359.2,695.8 L1360.4,700.3 L1361.6,699.8 L1362.8,698 L1364,701.6 L1365.2,698.7 L1366.4,696.8 L1367.6,692.4 L1368.8,689.6 L1370,695.7 L1371.2,689.5 L1372.4,690.1 L1373.6,689.4 L1374.8,682.8 L1376,686.1 L1377.2,682.1 L1378.4,681.8 L1379.6,679.6 L1380.8,687.2 L1382,682.1 L1383.2,678.2 L1384.4,683.5 L1385.6,673.7 L1386.8,666.7 L1388,670.1 L1389.2,671.3 L1390.4,670.3 L1391.6,674.1 L1392.8,672.1 L1394,671.5 L1395.2,674 L1396.4,669.1 L1397.6,669.1 L1398.8,664.6 L1400,663.9 L1401.2,651.7 L1402.4,657.6 L1403.6,664.1 L1404.8,656.5 L1406,657.8 L1407.2,655.6 L1408.4,649.4 L1409.6,657.1 L1410.8,663.9 L1412,667.2 L1413.2,663.9 L1414.4,660.9 L1415.6,661 L1416.8,663.1 L1418,658.1 L1419.2,660.9 L1420.4,659.1 L1421.6,652.1 L1422.8,649.9 L1424,656 L1425.2,653.7 L1426.4,647.7 L1427.6,653.3 L1428.8,651.3 L1430,651.3 L1431.2,651 L1432.4,652.1 L1433.6,638.8 L1434.8,641.1 L1436,639.1 L1437.2,636 L1438.4,634.6 L1439.6,640.7 L1440.8,634.9 L1442,633.4 L1443.2,634.8 L1444.4,627.8 L1445.6,641.2 L1446.8,627.9 L1448,627.3 L1449.2,625.5 L1450.4,625.7 L1451.6,621.1 L1452.8,623.2 L1454,623.9 L1455.2,617.8 L1456.4,624.5 L1457.6,623.4 L1458.8,628.2 L1460,630.5 L1461.2,629 L1462.4,621.8 L1463.6,629.4 L1464.8,616 L1466,616.8 L1467.2,632.5 L1468.4,626.9 L1469.6,628 L1470.8,624.3 L1472,630.3 L1473.2,636.6 L1474.4,638.4 L1475.6,630.1 L1476.8,632.8 L1478,629.1 L1479.2,630.8 L1480.4,643.8 L1481.6,644.3 L1482.8,642.4 L1484,638.7 L1485.2,644.2 L1486.4,643.6 L1487.6,644.1 L1488.8,650.1 L1490,653.3 L1491.2,651 L1492.4,658.3 L1493.6,648.3 L1494.8,653.3 L1496,660.4 L1497.2,661.4 L1498.4,667.2 L1499.6,668.2 L1500.8,657.9 L1502,670.5 L1503.2,667.6 L1504.4,672.8 L1505.6,670.7 L1506.8,669.7 L1508,677.4 L1509.2,679.5 L1510.4,679.1 L1511.6,676.3 L1512.8,687.2 L1514,686.7 L1515.2,689.4 L1516.4,687.3 L1517.6,686.5 L1518.8,690.2 L1520,693.9 L1521.2,695.7 L1522.4,690.9 L1523.6,691.6 L1524.8,689.5 L1526,693.9 L1527.2,693.1 L1528.4,692.2 L1529.6,696.1 L1530.8,697.6 L1532,694.5 L1533.2,692.3 L1534.4,697.9 L1535.6,699.5 L1536.8,701.3 L1538,698.5 L1539.2,697.7 L1540.4,695.6 L1541.6,700.1 L1542.8,699.1 L1544,706.4 L1545.2,702.4 L1546.4,713.2 L1547.6,710.5 L1548.8,709.8 L1550,708.3 L1551.2,706.6 L1552.4,705.8 L1553.6,697.5 L1554.8,701.7 L1556,705.7 L1557.2,708.7 L1558.4,711.3 L1559.6,711.2 L1560.8,715 L1562,710.3 L1563.2,710.8 L1564.4,719.5 L1565.6,716.1 L1566.8,713.3 L1568,714.3 L1569.2,715.2 L1570.4,709.7 L1571.6,707.5 L1572.8,701.9 L1574,713.2 L1575.2,713.2 L1576.4,714.1 L1577.6,715.5 L1578.8,712.9 L1580,717.9 L1581.2,712.3 L1582.4,720.9 L1583.6,722 L1584.8,721.7 L1586,723 L1587.2,719.5 L1588.4,719 L1589.6,723.7 L1590.8,725.9 L1592,718.8 L1593.2,717.4 L1594.4,705.7 L1595.6,710.6 L1596.8,709.1 L1598,708.1 L1599.2,712.9 L1600.4,718.4 L1601.6,714.2 L1602.8,718.2 L1604,722 L1605.2,724.8 L1606.4,722.7 L1607.6,719.4 L1608.8,720.8 L1610,717.8 L1611.2,715.6 L1612.4,723.5 L1613.6,715.8 L1614.8,717.3 L1616,722.9 L1617.2,716.2 L1618.4,716.7 L1619.6,716.2 L1620.8,715.7 L1622,718.8 L1623.2,711.6 L1624.4,707.7 L1625.6,719.8 L1626.8,719.5 L1628,718.9 L1629.2,717.5 L1630.4,720.4 L1631.6,715.6 L1632.8,722.8 L1634,719.1 L1635.2,725.3 L1636.4,721.2 L1637.6,723.3 L1638.8,720.8 L1640,716.5 L1641.2,722.5 L1642.4,717.9 L1643.6,719.8 L1644.8,722.1 L1646,716.1 L1647.2,717.9 L1648.4,711.3 L1649.6,714.9 L1650.8,718.9 L1652,720.7 L1653.2,717.6 L1654.4,719.9 L1655.6,717.9 L1656.8,717.7 L1658,716.2 L1659.2,712.7 L1660.4,714.7 L1661.6,719.3" fill="none" stroke="#000" stroke-width="2.4" stroke-linejoin="round"/>
<path d="M1268,717.7 L1269,717.7 L1270,717.7 L1271,717.7 L1272,717.7 L1273,717.7 L1274,717.7 L1275,717.7 L1276,717.7 L1277,717.7 L1278,717.7 L1279,717.7 L1280,717.7 L1281,717.7 L1282,717.7 L1283,717.7 L1284,717.7 L1285,717.7 L1286,717.7 L1287,717.7 L1288,717.7 L1289,717.7 L1290,717.7 L1291,717.7 L1292,717.7 L1293,717.7 L1294,717.7 L1295,717.7 L1296,717.7 L1297,717.7 L1298,717.7 L1299,717.7 L1300,717.7 L1301,717.7 L1302,717.7 L1303,717.7 L1304,717.7 L1305,717.7 L1306,717.7 L1307,717.7 L1308,717.7 L1309,717.7 L1310,717.7 L1311,717.7 L1312,717.6 L1313,717.6 L1314,717.6 L1315,717.6 L1316,717.6 L1317,717.6 L1318,717.6 L1319,717.5 L1320,717.5 L1321,717.5 L1322,717.5 L1323,717.4 L1324,717.4 L1325,717.3 L1326,717.3 L1327,717.2 L1328,717.2 L1329,717.1 L1330,717 L1331,716.9 L1332,716.8 L1333,716.7 L1334,716.6 L1335,716.4 L1336,716.2 L1337,716.1 L1338,715.9 L1339,715.7 L1340,715.4 L1341,715.2 L1342,714.9 L1343,714.6 L1344,714.2 L1345,713.9 L1346,713.5 L1347,713.1 L1348,712.6 L1349,712.1 L1350,711.6 L1351,711 L1352,710.4 L1353,709.8 L1354,709.1 L1355,708.4 L1356,707.7 L1357,706.9 L1358,706.1 L1359,705.2 L1360,704.3 L1361,703.4 L1362,702.4 L1363,701.4 L1364,700.4 L1365,699.3 L1366,698.2 L1367,697.1 L1368,695.9 L1369,694.7 L1370,693.5 L1371,692.3 L1372,691.1 L1373,689.9 L1374,688.7 L1375,687.5 L1376,686.2 L1377,685 L1378,683.8 L1379,682.6 L1380,681.5 L1381,680.3 L1382,679.2 L1383,678.1 L1384,677.1 L1385,676.1 L1386,675.1 L1387,674.2 L1388,673.3 L1389,672.5 L1390,671.7 L1391,670.9 L1392,670.2 L1393,669.6 L1394,669 L1395,668.4 L1396,667.9 L1397,667.4 L1398,667 L1399,666.5 L1400,666.2 L1401,665.8 L1402,665.5 L1403,665.2 L1404,664.9 L1405,664.7 L1406,664.4 L1407,664.2 L1408,663.9 L1409,663.7 L1410,663.4 L1411,663.1 L1412,662.9 L1413,662.5 L1414,662.2 L1415,661.8 L1416,661.5 L1417,661 L1418,660.6 L1419,660.1 L1420,659.6 L1421,659 L1422,658.4 L1423,657.7 L1424,657 L1425,656.3 L1426,655.5 L1427,654.7 L1428,653.8 L1429,653 L1430,652 L1431,651.1 L1432,650.1 L1433,649.1 L1434,648.1 L1435,647.1 L1436,646 L1437,644.9 L1438,643.9 L1439,642.8 L1440,641.8 L1441,640.7 L1442,639.7 L1443,638.6 L1444,637.6 L1445,636.6 L1446,635.7 L1447,634.7 L1448,633.9 L1449,633 L1450,632.2 L1451,631.4 L1452,630.7 L1453,630.1 L1454,629.5 L1455,628.9 L1456,628.4 L1457,628 L1458,627.7 L1459,627.4 L1460,627.1 L1461,627 L1462,626.9 L1463,626.9 L1464,626.9 L1465,627 L1466,627.2 L1467,627.5 L1468,627.8 L1469,628.2 L1470,628.7 L1471,629.2 L1472,629.8 L1473,630.4 L1474,631.1 L1475,631.9 L1476,632.7 L1477,633.6 L1478,634.5 L1479,635.5 L1480,636.5 L1481,637.6 L1482,638.7 L1483,639.9 L1484,641 L1485,642.3 L1486,643.5 L1487,644.8 L1488,646.1 L1489,647.4 L1490,648.7 L1491,650.1 L1492,651.5 L1493,652.8 L1494,654.2 L1495,655.6 L1496,657 L1497,658.4 L1498,659.8 L1499,661.2 L1500,662.6 L1501,664 L1502,665.4 L1503,666.7 L1504,668.1 L1505,669.4 L1506,670.8 L1507,672.1 L1508,673.4 L1509,674.7 L1510,676 L1511,677.2 L1512,678.5 L1513,679.7 L1514,680.9 L1515,682.1 L1516,683.2 L1517,684.4 L1518,685.5 L1519,686.6 L1520,687.7 L1521,688.7 L1522,689.8 L1523,690.8 L1524,691.8 L1525,692.7 L1526,693.7 L1527,694.6 L1528,695.5 L1529,696.4 L1530,697.3 L1531,698.1 L1532,698.9 L1533,699.7 L1534,700.5 L1535,701.3 L1536,702 L1537,702.7 L1538,703.4 L1539,704.1 L1540,704.8 L1541,705.4 L1542,706 L1543,706.6 L1544,707.2 L1545,707.7 L1546,708.3 L1547,708.8 L1548,709.3 L1549,709.8 L1550,710.2 L1551,710.7 L1552,711.1 L1553,711.5 L1554,711.9 L1555,712.2 L1556,712.6 L1557,712.9 L1558,713.2 L1559,713.5 L1560,713.8 L1561,714.1 L1562,714.3 L1563,714.6 L1564,714.8 L1565,715 L1566,715.2 L1567,715.4 L1568,715.6 L1569,715.8 L1570,715.9 L1571,716.1 L1572,716.2 L1573,716.3 L1574,716.4 L1575,716.5 L1576,716.6 L1577,716.7 L1578,716.8 L1579,716.9 L1580,717 L1581,717 L1582,717.1 L1583,717.2 L1584,717.2 L1585,717.3 L1586,717.3 L1587,717.3 L1588,717.4 L1589,717.4 L1590,717.4 L1591,717.5 L1592,717.5 L1593,717.5 L1594,717.5 L1595,717.6 L1596,717.6 L1597,717.6 L1598,717.6 L1599,717.6 L1600,717.6 L1601,717.6 L1602,717.6 L1603,717.6 L1604,717.7 L1605,717.7 L1606,717.7 L1607,717.7 L1608,717.7 L1609,717.7 L1610,717.7 L1611,717.7 L1612,717.7 L1613,717.7 L1614,717.7 L1615,717.7 L1616,717.7 L1617,717.7 L1618,717.7 L1619,717.7 L1620,717.7 L1621,717.7 L1622,717.7 L1623,717.7 L1624,717.7 L1625,717.7 L1626,717.7 L1627,717.7 L1628,717.7 L1629,717.7 L1630,717.7 L1631,717.7 L1632,717.7 L1633,717.7 L1634,717.7 L1635,717.7 L1636,717.7 L1637,717.7 L1638,717.7 L1639,717.7 L1640,717.7 L1641,717.7 L1642,717.7 L1643,717.7 L1644,717.7 L1645,717.7 L1646,717.7 L1647,717.7 L1648,717.7 L1649,717.7 L1650,717.7 L1651,717.7 L1652,717.7 L1653,717.7 L1654,717.7 L1655,717.7 L1656,717.7 L1657,717.7 L1658,717.7 L1659,717.7 L1660,717.7 L1661,717.7" fill="none" stroke="#f07cc0" stroke-width="2"/>
<text x="748.5" y="215.4" font-size="34.2">Graphite</text>
<text x="1041" y="222.7" font-size="34.2">150 counts</text>
<text x="650" y="438" font-size="34.2">Hydrocarbons (FP)</text>
<text x="1240" y="155" font-size="34.2">Water (ν<tspan font-size="24.5" dy="7.3">OH</tspan><tspan dy="-7.3">)</tspan></text>
<text x="999" y="516.5" font-size="34.2">Hydrocarbons (ν<tspan font-size="24.5" dy="7.3">CH</tspan><tspan dy="-7.3">)</tspan></text>
<text x="1545.5" y="201.2" font-size="34.2">OH-3</text>
<text x="1431" y="295.2" font-size="34.2">OH-2</text>
<text x="1612" y="312.6" font-size="34.2">0 min</text>
<text x="1319.7" y="440" font-size="34.2">OH-1</text>
<text x="1479" y="423.2" font-size="34.2">OH-4</text>
<text x="1597.6" y="437" font-size="34.2">OH-5</text>
<text x="970" y="660.8" font-size="34.2" text-anchor="end">×0.25</text>
<text x="1573" y="670.6" font-size="34.2">132 min</text>
<line x1="1029.9" y1="162.3" x2="1029.9" y2="259.3" stroke="#000" stroke-width="2.6"/>
<line x1="1018.1" y1="163" x2="1041.7" y2="163" stroke="#000" stroke-width="2.6"/>
<line x1="1018.1" y1="258.6" x2="1041.7" y2="258.6" stroke="#000" stroke-width="2.6"/>
<line x1="815" y1="233.7" x2="825.2" y2="253.2" stroke="#000" stroke-width="2.2"/>
<path d="M828.2,259.1 L818.7,251.6 L827.6,247 Z" fill="#000"/>
<line x1="761.6" y1="460.1" x2="738.3" y2="521.4" stroke="#000" stroke-width="2.2"/>
<path d="M736,527.6 L735.2,515.5 L744.6,519.1 Z" fill="#000"/>
<line x1="761.6" y1="460.1" x2="757.5" y2="502" stroke="#000" stroke-width="2.2"/>
<path d="M756.9,508.6 L753,497.2 L762.9,498.1 Z" fill="#000"/>
<line x1="761.6" y1="460.1" x2="829.4" y2="494.7" stroke="#000" stroke-width="2.2"/>
<path d="M835.3,497.7 L823.2,497.2 L827.8,488.2 Z" fill="#000"/>
<line x1="1175.5" y1="529" x2="1158" y2="560.8" stroke="#000" stroke-width="2.2"/>
<path d="M1154.8,566.6 L1155.7,554.6 L1164.5,559.4 Z" fill="#000"/>
<line x1="1570.2" y1="218.5" x2="1538.8" y2="272.2" stroke="#000" stroke-width="2.2"/>
<path d="M1535.5,277.9 L1536.7,265.9 L1545.4,270.9 Z" fill="#000"/>
<line x1="1351.7" y1="398.8" x2="1376.8" y2="362.9" stroke="#000" stroke-width="2.2"/>
<path d="M1380.6,357.5 L1378.4,369.4 L1370.2,363.6 Z" fill="#000"/>
<line x1="1535.5" y1="385.5" x2="1555.3" y2="365.8" stroke="#000" stroke-width="2.2"/>
<path d="M1560,361.2 L1555.7,372.5 L1548.7,365.4 Z" fill="#000"/>
<line x1="1625.2" y1="400" x2="1603.7" y2="376.7" stroke="#000" stroke-width="2.2"/>
<path d="M1599.2,371.9 L1610.3,376.6 L1603,383.4 Z" fill="#000"/>
<line x1="685.2" y1="747.4" x2="969.6" y2="747.4" stroke="#000" stroke-width="2.2"/>
<line x1="686.2" y1="747.4" x2="686.2" y2="756.9" stroke="#000" stroke-width="2.2"/>
<text x="686.2" y="789.8" font-size="34.2" text-anchor="middle">1000</text>
<line x1="798.7" y1="747.4" x2="798.7" y2="756.9" stroke="#000" stroke-width="2.2"/>
<text x="798.7" y="789.8" font-size="34.2" text-anchor="middle">1400</text>
<line x1="911.2" y1="747.4" x2="911.2" y2="756.9" stroke="#000" stroke-width="2.2"/>
<text x="911.2" y="789.8" font-size="34.2" text-anchor="middle">1800</text>
<line x1="714.3" y1="747.4" x2="714.3" y2="752.4" stroke="#000" stroke-width="2.2"/>
<line x1="742.5" y1="747.4" x2="742.5" y2="752.4" stroke="#000" stroke-width="2.2"/>
<line x1="770.6" y1="747.4" x2="770.6" y2="752.4" stroke="#000" stroke-width="2.2"/>
<line x1="826.8" y1="747.4" x2="826.8" y2="752.4" stroke="#000" stroke-width="2.2"/>
<line x1="855" y1="747.4" x2="855" y2="752.4" stroke="#000" stroke-width="2.2"/>
<line x1="883.1" y1="747.4" x2="883.1" y2="752.4" stroke="#000" stroke-width="2.2"/>
<line x1="939.3" y1="747.4" x2="939.3" y2="752.4" stroke="#000" stroke-width="2.2"/>
<line x1="967.5" y1="747.4" x2="967.5" y2="752.4" stroke="#000" stroke-width="2.2"/>
<line x1="1017.6" y1="747.4" x2="1216.3" y2="747.4" stroke="#000" stroke-width="2.2"/>
<line x1="1018.6" y1="747.4" x2="1018.6" y2="756.9" stroke="#000" stroke-width="2.2"/>
<text x="1018.6" y="789.8" font-size="34.2" text-anchor="middle">2600</text>
<line x1="1148.9" y1="747.4" x2="1148.9" y2="756.9" stroke="#000" stroke-width="2.2"/>
<text x="1148.9" y="789.8" font-size="34.2" text-anchor="middle">3000</text>
<line x1="1051.2" y1="747.4" x2="1051.2" y2="752.4" stroke="#000" stroke-width="2.2"/>
<line x1="1083.7" y1="747.4" x2="1083.7" y2="752.4" stroke="#000" stroke-width="2.2"/>
<line x1="1116.3" y1="747.4" x2="1116.3" y2="752.4" stroke="#000" stroke-width="2.2"/>
<line x1="1181.5" y1="747.4" x2="1181.5" y2="752.4" stroke="#000" stroke-width="2.2"/>
<line x1="1215.3" y1="747.4" x2="1215.3" y2="752.4" stroke="#000" stroke-width="2.2"/>
<line x1="1266.9" y1="747.4" x2="1662.2" y2="747.4" stroke="#000" stroke-width="2.2"/>
<line x1="1267.9" y1="747.4" x2="1267.9" y2="756.9" stroke="#000" stroke-width="2.2"/>
<text x="1267.9" y="789.8" font-size="34.2" text-anchor="middle">3200</text>
<line x1="1399" y1="747.4" x2="1399" y2="756.9" stroke="#000" stroke-width="2.2"/>
<text x="1399" y="789.8" font-size="34.2" text-anchor="middle">3400</text>
<line x1="1530.1" y1="747.4" x2="1530.1" y2="756.9" stroke="#000" stroke-width="2.2"/>
<text x="1530.1" y="789.8" font-size="34.2" text-anchor="middle">3600</text>
<line x1="1661.2" y1="747.4" x2="1661.2" y2="756.9" stroke="#000" stroke-width="2.2"/>
<text x="1661.2" y="789.8" font-size="34.2" text-anchor="middle">3800</text>
<line x1="1300.7" y1="747.4" x2="1300.7" y2="752.4" stroke="#000" stroke-width="2.2"/>
<line x1="1333.5" y1="747.4" x2="1333.5" y2="752.4" stroke="#000" stroke-width="2.2"/>
<line x1="1366.2" y1="747.4" x2="1366.2" y2="752.4" stroke="#000" stroke-width="2.2"/>
<line x1="1431.8" y1="747.4" x2="1431.8" y2="752.4" stroke="#000" stroke-width="2.2"/>
<line x1="1464.6" y1="747.4" x2="1464.6" y2="752.4" stroke="#000" stroke-width="2.2"/>
<line x1="1497.3" y1="747.4" x2="1497.3" y2="752.4" stroke="#000" stroke-width="2.2"/>
<line x1="1562.9" y1="747.4" x2="1562.9" y2="752.4" stroke="#000" stroke-width="2.2"/>
<line x1="1595.7" y1="747.4" x2="1595.7" y2="752.4" stroke="#000" stroke-width="2.2"/>
<line x1="1628.4" y1="747.4" x2="1628.4" y2="752.4" stroke="#000" stroke-width="2.2"/>
<text x="1032" y="837" font-size="34.2">Raman shift (cm<tspan font-size="22" dy="-13">−1</tspan><tspan dy="13">)</tspan></text>
<text x="651.5" y="929" font-size="44" font-weight="bold">d</text>
<text x="734.5" y="924.8" font-size="26">×10<tspan font-size="18" dy="-9.5">4</tspan></text>
<rect x="751" y="1139.4" width="25.4" height="51.4" fill="#ff6666" stroke="#3a3a3a" stroke-width="1.1"/>
<rect x="782.7" y="1182.4" width="25.4" height="8.4" fill="#336699" stroke="#3a3a3a" stroke-width="1.1"/>
<rect x="814.4" y="1095.2" width="25.4" height="95.6" fill="#ffc814" stroke="#3a3a3a" stroke-width="1.1"/>
<rect x="870" y="946.4" width="25.5" height="244.4" fill="#ff6666" stroke="#3a3a3a" stroke-width="1.1"/>
<rect x="901.7" y="1131.5" width="25.6" height="59.3" fill="#336699" stroke="#3a3a3a" stroke-width="1.1"/>
<rect x="933.4" y="1161.6" width="25.6" height="29.2" fill="#ffc814" stroke="#3a3a3a" stroke-width="1.1"/>
<rect x="869" y="1048.8" width="28" height="3.6" fill="#fff"/>
<rect x="736.3" y="933.7" width="237.9" height="257.1" fill="none" stroke="#000" stroke-width="2.2"/>
<line x1="728.3" y1="968.4" x2="736.3" y2="968.4" stroke="#000" stroke-width="2.2"/>
<line x1="728.3" y1="1025.4" x2="736.3" y2="1025.4" stroke="#000" stroke-width="2.2"/>
<line x1="728.3" y1="1076" x2="736.3" y2="1076" stroke="#000" stroke-width="2.2"/>
<line x1="728.3" y1="1133.3" x2="736.3" y2="1133.3" stroke="#000" stroke-width="2.2"/>
<line x1="728.3" y1="1190.8" x2="736.3" y2="1190.8" stroke="#000" stroke-width="2.2"/>
<line x1="732.3" y1="939.4" x2="736.3" y2="939.4" stroke="#000" stroke-width="2.2"/>
<line x1="732.3" y1="997.1" x2="736.3" y2="997.1" stroke="#000" stroke-width="2.2"/>
<line x1="732.3" y1="1105.4" x2="736.3" y2="1105.4" stroke="#000" stroke-width="2.2"/>
<line x1="732.3" y1="1162.7" x2="736.3" y2="1162.7" stroke="#000" stroke-width="2.2"/>
<rect x="733.3" y="1047" width="6" height="7" fill="#fff"/>
<line x1="728.3" y1="1050.9" x2="744.3" y2="1043.7" stroke="#000" stroke-width="2.2"/>
<line x1="728.3" y1="1057.3" x2="744.3" y2="1050.1" stroke="#000" stroke-width="2.2"/>
<rect x="971.2" y="1047" width="6" height="7" fill="#fff"/>
<line x1="966.2" y1="1050.9" x2="982.2" y2="1043.7" stroke="#000" stroke-width="2.2"/>
<line x1="966.2" y1="1057.3" x2="982.2" y2="1050.1" stroke="#000" stroke-width="2.2"/>
<text x="721.8" y="976.3" font-size="28.5" text-anchor="end">50</text>
<text x="721.8" y="1033.6" font-size="28.5" text-anchor="end">45</text>
<text x="721.8" y="1083.4" font-size="28.5" text-anchor="end">10</text>
<text x="721.8" y="1140.5" font-size="28.5" text-anchor="end">5</text>
<text x="721.8" y="1198.3" font-size="28.5" text-anchor="end">0</text>
<rect x="752.2" y="949.4" width="14.6" height="14.3" fill="#ff6666" stroke="#3a3a3a" stroke-width="1.1"/>
<rect x="752.2" y="984.4" width="14.6" height="14.3" fill="#336699" stroke="#3a3a3a" stroke-width="1.1"/>
<rect x="752.2" y="1025.1" width="14.6" height="14.3" fill="#ffc814" stroke="#3a3a3a" stroke-width="1.1"/>
<text x="781.5" y="965.6" font-size="25.5">FP</text>
<text x="781.5" y="1000.6" font-size="31">ν<tspan font-size="17.6" dy="7.5">CH</tspan></text>
<text x="781.5" y="1041" font-size="31">ν<tspan font-size="17.6" dy="7.8">OH</tspan></text>
<text x="795.8" y="1222.1" font-size="28.5" text-anchor="middle">0 min</text>
<text x="915" y="1222.1" font-size="28.5" text-anchor="middle">132 min</text>
<text x="679.2" y="1063.5" font-size="28.4" text-anchor="middle" transform="rotate(-90 679.2 1063.5)">Area (counts cm<tspan font-size="19" dy="-12">−1</tspan><tspan dy="12">)</tspan></text>
<text x="1005.5" y="936.3" font-size="44" font-weight="bold">e</text>
<rect x="1114.7" y="933" width="188.4" height="258" fill="none" stroke="#000" stroke-width="2.2"/>
<line x1="1107.2" y1="1156.6" x2="1114.7" y2="1156.6" stroke="#000" stroke-width="2.2"/>
<line x1="1107.2" y1="1087.9" x2="1114.7" y2="1087.9" stroke="#000" stroke-width="2.2"/>
<line x1="1107.2" y1="1019.2" x2="1114.7" y2="1019.2" stroke="#000" stroke-width="2.2"/>
<line x1="1107.2" y1="950.5" x2="1114.7" y2="950.5" stroke="#000" stroke-width="2.2"/>
<line x1="1110.9" y1="1122.2" x2="1114.7" y2="1122.2" stroke="#000" stroke-width="2.2"/>
<line x1="1110.9" y1="1053.5" x2="1114.7" y2="1053.5" stroke="#000" stroke-width="2.2"/>
<line x1="1110.9" y1="984.8" x2="1114.7" y2="984.8" stroke="#000" stroke-width="2.2"/>
<line x1="1110.9" y1="1191" x2="1114.7" y2="1191" stroke="#000" stroke-width="2.2"/>
<text x="1103.5" y="1147.1" font-size="28.5" text-anchor="end" transform="rotate(-30 1103.5 1147.1)">3400</text>
<text x="1103.5" y="1078.4" font-size="28.5" text-anchor="end" transform="rotate(-30 1103.5 1078.4)">3500</text>
<text x="1103.5" y="1009.7" font-size="28.5" text-anchor="end" transform="rotate(-30 1103.5 1009.7)">3600</text>
<text x="1103.5" y="941" font-size="28.5" text-anchor="end" transform="rotate(-30 1103.5 941)">3700</text>
<line x1="1146.1" y1="1019" x2="1271.9" y2="1030" stroke="#00dd00" stroke-width="3.2" stroke-dasharray="14 9 3 9"/>
<line x1="1146.1" y1="1076" x2="1271.9" y2="1091.4" stroke="#0099ff" stroke-width="3.2" stroke-dasharray="14 9 3 9"/>
<line x1="1146.1" y1="1143.8" x2="1271.9" y2="1164.3" stroke="#ff0000" stroke-width="3.2" stroke-dasharray="14 9 3 9"/>
<path d="M1146.1,941.4 L1156.1,951.4 L1146.1,961.4 L1136.1,951.4 Z" fill="#8000ff"/>
<path d="M1136.6,973.3 L1155.6,973.3 L1146.1,989.6 Z" fill="#ff8000"/>
<path d="M1146.1,1008.3 L1155.9,1024.2 L1136.3,1024.2 Z" fill="#00dd00"/>
<path d="M1271.9,1018.6 L1281.7,1034.7 L1262.1,1034.7 Z" fill="#00dd00"/>
<rect x="1139" y="1069.2" width="14.2" height="13.6" fill="#0099ff"/>
<rect x="1264.8" y="1084.6" width="14.2" height="13.6" fill="#0099ff"/>
<rect x="1139" y="1137" width="14.2" height="13.6" fill="#ff0000"/>
<rect x="1264.8" y="1157.5" width="14.2" height="13.6" fill="#ff0000"/>
<text x="1148" y="1223.5" font-size="28.5" text-anchor="middle">0 min</text>
<text x="1271" y="1223.5" font-size="28.5" text-anchor="middle">132 min</text>
<text x="1030.2" y="1062.3" font-size="28.4" text-anchor="middle" transform="rotate(-90 1030.2 1062.3)">Raman shift (cm<tspan font-size="19" dy="-12">−1</tspan><tspan dy="12">)</tspan></text>
<text x="1351.5" y="935.9" font-size="44" font-weight="bold">f</text>
<rect x="1452.1" y="1115.3" width="17.6" height="75.1" fill="#ff0000" stroke="#3a3a3a" stroke-width="1.1"/>
<rect x="1471.3" y="1012.6" width="17.5" height="177.8" fill="#0aa0ff" stroke="#3a3a3a" stroke-width="1.1"/>
<rect x="1490.4" y="1088.1" width="17.1" height="102.3" fill="#00dd00" stroke="#3a3a3a" stroke-width="1.1"/>
<rect x="1509.5" y="1174.1" width="17.1" height="16.3" fill="#ff8000" stroke="#3a3a3a" stroke-width="1.1"/>
<rect x="1528.2" y="1186.2" width="17.2" height="4.2" fill="#8000ff" stroke="#3a3a3a" stroke-width="1.1"/>
<rect x="1587.4" y="1082.1" width="17.2" height="108.3" fill="#ff0000" stroke="#3a3a3a" stroke-width="1.1"/>
<rect x="1606.4" y="943.2" width="17.3" height="247.2" fill="#0aa0ff" stroke="#3a3a3a" stroke-width="1.1"/>
<rect x="1625.3" y="1169.2" width="17.1" height="21.2" fill="#00dd00" stroke="#3a3a3a" stroke-width="1.1"/>
<rect x="1470.3" y="1061.9" width="19.5" height="4.1" fill="#fff"/>
<rect x="1605.4" y="1061.9" width="19.3" height="4.1" fill="#fff"/>
<rect x="1436.6" y="932.5" width="251.5" height="257.9" fill="none" stroke="#000" stroke-width="2.2"/>
<line x1="1429.6" y1="1190.4" x2="1436.6" y2="1190.4" stroke="#000" stroke-width="2.2"/>
<line x1="1429.6" y1="1136.5" x2="1436.6" y2="1136.5" stroke="#000" stroke-width="2.2"/>
<line x1="1429.6" y1="1082.6" x2="1436.6" y2="1082.6" stroke="#000" stroke-width="2.2"/>
<line x1="1429.6" y1="1029.7" x2="1436.6" y2="1029.7" stroke="#000" stroke-width="2.2"/>
<line x1="1429.6" y1="975.7" x2="1436.6" y2="975.7" stroke="#000" stroke-width="2.2"/>
<line x1="1433" y1="1163.5" x2="1436.6" y2="1163.5" stroke="#000" stroke-width="2.2"/>
<line x1="1433" y1="1109.5" x2="1436.6" y2="1109.5" stroke="#000" stroke-width="2.2"/>
<line x1="1433" y1="1056.5" x2="1436.6" y2="1056.5" stroke="#000" stroke-width="2.2"/>
<line x1="1433" y1="1002.5" x2="1436.6" y2="1002.5" stroke="#000" stroke-width="2.2"/>
<line x1="1433" y1="948.6" x2="1436.6" y2="948.6" stroke="#000" stroke-width="2.2"/>
<rect x="1433.6" y="1060.5" width="6" height="7" fill="#fff"/>
<line x1="1428.6" y1="1064.4" x2="1444.6" y2="1057.2" stroke="#000" stroke-width="2.2"/>
<line x1="1428.6" y1="1070.8" x2="1444.6" y2="1063.6" stroke="#000" stroke-width="2.2"/>
<rect x="1685.1" y="1060.5" width="6" height="7" fill="#fff"/>
<line x1="1680.1" y1="1064.4" x2="1696.1" y2="1057.2" stroke="#000" stroke-width="2.2"/>
<line x1="1680.1" y1="1070.8" x2="1696.1" y2="1063.6" stroke="#000" stroke-width="2.2"/>
<text x="1424.5" y="1198.2" font-size="28.5" text-anchor="end">0.0</text>
<text x="1424.5" y="1145" font-size="28.5" text-anchor="end">0.1</text>
<text x="1424.5" y="1090.6" font-size="28.5" text-anchor="end">0.2</text>
<text x="1424.5" y="1037.4" font-size="28.5" text-anchor="end">0.6</text>
<text x="1424.5" y="984.2" font-size="28.5" text-anchor="end">0.7</text>
<rect x="1444.7" y="943.8" width="12.9" height="12.5" fill="#ff0000" stroke="#3a3a3a" stroke-width="1.1"/>
<text x="1463.6" y="956.8" font-size="21.5">OH-1</text>
<rect x="1444.7" y="970.9" width="12.9" height="12.5" fill="#0aa0ff" stroke="#3a3a3a" stroke-width="1.1"/>
<text x="1463.6" y="984.4" font-size="21.5">OH-2</text>
<rect x="1523" y="943.8" width="12.9" height="12.5" fill="#00dd00" stroke="#3a3a3a" stroke-width="1.1"/>
<text x="1541.3" y="956.8" font-size="21.5">OH-3</text>
<rect x="1523" y="970.9" width="12.9" height="12.5" fill="#ff8000" stroke="#3a3a3a" stroke-width="1.1"/>
<text x="1541.3" y="984.4" font-size="21.5">OH-4</text>
<rect x="1523" y="998.1" width="12.9" height="12.5" fill="#8000ff" stroke="#3a3a3a" stroke-width="1.1"/>
<text x="1541.3" y="1011.6" font-size="21.5">OH-5</text>
<text x="1501.2" y="1223" font-size="28.5" text-anchor="middle">0 min</text>
<text x="1624.1" y="1223" font-size="28.5" text-anchor="middle">132 min</text>
<text x="1374" y="1061.8" font-size="28.4" text-anchor="middle" transform="rotate(-90 1374 1061.8)">Area fraction</text>
<text x="129" y="1330" font-size="44" font-weight="bold">g</text>
<text x="219" y="1332.9" font-size="34.2">State 1: OCP, transient</text>
<text x="823" y="1332" font-size="34.2">State 2: OCP, steady</text>
<text x="579" y="1480" font-size="34.2">After ≈1 h</text>
<text x="147" y="1539.2" font-size="34.2">≈3 Å</text>
<text x="749" y="1514" font-size="34.2">4–5 Å</text>
<text x="1405.5" y="1379.2" font-size="32">Hydrocarbon</text>
<rect x="245.3" y="1567.2" width="295.2" height="20.7" fill="#808080"/>
<rect x="835.2" y="1567" width="295.4" height="20.2" fill="#808080"/>
<path d="M600,1500.4 L679.5,1500.4 L679.5,1491.2 L706,1510 L679.5,1528.6 L679.5,1519.5 L600,1519.5 Z" fill="url(#arr)" stroke="#000" stroke-width="2"/>
<ellipse cx="436.9" cy="1410" rx="38" ry="15.5" transform="rotate(44 436.9 1410)" fill="url(#hc)" stroke="#000" stroke-width="2.6"/>
<ellipse cx="862.9" cy="1529.9" rx="37" ry="15" transform="rotate(-18 862.9 1529.9)" fill="url(#hc)" stroke="#000" stroke-width="2.6"/>
<ellipse cx="948.9" cy="1529.9" rx="37" ry="15" transform="rotate(23 948.9 1529.9)" fill="url(#hc)" stroke="#000" stroke-width="2.6"/>
<ellipse cx="1028" cy="1527.1" rx="37" ry="15" transform="rotate(-17 1028 1527.1)" fill="url(#hc)" stroke="#000" stroke-width="2.6"/>
<ellipse cx="1101" cy="1529.1" rx="37" ry="15" transform="rotate(-16 1101 1529.1)" fill="url(#hc)" stroke="#000" stroke-width="2.6"/>
<ellipse cx="864.4" cy="1471" rx="37" ry="15" transform="rotate(15 864.4 1471)" fill="url(#hc)" stroke="#000" stroke-width="2.6"/>
<ellipse cx="949.4" cy="1470.5" rx="37" ry="15" transform="rotate(-33 949.4 1470.5)" fill="url(#hc)" stroke="#000" stroke-width="2.6"/>
<ellipse cx="1010" cy="1471" rx="37" ry="15" transform="rotate(-38 1010 1471)" fill="url(#hc)" stroke="#000" stroke-width="2.6"/>
<ellipse cx="1101" cy="1459.4" rx="37" ry="15" transform="rotate(-60 1101 1459.4)" fill="url(#hc)" stroke="#000" stroke-width="2.6"/>
<ellipse cx="952.1" cy="1397.4" rx="37" ry="15" transform="rotate(42 952.1 1397.4)" fill="url(#hc)" stroke="#000" stroke-width="2.6"/>
<ellipse cx="1354.7" cy="1365.8" rx="36" ry="15" fill="url(#hc)" stroke="#000" stroke-width="2.6"/>
<g filter="url(#glow)" opacity="0.9"><rect x="268.5" y="1411.3" width="32" height="32" rx="7" fill="#5ec2ff"/><rect x="349.5" y="1383.5" width="32" height="32" rx="7" fill="#ff5a5a"/><rect x="498.2" y="1395.9" width="32" height="32" rx="7" fill="#5ec2ff"/><rect x="233.5" y="1481.1" width="32" height="32" rx="7" fill="#ff5a5a"/><rect x="278.5" y="1477.4" width="32" height="32" rx="7" fill="#ff5a5a"/><rect x="320.3" y="1488.2" width="32" height="32" rx="7" fill="#5ec2ff"/><rect x="362.2" y="1490.7" width="32" height="32" rx="7" fill="#5ec2ff"/><rect x="405.8" y="1472.6" width="32" height="32" rx="7" fill="#5ec2ff"/><rect x="453.3" y="1477.8" width="32" height="32" rx="7" fill="#5ec2ff"/><rect x="516.3" y="1486.9" width="32" height="32" rx="7" fill="#5ec2ff"/><rect x="242.9" y="1524.7" width="32" height="32" rx="7" fill="#52e052"/><rect x="288.4" y="1523.6" width="32" height="32" rx="7" fill="#ff5a5a"/><rect x="332.9" y="1529.2" width="32" height="32" rx="7" fill="#52e052"/><rect x="371.3" y="1537.9" width="32" height="32" rx="7" fill="#aa55ff"/><rect x="411" y="1516.7" width="32" height="32" rx="7" fill="#ffaa55"/><rect x="456.3" y="1524" width="32" height="32" rx="7" fill="#52e052"/><rect x="499.9" y="1531.4" width="32" height="32" rx="7" fill="#5ec2ff"/></g>
<g filter="url(#glow)" opacity="0.9"><rect x="850.1" y="1416.3" width="32" height="32" rx="7" fill="#5ec2ff"/><rect x="882.7" y="1386.6" width="32" height="32" rx="7" fill="#ff5a5a"/><rect x="893.2" y="1434" width="32" height="32" rx="7" fill="#52e052"/><rect x="980.9" y="1361.9" width="32" height="32" rx="7" fill="#5ec2ff"/><rect x="1008.3" y="1401.2" width="32" height="32" rx="7" fill="#5ec2ff"/><rect x="1048.7" y="1384.9" width="32" height="32" rx="7" fill="#ff5a5a"/><rect x="1042.8" y="1431.1" width="32" height="32" rx="7" fill="#5ec2ff"/><rect x="1096.1" y="1380" width="32" height="32" rx="7" fill="#5ec2ff"/></g>
<g filter="url(#glow)" opacity="0.9"><rect x="1213.1" y="1426.5" width="35" height="35" rx="7" fill="#ff5a5a"/><rect x="1369.8" y="1426.5" width="35" height="35" rx="7" fill="#5ec2ff"/><rect x="1524.6" y="1426.5" width="35" height="35" rx="7" fill="#52e052"/><rect x="1213.1" y="1493.7" width="35" height="35" rx="7" fill="#ffaa55"/><rect x="1369.8" y="1493.7" width="35" height="35" rx="7" fill="#aa55ff"/></g>
<path d="M247.8,1501.9 L294.5,1498.6 M247.8,1501.9 L263.4,1542.6 M294.5,1498.6 L308.7,1541.3 M341.1,1503.7 L352.7,1548.6 M341.1,1503.7 L308.7,1541.3 M374.8,1503.7 L418.8,1492.1 M374.8,1503.7 L386.4,1549.6 M418.8,1492.1 L431.7,1532.2 M470.6,1489.5 L471.9,1536.1 M531.4,1507.6 L512,1550.4 M263.4,1542.6 L308.7,1541.3 M308.7,1541.3 L352.7,1548.6 M471.9,1536.1 L512,1550.4 M284.6,1393.7 L284.1,1422.2 M266,1449.4 L284.1,1422.2 M302.2,1450.6 L284.1,1422.2 M350.2,1374.2 L365.7,1404 M385.1,1379.4 L365.7,1404 M347.6,1427.3 L365.7,1404 M381.2,1429.9 L365.7,1404 M518.5,1380.2 L512,1407.9 M487.4,1391.1 L512,1407.9 M541.8,1424.2 L512,1407.9 M218.1,1501.9 L247.8,1501.9 M250.4,1466.2 L247.8,1501.9 M282.8,1466.2 L294.5,1498.6 M315.2,1472.7 L294.5,1498.6 M326.8,1475.3 L341.1,1503.7 M368.3,1476 L374.8,1503.7 M427.9,1461 L418.8,1492.1 M458.9,1462.3 L470.6,1489.5 M491.3,1468.8 L470.6,1489.5 M514.6,1478.6 L531.4,1507.6 M548.3,1479.7 L531.4,1507.6 M544.4,1551.1 L512,1550.4" stroke="#173817" stroke-width="5" stroke-dasharray="7 3" fill="none"/>
<path d="M861.1,1430.2 L899,1407.2 M899,1407.2 L914.3,1448.8 M1025.5,1412.9 L1066.3,1397.4 M1025.5,1412.9 L1056.4,1443.8 M1066.3,1397.4 L1115.8,1397.4 M1066.3,1397.4 L1056.4,1443.8 M831.5,1430.2 L861.1,1430.2 M851.2,1404.8 L861.1,1430.2 M883.4,1377.1 L899,1407.2 M918,1381.5 L899,1407.2 M941.5,1438.9 L914.3,1448.8 M983.5,1346.2 L995.9,1373.4 M984.7,1404.3 L995.9,1373.4 M1024.3,1390.7 L995.9,1373.4 M1000.8,1433.9 L1025.5,1412.9 M1060.9,1369.2 L1066.3,1397.4 M1052,1476 L1056.4,1443.8 M1099.7,1369.7 L1115.8,1397.4 M1144.2,1393.2 L1115.8,1397.4" stroke="#173817" stroke-width="5" stroke-dasharray="7 3" fill="none"/>
<circle cx="289.3" cy="1430.4" r="5.4" fill="#fff" stroke="#000" stroke-width="1.3"/>
<circle cx="284.1" cy="1422.2" r="8.6" fill="#ff0000" stroke="#000" stroke-width="1.4"/>
<circle cx="280.2" cy="1429.4" r="5.4" fill="#fff" stroke="#000" stroke-width="1.3"/>
<circle cx="360.5" cy="1396.3" r="5.4" fill="#fff" stroke="#000" stroke-width="1.3"/>
<circle cx="365.7" cy="1404" r="8.6" fill="#ff0000" stroke="#000" stroke-width="1.4"/>
<circle cx="370.4" cy="1398.3" r="5.4" fill="#fff" stroke="#000" stroke-width="1.3"/>
<circle cx="519.8" cy="1412.6" r="5.4" fill="#fff" stroke="#000" stroke-width="1.3"/>
<circle cx="512" cy="1407.9" r="8.6" fill="#ff0000" stroke="#000" stroke-width="1.4"/>
<circle cx="510.7" cy="1415.2" r="5.4" fill="#fff" stroke="#000" stroke-width="1.3"/>
<circle cx="246.5" cy="1492.1" r="5.4" fill="#fff" stroke="#000" stroke-width="1.3"/>
<circle cx="247.8" cy="1501.9" r="8.6" fill="#ff0000" stroke="#000" stroke-width="1.4"/>
<circle cx="254.3" cy="1497.3" r="5.4" fill="#fff" stroke="#000" stroke-width="1.3"/>
<circle cx="290.6" cy="1489.5" r="5.4" fill="#fff" stroke="#000" stroke-width="1.3"/>
<circle cx="294.5" cy="1498.6" r="8.6" fill="#ff0000" stroke="#000" stroke-width="1.4"/>
<circle cx="298.3" cy="1492.1" r="5.4" fill="#fff" stroke="#000" stroke-width="1.3"/>
<circle cx="333.3" cy="1508.9" r="5.4" fill="#fff" stroke="#000" stroke-width="1.3"/>
<circle cx="341.1" cy="1503.7" r="8.6" fill="#ff0000" stroke="#000" stroke-width="1.4"/>
<circle cx="334.6" cy="1499.9" r="5.4" fill="#fff" stroke="#000" stroke-width="1.3"/>
<circle cx="382.5" cy="1505" r="5.4" fill="#fff" stroke="#000" stroke-width="1.3"/>
<circle cx="374.8" cy="1503.7" r="8.6" fill="#ff0000" stroke="#000" stroke-width="1.4"/>
<circle cx="377.3" cy="1511.5" r="5.4" fill="#fff" stroke="#000" stroke-width="1.3"/>
<circle cx="420.1" cy="1483" r="5.4" fill="#fff" stroke="#000" stroke-width="1.3"/>
<circle cx="418.8" cy="1492.1" r="8.6" fill="#ff0000" stroke="#000" stroke-width="1.4"/>
<circle cx="426.6" cy="1490.8" r="5.4" fill="#fff" stroke="#000" stroke-width="1.3"/>
<circle cx="471.9" cy="1498.6" r="5.4" fill="#fff" stroke="#000" stroke-width="1.3"/>
<circle cx="470.6" cy="1489.5" r="8.6" fill="#ff0000" stroke="#000" stroke-width="1.4"/>
<circle cx="465.4" cy="1493.4" r="5.4" fill="#fff" stroke="#000" stroke-width="1.3"/>
<circle cx="528.9" cy="1498.6" r="5.4" fill="#fff" stroke="#000" stroke-width="1.3"/>
<circle cx="531.4" cy="1507.6" r="8.6" fill="#ff0000" stroke="#000" stroke-width="1.4"/>
<circle cx="536.6" cy="1502.4" r="5.4" fill="#fff" stroke="#000" stroke-width="1.3"/>
<circle cx="253.8" cy="1543.4" r="5.4" fill="#fff" stroke="#000" stroke-width="1.3"/>
<circle cx="263.4" cy="1542.6" r="8.6" fill="#ff0000" stroke="#000" stroke-width="1.4"/>
<circle cx="259.5" cy="1536.1" r="5.4" fill="#fff" stroke="#000" stroke-width="1.3"/>
<circle cx="299.6" cy="1542.6" r="5.4" fill="#fff" stroke="#000" stroke-width="1.3"/>
<circle cx="308.7" cy="1541.3" r="8.6" fill="#ff0000" stroke="#000" stroke-width="1.4"/>
<circle cx="304.8" cy="1534.8" r="5.4" fill="#fff" stroke="#000" stroke-width="1.3"/>
<circle cx="343.7" cy="1547" r="5.4" fill="#fff" stroke="#000" stroke-width="1.3"/>
<circle cx="352.7" cy="1548.6" r="8.6" fill="#ff0000" stroke="#000" stroke-width="1.4"/>
<circle cx="350.2" cy="1540" r="5.4" fill="#fff" stroke="#000" stroke-width="1.3"/>
<circle cx="392.1" cy="1556.1" r="5.4" fill="#fff" stroke="#000" stroke-width="1.3"/>
<circle cx="386.4" cy="1549.6" r="8.6" fill="#ff0000" stroke="#000" stroke-width="1.4"/>
<circle cx="383.3" cy="1556.1" r="5.4" fill="#fff" stroke="#000" stroke-width="1.3"/>
<circle cx="424" cy="1537.4" r="5.4" fill="#fff" stroke="#000" stroke-width="1.3"/>
<circle cx="431.7" cy="1532.2" r="8.6" fill="#ff0000" stroke="#000" stroke-width="1.4"/>
<circle cx="425.3" cy="1528.4" r="5.4" fill="#fff" stroke="#000" stroke-width="1.3"/>
<circle cx="477.1" cy="1542.6" r="5.4" fill="#fff" stroke="#000" stroke-width="1.3"/>
<circle cx="471.9" cy="1536.1" r="8.6" fill="#ff0000" stroke="#000" stroke-width="1.4"/>
<circle cx="468" cy="1541.3" r="5.4" fill="#fff" stroke="#000" stroke-width="1.3"/>
<circle cx="515.9" cy="1541.3" r="5.4" fill="#fff" stroke="#000" stroke-width="1.3"/>
<circle cx="512" cy="1550.4" r="8.6" fill="#ff0000" stroke="#000" stroke-width="1.4"/>
<circle cx="519.8" cy="1550.4" r="5.4" fill="#fff" stroke="#000" stroke-width="1.3"/>
<circle cx="871" cy="1429" r="5.4" fill="#fff" stroke="#000" stroke-width="1.3"/>
<circle cx="861.1" cy="1430.2" r="8.6" fill="#ff0000" stroke="#000" stroke-width="1.4"/>
<circle cx="866.1" cy="1437.7" r="5.4" fill="#fff" stroke="#000" stroke-width="1.3"/>
<circle cx="893.8" cy="1399.3" r="5.4" fill="#fff" stroke="#000" stroke-width="1.3"/>
<circle cx="899" cy="1407.2" r="8.6" fill="#ff0000" stroke="#000" stroke-width="1.4"/>
<circle cx="903.2" cy="1401.3" r="5.4" fill="#fff" stroke="#000" stroke-width="1.3"/>
<circle cx="905.6" cy="1455" r="5.4" fill="#fff" stroke="#000" stroke-width="1.3"/>
<circle cx="914.3" cy="1448.8" r="8.6" fill="#ff0000" stroke="#000" stroke-width="1.4"/>
<circle cx="907.6" cy="1446.3" r="5.4" fill="#fff" stroke="#000" stroke-width="1.3"/>
<circle cx="1002" cy="1380.3" r="5.4" fill="#fff" stroke="#000" stroke-width="1.3"/>
<circle cx="995.9" cy="1373.4" r="8.6" fill="#ff0000" stroke="#000" stroke-width="1.4"/>
<circle cx="992.7" cy="1380" r="5.4" fill="#fff" stroke="#000" stroke-width="1.3"/>
<circle cx="1026.8" cy="1422.1" r="5.4" fill="#fff" stroke="#000" stroke-width="1.3"/>
<circle cx="1025.5" cy="1412.9" r="8.6" fill="#ff0000" stroke="#000" stroke-width="1.4"/>
<circle cx="1020.6" cy="1416.6" r="5.4" fill="#fff" stroke="#000" stroke-width="1.3"/>
<circle cx="1067.6" cy="1405.5" r="5.4" fill="#fff" stroke="#000" stroke-width="1.3"/>
<circle cx="1066.3" cy="1397.4" r="8.6" fill="#ff0000" stroke="#000" stroke-width="1.4"/>
<circle cx="1060.2" cy="1399.8" r="5.4" fill="#fff" stroke="#000" stroke-width="1.3"/>
<circle cx="1063.9" cy="1447.5" r="5.4" fill="#fff" stroke="#000" stroke-width="1.3"/>
<circle cx="1056.4" cy="1443.8" r="8.6" fill="#ff0000" stroke="#000" stroke-width="1.4"/>
<circle cx="1056" cy="1450" r="5.4" fill="#fff" stroke="#000" stroke-width="1.3"/>
<circle cx="1107.1" cy="1398.8" r="5.4" fill="#fff" stroke="#000" stroke-width="1.3"/>
<circle cx="1115.8" cy="1397.4" r="8.6" fill="#ff0000" stroke="#000" stroke-width="1.4"/>
<circle cx="1113.3" cy="1391.9" r="5.4" fill="#fff" stroke="#000" stroke-width="1.3"/>
<circle cx="1235.6" cy="1446.8" r="5.2" fill="#fff" stroke="#000" stroke-width="1.3"/>
<circle cx="1230.4" cy="1437.6" r="8.2" fill="#ff0000" stroke="#000" stroke-width="1.4"/>
<circle cx="1225.8" cy="1447.7" r="5.2" fill="#fff" stroke="#000" stroke-width="1.3"/>
<circle cx="1392.3" cy="1446.8" r="5.2" fill="#fff" stroke="#000" stroke-width="1.3"/>
<circle cx="1387.1" cy="1437.6" r="8.2" fill="#ff0000" stroke="#000" stroke-width="1.4"/>
<circle cx="1382.5" cy="1447.7" r="5.2" fill="#fff" stroke="#000" stroke-width="1.3"/>
<circle cx="1547.1" cy="1446.8" r="5.2" fill="#fff" stroke="#000" stroke-width="1.3"/>
<circle cx="1541.9" cy="1437.6" r="8.2" fill="#ff0000" stroke="#000" stroke-width="1.4"/>
<circle cx="1537.3" cy="1447.7" r="5.2" fill="#fff" stroke="#000" stroke-width="1.3"/>
<circle cx="1235.6" cy="1514" r="5.2" fill="#fff" stroke="#000" stroke-width="1.3"/>
<circle cx="1230.4" cy="1504.8" r="8.2" fill="#ff0000" stroke="#000" stroke-width="1.4"/>
<circle cx="1225.8" cy="1514.9" r="5.2" fill="#fff" stroke="#000" stroke-width="1.3"/>
<circle cx="1392.3" cy="1514" r="5.2" fill="#fff" stroke="#000" stroke-width="1.3"/>
<circle cx="1387.1" cy="1504.8" r="8.2" fill="#ff0000" stroke="#000" stroke-width="1.4"/>
<circle cx="1382.5" cy="1514.9" r="5.2" fill="#fff" stroke="#000" stroke-width="1.3"/>
<text x="1256.5" y="1452.9" font-size="34.2">OH-1</text>
<text x="1413.8" y="1452.9" font-size="34.2">OH-2</text>
<text x="1566.5" y="1452.9" font-size="34.2">OH-3</text>
<text x="1256.5" y="1519.1" font-size="34.2">OH-4</text>
<text x="1413.8" y="1519.1" font-size="34.2">OH-5</text>
<text x="1580" y="1519.1" font-size="34.2">HB</text>
<path d="M1545,1507 L1562,1507" stroke="#173817" stroke-width="5" stroke-dasharray="7 3"/>
<line x1="232.3" y1="1513.6" x2="232.3" y2="1536.6" stroke="#000" stroke-width="3.2"/>
<path d="M232.3,1507.6 L238,1518.4 L226.6,1518.4 Z" fill="#000"/>
<path d="M232.3,1542.6 L226.6,1531.8 L238,1531.8 Z" fill="#000"/>
<line x1="862.5" y1="1477" x2="862.5" y2="1524" stroke="#000" stroke-width="3.2"/>
<path d="M862.5,1471 L868.2,1481.8 L856.8,1481.8 Z" fill="#000"/>
<path d="M862.5,1530 L856.8,1519.2 L868.2,1519.2 Z" fill="#000"/>
</svg>
</body></html>
